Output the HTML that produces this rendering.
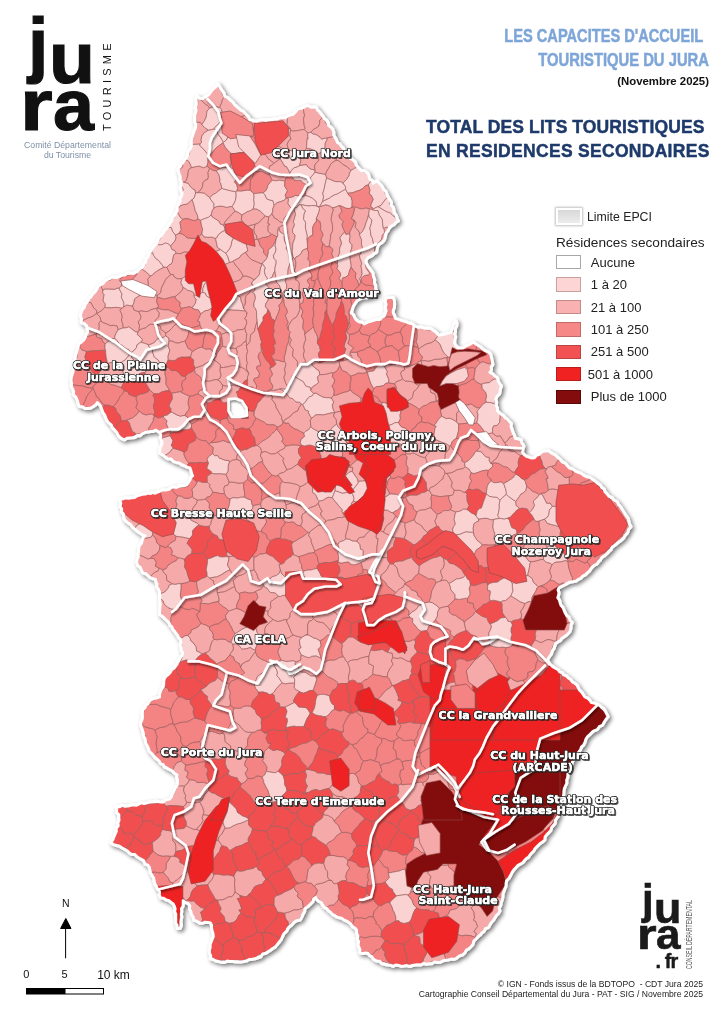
<!DOCTYPE html>
<html><head><meta charset="utf-8"><style>
html,body{margin:0;padding:0;background:#fff}
body{width:724px;height:1024px;position:relative;overflow:hidden;font-family:"Liberation Sans",Arial,sans-serif}
.a{position:absolute;white-space:nowrap}
</style></head><body>
<svg width="724" height="1024" viewBox="0 0 724 1024" style="position:absolute;left:0;top:0">
<defs>
<filter id="sh" x="-10%" y="-10%" width="120%" height="120%"><feGaussianBlur in="SourceAlpha" stdDeviation="2.2"/><feOffset dx="1.8" dy="2.4"/><feComponentTransfer><feFuncA type="linear" slope="0.55"/></feComponentTransfer><feMerge><feMergeNode/><feMergeNode in="SourceGraphic"/></feMerge></filter>
<filter id="sh2" x="-10%" y="-10%" width="120%" height="120%"><feGaussianBlur in="SourceAlpha" stdDeviation="1.2"/><feOffset dx="1" dy="1.5"/><feComponentTransfer><feFuncA type="linear" slope="0.5"/></feComponentTransfer><feMerge><feMergeNode/><feMergeNode in="SourceGraphic"/></feMerge></filter>
<polygon id="ol" points="217.5,84.0 219.6,86.9 221.4,90.0 223.6,93.1 224.8,96.6 227.6,97.8 229.7,100.0 232.5,102.2 234.7,105.0 238.0,108.0 240.2,110.1 243.0,111.5 246.3,115.0 248.3,117.1 249.6,119.8 252.2,120.4 254.6,121.4 257.4,121.2 260.1,120.4 262.9,119.8 266.2,120.6 269.5,119.8 272.8,119.8 275.3,119.2 277.8,119.2 280.2,118.0 282.8,118.1 285.5,118.0 287.7,116.2 290.2,115.4 292.7,114.8 295.1,112.8 297.0,110.4 299.0,108.7 301.6,108.5 304.0,107.7 306.0,106.0 308.5,106.1 310.9,107.6 313.5,107.3 316.0,107.6 317.2,110.1 319.2,112.0 320.9,114.2 322.7,116.2 324.0,118.7 326.4,120.4 327.9,122.8 328.5,125.8 330.8,127.5 332.6,129.7 333.5,132.4 333.5,135.4 335.0,138.0 336.3,140.2 337.3,142.7 339.7,144.1 341.0,146.3 343.2,148.4 343.9,151.6 346.7,153.2 348.0,156.0 350.0,158.4 352.6,160.1 355.0,162.0 355.8,164.7 357.3,166.9 359.3,168.9 361.0,171.0 363.7,170.7 366.0,172.0 368.1,173.9 368.8,176.6 369.7,179.3 372.2,180.9 373.0,183.6 377.0,181.0 378.7,183.1 380.8,185.0 382.2,187.4 383.5,189.8 385.8,191.9 386.9,194.8 388.1,197.6 389.7,200.2 391.1,202.5 390.9,205.3 393.0,207.4 393.6,210.0 393.9,212.6 395.7,215.2 396.8,218.1 398.0,220.9 395.5,222.3 393.7,224.7 391.0,225.9 389.0,228.0 387.5,231.0 385.6,233.5 385.2,236.6 384.1,239.7 381.9,242.2 379.2,243.9 377.5,246.6 376.8,249.3 376.4,252.1 373.9,253.4 372.0,255.4 367.6,257.6 365.4,260.9 366.3,263.8 367.6,266.5 369.4,268.6 370.9,270.9 372.7,273.4 373.1,276.4 374.3,279.6 374.2,283.0 375.3,285.7 375.3,288.6 376.5,291.2 376.5,294.0 373.5,295.8 370.0,296.5 367.4,297.4 364.7,297.2 362.1,297.7 357.7,299.9 355.9,301.8 354.5,304.0 353.0,306.2 352.2,308.7 351.0,313.1 353.2,314.9 354.4,317.6 356.2,320.2 358.8,322.0 361.8,322.6 364.3,324.2 368.7,322.0 373.1,320.9 376.3,319.6 379.8,319.8 381.8,317.8 384.2,316.5 385.4,313.8 386.4,310.9 385.6,307.6 386.4,304.3 385.6,301.6 385.9,298.8 388.6,297.7 393.0,297.7 394.1,301.0 394.3,304.3 394.1,307.6 393.0,310.2 393.0,313.1 394.3,315.8 395.2,318.7 398.6,319.7 401.9,320.9 405.3,321.8 408.5,323.1 412.1,324.1 415.1,326.4 417.8,327.5 420.7,327.3 423.8,328.5 427.1,328.6 430.4,328.7 434.5,331.4 436.7,333.4 438.7,335.6 442.1,334.8 445.6,334.2 448.3,333.2 451.1,332.8 452.4,329.4 453.2,325.9 454.5,323.2 455.2,320.4 456.6,323.1 456.5,325.9 455.0,328.5 455.2,331.4 454.6,334.1 455.3,337.0 454.6,339.7 454.3,342.5 455.2,345.2 458.0,348.0 460.8,348.3 463.5,348.0 466.0,346.2 469.0,345.2 473.2,342.5 477.3,345.2 480.3,347.0 482.9,349.4 485.4,351.2 488.4,352.2 490.5,354.6 491.2,357.7 492.0,361.1 492.5,364.6 491.0,367.1 491.2,370.0 489.6,372.5 492.5,374.1 494.8,376.4 497.4,378.3 498.0,381.2 499.3,383.8 501.2,386.1 500.1,388.5 499.9,391.2 499.3,393.8 496.7,396.3 495.4,399.6 496.3,402.4 495.7,405.4 497.0,408.1 497.3,411.0 499.1,412.9 501.1,414.5 503.4,415.7 504.9,417.9 507.0,419.3 508.9,421.5 511.1,423.5 510.7,426.4 511.7,429.1 512.5,431.8 514.0,435.2 515.2,438.7 518.0,439.1 520.8,440.0 521.5,443.1 523.5,445.6 523.1,449.1 522.2,452.5 524.0,454.8 526.3,456.6 529.0,457.4 531.7,458.4 534.6,458.0 536.6,455.7 539.4,454.6 541.5,452.5 544.8,451.2 548.4,451.1 550.6,452.7 552.9,454.1 555.3,455.2 557.4,457.6 560.0,459.4 561.9,462.1 565.1,463.4 567.1,465.9 569.5,468.3 572.8,469.3 575.4,471.4 578.2,472.6 581.2,473.6 583.6,475.7 586.4,477.0 589.6,477.6 592.1,479.4 594.7,481.1 597.3,483.4 600.2,485.2 601.5,487.7 604.0,489.3 604.8,492.2 606.9,494.0 608.5,496.3 611.6,497.7 613.8,500.3 616.8,501.8 618.3,504.8 620.5,507.3 622.3,510.1 624.1,512.9 625.8,515.8 627.8,518.4 628.5,521.2 629.2,524.1 630.6,526.7 628.4,529.2 627.4,532.5 625.1,535.0 623.6,537.7 621.5,539.7 619.1,541.5 616.8,543.3 614.6,545.2 612.1,546.8 610.7,549.6 608.5,551.5 606.6,553.7 604.3,555.6 601.7,557.2 600.2,559.8 598.3,561.5 596.8,563.8 594.4,565.0 592.2,566.6 590.7,568.7 589.2,570.9 587.1,572.7 585.1,574.7 582.6,575.9 580.7,578.1 578.1,579.2 575.6,580.9 572.6,581.5 569.6,581.9 566.9,583.3 564.3,584.7 561.6,586.2 558.8,587.5 557.7,589.9 558.7,592.7 558.3,595.2 557.5,597.7 559.1,600.0 559.9,602.8 560.7,605.5 562.7,607.6 563.8,610.2 564.9,613.0 566.4,615.6 568.8,617.6 569.8,620.5 572.0,622.6 570.7,625.2 570.7,628.1 570.0,630.9 568.3,633.1 566.4,635.0 564.1,636.6 561.8,638.0 560.2,640.4 557.8,641.8 555.5,643.3 554.5,645.9 553.7,648.6 552.0,650.9 551.3,653.7 549.1,656.7 547.2,659.9 548.4,662.1 549.8,664.2 551.6,666.0 553.6,667.5 555.8,668.8 558.1,670.0 559.6,672.2 562.1,673.0 563.6,675.2 566.3,676.2 568.2,678.3 570.6,679.8 572.2,682.2 574.7,683.5 576.9,685.4 578.1,687.9 579.4,690.4 581.5,692.3 583.0,694.6 584.7,697.1 587.6,698.3 589.6,700.4 591.3,702.9 594.2,703.4 596.9,704.5 599.6,705.6 601.4,707.5 603.7,709.0 605.1,711.2 606.4,714.0 607.8,716.7 605.7,719.3 603.9,722.1 602.3,725.0 599.2,726.4 597.2,729.3 594.0,730.5 591.7,732.3 589.6,734.4 587.4,736.3 585.7,738.8 584.9,741.8 583.6,744.6 581.2,746.8 580.2,749.8 578.1,752.4 577.0,755.7 574.7,758.1 572.7,760.6 571.6,763.5 570.4,766.3 569.2,769.2 568.0,771.8 567.6,774.7 567.4,777.5 566.4,780.2 566.5,783.2 565.3,785.8 564.1,788.5 563.6,791.3 563.5,794.2 562.8,796.9 562.3,799.7 560.9,802.3 560.2,805.1 558.7,807.6 558.4,810.5 558.1,813.4 558.0,816.1 556.4,818.2 555.0,820.4 555.0,823.1 553.4,825.2 551.4,827.3 550.6,830.2 548.7,832.4 546.6,834.4 544.9,836.7 544.5,839.8 542.3,841.8 540.1,843.2 538.2,845.0 536.4,846.9 534.6,848.9 533.3,851.2 531.3,852.9 529.7,855.0 528.2,857.1 525.9,858.5 524.2,860.5 522.5,862.5 520.2,863.9 517.6,865.4 515.6,867.6 513.6,869.7 511.9,872.2 510.4,875.2 508.8,878.1 506.4,880.5 505.8,883.3 505.7,886.2 504.6,888.8 503.6,891.5 502.7,894.2 502.6,897.1 501.9,899.9 500.9,902.6 500.5,905.4 498.9,908.0 499.6,911.1 498.1,913.6 496.0,915.5 494.6,917.9 493.1,920.2 491.2,922.3 489.8,924.7 488.3,927.4 485.2,928.4 483.8,931.2 481.5,933.0 479.8,935.0 477.8,936.7 476.0,938.5 473.6,940.9 472.7,944.3 470.5,946.8 468.6,948.6 466.2,949.8 465.0,952.3 462.5,954.6 459.3,955.7 456.7,957.8 454.1,959.0 451.2,958.8 448.4,959.6 445.6,959.9 442.9,960.6 440.3,962.0 437.5,962.2 434.5,961.6 432.0,963.4 429.1,963.4 426.4,964.0 423.5,963.1 420.8,964.7 418.0,964.4 415.2,964.8 412.5,965.2 409.8,966.2 406.9,965.3 404.2,965.8 401.4,966.1 398.7,965.1 396.0,964.7 393.0,966.1 390.4,964.9 387.6,964.8 384.7,964.0 381.9,963.3 379.6,960.9 376.6,960.6 374.0,959.3 372.3,956.8 369.8,955.3 368.0,953.0 365.3,952.7 362.6,953.3 360.0,952.6 360.3,949.8 359.1,947.1 358.3,944.4 359.0,941.5 357.5,938.9 358.2,936.0 356.9,933.3 357.0,930.5 355.4,928.0 352.7,926.7 351.2,924.1 349.0,922.2 346.8,920.8 344.2,919.8 342.1,918.1 339.5,917.4 336.9,916.8 334.7,915.1 332.3,914.0 330.7,911.9 328.5,910.4 326.8,908.4 324.4,907.1 322.8,905.0 321.6,902.5 319.2,901.2 317.1,899.6 315.7,897.3 313.5,898.8 312.6,901.6 310.8,903.4 308.9,905.3 306.9,906.9 304.7,908.4 304.3,911.6 302.7,914.2 301.6,917.1 300.0,919.8 296.4,920.5 293.4,922.6 291.8,924.7 289.6,926.2 287.8,928.1 286.3,931.1 283.8,933.4 282.3,936.4 281.0,939.6 278.9,942.1 276.8,944.7 275.0,946.9 272.6,948.3 270.4,950.0 268.0,951.4 265.7,953.0 262.6,953.7 260.6,956.5 257.7,957.6 254.7,958.5 251.9,959.0 249.0,959.3 246.4,960.8 243.6,961.3 240.8,961.6 238.1,961.6 235.3,961.5 232.6,961.2 229.8,961.3 227.1,960.8 224.3,962.2 221.6,961.9 218.8,961.3 215.9,960.8 213.3,959.2 210.5,958.5 211.0,955.8 209.7,953.0 209.6,950.2 210.5,947.5 210.4,944.6 211.5,941.9 212.5,939.2 213.6,936.5 213.3,933.6 212.4,930.9 211.8,928.1 211.9,925.2 210.5,922.6 207.7,922.1 204.9,921.9 202.2,923.0 199.4,922.6 196.8,920.9 193.9,919.8 193.5,916.9 191.7,914.4 191.2,911.5 189.8,908.9 190.1,905.8 188.4,903.3 185.4,902.3 182.9,900.5 182.9,903.3 182.9,906.1 181.2,908.7 181.5,911.5 181.0,914.2 181.5,917.1 180.9,919.8 180.7,922.6 181.2,925.4 180.1,928.1 177.3,928.1 177.4,925.3 175.9,922.7 176.1,919.9 176.0,917.1 176.1,914.3 174.9,911.6 175.4,908.7 174.6,906.0 173.3,903.7 171.2,902.1 169.1,900.5 166.3,899.7 163.8,897.9 160.8,897.7 159.6,895.0 159.8,891.9 158.0,889.4 156.8,886.6 155.2,883.9 154.4,881.1 154.0,878.2 152.5,875.6 150.9,873.1 150.3,870.2 149.7,867.3 148.0,864.9 145.0,863.8 144.0,860.6 141.4,859.1 139.1,857.8 136.8,856.3 135.0,854.2 131.8,854.2 129.5,852.9 127.6,850.8 124.9,849.3 122.2,847.8 119.6,846.0 116.6,845.2 113.6,844.3 111.0,842.5 113.0,840.0 114.1,837.1 115.3,834.2 116.6,831.4 116.4,828.4 118.5,826.0 118.1,823.0 119.3,820.4 119.1,817.6 119.1,814.7 116.8,812.3 117.0,809.4 116.6,806.6 119.4,807.1 122.1,805.7 124.9,806.5 127.7,806.2 130.4,805.7 133.1,805.1 136.0,805.5 138.7,804.5 141.3,803.0 144.3,803.8 147.0,803.2 149.7,802.3 152.5,802.1 155.2,801.6 158.0,801.9 160.7,802.3 163.5,802.3 166.0,800.1 169.5,799.4 171.8,796.8 172.6,793.8 174.2,791.1 175.3,788.2 177.3,785.7 177.7,783.0 177.9,780.2 176.9,777.5 177.3,774.7 174.5,773.0 172.2,770.5 169.1,769.2 167.1,767.7 164.7,766.8 163.4,764.3 160.8,763.6 159.6,761.2 157.7,759.3 155.4,757.5 153.5,755.2 151.5,753.1 149.4,751.0 148.8,748.4 147.7,746.1 146.3,743.8 145.8,741.2 145.3,738.6 143.8,736.3 143.7,733.6 143.0,731.1 142.2,728.6 141.2,726.2 140.8,723.3 142.0,720.7 142.7,718.0 142.7,715.1 142.6,712.3 143.2,709.6 145.2,707.8 146.2,705.3 148.3,703.7 149.4,701.3 151.7,699.5 154.3,698.6 157.2,698.2 159.8,697.2 159.8,694.2 160.7,691.5 161.9,688.9 163.5,686.7 164.0,684.1 164.0,681.3 164.5,678.8 166.0,676.5 168.4,674.7 170.4,672.6 171.8,669.9 174.3,668.2 175.8,666.2 177.3,664.2 177.8,661.5 179.3,659.5 180.5,657.3 182.6,655.7 182.9,652.9 181.5,650.2 181.3,647.5 180.4,644.8 181.1,641.9 180.5,639.2 178.7,637.4 177.8,635.0 176.1,633.1 174.7,631.0 172.9,629.2 172.2,626.7 170.2,625.2 169.2,622.6 167.4,620.8 165.6,619.1 163.8,617.4 162.0,615.7 159.8,614.3 160.0,611.7 160.0,609.1 160.2,606.5 160.6,604.0 160.0,601.4 159.9,598.8 160.2,596.2 159.8,593.6 159.7,591.0 158.5,588.8 156.9,586.6 157.3,583.9 156.1,581.6 155.7,579.1 152.9,578.5 150.3,577.4 148.2,575.3 146.1,573.4 143.2,572.9 141.7,570.2 140.6,567.4 138.0,565.4 137.0,562.5 137.1,559.6 138.6,556.8 138.5,553.8 139.0,551.0 139.0,548.0 139.9,545.4 141.8,543.2 142.5,540.4 143.6,537.8 145.3,535.6 142.5,534.5 140.0,532.8 137.5,531.2 135.3,529.1 132.9,527.3 131.3,524.8 128.8,523.1 126.5,521.2 124.6,519.0 124.0,516.4 123.6,513.8 121.7,511.7 122.0,508.8 120.4,506.6 121.1,503.2 120.0,500.0 122.9,499.2 125.7,498.2 128.7,498.5 131.5,498.1 134.4,497.9 136.9,496.2 139.7,495.4 142.4,494.6 145.3,494.4 147.7,493.3 150.3,493.9 152.7,492.8 155.4,493.5 157.7,492.3 160.3,491.3 162.7,490.1 165.6,490.2 168.4,489.9 170.8,488.3 173.4,487.0 176.5,487.8 179.1,486.5 181.9,486.0 184.7,485.7 187.3,484.2 188.8,482.2 190.2,480.1 191.0,477.6 192.9,475.9 191.8,473.2 191.1,470.3 190.1,467.6 187.2,466.9 184.5,465.5 181.7,464.5 179.3,462.6 176.3,462.1 173.4,461.0 171.1,458.7 167.8,458.4 165.2,456.6 162.7,454.6 159.8,453.0 160.2,450.5 160.3,447.9 161.6,445.6 162.3,443.1 161.9,440.5 160.5,437.9 161.0,434.8 159.8,432.2 155.7,429.7 153.3,431.1 150.6,431.2 147.9,431.6 144.9,432.2 142.3,433.5 140.1,435.5 137.3,435.4 135.0,437.1 132.3,437.5 129.6,437.7 126.9,438.0 124.5,439.5 121.1,438.1 118.6,435.5 117.1,432.5 115.0,430.1 112.7,427.7 111.4,424.6 108.8,422.6 106.9,419.9 105.8,417.2 104.7,414.5 103.0,412.1 102.0,409.2 101.0,406.3 99.3,404.0 97.1,402.3 95.5,404.7 93.2,406.3 90.8,407.7 88.1,408.1 85.4,408.2 82.7,406.4 79.5,406.3 78.4,403.4 77.6,400.4 76.2,397.1 73.7,394.5 73.9,391.7 73.1,389.1 71.7,386.7 71.8,383.5 71.3,380.2 71.7,377.0 72.4,374.6 73.2,372.2 73.6,369.7 73.7,367.2 73.5,364.4 74.2,361.8 75.6,359.4 75.3,356.8 76.2,354.4 76.9,352.0 77.6,349.6 78.3,346.6 79.5,343.8 81.8,342.2 83.8,340.2 85.4,337.9 86.3,334.8 88.0,332.0 87.4,329.1 87.3,326.2 84.8,323.7 81.5,322.3 81.8,319.0 80.7,315.8 81.5,312.5 82.5,309.8 84.6,307.6 85.4,304.7 87.4,302.1 88.9,299.2 91.3,296.9 93.1,294.2 95.4,291.9 97.1,289.1 98.6,286.7 100.7,284.9 103.4,283.7 104.9,281.3 107.4,279.8 110.0,278.5 112.7,277.3 115.8,277.7 118.7,277.2 121.5,275.5 124.5,275.4 127.0,273.8 129.8,273.3 132.9,273.9 135.5,272.6 138.1,271.5 139.3,269.2 141.8,268.0 143.3,266.0 144.6,263.9 145.9,261.7 146.3,259.0 148.3,257.0 149.0,254.5 150.2,252.1 151.8,250.0 153.1,247.8 154.5,245.7 156.7,244.1 157.4,241.5 158.5,239.2 159.9,237.1 161.9,235.4 163.5,232.9 164.9,230.2 167.4,228.3 168.7,225.6 170.2,223.0 172.1,220.6 172.8,217.5 175.0,215.3 176.4,212.6 177.6,209.9 177.4,206.8 178.9,204.2 180.3,201.6 180.3,198.6 181.8,196.0 182.4,193.2 180.8,190.5 180.5,187.8 181.3,184.9 181.6,182.1 180.5,179.4 180.5,176.7 179.6,174.2 178.7,171.7 178.5,169.0 179.6,166.7 180.9,164.5 183.0,163.0 184.4,160.2 186.6,157.9 187.9,155.2 188.4,152.2 190.0,149.6 191.7,146.5 191.6,143.0 191.6,140.1 192.3,137.4 193.3,134.7 194.3,131.3 195.7,128.0 196.1,124.6 194.9,121.4 194.9,118.6 194.9,115.9 195.7,113.2 196.4,110.5 195.6,107.6 196.6,104.9 196.5,102.1 196.1,99.4 196.6,96.6 199.5,98.6 203.0,99.0 205.9,96.9 209.0,94.9 211.5,91.6 213.5,89.1 216.1,87.0"/>
<clipPath id="clip"><use href="#ol"/></clipPath>
</defs>
<use href="#ol" fill="#f6a9a9" stroke="#fff" stroke-width="3.6" stroke-linejoin="round" filter="url(#sh)"/>
<g clip-path="url(#clip)">
<polygon points="93.0,388.5 92.6,387.6 90.0,387.9 86.0,387.1 82.9,385.9 81.7,385.6 78.9,385.6 74.1,384.9 71.4,383.9 70.7,387.2 73.7,389.8 73.2,394.8 75.2,398.7 77.4,400.2 79.7,404.8 81.1,408.2 81.4,408.1 83.0,405.4 84.1,402.7 85.3,400.7 86.3,397.7 88.6,393.6 91.6,390.4" fill="#f48383" stroke="#9c6262" stroke-opacity="0.85" stroke-width="0.8"/>
<polygon points="83.4,365.0 86.2,361.2 84.9,356.8 86.0,353.3 86.9,351.5 82.0,349.9 79.9,346.7 81.2,343.1 80.4,343.7 77.7,347.3 76.1,350.4 77.3,352.7 77.5,355.5 76.0,359.7 74.4,362.9 73.3,365.9 73.2,367.0 77.9,365.5 81.2,365.9" fill="#f6a9a9" stroke="#9c6262" stroke-opacity="0.85" stroke-width="0.8"/>
<polygon points="96.2,334.1 99.0,329.8 99.3,326.1 98.9,323.2 101.1,320.5 99.9,316.7 96.7,313.5 96.7,313.5 95.3,314.1 93.0,316.0 90.0,317.3 88.4,317.6 85.3,319.2 81.3,321.2 80.8,322.9 82.2,325.5 88.0,325.8 87.1,332.0 85.4,336.5 88.7,336.3 93.4,334.8" fill="#f6a9a9" stroke="#9c6262" stroke-opacity="0.85" stroke-width="0.8"/>
<polygon points="133.9,837.2 133.8,835.7 131.7,833.1 127.5,833.7 123.9,833.0 123.1,830.3 121.3,828.1 119.1,825.3 115.5,831.8 114.8,834.1 114.5,836.4 111.9,840.1 109.3,844.2 113.2,844.4 117.5,844.2 121.0,846.4 125.2,847.9 126.4,848.1 130.9,844.5 131.1,844.8 131.0,843.0" fill="#f14f4f" stroke="#9c6262" stroke-opacity="0.85" stroke-width="0.8"/>
<polygon points="93.0,388.5 95.3,393.1 96.2,396.4 97.9,397.4 100.9,401.4 102.9,404.2 105.1,405.3 108.1,405.2 110.6,406.1 113.3,406.7 116.1,403.6 118.8,399.3 120.0,396.7 122.3,394.3 124.3,390.6 121.2,387.6 118.8,386.7 115.0,385.2 111.6,384.6 110.2,383.9 107.8,381.9 104.0,380.4 101.4,380.7 99.3,380.3 97.0,382.5 93.9,385.4 92.6,387.6" fill="#f48383" stroke="#9c6262" stroke-opacity="0.85" stroke-width="0.8"/>
<polygon points="83.4,365.0 81.2,365.9 77.9,365.5 73.2,367.0 72.7,372.0 71.8,376.0 71.3,377.5 72.7,379.2 71.4,383.9 74.1,384.9 78.9,385.6 81.7,385.6 82.9,385.9 86.0,387.1 90.0,387.9 92.6,387.6 93.9,385.4 97.0,382.5 99.3,380.3 98.5,377.0 98.1,374.5 95.2,374.3 92.1,371.5 90.1,367.2 86.1,365.8" fill="#f48383" stroke="#9c6262" stroke-opacity="0.85" stroke-width="0.8"/>
<polygon points="98.1,374.5 99.7,371.9 101.8,368.7 103.0,366.9 104.7,365.6 107.6,363.3 106.2,357.3 105.7,352.7 105.6,350.5 102.0,350.2 97.5,350.6 93.5,350.6 89.9,351.0 86.9,351.5 86.0,353.3 84.9,356.8 86.2,361.2 83.4,365.0 86.1,365.8 90.1,367.2 92.1,371.5 95.2,374.3" fill="#f14f4f" stroke="#9c6262" stroke-opacity="0.85" stroke-width="0.8"/>
<polygon points="96.7,313.5 101.2,311.0 104.9,307.3 105.4,303.9 103.1,301.0 103.5,297.8 104.2,294.5 102.6,292.7 102.9,290.2 101.0,286.1 97.2,289.8 95.4,292.5 92.9,295.3 90.1,297.3 89.0,299.0 87.7,301.9 91.3,303.1 92.6,306.1 93.9,308.2 96.6,310.5 96.7,313.5" fill="#f6a9a9" stroke="#9c6262" stroke-opacity="0.85" stroke-width="0.8"/>
<polygon points="96.7,313.5 96.6,310.5 93.9,308.2 92.6,306.1 91.3,303.1 87.7,301.9 85.5,304.5 84.5,307.2 81.8,312.5 80.6,317.8 81.3,321.2 85.3,319.2 88.4,317.6 90.0,317.3 93.0,316.0 95.3,314.1" fill="#f6a9a9" stroke="#9c6262" stroke-opacity="0.85" stroke-width="0.8"/>
<polygon points="96.2,334.1 96.5,336.9 101.7,338.8 103.1,342.0 105.1,343.8 109.7,340.6 112.4,338.7 114.9,338.3 114.7,337.2 115.5,334.3 118.2,329.7 117.1,325.9 113.3,325.2 110.4,325.6 106.9,323.9 102.0,322.2 101.1,320.5 98.9,323.2 99.3,326.1 99.0,329.8" fill="#f6a9a9" stroke="#9c6262" stroke-opacity="0.85" stroke-width="0.8"/>
<polygon points="144.5,515.6 144.9,513.2 144.7,509.3 139.9,507.8 137.1,506.6 135.4,506.1 131.7,506.1 127.3,505.2 125.3,503.2 123.4,502.5 120.1,503.9 121.1,505.8 120.9,511.3 122.2,514.2 124.2,514.6 123.7,517.8 128.8,522.4 130.4,526.2 133.9,528.1 135.2,528.3 136.6,525.7 139.7,523.8 142.2,520.0" fill="#f6a9a9" stroke="#9c6262" stroke-opacity="0.85" stroke-width="0.8"/>
<polygon points="105.1,405.3 102.9,404.2 100.9,401.4 97.9,397.4 96.2,396.4 95.3,393.1 93.0,388.5 91.6,390.4 88.6,393.6 86.3,397.7 85.3,400.7 84.1,402.7 83.0,405.4 81.4,408.1 84.6,406.9 90.0,407.8 93.3,407.8 99.2,402.8 101.9,406.0 102.0,407.3" fill="#f48383" stroke="#9c6262" stroke-opacity="0.85" stroke-width="0.8"/>
<polygon points="99.3,380.3 101.4,380.7 104.0,380.4 107.8,381.9 110.2,383.9 111.6,384.6 115.0,385.2 118.8,386.7 121.2,387.6 122.9,384.4 125.4,381.2 123.5,377.5 122.8,376.0 123.6,372.9 121.3,368.8 120.7,366.4 120.5,363.2 116.1,362.6 112.8,362.3 110.8,362.6 107.6,363.3 104.7,365.6 103.0,366.9 101.8,368.7 99.7,371.9 98.1,374.5 98.5,377.0" fill="#f6a9a9" stroke="#9c6262" stroke-opacity="0.85" stroke-width="0.8"/>
<polygon points="86.9,351.5 89.9,351.0 93.5,350.6 97.5,350.6 102.0,350.2 105.6,350.5 104.9,347.9 105.1,343.8 103.1,342.0 101.7,338.8 96.5,336.9 96.2,334.1 93.4,334.8 88.7,336.3 85.4,336.5 86.3,337.8 84.0,340.1 81.2,343.1 79.9,346.7 82.0,349.9" fill="#f48383" stroke="#9c6262" stroke-opacity="0.85" stroke-width="0.8"/>
<polygon points="105.6,350.5 105.7,352.7 106.2,357.3 107.6,363.3 110.8,362.6 112.8,362.3 116.1,362.6 120.5,363.2 122.6,361.5 125.0,360.1 128.4,356.1 130.8,352.6 128.6,349.2 128.1,349.6 125.0,347.8 121.6,345.1 119.5,344.3 117.6,341.1 114.9,338.3 112.4,338.7 109.7,340.6 105.1,343.8 104.9,347.9" fill="#fad2d2" stroke="#9c6262" stroke-opacity="0.85" stroke-width="0.8"/>
<polygon points="104.9,307.3 106.7,307.7 111.4,307.9 115.7,307.3 118.7,307.8 122.0,308.3 123.9,306.8 123.8,302.4 121.3,297.2 122.0,293.9 120.4,291.1 119.0,288.0 116.7,288.3 114.8,289.3 109.6,289.0 105.0,288.9 102.9,290.2 102.6,292.7 104.2,294.5 103.5,297.8 103.1,301.0 105.4,303.9" fill="#fad2d2" stroke="#9c6262" stroke-opacity="0.85" stroke-width="0.8"/>
<polygon points="201.9,124.5 204.2,121.2 206.3,116.9 206.7,113.1 207.1,110.9 209.7,108.2 207.9,105.7 204.3,103.3 203.0,101.6 198.9,98.5 195.2,97.6 197.8,100.0 197.5,106.0 194.8,109.6 196.8,111.7 195.4,116.9 193.5,121.5 194.0,122.2 200.2,122.4" fill="#f6a9a9" stroke="#9c6262" stroke-opacity="0.85" stroke-width="0.8"/>
<polygon points="96.7,313.5 99.9,316.7 101.1,320.5 102.0,322.2 106.9,323.9 110.4,325.6 113.3,325.2 117.1,325.9 118.2,329.7 123.4,327.8 122.6,323.2 121.4,320.0 122.3,317.2 121.5,313.4 119.9,310.4 122.0,308.3 118.7,307.8 115.7,307.3 111.4,307.9 106.7,307.7 104.9,307.3 101.2,311.0" fill="#f6a9a9" stroke="#9c6262" stroke-opacity="0.85" stroke-width="0.8"/>
<polygon points="127.1,811.0 127.6,806.0 123.1,807.0 120.7,806.6 117.4,806.6 116.5,810.1 116.3,813.1 117.7,816.6 118.8,819.1 121.1,816.7 123.7,814.3 124.9,813.0" fill="#f14f4f" stroke="#9c6262" stroke-opacity="0.85" stroke-width="0.8"/>
<polygon points="102.0,407.3 102.4,411.6 106.7,415.9 105.3,420.6 110.1,422.2 113.0,424.9 113.0,428.8 113.4,429.4 115.7,426.6 118.7,423.0 120.7,421.5 121.4,420.8 121.2,419.4 120.2,415.6 116.5,411.3 115.6,408.1 113.3,406.7 110.6,406.1 108.1,405.2 105.1,405.3" fill="#f14f4f" stroke="#9c6262" stroke-opacity="0.85" stroke-width="0.8"/>
<polygon points="113.4,429.4 115.6,431.8 115.8,433.2 118.2,434.0 121.4,436.7 123.4,440.3 128.6,438.2 131.8,436.8 136.3,434.0 134.4,432.5 132.3,431.4 131.3,428.3 130.2,425.9 129.6,423.1 127.1,420.2 121.4,420.8 120.7,421.5 118.7,423.0 115.7,426.6" fill="#f14f4f" stroke="#9c6262" stroke-opacity="0.85" stroke-width="0.8"/>
<polygon points="150.3,276.0 152.2,275.2 155.0,272.6 158.6,270.1 160.7,269.0 164.5,267.0 163.3,266.9 162.0,264.6 158.6,260.5 155.9,258.5 153.6,255.4 153.0,253.2 152.1,253.1 151.5,253.2 147.9,253.9 144.7,257.7 145.1,262.5 145.5,264.8 143.0,266.3 140.2,268.9 142.2,269.4 145.8,271.8" fill="#fad2d2" stroke="#9c6262" stroke-opacity="0.85" stroke-width="0.8"/>
<polygon points="170.7,245.9 175.0,241.0 176.1,237.6 175.4,234.9 172.7,231.5 171.3,227.4 167.8,227.8 166.2,229.6 163.6,231.3 162.1,234.3 160.3,238.8 158.0,241.5 155.5,243.8 158.7,245.0 162.2,244.6 165.4,243.1 167.7,243.6" fill="#fad2d2" stroke="#9c6262" stroke-opacity="0.85" stroke-width="0.8"/>
<polygon points="102.9,290.2 105.0,288.9 109.6,289.0 114.8,289.3 116.7,288.3 119.0,288.0 121.9,285.7 121.6,282.8 119.6,280.7 120.7,278.0 118.2,278.0 114.2,277.5 110.5,280.1 104.3,280.6 102.3,282.2 101.0,286.1" fill="#f6a9a9" stroke="#9c6262" stroke-opacity="0.85" stroke-width="0.8"/>
<polygon points="183.5,182.3 186.2,180.6 187.7,175.9 188.4,170.7 189.9,168.5 191.6,167.6 190.8,165.5 189.0,161.5 184.8,158.9 182.9,162.5 182.6,167.4 179.6,169.2 177.1,170.7 179.9,174.8 181.2,179.9 179.1,182.4" fill="#f6a9a9" stroke="#9c6262" stroke-opacity="0.85" stroke-width="0.8"/>
<polygon points="118.2,329.7 115.5,334.3 114.7,337.2 114.9,338.3 117.6,341.1 119.5,344.3 121.6,345.1 125.0,347.8 128.1,349.6 128.6,349.2 130.8,352.6 131.0,352.7 134.7,349.9 136.6,347.3 136.9,344.9 140.7,342.3 142.7,339.9 140.5,337.3 137.3,334.5 138.1,331.8 135.7,331.8 131.7,328.8 128.8,326.6 126.5,327.6 123.4,327.8" fill="#fad2d2" stroke="#9c6262" stroke-opacity="0.85" stroke-width="0.8"/>
<polygon points="122.0,308.3 119.9,310.4 121.5,313.4 122.3,317.2 121.4,320.0 122.6,323.2 123.4,327.8 126.5,327.6 128.8,326.6 131.7,328.8 135.7,331.8 138.1,331.8 139.1,330.3 139.5,325.5 138.2,321.6 140.2,319.7 141.1,316.5 138.8,311.6 136.0,310.7 134.3,310.3 132.5,306.1 126.6,304.9 123.9,306.8" fill="#f6a9a9" stroke="#9c6262" stroke-opacity="0.85" stroke-width="0.8"/>
<polygon points="113.3,406.7 115.6,408.1 116.5,411.3 120.2,415.6 121.2,419.4 121.4,420.8 127.1,420.2 130.1,418.9 132.5,418.0 137.0,414.4 139.3,411.0 136.0,407.9 136.3,406.6 137.6,403.2 136.3,399.2 136.3,396.5 132.6,395.7 128.8,394.2 128.6,392.2 124.3,390.6 122.3,394.3 120.0,396.7 118.8,399.3 116.1,403.6" fill="#f48383" stroke="#9c6262" stroke-opacity="0.85" stroke-width="0.8"/>
<polygon points="126.4,848.1 126.5,849.1 129.3,853.2 133.3,854.7 134.7,855.6 138.7,858.7 142.4,860.0 144.0,862.7 147.6,858.3 148.8,857.0 149.6,855.4 153.2,851.4 152.4,843.4 150.1,843.0 146.0,844.5 140.7,842.8 139.9,840.2 138.3,839.5 133.9,837.2 131.0,843.0 131.1,844.8 130.9,844.5" fill="#f14f4f" stroke="#9c6262" stroke-opacity="0.85" stroke-width="0.8"/>
<polygon points="120.5,363.2 120.7,366.4 121.3,368.8 123.6,372.9 122.8,376.0 123.5,377.5 125.4,381.2 129.3,379.6 132.0,377.6 133.6,377.1 136.8,376.0 139.1,373.9 140.9,373.1 144.8,372.6 145.5,371.9 145.7,369.7 142.3,366.8 139.1,364.7 138.4,362.6 133.9,360.1 132.1,357.7 131.0,352.7 130.8,352.6 128.4,356.1 125.0,360.1 122.6,361.5" fill="#fad2d2" stroke="#9c6262" stroke-opacity="0.85" stroke-width="0.8"/>
<polygon points="124.3,390.6 128.6,392.2 128.8,394.2 132.6,395.7 136.3,396.5 139.5,394.4 142.3,394.0 147.1,392.4 149.9,390.0 148.3,387.2 145.6,382.8 146.5,379.4 146.8,376.1 144.8,372.6 140.9,373.1 139.1,373.9 136.8,376.0 133.6,377.1 132.0,377.6 129.3,379.6 125.4,381.2 122.9,384.4 121.2,387.6" fill="#f14f4f" stroke="#9c6262" stroke-opacity="0.85" stroke-width="0.8"/>
<polygon points="119.0,288.0 120.4,291.1 122.0,293.9 121.3,297.2 123.8,302.4 123.9,306.8 126.6,304.9 132.5,306.1 134.0,302.7 134.6,299.0 137.7,296.7 140.5,295.0 141.7,292.3 139.1,289.8 136.1,287.6 134.9,286.6 130.8,283.3 126.2,282.9 123.5,284.3 121.9,285.7" fill="#fad2d2" stroke="#9c6262" stroke-opacity="0.85" stroke-width="0.8"/>
<polygon points="121.9,285.7 123.5,284.3 126.2,282.9 130.8,283.3 131.1,280.8 133.2,278.4 136.3,275.4 137.8,271.9 133.9,272.6 130.6,274.5 128.0,275.5 124.2,275.8 120.7,278.0 119.6,280.7 121.6,282.8" fill="#f48383" stroke="#9c6262" stroke-opacity="0.85" stroke-width="0.8"/>
<polygon points="118.8,819.1 119.4,820.1 119.1,825.3 121.3,828.1 123.1,830.3 123.9,833.0 127.5,833.7 131.7,833.1 133.8,835.7 135.2,832.6 136.6,831.0 140.5,827.6 142.6,823.8 142.6,821.6 142.4,816.4 139.2,815.7 135.8,814.8 133.8,812.5 130.8,811.0 127.1,811.0 124.9,813.0 123.7,814.3 121.1,816.7" fill="#f14f4f" stroke="#9c6262" stroke-opacity="0.85" stroke-width="0.8"/>
<polygon points="138.1,331.8 137.3,334.5 140.5,337.3 142.7,339.9 140.7,342.3 144.7,343.3 148.6,344.9 152.0,343.8 155.0,342.1 157.1,339.2 160.8,337.8 163.8,337.3 165.6,335.8 165.8,332.8 161.1,329.5 160.7,326.5 156.6,324.1 154.2,324.3 150.4,324.1 147.9,325.6 146.0,327.6 142.4,328.6 139.1,330.3" fill="#f6a9a9" stroke="#9c6262" stroke-opacity="0.85" stroke-width="0.8"/>
<polygon points="133.9,837.2 138.3,839.5 139.9,840.2 140.7,842.8 146.0,844.5 150.1,843.0 152.4,843.4 152.5,842.3 154.2,841.3 158.4,838.1 160.8,834.8 160.6,833.4 161.0,832.3 162.6,829.4 162.5,825.4 160.5,825.6 155.8,825.4 152.0,822.7 150.9,820.3 147.9,820.9 142.6,821.6 142.6,823.8 140.5,827.6 136.6,831.0 135.2,832.6 133.8,835.7" fill="#f14f4f" stroke="#9c6262" stroke-opacity="0.85" stroke-width="0.8"/>
<polygon points="138.8,311.6 140.8,310.9 144.7,311.5 147.8,311.6 150.7,309.9 154.9,308.6 157.9,308.1 158.5,306.0 156.8,302.0 157.1,297.3 157.6,295.1 154.4,295.0 152.0,292.0 149.7,290.0 145.8,290.6 141.7,292.3 140.5,295.0 137.7,296.7 134.6,299.0 134.0,302.7 132.5,306.1 134.3,310.3 136.0,310.7" fill="#f6a9a9" stroke="#9c6262" stroke-opacity="0.85" stroke-width="0.8"/>
<polygon points="136.3,434.0 139.9,433.7 143.2,432.3 147.5,430.8 148.9,431.4 148.8,428.1 151.9,423.3 153.7,420.2 153.1,419.3 154.4,416.4 154.1,415.8 151.9,413.8 149.6,414.2 145.9,414.9 142.3,413.5 139.3,411.0 137.0,414.4 132.5,418.0 130.1,418.9 127.1,420.2 129.6,423.1 130.2,425.9 131.3,428.3 132.3,431.4 134.4,432.5" fill="#f6a9a9" stroke="#9c6262" stroke-opacity="0.85" stroke-width="0.8"/>
<polygon points="131.0,352.7 132.1,357.7 133.9,360.1 138.4,362.6 139.1,364.7 142.3,366.8 145.7,369.7 145.5,371.9 148.4,369.7 151.6,368.6 156.1,367.9 158.8,365.7 162.0,364.5 158.8,361.1 158.2,360.0 154.2,356.9 152.7,352.3 152.6,349.0 149.0,347.1 148.6,344.9 144.7,343.3 140.7,342.3 136.9,344.9 136.6,347.3 134.7,349.9" fill="#fad2d2" stroke="#9c6262" stroke-opacity="0.85" stroke-width="0.8"/>
<polygon points="144.7,509.3 145.4,506.3 146.5,502.9 149.5,501.5 152.0,501.4 153.4,498.7 153.7,492.3 149.1,494.0 144.5,494.1 141.1,495.6 139.9,497.1 137.2,497.1 133.6,498.0 130.7,500.1 124.4,500.8 120.9,502.2 120.1,503.9 123.4,502.5 125.3,503.2 127.3,505.2 131.7,506.1 135.4,506.1 137.1,506.6 139.9,507.8" fill="#f6a9a9" stroke="#9c6262" stroke-opacity="0.85" stroke-width="0.8"/>
<polygon points="127.1,811.0 130.8,811.0 133.8,812.5 135.8,814.8 139.2,815.7 142.4,816.4 144.5,813.1 144.9,810.1 144.6,808.8 146.2,807.3 148.6,803.4 145.3,803.6 142.2,803.1 139.4,804.0 135.3,805.9 132.2,806.3 127.6,806.0" fill="#f14f4f" stroke="#9c6262" stroke-opacity="0.85" stroke-width="0.8"/>
<polygon points="139.3,411.0 142.3,413.5 145.9,414.9 149.6,414.2 151.9,413.8 154.1,415.8 155.0,411.0 153.8,408.5 153.4,406.0 154.8,401.3 154.2,397.1 152.7,395.5 154.2,393.8 149.9,390.0 147.1,392.4 142.3,394.0 139.5,394.4 136.3,396.5 136.3,399.2 137.6,403.2 136.3,406.6 136.0,407.9" fill="#f48383" stroke="#9c6262" stroke-opacity="0.85" stroke-width="0.8"/>
<polygon points="173.4,448.2 171.2,445.1 172.3,443.3 173.0,440.4 170.0,435.5 166.2,436.8 163.9,437.2 162.7,437.7 162.1,441.1 161.8,443.7 160.8,447.0 159.5,450.2 159.1,452.3 163.9,456.0 167.4,454.1 170.6,451.4 171.7,449.6" fill="#fad2d2" stroke="#9c6262" stroke-opacity="0.85" stroke-width="0.8"/>
<polygon points="159.2,568.1 155.3,566.1 156.4,562.8 154.2,558.5 150.3,558.3 148.2,559.0 143.3,556.6 139.0,555.0 137.1,555.9 137.1,558.7 137.8,562.4 138.5,566.2 139.0,567.6 142.7,570.1 144.1,573.6 147.1,573.5 150.9,576.1 154.1,572.7 158.2,570.9" fill="#f6a9a9" stroke="#9c6262" stroke-opacity="0.85" stroke-width="0.8"/>
<polygon points="144.5,515.6 148.0,519.4 150.3,524.0 153.4,525.3 156.1,527.8 158.5,527.0 162.2,526.4 165.3,526.5 166.9,525.3 169.5,523.0 173.9,518.4 170.9,513.9 169.1,511.9 166.1,511.9 162.6,508.3 159.4,505.4 156.4,504.3 154.4,502.2 152.0,501.4 149.5,501.5 146.5,502.9 145.4,506.3 144.7,509.3 144.9,513.2" fill="#f6a9a9" stroke="#9c6262" stroke-opacity="0.85" stroke-width="0.8"/>
<polygon points="135.2,528.3 136.3,529.8 137.7,531.0 141.1,532.9 145.2,536.6 144.3,538.6 147.9,538.0 151.0,537.2 152.5,535.1 152.6,532.7 155.0,530.6 156.1,527.8 153.4,525.3 150.3,524.0 148.0,519.4 144.5,515.6 142.2,520.0 139.7,523.8 136.6,525.7" fill="#fad2d2" stroke="#9c6262" stroke-opacity="0.85" stroke-width="0.8"/>
<polygon points="169.0,893.1 169.8,890.4 172.9,886.8 173.0,883.0 169.5,881.3 168.5,878.2 165.4,874.8 163.4,872.3 159.9,872.9 157.2,872.5 154.9,871.9 151.6,872.2 151.2,875.3 153.1,880.0 154.7,884.9 156.6,887.9 157.5,890.0 159.6,893.1 159.9,899.1 161.6,899.2 164.9,896.5 167.5,894.6" fill="#f48383" stroke="#9c6262" stroke-opacity="0.85" stroke-width="0.8"/>
<polygon points="157.6,295.1 160.5,292.9 161.0,291.3 161.4,288.3 163.6,283.7 165.4,280.1 166.3,278.5 168.4,277.0 170.6,274.6 166.9,267.3 164.5,267.0 160.7,269.0 158.6,270.1 155.0,272.6 152.2,275.2 150.3,276.0 148.9,277.9 147.6,279.2 148.3,284.3 148.9,288.7 149.7,290.0 152.0,292.0 154.4,295.0" fill="#f6a9a9" stroke="#9c6262" stroke-opacity="0.85" stroke-width="0.8"/>
<polygon points="141.7,292.3 145.8,290.6 149.7,290.0 148.9,288.7 148.3,284.3 147.6,279.2 148.9,277.9 150.3,276.0 145.8,271.8 142.2,269.4 140.2,268.9 139.3,271.7 137.8,271.9 136.3,275.4 133.2,278.4 131.1,280.8 130.8,283.3 134.9,286.6 136.1,287.6 139.1,289.8" fill="#f6a9a9" stroke="#9c6262" stroke-opacity="0.85" stroke-width="0.8"/>
<polygon points="144.3,538.6 142.6,541.1 140.4,544.2 139.2,547.2 139.0,551.8 137.1,555.9 139.0,555.0 143.3,556.6 148.2,559.0 150.3,558.3 152.0,556.2 157.0,553.9 159.5,549.9 160.0,545.5 156.3,542.2 156.7,541.2 155.5,537.9 152.5,535.1 151.0,537.2 147.9,538.0" fill="#f6a9a9" stroke="#9c6262" stroke-opacity="0.85" stroke-width="0.8"/>
<polygon points="157.1,752.7 157.3,749.5 156.7,747.5 156.2,743.9 156.7,738.9 157.4,736.3 156.3,734.4 155.1,730.4 153.2,728.9 149.2,728.0 144.5,726.6 143.3,725.3 142.6,725.7 142.1,726.0 141.1,729.0 143.6,733.7 145.1,735.1 144.8,737.1 147.1,741.7 147.4,745.7 147.6,748.3 149.3,750.1 150.5,752.3 153.0,756.1" fill="#f48383" stroke="#9c6262" stroke-opacity="0.85" stroke-width="0.8"/>
<polygon points="145.5,371.9 144.8,372.6 146.8,376.1 146.5,379.4 145.6,382.8 148.3,387.2 149.9,390.0 154.2,393.8 158.6,393.8 161.5,392.1 165.1,391.1 169.6,390.3 168.6,388.6 166.0,384.4 166.1,379.4 165.9,376.8 165.0,374.2 165.3,369.8 166.4,366.8 165.5,365.4 162.0,364.5 158.8,365.7 156.1,367.9 151.6,368.6 148.4,369.7" fill="#f6a9a9" stroke="#9c6262" stroke-opacity="0.85" stroke-width="0.8"/>
<polygon points="139.1,330.3 142.4,328.6 146.0,327.6 147.9,325.6 150.4,324.1 154.2,324.3 156.6,324.1 154.9,320.7 158.7,317.0 159.4,312.9 156.8,309.8 157.8,308.1 157.9,308.1 154.9,308.6 150.7,309.9 147.8,311.6 144.7,311.5 140.8,310.9 138.8,311.6 141.1,316.5 140.2,319.7 138.2,321.6 139.5,325.5" fill="#f6a9a9" stroke="#9c6262" stroke-opacity="0.85" stroke-width="0.8"/>
<polygon points="175.2,609.5 171.4,608.9 168.0,607.6 165.8,605.4 163.9,603.5 163.2,600.9 160.6,598.7 160.0,604.2 157.7,608.2 160.5,609.9 160.9,613.7 161.3,616.0 163.3,618.1 166.7,621.6 169.5,623.5 171.1,621.1 171.0,617.3 173.0,612.5" fill="#f6a9a9" stroke="#9c6262" stroke-opacity="0.85" stroke-width="0.8"/>
<polygon points="142.6,821.6 147.9,820.9 150.9,820.3 152.0,822.7 155.8,825.4 160.5,825.6 162.5,825.4 164.1,820.9 163.2,819.3 163.5,817.2 166.1,812.4 167.4,808.0 166.1,806.3 163.0,801.8 160.5,802.6 155.0,803.8 150.9,803.6 149.2,803.3 148.6,803.4 146.2,807.3 144.6,808.8 144.9,810.1 144.5,813.1 142.4,816.4" fill="#f14f4f" stroke="#9c6262" stroke-opacity="0.85" stroke-width="0.8"/>
<polygon points="153.2,851.4 154.5,852.3 157.7,854.8 162.1,856.3 166.7,856.1 170.6,856.4 174.1,856.2 175.9,851.8 176.0,846.5 175.1,842.9 172.8,840.8 173.1,837.5 173.3,833.4 170.4,830.8 166.9,830.4 162.6,829.4 161.0,832.3 160.6,833.4 160.8,834.8 158.4,838.1 154.2,841.3 152.5,842.3 152.4,843.4" fill="#f6a9a9" stroke="#9c6262" stroke-opacity="0.85" stroke-width="0.8"/>
<polygon points="150.9,576.1 153.7,580.4 156.9,582.1 156.7,584.1 157.5,586.5 160.4,589.9 159.7,593.5 158.9,595.3 161.0,593.5 164.9,591.9 167.9,588.6 169.4,585.0 172.5,583.8 170.5,582.6 166.8,580.3 166.4,575.1 163.4,572.0 162.8,569.8 159.2,568.1 158.2,570.9 154.1,572.7" fill="#f6a9a9" stroke="#9c6262" stroke-opacity="0.85" stroke-width="0.8"/>
<polygon points="181.6,761.2 181.5,757.9 176.8,752.5 173.5,752.7 170.5,753.2 167.7,752.8 163.6,751.6 159.5,751.6 157.1,752.7 153.0,756.1 158.8,759.7 161.6,763.2 163.4,764.4 166.3,768.2 167.8,770.7 171.6,770.6 173.4,769.0 174.3,766.3 176.9,762.7" fill="#f48383" stroke="#9c6262" stroke-opacity="0.85" stroke-width="0.8"/>
<polygon points="162.0,364.5 165.5,365.4 166.9,362.8 168.2,359.9 168.1,355.9 169.3,352.3 169.8,349.9 168.1,346.4 169.1,341.0 168.8,338.0 165.6,335.8 163.8,337.3 160.8,337.8 157.1,339.2 155.0,342.1 152.0,343.8 148.6,344.9 149.0,347.1 152.6,349.0 152.7,352.3 154.2,356.9 158.2,360.0 158.8,361.1" fill="#fad2d2" stroke="#9c6262" stroke-opacity="0.85" stroke-width="0.8"/>
<polygon points="154.4,416.4 158.7,418.0 162.3,417.1 163.5,416.0 167.5,415.0 171.1,412.0 170.9,408.4 169.1,406.2 170.0,403.2 172.4,399.1 172.4,395.7 171.7,393.3 170.2,391.6 169.6,390.3 165.1,391.1 161.5,392.1 158.6,393.8 154.2,393.8 152.7,395.5 154.2,397.1 154.8,401.3 153.4,406.0 153.8,408.5 155.0,411.0 154.1,415.8" fill="#f14f4f" stroke="#9c6262" stroke-opacity="0.85" stroke-width="0.8"/>
<polygon points="157.8,308.1 158.8,308.8 163.7,309.8 168.3,309.9 170.7,310.9 175.2,312.9 178.4,314.1 181.3,309.5 181.2,308.3 179.8,305.7 180.3,302.4 176.4,299.7 175.0,296.7 173.6,296.6 171.5,296.9 167.1,298.3 163.3,298.9 160.5,297.8 157.1,297.3 156.8,302.0 158.5,306.0 157.9,308.1" fill="#f48383" stroke="#9c6262" stroke-opacity="0.85" stroke-width="0.8"/>
<polygon points="152.5,535.1 155.5,537.9 156.7,541.2 156.3,542.2 160.0,545.5 164.4,547.2 166.4,547.7 167.5,546.2 170.6,543.3 175.2,540.4 176.2,536.3 171.5,532.0 172.5,529.7 170.7,525.1 169.5,523.0 166.9,525.3 165.3,526.5 162.2,526.4 158.5,527.0 156.1,527.8 155.0,530.6 152.6,532.7" fill="#f48383" stroke="#9c6262" stroke-opacity="0.85" stroke-width="0.8"/>
<polygon points="148.9,431.4 152.2,431.9 156.2,430.6 158.9,430.1 162.7,437.7 163.9,437.2 166.2,436.8 170.0,435.5 170.5,432.9 170.8,430.9 168.0,427.7 166.3,423.6 167.1,420.7 163.7,417.5 163.5,416.0 162.3,417.1 158.7,418.0 154.4,416.4 153.1,419.3 153.7,420.2 151.9,423.3 148.8,428.1" fill="#f48383" stroke="#9c6262" stroke-opacity="0.85" stroke-width="0.8"/>
<polygon points="155.1,730.4 157.0,729.0 160.6,727.5 164.2,727.2 166.4,726.3 169.5,724.4 173.1,723.8 173.0,722.1 172.5,720.1 171.4,716.7 170.6,713.4 170.7,709.6 168.8,708.5 165.3,707.4 159.8,705.9 156.6,704.3 153.8,704.3 149.4,704.6 146.4,702.7 143.2,706.6 143.7,710.3 144.1,712.0 142.2,714.5 141.3,719.5 142.4,724.0 142.6,725.7 143.3,725.3 144.5,726.6 149.2,728.0 153.2,728.9" fill="#f48383" stroke="#9c6262" stroke-opacity="0.85" stroke-width="0.8"/>
<polygon points="165.6,335.8 168.8,338.0 169.1,341.0 172.3,341.2 175.5,342.8 178.2,343.2 181.5,342.0 185.0,341.2 187.0,338.2 188.2,335.6 188.8,332.2 190.6,327.8 188.5,326.4 184.1,325.2 180.5,323.5 177.5,323.2 176.9,323.5 174.3,325.2 171.5,328.5 169.1,331.0 165.8,332.8" fill="#f6a9a9" stroke="#9c6262" stroke-opacity="0.85" stroke-width="0.8"/>
<polygon points="156.6,324.1 160.7,326.5 161.1,329.5 165.8,332.8 169.1,331.0 171.5,328.5 174.3,325.2 176.9,323.5 177.5,323.2 175.1,320.2 178.4,314.1 175.2,312.9 170.7,310.9 168.3,309.9 163.7,309.8 158.8,308.8 157.8,308.1 156.8,309.8 159.4,312.9 158.7,317.0 154.9,320.7" fill="#f6a9a9" stroke="#9c6262" stroke-opacity="0.85" stroke-width="0.8"/>
<polygon points="184.7,900.4 183.7,898.1 180.0,898.1 176.5,896.2 174.0,893.5 169.0,893.1 167.5,894.6 164.9,896.5 161.6,899.2 166.6,898.3 168.8,899.8 171.0,902.6 175.4,905.2 175.9,911.8 176.5,912.9 175.7,914.6 176.3,921.9 175.8,924.8 175.8,926.8 178.9,927.2 179.0,923.3 182.2,921.6 181.3,918.2 179.2,913.9 182.1,911.9 184.0,909.7 181.4,903.9 182.7,899.1 183.5,902.5" fill="#f6a9a9" stroke="#9c6262" stroke-opacity="0.85" stroke-width="0.8"/>
<polygon points="144.0,862.7 147.7,866.1 150.2,866.8 151.6,872.2 154.9,871.9 157.2,872.5 159.9,872.9 163.4,872.3 166.2,868.7 166.3,866.5 166.4,863.5 169.2,859.4 170.6,856.4 166.7,856.1 162.1,856.3 157.7,854.8 154.5,852.3 153.2,851.4 149.6,855.4 148.8,857.0 147.6,858.3" fill="#f48383" stroke="#9c6262" stroke-opacity="0.85" stroke-width="0.8"/>
<polygon points="170.6,856.4 169.2,859.4 166.4,863.5 166.3,866.5 166.2,868.7 163.4,872.3 165.4,874.8 168.5,878.2 169.5,881.3 173.0,883.0 174.6,881.6 177.6,879.6 180.7,876.7 182.2,875.3 185.2,873.9 188.3,871.0 188.2,870.5 185.4,869.4 185.6,866.6 182.4,863.5 179.9,862.3 180.0,859.7 177.4,857.1 174.1,856.2" fill="#f6a9a9" stroke="#9c6262" stroke-opacity="0.85" stroke-width="0.8"/>
<polygon points="170.7,709.6 172.9,705.3 173.6,702.6 175.3,700.6 178.6,696.9 176.3,693.2 175.9,690.5 171.4,691.5 168.6,691.0 168.4,688.2 164.4,687.2 163.5,689.1 160.0,693.1 159.9,698.1 156.1,698.9 152.2,701.0 149.6,701.4 146.4,702.7 149.4,704.6 153.8,704.3 156.6,704.3 159.8,705.9 165.3,707.4 168.8,708.5" fill="#f48383" stroke="#9c6262" stroke-opacity="0.85" stroke-width="0.8"/>
<polygon points="166.1,806.3 170.3,805.6 173.8,805.7 175.6,805.7 178.6,806.0 183.4,806.5 185.5,805.1 186.7,802.4 185.2,798.6 185.8,795.2 184.7,793.6 183.5,790.2 184.6,785.9 180.0,785.7 176.0,787.0 175.6,790.3 174.7,792.3 171.6,796.1 169.3,798.9 165.5,800.4 163.1,801.8 163.0,801.8" fill="#f6a9a9" stroke="#9c6262" stroke-opacity="0.85" stroke-width="0.8"/>
<polygon points="159.2,568.1 162.8,569.8 166.1,568.8 168.0,565.4 172.3,562.5 176.2,560.7 178.2,557.9 174.9,555.8 171.2,554.6 172.6,551.8 170.9,547.8 167.5,546.2 166.4,547.7 164.4,547.2 160.0,545.5 159.5,549.9 157.0,553.9 152.0,556.2 150.3,558.3 154.2,558.5 156.4,562.8 155.3,566.1" fill="#f48383" stroke="#9c6262" stroke-opacity="0.85" stroke-width="0.8"/>
<polygon points="157.1,297.3 160.5,297.8 163.3,298.9 167.1,298.3 171.5,296.9 173.6,296.6 175.0,296.7 179.9,292.9 182.7,289.5 183.0,287.3 180.9,282.5 182.1,278.6 177.4,278.7 174.2,276.8 173.5,274.6 170.6,274.6 168.4,277.0 166.3,278.5 165.4,280.1 163.6,283.7 161.4,288.3 161.0,291.3 160.5,292.9 157.6,295.1" fill="#f6a9a9" stroke="#9c6262" stroke-opacity="0.85" stroke-width="0.8"/>
<polygon points="152.0,501.4 154.4,502.2 156.4,504.3 159.4,505.4 162.6,508.3 166.1,511.9 169.1,511.9 170.9,513.9 173.9,518.4 174.3,518.2 174.0,514.3 174.3,510.3 176.4,506.8 177.1,504.0 176.0,502.0 176.2,499.6 178.2,495.8 175.6,494.2 172.8,490.8 171.8,487.9 171.1,488.0 168.2,488.3 164.2,489.5 160.4,491.6 158.4,492.0 153.7,492.3 153.4,498.7" fill="#f48383" stroke="#9c6262" stroke-opacity="0.85" stroke-width="0.8"/>
<polygon points="162.6,829.4 166.9,830.4 170.4,830.8 174.1,830.5 176.4,829.2 179.6,829.0 184.0,828.4 186.5,826.0 186.2,821.5 184.4,818.0 183.9,816.3 184.1,813.0 184.2,808.6 183.4,806.5 178.6,806.0 175.6,805.7 173.8,805.7 170.3,805.6 166.1,806.3 167.4,808.0 166.1,812.4 163.5,817.2 163.2,819.3 164.1,820.9 162.5,825.4" fill="#f14f4f" stroke="#9c6262" stroke-opacity="0.85" stroke-width="0.8"/>
<polygon points="189.1,463.0 188.2,462.1 185.6,458.6 184.0,454.4 184.3,452.4 181.0,450.6 176.9,449.2 173.4,448.2 171.7,449.6 170.6,451.4 167.4,454.1 163.9,456.0 164.0,456.8 166.1,458.3 171.4,459.6 175.2,460.6 177.3,461.6 180.9,464.6 184.2,465.9 187.2,465.3" fill="#f6a9a9" stroke="#9c6262" stroke-opacity="0.85" stroke-width="0.8"/>
<polygon points="170.0,435.5 173.0,440.4 172.3,443.3 171.2,445.1 173.4,448.2 176.9,449.2 181.0,450.6 184.3,452.4 186.6,450.8 187.9,447.6 188.5,444.1 191.5,442.5 195.1,440.6 196.4,437.0 195.0,433.5 192.7,430.2 191.4,427.0 189.7,429.0 186.3,429.7 182.7,429.6 180.3,430.7 176.5,431.9 172.6,431.9 170.5,432.9" fill="#f14f4f" stroke="#9c6262" stroke-opacity="0.85" stroke-width="0.8"/>
<polygon points="169.6,390.3 170.2,391.6 171.7,393.3 176.6,392.4 181.2,391.6 183.2,389.7 181.6,385.5 182.5,381.3 185.9,378.9 185.4,376.4 181.4,375.8 178.9,372.5 175.9,370.4 172.4,370.6 170.5,369.9 168.8,367.8 166.4,366.8 165.3,369.8 165.0,374.2 165.9,376.8 166.1,379.4 166.0,384.4 168.6,388.6" fill="#f48383" stroke="#9c6262" stroke-opacity="0.85" stroke-width="0.8"/>
<polygon points="155.1,730.4 156.3,734.4 157.4,736.3 156.7,738.9 156.2,743.9 156.7,747.5 157.3,749.5 157.1,752.7 159.5,751.6 163.6,751.6 167.7,752.8 170.5,753.2 173.5,752.7 176.8,752.5 178.8,750.1 181.2,748.2 182.7,745.3 180.4,740.2 181.2,737.6 179.5,734.7 177.3,731.5 176.1,728.4 173.8,724.4 173.1,723.8 169.5,724.4 166.4,726.3 164.2,727.2 160.6,727.5 157.0,729.0" fill="#f48383" stroke="#9c6262" stroke-opacity="0.85" stroke-width="0.8"/>
<polygon points="158.9,595.3 160.6,598.7 163.2,600.9 163.9,603.5 165.8,605.4 168.0,607.6 171.4,608.9 175.2,609.5 178.3,608.2 179.9,606.5 180.6,604.6 182.0,602.4 181.2,598.4 180.3,594.9 180.8,592.4 181.2,588.4 181.2,583.7 178.1,583.6 175.4,584.2 172.5,583.8 169.4,585.0 167.9,588.6 164.9,591.9 161.0,593.5" fill="#fad2d2" stroke="#9c6262" stroke-opacity="0.85" stroke-width="0.8"/>
<polygon points="175.9,690.5 178.3,689.0 178.8,686.9 179.1,682.6 181.1,678.2 180.7,675.9 177.6,674.2 176.9,669.1 174.5,665.7 174.2,666.0 170.9,669.7 170.1,672.6 167.0,676.1 163.4,680.0 162.9,683.8 164.4,687.2 168.4,688.2 168.6,691.0 171.4,691.5" fill="#f14f4f" stroke="#9c6262" stroke-opacity="0.85" stroke-width="0.8"/>
<polygon points="166.9,267.3 169.3,264.7 171.1,264.2 172.4,262.2 173.0,258.1 173.8,254.8 176.3,253.2 175.0,250.6 171.9,249.4 170.7,245.9 167.7,243.6 165.4,243.1 162.2,244.6 158.7,245.0 155.5,243.8 152.8,248.5 151.8,252.6 152.1,253.1 153.0,253.2 153.6,255.4 155.9,258.5 158.6,260.5 162.0,264.6 163.3,266.9 164.5,267.0" fill="#fad2d2" stroke="#9c6262" stroke-opacity="0.85" stroke-width="0.8"/>
<polygon points="175.2,609.5 173.0,612.5 171.0,617.3 171.1,621.1 169.5,623.5 171.2,627.4 174.1,631.4 176.9,632.9 180.8,638.3 183.3,637.3 184.5,635.9 187.7,635.4 190.7,632.9 191.5,629.8 194.6,628.7 198.2,626.9 201.1,623.4 197.9,617.7 196.7,614.2 199.9,611.7 194.5,608.9 191.6,608.2 189.9,609.7 184.9,608.9 179.9,606.5 178.3,608.2" fill="#f48383" stroke="#9c6262" stroke-opacity="0.85" stroke-width="0.8"/>
<polygon points="182.1,278.6 185.2,276.5 186.9,275.6 189.9,274.7 192.9,272.0 190.6,268.1 190.3,264.8 192.7,262.2 190.5,258.8 190.3,254.0 187.4,252.0 184.4,251.8 180.2,253.7 176.3,253.2 173.8,254.8 173.0,258.1 172.4,262.2 171.1,264.2 169.3,264.7 166.9,267.3 170.6,274.6 173.5,274.6 174.2,276.8 177.4,278.7" fill="#f6a9a9" stroke="#9c6262" stroke-opacity="0.85" stroke-width="0.8"/>
<polygon points="173.1,723.8 173.8,724.4 176.0,724.2 179.8,722.7 183.8,722.1 186.3,722.2 190.1,720.5 193.2,718.7 194.8,717.9 194.3,715.9 193.0,712.0 193.9,709.1 193.1,707.0 190.3,703.2 190.2,699.4 186.7,699.5 184.1,698.4 182.3,697.0 178.6,696.9 175.3,700.6 173.6,702.6 172.9,705.3 170.7,709.6 170.6,713.4 171.4,716.7 172.5,720.1 173.0,722.1" fill="#f48383" stroke="#9c6262" stroke-opacity="0.85" stroke-width="0.8"/>
<polygon points="169.5,523.0 170.7,525.1 172.5,529.7 171.5,532.0 176.2,536.3 180.3,537.0 182.7,537.2 185.5,537.9 189.7,538.7 192.7,535.0 192.7,532.9 192.7,530.7 195.8,527.3 198.9,524.9 197.2,523.1 191.2,520.2 190.7,518.4 186.6,518.6 182.7,516.7 179.6,515.7 176.8,517.3 174.3,518.2 173.9,518.4" fill="#fad2d2" stroke="#9c6262" stroke-opacity="0.85" stroke-width="0.8"/>
<polygon points="166.4,366.8 168.8,367.8 170.5,369.9 172.4,370.6 175.9,370.4 178.9,372.5 181.4,375.8 185.4,376.4 188.5,373.3 191.9,372.1 194.6,369.4 195.5,368.0 193.6,364.8 193.7,359.8 192.0,358.8 190.6,356.6 187.3,356.9 185.1,357.1 181.8,356.9 177.6,358.2 175.2,360.3 172.5,360.6 168.2,359.9 166.9,362.8 165.5,365.4" fill="#f14f4f" stroke="#9c6262" stroke-opacity="0.85" stroke-width="0.8"/>
<polygon points="178.2,557.9 180.6,558.3 184.3,559.3 185.9,558.0 187.6,555.8 190.1,554.5 191.8,553.5 192.2,549.6 189.8,546.3 187.1,543.2 189.7,538.7 185.5,537.9 182.7,537.2 180.3,537.0 176.2,536.3 175.2,540.4 170.6,543.3 167.5,546.2 170.9,547.8 172.6,551.8 171.2,554.6 174.9,555.8" fill="#f6a9a9" stroke="#9c6262" stroke-opacity="0.85" stroke-width="0.8"/>
<polygon points="170.5,432.9 172.6,431.9 176.5,431.9 180.3,430.7 182.7,429.6 186.3,429.7 189.7,429.0 191.4,427.0 191.6,424.1 188.2,419.6 187.4,416.9 184.9,415.5 181.9,415.6 181.0,416.3 177.3,415.1 172.7,412.6 171.1,412.0 167.5,415.0 163.5,416.0 163.7,417.5 167.1,420.7 166.3,423.6 168.0,427.7 170.8,430.9" fill="#fad2d2" stroke="#9c6262" stroke-opacity="0.85" stroke-width="0.8"/>
<polygon points="172.5,583.8 175.4,584.2 178.1,583.6 181.2,583.7 184.9,583.2 187.0,582.6 189.8,581.0 188.8,577.6 187.5,574.2 187.0,571.4 185.8,569.2 184.5,566.8 185.1,563.0 184.3,559.3 180.6,558.3 178.2,557.9 176.2,560.7 172.3,562.5 168.0,565.4 166.1,568.8 162.8,569.8 163.4,572.0 166.4,575.1 166.8,580.3 170.5,582.6" fill="#f6a9a9" stroke="#9c6262" stroke-opacity="0.85" stroke-width="0.8"/>
<polygon points="176.3,253.2 180.2,253.7 184.4,251.8 187.4,252.0 190.3,254.0 194.0,251.5 196.1,250.0 196.3,247.4 195.5,244.3 196.6,241.8 198.2,239.2 195.9,238.4 190.9,238.2 186.9,237.7 184.8,235.7 182.1,233.8 178.7,233.5 175.4,234.9 176.1,237.6 175.0,241.0 170.7,245.9 171.9,249.4 175.0,250.6" fill="#f6a9a9" stroke="#9c6262" stroke-opacity="0.85" stroke-width="0.8"/>
<polygon points="175.4,234.9 178.7,233.5 181.3,229.8 180.6,226.1 180.0,222.2 182.9,219.3 181.0,218.3 178.8,214.6 177.2,211.9 176.9,212.4 175.8,214.3 174.4,217.6 170.9,221.1 167.8,223.9 167.8,227.8 171.3,227.4 172.7,231.5" fill="#fad2d2" stroke="#9c6262" stroke-opacity="0.85" stroke-width="0.8"/>
<polygon points="175.9,851.8 178.0,850.9 181.3,850.5 184.8,848.7 187.2,846.6 191.0,846.0 195.7,845.8 195.4,841.4 196.1,839.7 201.2,837.0 201.3,831.7 196.6,829.3 193.9,829.4 189.3,827.4 186.5,826.0 184.0,828.4 179.6,829.0 176.4,829.2 174.1,830.5 170.4,830.8 173.3,833.4 173.1,837.5 172.8,840.8 175.1,842.9 176.0,846.5" fill="#f6a9a9" stroke="#9c6262" stroke-opacity="0.85" stroke-width="0.8"/>
<polygon points="168.2,359.9 172.5,360.6 175.2,360.3 177.6,358.2 181.8,356.9 185.1,357.1 187.3,356.9 190.6,356.6 192.2,351.5 190.0,349.1 188.2,348.4 186.6,344.8 185.0,341.2 181.5,342.0 178.2,343.2 175.5,342.8 172.3,341.2 169.1,341.0 168.1,346.4 169.8,349.9 169.3,352.3 168.1,355.9" fill="#f6a9a9" stroke="#9c6262" stroke-opacity="0.85" stroke-width="0.8"/>
<polygon points="177.5,323.2 180.5,323.5 184.1,325.2 188.5,326.4 190.6,327.8 194.4,327.2 200.2,325.5 199.4,321.4 197.3,321.0 198.5,319.3 200.9,313.8 198.3,309.8 194.9,309.3 192.2,307.8 189.8,306.5 186.2,307.2 181.2,308.3 181.3,309.5 178.4,314.1 175.1,320.2" fill="#f48383" stroke="#9c6262" stroke-opacity="0.85" stroke-width="0.8"/>
<polygon points="179.9,606.5 184.9,608.9 189.9,609.7 191.6,608.2 194.5,608.9 199.9,611.7 200.3,608.0 200.4,603.3 202.3,600.8 200.6,597.9 197.3,593.4 198.6,591.9 197.5,588.2 196.5,582.3 195.9,581.8 189.8,581.0 187.0,582.6 184.9,583.2 181.2,583.7 181.2,588.4 180.8,592.4 180.3,594.9 181.2,598.4 182.0,602.4 180.6,604.6" fill="#f48383" stroke="#9c6262" stroke-opacity="0.85" stroke-width="0.8"/>
<polygon points="171.6,770.6 175.7,773.1 176.1,775.6 176.8,776.7 178.5,781.0 176.4,786.1 176.0,787.0 180.0,785.7 184.6,785.9 187.8,783.2 189.6,779.7 186.5,777.2 188.1,773.0 187.7,771.4 185.0,770.4 185.6,764.9 181.6,761.2 176.9,762.7 174.3,766.3 173.4,769.0" fill="#f6a9a9" stroke="#9c6262" stroke-opacity="0.85" stroke-width="0.8"/>
<polygon points="169.0,893.1 174.0,893.5 176.5,896.2 180.0,898.1 183.7,898.1 184.7,900.4 187.3,900.3 190.4,896.5 191.3,892.8 192.8,889.8 195.7,887.5 197.0,885.9 195.2,883.5 194.7,879.2 190.9,878.1 189.9,875.3 188.3,871.0 185.2,873.9 182.2,875.3 180.7,876.7 177.6,879.6 174.6,881.6 173.0,883.0 172.9,886.8 169.8,890.4" fill="#f6a9a9" stroke="#9c6262" stroke-opacity="0.85" stroke-width="0.8"/>
<polygon points="183.5,902.5 187.6,904.0 190.6,908.3 190.7,913.2 191.3,913.8 194.2,920.2 196.2,922.5 198.8,923.5 201.4,923.1 202.6,919.2 201.5,914.8 200.6,912.2 202.7,911.0 204.8,908.5 200.6,907.1 196.2,903.6 194.1,900.7 191.1,901.1 187.3,900.3 184.7,900.4" fill="#f6a9a9" stroke="#9c6262" stroke-opacity="0.85" stroke-width="0.8"/>
<polygon points="186.5,826.0 189.3,827.4 193.9,829.4 196.6,829.3 198.1,827.4 201.3,823.9 203.1,820.6 202.2,817.9 203.1,814.8 204.1,811.5 202.5,807.0 200.6,803.5 199.7,801.9 196.4,802.5 194.2,802.8 190.9,802.4 186.7,802.4 185.5,805.1 183.4,806.5 184.2,808.6 184.1,813.0 183.9,816.3 184.4,818.0 186.2,821.5" fill="#f6a9a9" stroke="#9c6262" stroke-opacity="0.85" stroke-width="0.8"/>
<polygon points="174.1,856.2 177.4,857.1 180.0,859.7 179.9,862.3 182.4,863.5 185.6,866.6 185.4,869.4 188.2,870.5 190.5,868.5 194.7,866.9 197.1,863.9 199.4,862.2 197.4,860.9 199.8,857.9 198.8,854.4 195.0,853.6 195.6,851.2 195.7,845.8 191.0,846.0 187.2,846.6 184.8,848.7 181.3,850.5 178.0,850.9 175.9,851.8" fill="#f14f4f" stroke="#9c6262" stroke-opacity="0.85" stroke-width="0.8"/>
<polygon points="176.8,752.5 181.5,757.9 181.6,761.2 185.6,764.9 187.2,765.3 190.5,764.3 194.4,763.9 198.0,763.0 202.7,761.8 205.6,762.5 209.8,759.6 207.0,757.5 204.7,754.1 205.4,748.3 202.8,746.6 201.3,746.3 200.0,741.4 195.5,742.1 192.7,742.5 189.8,743.8 187.0,745.9 185.4,746.3 182.7,745.3 181.2,748.2 178.8,750.1" fill="#f48383" stroke="#9c6262" stroke-opacity="0.85" stroke-width="0.8"/>
<polygon points="184.9,415.5 186.2,413.0 188.9,409.7 189.3,407.0 188.2,404.5 188.4,400.5 189.6,396.1 185.8,394.5 181.0,392.2 181.2,391.6 176.6,392.4 171.7,393.3 172.4,395.7 172.4,399.1 170.0,403.2 169.1,406.2 170.9,408.4 171.1,412.0 172.7,412.6 177.3,415.1 181.0,416.3 181.9,415.6" fill="#f6a9a9" stroke="#9c6262" stroke-opacity="0.85" stroke-width="0.8"/>
<polygon points="175.0,296.7 176.4,299.7 180.3,302.4 179.8,305.7 181.2,308.3 186.2,307.2 189.8,306.5 192.2,307.8 195.2,303.7 196.3,299.5 194.3,297.2 194.2,295.4 194.1,292.9 191.9,291.3 187.6,290.2 185.8,288.7 183.0,287.3 182.7,289.5 179.9,292.9" fill="#f6a9a9" stroke="#9c6262" stroke-opacity="0.85" stroke-width="0.8"/>
<polygon points="183.5,182.3 188.2,183.4 190.4,186.8 192.7,188.9 194.8,189.9 195.6,193.0 197.7,192.6 201.0,189.7 202.7,186.2 203.0,182.7 204.8,180.5 207.6,179.4 208.4,177.0 208.0,172.5 209.7,168.2 207.0,166.2 203.7,167.7 202.2,167.2 199.4,166.1 195.1,166.7 191.6,167.6 189.9,168.5 188.4,170.7 187.7,175.9 186.2,180.6" fill="#f6a9a9" stroke="#9c6262" stroke-opacity="0.85" stroke-width="0.8"/>
<polygon points="192.1,199.7 194.1,198.0 194.8,196.3 195.6,193.0 194.8,189.9 192.7,188.9 190.4,186.8 188.2,183.4 183.5,182.3 179.1,182.4 180.8,184.9 183.5,189.5 180.9,194.2 181.5,195.6 180.8,197.6 178.9,202.5 178.4,207.9 180.5,205.9 183.5,204.7 187.4,204.0 189.6,202.0" fill="#fad2d2" stroke="#9c6262" stroke-opacity="0.85" stroke-width="0.8"/>
<polygon points="189.6,396.1 192.4,396.1 194.3,395.2 198.2,393.9 198.9,391.1 202.7,389.5 203.6,386.0 202.5,381.6 201.3,378.7 200.8,377.2 195.2,373.0 194.6,369.4 191.9,372.1 188.5,373.3 185.4,376.4 185.9,378.9 182.5,381.3 181.6,385.5 183.2,389.7 181.2,391.6 181.0,392.2 185.8,394.5" fill="#f48383" stroke="#9c6262" stroke-opacity="0.85" stroke-width="0.8"/>
<polygon points="195.6,660.3 198.2,656.9 202.0,654.2 199.7,652.2 196.6,651.0 196.2,646.7 192.7,642.1 190.9,641.0 190.3,638.3 187.7,635.4 184.5,635.9 183.3,637.3 180.8,638.3 179.7,639.3 180.8,640.9 181.9,646.4 179.6,650.2 181.6,651.3 183.6,655.0 180.1,662.4 182.9,661.0 186.0,660.1 190.4,660.6 194.0,660.9" fill="#fad2d2" stroke="#9c6262" stroke-opacity="0.85" stroke-width="0.8"/>
<polygon points="191.6,424.1 195.0,422.5 197.5,420.4 199.0,417.6 202.0,416.5 204.6,416.2 206.3,414.7 206.9,412.3 207.1,407.0 207.4,404.0 207.4,403.3 205.1,400.6 203.3,397.0 198.2,393.9 194.3,395.2 192.4,396.1 189.6,396.1 188.4,400.5 188.2,404.5 189.3,407.0 188.9,409.7 186.2,413.0 184.9,415.5 187.4,416.9 188.2,419.6" fill="#f48383" stroke="#9c6262" stroke-opacity="0.85" stroke-width="0.8"/>
<polygon points="190.6,356.6 192.0,358.8 193.7,359.8 193.6,364.8 195.5,368.0 200.3,366.4 202.8,365.4 206.2,363.1 209.2,361.7 210.5,361.4 213.8,359.6 216.4,356.1 216.7,353.9 212.5,351.5 210.8,348.8 205.4,349.0 202.4,347.2 200.6,347.3 197.4,348.3 194.1,350.5 192.2,351.5" fill="#f6a9a9" stroke="#9c6262" stroke-opacity="0.85" stroke-width="0.8"/>
<polygon points="178.4,207.9 177.2,211.9 178.8,214.6 181.0,218.3 182.9,219.3 186.1,218.7 188.5,218.9 192.1,220.3 195.5,220.6 198.0,218.8 198.0,217.0 196.7,213.2 195.1,210.4 194.8,208.4 193.4,203.3 192.1,199.7 189.6,202.0 187.4,204.0 183.5,204.7 180.5,205.9" fill="#f6a9a9" stroke="#9c6262" stroke-opacity="0.85" stroke-width="0.8"/>
<polygon points="174.3,518.2 176.8,517.3 179.6,515.7 182.7,516.7 186.6,518.6 190.7,518.4 193.2,514.0 192.0,511.3 192.8,508.2 196.5,503.5 197.5,500.1 193.1,497.6 192.6,496.3 188.8,498.3 184.1,498.1 181.2,496.0 178.2,495.8 176.2,499.6 176.0,502.0 177.1,504.0 176.4,506.8 174.3,510.3 174.0,514.3" fill="#f6a9a9" stroke="#9c6262" stroke-opacity="0.85" stroke-width="0.8"/>
<polygon points="183.0,287.3 185.8,288.7 187.6,290.2 191.9,291.3 194.1,292.9 194.2,295.4 198.4,294.8 202.9,292.2 202.9,288.6 204.1,285.1 206.4,281.9 207.2,278.8 206.7,275.9 205.0,275.6 201.7,274.9 196.4,273.9 193.9,272.6 192.9,272.0 189.9,274.7 186.9,275.6 185.2,276.5 182.1,278.6 180.9,282.5" fill="#fad2d2" stroke="#9c6262" stroke-opacity="0.85" stroke-width="0.8"/>
<polygon points="178.6,696.9 182.3,697.0 184.1,698.4 186.7,699.5 190.2,699.4 193.5,696.8 195.3,695.4 197.9,693.8 199.9,691.1 200.8,689.4 203.6,688.4 206.4,686.4 201.9,682.5 197.6,679.4 195.1,677.1 192.2,677.4 187.3,678.7 183.2,678.4 181.1,678.2 179.1,682.6 178.8,686.9 178.3,689.0 175.9,690.5 176.3,693.2" fill="#f14f4f" stroke="#9c6262" stroke-opacity="0.85" stroke-width="0.8"/>
<polygon points="182.7,745.3 185.4,746.3 187.0,745.9 189.8,743.8 192.7,742.5 195.5,742.1 200.0,741.4 202.9,736.6 203.9,734.9 205.8,734.2 208.9,731.7 209.0,726.5 204.7,721.1 204.8,720.9 198.9,719.0 194.8,717.9 193.2,718.7 190.1,720.5 186.3,722.2 183.8,722.1 179.8,722.7 176.0,724.2 173.8,724.4 176.1,728.4 177.3,731.5 179.5,734.7 181.2,737.6 180.4,740.2" fill="#f48383" stroke="#9c6262" stroke-opacity="0.85" stroke-width="0.8"/>
<polygon points="189.8,581.0 195.9,581.8 198.3,580.8 201.9,578.5 205.3,577.4 207.1,575.9 207.0,572.4 206.2,569.9 206.9,566.1 207.6,561.9 207.5,559.0 205.6,555.5 202.6,553.4 199.6,553.3 195.4,553.6 191.8,553.5 190.1,554.5 187.6,555.8 185.9,558.0 184.3,559.3 185.1,563.0 184.5,566.8 185.8,569.2 187.0,571.4 187.5,574.2 188.8,577.6" fill="#f14f4f" stroke="#9c6262" stroke-opacity="0.85" stroke-width="0.8"/>
<polygon points="178.2,495.8 181.2,496.0 184.1,498.1 188.8,498.3 192.6,496.3 192.6,493.0 192.0,489.2 195.1,486.1 197.2,482.1 191.1,476.7 188.2,482.2 188.7,485.9 185.4,487.1 181.3,487.5 179.1,486.4 176.1,486.5 171.8,487.9 172.8,490.8 175.6,494.2" fill="#f48383" stroke="#9c6262" stroke-opacity="0.85" stroke-width="0.8"/>
<polygon points="192.9,272.0 193.9,272.6 196.4,273.9 201.7,274.9 205.0,275.6 206.7,275.9 208.6,274.9 209.2,272.2 209.0,268.3 207.7,265.9 209.5,263.8 209.1,259.4 206.3,254.2 205.4,253.0 204.0,252.3 199.1,251.7 196.1,250.0 194.0,251.5 190.3,254.0 190.5,258.8 192.7,262.2 190.3,264.8 190.6,268.1" fill="#fad2d2" stroke="#9c6262" stroke-opacity="0.85" stroke-width="0.8"/>
<polygon points="178.7,233.5 182.1,233.8 184.8,235.7 186.9,237.7 190.9,238.2 195.9,238.4 198.2,239.2 199.1,236.4 201.9,233.8 202.7,228.8 201.6,226.2 200.6,220.3 198.0,218.8 195.5,220.6 192.1,220.3 188.5,218.9 186.1,218.7 182.9,219.3 180.0,222.2 180.6,226.1 181.3,229.8" fill="#f48383" stroke="#9c6262" stroke-opacity="0.85" stroke-width="0.8"/>
<polygon points="181.1,678.2 183.2,678.4 187.3,678.7 192.2,677.4 195.1,677.1 195.5,674.6 194.6,669.8 195.6,665.4 196.1,663.6 195.6,660.3 194.0,660.9 190.4,660.6 186.0,660.1 182.9,661.0 180.1,662.4 177.3,664.9 175.9,664.8 174.5,665.7 176.9,669.1 177.6,674.2 180.7,675.9" fill="#f14f4f" stroke="#9c6262" stroke-opacity="0.85" stroke-width="0.8"/>
<polygon points="186.7,802.4 190.9,802.4 194.2,802.8 196.4,802.5 199.7,801.9 202.3,800.0 203.3,797.8 204.6,794.6 207.2,791.9 208.7,790.4 208.7,784.7 206.5,783.3 203.4,782.2 199.1,782.6 196.5,782.0 194.5,780.1 189.6,779.7 187.8,783.2 184.6,785.9 183.5,790.2 184.7,793.6 185.8,795.2 185.2,798.6" fill="#f6a9a9" stroke="#9c6262" stroke-opacity="0.85" stroke-width="0.8"/>
<polygon points="187.7,635.4 190.3,638.3 190.9,641.0 192.7,642.1 196.2,646.7 196.6,651.0 199.7,652.2 202.0,654.2 205.2,652.9 207.9,651.9 209.8,650.3 210.5,645.9 212.2,641.4 214.1,639.3 212.9,637.6 213.5,635.1 212.0,631.6 209.7,629.4 209.5,627.3 206.2,625.1 202.6,623.9 201.1,623.4 198.2,626.9 194.6,628.7 191.5,629.8 190.7,632.9" fill="#f6a9a9" stroke="#9c6262" stroke-opacity="0.85" stroke-width="0.8"/>
<polygon points="189.1,463.0 192.0,462.8 195.9,463.1 198.4,462.5 200.3,462.6 204.2,463.0 208.0,461.8 207.1,459.3 208.7,456.6 212.7,453.6 213.4,447.5 209.2,444.3 207.8,442.8 206.1,440.6 202.5,440.5 199.3,439.4 196.4,437.0 195.1,440.6 191.5,442.5 188.5,444.1 187.9,447.6 186.6,450.8 184.3,452.4 184.0,454.4 185.6,458.6 188.2,462.1" fill="#f48383" stroke="#9c6262" stroke-opacity="0.85" stroke-width="0.8"/>
<polygon points="185.0,341.2 186.6,344.8 188.2,348.4 190.0,349.1 192.2,351.5 194.1,350.5 197.4,348.3 200.6,347.3 202.4,347.2 203.4,343.2 203.7,339.1 204.7,335.9 205.5,333.4 205.0,330.6 201.7,328.8 200.2,325.5 194.4,327.2 190.6,327.8 188.8,332.2 188.2,335.6 187.0,338.2" fill="#f48383" stroke="#9c6262" stroke-opacity="0.85" stroke-width="0.8"/>
<polygon points="197.0,885.9 201.2,885.2 205.5,885.0 207.9,884.8 209.6,882.2 212.0,879.5 213.5,876.5 213.7,874.2 211.6,871.6 210.9,867.2 208.0,865.4 205.5,865.8 203.9,864.1 199.4,862.2 197.1,863.9 194.7,866.9 190.5,868.5 188.2,870.5 188.3,871.0 189.9,875.3 190.9,878.1 194.7,879.2 195.2,883.5" fill="#f6a9a9" stroke="#9c6262" stroke-opacity="0.85" stroke-width="0.8"/>
<polygon points="195.1,677.1 197.6,679.4 201.9,682.5 206.4,686.4 209.1,683.6 211.8,682.0 215.5,680.4 217.6,677.6 217.7,676.2 217.6,671.0 217.1,666.0 216.9,664.3 215.6,662.4 213.2,660.4 210.1,658.1 207.6,655.0 205.2,652.9 202.0,654.2 198.2,656.9 195.6,660.3 196.1,663.6 195.6,665.4 194.6,669.8 195.5,674.6" fill="#f14f4f" stroke="#9c6262" stroke-opacity="0.85" stroke-width="0.8"/>
<polygon points="189.7,538.7 187.1,543.2 189.8,546.3 192.2,549.6 191.8,553.5 195.4,553.6 199.6,553.3 202.6,553.4 204.2,551.2 207.1,547.4 207.5,544.2 207.5,541.9 211.1,538.5 214.2,534.4 211.7,532.4 209.5,528.9 209.5,525.9 205.9,526.5 201.6,525.8 198.9,524.9 195.8,527.3 192.7,530.7 192.7,532.9 192.7,535.0" fill="#f14f4f" stroke="#9c6262" stroke-opacity="0.85" stroke-width="0.8"/>
<polygon points="191.6,167.6 195.1,166.7 199.4,166.1 202.2,167.2 203.7,167.7 207.0,166.2 208.0,162.4 208.0,157.7 208.2,155.8 208.6,155.6 207.1,153.4 203.3,148.7 199.8,145.7 200.2,143.8 194.7,144.2 189.7,144.7 190.4,148.8 189.2,155.1 185.7,158.4 184.8,158.9 189.0,161.5 190.8,165.5" fill="#fad2d2" stroke="#9c6262" stroke-opacity="0.85" stroke-width="0.8"/>
<polygon points="195.7,845.8 195.6,851.2 195.0,853.6 198.8,854.4 199.8,857.9 197.4,860.9 199.4,862.2 203.9,864.1 205.5,865.8 208.0,865.4 209.7,863.3 212.8,860.8 215.6,856.5 218.2,852.9 219.8,851.2 220.2,849.0 221.9,845.5 220.8,843.7 218.2,840.0 213.6,840.3 211.2,841.2 209.6,839.8 205.7,837.1 202.1,836.4 201.2,837.0 196.1,839.7 195.4,841.4" fill="#f6a9a9" stroke="#9c6262" stroke-opacity="0.85" stroke-width="0.8"/>
<polygon points="204.8,720.9 205.7,718.4 206.5,715.1 208.5,710.6 210.5,707.5 213.1,706.3 211.3,704.6 207.2,699.1 207.8,696.6 204.0,693.7 200.8,689.4 199.9,691.1 197.9,693.8 195.3,695.4 193.5,696.8 190.2,699.4 190.3,703.2 193.1,707.0 193.9,709.1 193.0,712.0 194.3,715.9 194.8,717.9 198.9,719.0" fill="#f14f4f" stroke="#9c6262" stroke-opacity="0.85" stroke-width="0.8"/>
<polygon points="187.2,465.3 188.4,467.4 192.0,471.6 193.3,473.8 191.1,476.7 197.2,482.1 198.8,481.1 202.3,482.5 207.3,482.4 207.2,476.3 211.6,473.3 211.5,471.7 206.8,468.3 208.7,462.8 208.0,461.8 204.2,463.0 200.3,462.6 198.4,462.5 195.9,463.1 192.0,462.8 189.1,463.0" fill="#f14f4f" stroke="#9c6262" stroke-opacity="0.85" stroke-width="0.8"/>
<polygon points="191.4,427.0 192.7,430.2 195.0,433.5 196.4,437.0 199.3,439.4 202.5,440.5 206.1,440.6 207.8,442.8 209.2,444.3 210.8,442.7 214.0,440.1 216.1,436.7 215.8,432.8 216.2,430.3 218.3,429.0 220.1,426.1 220.3,420.7 216.7,418.6 213.4,417.5 209.3,415.0 206.3,414.7 204.6,416.2 202.0,416.5 199.0,417.6 197.5,420.4 195.0,422.5 191.6,424.1" fill="#f48383" stroke="#9c6262" stroke-opacity="0.85" stroke-width="0.8"/>
<polygon points="192.2,307.8 194.9,309.3 198.3,309.8 200.9,313.8 204.1,311.4 205.6,310.7 208.2,310.3 211.1,308.6 212.9,307.5 216.6,307.0 218.7,303.3 214.5,298.6 210.1,298.0 206.5,295.9 205.3,293.0 202.9,292.2 198.4,294.8 194.2,295.4 194.3,297.2 196.3,299.5 195.2,303.7" fill="#fad2d2" stroke="#9c6262" stroke-opacity="0.85" stroke-width="0.8"/>
<polygon points="223.5,944.5 221.0,944.2 218.1,941.1 214.0,939.1 211.8,939.5 210.0,943.1 210.9,947.4 210.7,952.3 210.4,954.7 212.7,957.4 214.3,960.6 217.9,961.1 219.1,960.9 220.5,958.4 221.7,955.5 223.2,951.0 223.3,947.1" fill="#f14f4f" stroke="#9c6262" stroke-opacity="0.85" stroke-width="0.8"/>
<polygon points="201.4,923.1 204.4,922.7 206.1,923.2 209.3,923.6 211.0,926.0 215.3,924.8 217.8,923.6 221.4,923.6 225.2,921.8 224.3,916.8 219.8,911.4 220.8,910.1 221.0,907.9 218.6,903.4 217.8,900.1 215.8,899.6 213.0,901.8 209.2,903.4 207.5,905.2 204.8,908.5 202.7,911.0 200.6,912.2 201.5,914.8 202.6,919.2" fill="#f14f4f" stroke="#9c6262" stroke-opacity="0.85" stroke-width="0.8"/>
<polygon points="208.7,784.7 208.9,784.4 208.9,780.9 207.6,777.4 206.8,773.9 208.1,770.8 207.7,768.8 205.0,766.4 205.6,762.5 202.7,761.8 198.0,763.0 194.4,763.9 190.5,764.3 187.2,765.3 185.6,764.9 185.0,770.4 187.7,771.4 188.1,773.0 186.5,777.2 189.6,779.7 194.5,780.1 196.5,782.0 199.1,782.6 203.4,782.2 206.5,783.3" fill="#f48383" stroke="#9c6262" stroke-opacity="0.85" stroke-width="0.8"/>
<polygon points="203.1,814.8 208.1,815.4 212.3,816.8 214.6,815.9 217.5,814.1 221.6,812.2 223.4,808.1 225.4,803.7 226.8,801.0 224.5,798.3 222.3,797.6 216.8,794.8 214.6,793.2 211.9,792.8 208.7,790.4 207.2,791.9 204.6,794.6 203.3,797.8 202.3,800.0 199.7,801.9 200.6,803.5 202.5,807.0 204.1,811.5" fill="#f6a9a9" stroke="#9c6262" stroke-opacity="0.85" stroke-width="0.8"/>
<polygon points="200.6,220.3 204.9,218.5 208.6,217.3 211.2,214.8 212.0,211.9 212.3,210.7 214.0,208.0 214.0,203.6 210.7,199.6 209.8,197.5 207.2,195.5 204.2,193.0 201.3,192.7 197.7,192.6 195.6,193.0 194.8,196.3 194.1,198.0 192.1,199.7 193.4,203.3 194.8,208.4 195.1,210.4 196.7,213.2 198.0,217.0 198.0,218.8" fill="#fad2d2" stroke="#9c6262" stroke-opacity="0.85" stroke-width="0.8"/>
<polygon points="200.0,741.4 201.3,746.3 202.8,746.6 205.4,748.3 204.7,754.1 207.0,757.5 209.8,759.6 213.4,759.0 216.0,759.0 218.5,759.4 222.4,758.7 225.4,757.7 225.6,756.0 227.5,753.3 231.0,749.1 230.7,745.9 228.1,744.0 225.1,741.5 224.9,737.2 224.1,733.8 221.8,733.3 219.6,733.9 215.5,732.5 211.2,731.1 208.9,731.7 205.8,734.2 203.9,734.9 202.9,736.6" fill="#f6a9a9" stroke="#9c6262" stroke-opacity="0.85" stroke-width="0.8"/>
<polygon points="197.5,500.1 199.7,500.1 202.2,499.8 205.7,499.1 206.8,497.3 209.9,496.5 212.9,492.6 211.7,489.4 209.2,486.3 210.4,485.2 207.3,482.4 202.3,482.5 198.8,481.1 197.2,482.1 195.1,486.1 192.0,489.2 192.6,493.0 192.6,496.3 193.1,497.6" fill="#f6a9a9" stroke="#9c6262" stroke-opacity="0.85" stroke-width="0.8"/>
<polygon points="208.6,155.6 212.0,153.0 214.4,150.0 215.9,148.1 219.9,145.0 223.1,142.9 223.5,142.3 220.4,137.1 217.3,133.4 217.7,131.4 214.1,128.8 211.0,129.7 208.3,130.0 206.7,131.2 204.4,132.4 201.8,135.8 200.9,140.0 201.5,142.5 200.2,143.8 199.8,145.7 203.3,148.7 207.1,153.4" fill="#fad2d2" stroke="#9c6262" stroke-opacity="0.85" stroke-width="0.8"/>
<polygon points="200.2,143.8 201.5,142.5 200.9,140.0 201.8,135.8 204.4,132.4 206.7,131.2 208.3,130.0 204.3,127.4 201.9,124.5 200.2,122.4 194.0,122.2 195.4,129.6 194.2,132.1 194.0,133.6 193.1,138.5 190.5,143.5 189.7,144.7 194.7,144.2" fill="#f6a9a9" stroke="#9c6262" stroke-opacity="0.85" stroke-width="0.8"/>
<polygon points="196.1,250.0 199.1,251.7 204.0,252.3 205.4,253.0 206.3,254.2 209.7,252.7 214.3,252.3 217.3,250.9 220.7,249.6 217.5,247.5 216.6,243.5 215.8,239.6 215.3,238.4 212.4,237.2 207.1,237.2 203.9,236.8 201.9,233.8 199.1,236.4 198.2,239.2 196.6,241.8 195.5,244.3 196.3,247.4" fill="#f6a9a9" stroke="#9c6262" stroke-opacity="0.85" stroke-width="0.8"/>
<polygon points="200.2,325.5 201.7,328.8 205.0,330.6 208.1,331.7 211.1,331.6 213.1,331.2 216.3,331.0 218.2,327.8 221.3,322.8 220.9,319.7 219.9,318.3 222.0,315.6 224.0,311.4 220.1,307.4 216.6,307.0 212.9,307.5 211.1,308.6 208.2,310.3 205.6,310.7 204.1,311.4 200.9,313.8 198.5,319.3 197.3,321.0 199.4,321.4" fill="#f6a9a9" stroke="#9c6262" stroke-opacity="0.85" stroke-width="0.8"/>
<polygon points="194.6,369.4 195.2,373.0 200.8,377.2 201.3,378.7 202.5,381.6 207.1,381.1 209.6,381.3 211.7,380.6 215.0,379.6 217.7,379.8 220.1,378.1 221.2,375.0 220.1,370.8 220.4,367.4 220.5,364.8 217.6,362.3 213.8,359.6 210.5,361.4 209.2,361.7 206.2,363.1 202.8,365.4 200.3,366.4 195.5,368.0" fill="#f6a9a9" stroke="#9c6262" stroke-opacity="0.85" stroke-width="0.8"/>
<polygon points="199.9,611.7 196.7,614.2 197.9,617.7 201.1,623.4 202.6,623.9 206.2,625.1 209.5,627.3 211.8,625.7 215.6,624.3 218.7,623.9 220.5,622.3 223.7,620.0 226.2,619.1 225.5,615.6 228.8,611.1 226.2,608.5 223.7,606.9 221.1,605.0 218.4,602.4 219.2,601.1 216.7,601.6 212.1,602.7 208.4,603.9 204.9,603.5 200.4,603.3 200.3,608.0" fill="#f48383" stroke="#9c6262" stroke-opacity="0.85" stroke-width="0.8"/>
<polygon points="198.9,524.9 201.6,525.8 205.9,526.5 209.5,525.9 211.2,523.5 211.0,522.3 211.9,520.0 213.9,516.0 213.8,512.8 211.5,510.9 209.2,507.9 209.5,503.6 205.7,499.1 202.2,499.8 199.7,500.1 197.5,500.1 196.5,503.5 192.8,508.2 192.0,511.3 193.2,514.0 190.7,518.4 191.2,520.2 197.2,523.1" fill="#f6a9a9" stroke="#9c6262" stroke-opacity="0.85" stroke-width="0.8"/>
<polygon points="195.9,581.8 196.5,582.3 197.5,588.2 198.6,591.9 197.3,593.4 200.6,597.9 202.3,600.8 200.4,603.3 204.9,603.5 208.4,603.9 212.1,602.7 216.7,601.6 219.2,601.1 218.9,597.4 217.3,592.9 217.1,590.8 217.4,588.6 213.9,583.5 213.3,580.3 212.8,580.8 209.9,578.2 207.1,575.9 205.3,577.4 201.9,578.5 198.3,580.8" fill="#f6a9a9" stroke="#9c6262" stroke-opacity="0.85" stroke-width="0.8"/>
<polygon points="205.6,762.5 205.0,766.4 207.7,768.8 208.1,770.8 206.8,773.9 207.6,777.4 208.9,780.9 208.9,784.4 212.6,782.2 216.3,780.5 218.2,779.8 220.9,778.0 223.9,775.7 225.4,774.8 228.0,773.7 229.4,770.9 226.9,768.1 225.3,763.6 225.6,760.2 225.4,757.7 222.4,758.7 218.5,759.4 216.0,759.0 213.4,759.0 209.8,759.6" fill="#f14f4f" stroke="#9c6262" stroke-opacity="0.85" stroke-width="0.8"/>
<polygon points="201.9,124.5 204.3,127.4 208.3,130.0 211.0,129.7 214.1,128.8 214.7,127.4 216.7,125.7 219.8,122.9 221.5,120.1 222.8,118.6 225.3,116.8 222.2,112.4 221.6,109.7 219.8,107.2 214.8,106.6 212.1,106.9 209.7,108.2 207.1,110.9 206.7,113.1 206.3,116.9 204.2,121.2" fill="#fad2d2" stroke="#9c6262" stroke-opacity="0.85" stroke-width="0.8"/>
<polygon points="202.9,292.2 205.3,293.0 206.5,295.9 210.1,298.0 214.5,298.6 218.7,303.3 219.7,298.1 218.3,294.6 219.5,293.6 222.9,292.6 224.2,289.5 224.5,286.0 222.2,281.7 221.3,280.1 219.6,278.4 217.6,274.6 213.8,275.0 208.6,274.9 206.7,275.9 207.2,278.8 206.4,281.9 204.1,285.1 202.9,288.6" fill="#fad2d2" stroke="#9c6262" stroke-opacity="0.85" stroke-width="0.8"/>
<polygon points="208.7,784.7 208.7,790.4 211.9,792.8 214.6,793.2 216.8,794.8 222.3,797.6 224.5,798.3 226.8,801.0 229.6,802.0 232.3,798.1 234.0,793.8 234.8,791.5 237.9,789.2 240.3,786.8 241.8,783.8 238.1,780.3 237.2,777.7 235.6,777.6 230.8,776.2 228.0,773.7 225.4,774.8 223.9,775.7 220.9,778.0 218.2,779.8 216.3,780.5 212.6,782.2 208.9,784.4" fill="#f14f4f" stroke="#9c6262" stroke-opacity="0.85" stroke-width="0.8"/>
<polygon points="187.3,900.3 191.1,901.1 194.1,900.7 196.2,903.6 200.6,907.1 204.8,908.5 207.5,905.2 209.2,903.4 213.0,901.8 215.8,899.6 214.8,898.0 213.1,895.0 209.9,889.7 208.7,887.1 207.9,884.8 205.5,885.0 201.2,885.2 197.0,885.9 195.7,887.5 192.8,889.8 191.3,892.8 190.4,896.5" fill="#f14f4f" stroke="#9c6262" stroke-opacity="0.85" stroke-width="0.8"/>
<polygon points="201.2,837.0 202.1,836.4 205.7,837.1 209.6,839.8 211.2,841.2 213.6,840.3 218.2,840.0 219.0,836.9 221.9,834.1 223.6,830.9 225.2,828.0 223.6,824.4 222.9,821.7 223.0,819.3 219.0,815.6 217.5,814.1 214.6,815.9 212.3,816.8 208.1,815.4 203.1,814.8 202.2,817.9 203.1,820.6 201.3,823.9 198.1,827.4 196.6,829.3 201.3,831.7" fill="#f6a9a9" stroke="#9c6262" stroke-opacity="0.85" stroke-width="0.8"/>
<polygon points="200.8,689.4 204.0,693.7 207.8,696.6 207.2,699.1 211.3,704.6 213.1,706.3 216.8,705.7 220.4,705.4 224.6,706.6 228.7,707.1 230.3,705.1 230.5,701.9 229.7,696.8 230.3,693.5 230.1,691.7 228.4,687.7 229.6,683.6 228.7,683.9 223.5,682.2 219.2,678.5 217.6,677.6 215.5,680.4 211.8,682.0 209.1,683.6 206.4,686.4 203.6,688.4" fill="#f6a9a9" stroke="#9c6262" stroke-opacity="0.85" stroke-width="0.8"/>
<polygon points="211.6,473.3 215.1,474.0 219.6,473.8 223.8,474.2 226.0,474.4 228.0,471.6 228.3,468.9 228.3,465.4 229.5,462.0 228.9,460.5 224.9,460.1 219.2,457.9 217.7,455.5 214.9,455.7 212.7,453.6 208.7,456.6 207.1,459.3 208.0,461.8 208.7,462.8 206.8,468.3 211.5,471.7" fill="#fad2d2" stroke="#9c6262" stroke-opacity="0.85" stroke-width="0.8"/>
<polygon points="197.7,192.6 201.3,192.7 204.2,193.0 207.2,195.5 209.8,197.5 213.1,194.5 215.7,193.3 217.8,191.5 221.9,188.4 220.8,183.3 219.3,181.2 220.2,180.4 219.0,174.9 216.3,170.8 213.2,170.4 209.7,168.2 208.0,172.5 208.4,177.0 207.6,179.4 204.8,180.5 203.0,182.7 202.7,186.2 201.0,189.7" fill="#f6a9a9" stroke="#9c6262" stroke-opacity="0.85" stroke-width="0.8"/>
<polygon points="209.7,168.2 213.2,170.4 216.3,170.8 219.3,168.9 222.9,167.1 225.4,167.5 230.2,167.0 231.4,162.7 230.8,159.1 230.1,156.2 231.9,153.7 229.6,152.2 225.3,147.3 223.1,142.9 219.9,145.0 215.9,148.1 214.4,150.0 212.0,153.0 208.6,155.6 208.2,155.8 208.0,157.7 208.0,162.4 207.0,166.2" fill="#f48383" stroke="#9c6262" stroke-opacity="0.85" stroke-width="0.8"/>
<polygon points="212.9,492.6 214.9,492.3 219.9,493.5 224.5,493.5 223.9,488.5 224.7,486.0 227.7,485.3 229.3,482.1 226.0,474.4 223.8,474.2 219.6,473.8 215.1,474.0 211.6,473.3 207.2,476.3 207.3,482.4 210.4,485.2 209.2,486.3 211.7,489.4" fill="#f6a9a9" stroke="#9c6262" stroke-opacity="0.85" stroke-width="0.8"/>
<polygon points="207.5,559.0 210.8,558.2 215.2,556.2 217.7,555.6 219.2,556.6 222.0,557.0 225.3,556.8 228.3,556.8 226.3,554.2 228.6,549.3 228.7,546.5 226.3,544.0 226.7,539.4 222.7,539.8 219.0,539.3 217.2,535.7 214.2,534.4 211.1,538.5 207.5,541.9 207.5,544.2 207.1,547.4 204.2,551.2 202.6,553.4 205.6,555.5" fill="#f14f4f" stroke="#9c6262" stroke-opacity="0.85" stroke-width="0.8"/>
<polygon points="202.4,347.2 205.4,349.0 210.8,348.8 212.5,351.5 216.7,353.9 217.6,352.5 219.7,350.0 221.6,347.3 222.5,346.2 222.6,342.9 222.0,338.3 221.3,334.5 220.4,332.1 216.3,331.0 213.1,331.2 211.1,331.6 208.1,331.7 205.0,330.6 205.5,333.4 204.7,335.9 203.7,339.1 203.4,343.2" fill="#f48383" stroke="#9c6262" stroke-opacity="0.85" stroke-width="0.8"/>
<polygon points="214.2,534.4 217.2,535.7 219.0,539.3 222.7,539.8 226.7,539.4 229.7,537.4 234.3,536.0 233.4,532.7 231.3,530.3 233.8,525.1 233.9,520.7 231.1,519.5 232.0,516.9 229.9,512.8 226.9,511.6 224.7,512.9 221.3,514.8 216.8,515.0 213.9,516.0 211.9,520.0 211.0,522.3 211.2,523.5 209.5,525.9 209.5,528.9 211.7,532.4" fill="#f6a9a9" stroke="#9c6262" stroke-opacity="0.85" stroke-width="0.8"/>
<polygon points="207.9,884.8 208.7,887.1 209.9,889.7 213.1,895.0 214.8,898.0 215.8,899.6 217.8,900.1 221.9,900.0 225.4,898.7 228.0,897.1 231.7,896.7 233.7,894.9 235.0,891.9 235.0,887.9 234.6,885.3 234.6,882.7 235.0,879.6 233.9,876.3 230.4,875.2 227.1,874.7 224.4,875.1 221.7,874.8 217.9,873.9 213.7,874.2 213.5,876.5 212.0,879.5 209.6,882.2" fill="#f6a9a9" stroke="#9c6262" stroke-opacity="0.85" stroke-width="0.8"/>
<polygon points="207.4,403.3 210.5,402.5 214.4,400.2 218.1,399.1 220.1,398.5 219.4,393.3 220.1,390.7 222.3,388.9 222.6,385.1 220.1,381.5 217.7,379.8 215.0,379.6 211.7,380.6 209.6,381.3 207.1,381.1 202.5,381.6 203.6,386.0 202.7,389.5 198.9,391.1 198.2,393.9 203.3,397.0 205.1,400.6" fill="#f6a9a9" stroke="#9c6262" stroke-opacity="0.85" stroke-width="0.8"/>
<polygon points="213.8,359.6 217.6,362.3 220.5,364.8 220.4,367.4 223.5,367.5 228.2,366.8 232.4,365.5 234.7,366.1 238.8,366.8 238.4,362.3 236.7,358.4 236.4,355.9 237.5,352.2 236.1,348.3 232.8,348.1 230.6,347.9 227.1,347.2 222.5,346.2 221.6,347.3 219.7,350.0 217.6,352.5 216.7,353.9 216.4,356.1" fill="#f6a9a9" stroke="#9c6262" stroke-opacity="0.85" stroke-width="0.8"/>
<polygon points="208.9,731.7 211.2,731.1 215.5,732.5 219.6,733.9 221.8,733.3 223.2,731.9 226.5,729.9 229.8,726.1 231.3,722.5 233.2,720.9 233.6,718.6 233.2,715.2 233.2,711.4 234.1,708.1 230.3,705.1 228.7,707.1 224.6,706.6 220.4,705.4 216.8,705.7 213.1,706.3 210.5,707.5 208.5,710.6 206.5,715.1 205.7,718.4 204.8,720.9 204.7,721.1 209.0,726.5" fill="#f48383" stroke="#9c6262" stroke-opacity="0.85" stroke-width="0.8"/>
<polygon points="207.1,575.9 209.9,578.2 214.0,577.2 216.8,577.0 220.9,575.0 224.9,572.4 226.9,571.3 229.9,569.8 229.8,568.9 227.5,565.1 229.0,558.9 228.6,556.8 228.3,556.8 225.3,556.8 222.0,557.0 219.2,556.6 217.7,555.6 215.2,556.2 210.8,558.2 207.5,559.0 207.6,561.9 206.9,566.1 206.2,569.9 207.0,572.4" fill="#fad2d2" stroke="#9c6262" stroke-opacity="0.85" stroke-width="0.8"/>
<polygon points="201.9,233.8 203.9,236.8 207.1,237.2 212.4,237.2 215.3,238.4 216.9,237.8 218.1,235.0 221.6,232.2 225.2,230.2 223.9,225.2 220.4,224.0 219.3,221.3 215.2,218.7 212.3,217.0 211.2,214.8 208.6,217.3 204.9,218.5 200.6,220.3 201.6,226.2 202.7,228.8" fill="#fad2d2" stroke="#9c6262" stroke-opacity="0.85" stroke-width="0.8"/>
<polygon points="206.3,414.7 209.3,415.0 213.4,417.5 216.7,418.6 220.3,420.7 223.5,418.9 227.4,418.4 228.2,415.7 228.6,413.3 230.3,410.2 231.9,407.2 230.3,405.4 227.1,402.3 224.2,402.8 222.7,402.6 220.1,398.5 218.1,399.1 214.4,400.2 210.5,402.5 207.4,403.3 207.4,404.0 207.1,407.0 206.9,412.3" fill="#f14f4f" stroke="#9c6262" stroke-opacity="0.85" stroke-width="0.8"/>
<polygon points="216.6,307.0 220.1,307.4 224.0,311.4 225.6,310.2 229.5,309.9 234.6,310.3 237.3,310.3 238.5,310.3 241.7,310.8 246.1,311.0 243.5,308.6 243.3,306.8 242.6,304.0 241.2,301.2 240.8,297.4 236.7,294.6 234.7,294.5 235.4,292.4 232.2,287.9 229.4,286.4 224.5,286.0 224.2,289.5 222.9,292.6 219.5,293.6 218.3,294.6 219.7,298.1 218.7,303.3" fill="#fad2d2" stroke="#9c6262" stroke-opacity="0.85" stroke-width="0.8"/>
<polygon points="209.7,108.2 212.1,106.9 214.8,106.6 219.8,107.2 221.7,102.6 222.8,98.7 224.5,97.2 222.3,94.2 221.3,90.0 219.9,86.6 215.3,84.2 213.8,85.0 214.4,87.8 212.3,91.8 208.2,95.9 206.2,98.3 203.1,100.3 198.1,97.9 195.2,97.5 195.2,97.6 198.9,98.5 203.0,101.6 204.3,103.3 207.9,105.7" fill="#f6a9a9" stroke="#9c6262" stroke-opacity="0.85" stroke-width="0.8"/>
<polygon points="213.9,516.0 216.8,515.0 221.3,514.8 224.7,512.9 226.9,511.6 227.5,510.2 229.4,504.7 230.2,499.0 228.0,498.1 225.9,496.2 224.5,493.5 219.9,493.5 214.9,492.3 212.9,492.6 209.9,496.5 206.8,497.3 205.7,499.1 209.5,503.6 209.2,507.9 211.5,510.9 213.8,512.8" fill="#f48383" stroke="#9c6262" stroke-opacity="0.85" stroke-width="0.8"/>
<polygon points="213.7,874.2 217.9,873.9 221.7,874.8 224.4,875.1 227.1,874.7 230.4,875.2 233.9,876.3 235.1,873.4 237.3,870.6 236.9,867.6 235.0,864.2 233.6,861.1 233.1,858.2 233.0,854.5 231.9,852.1 229.8,850.7 226.9,847.0 221.9,845.5 220.2,849.0 219.8,851.2 218.2,852.9 215.6,856.5 212.8,860.8 209.7,863.3 208.0,865.4 210.9,867.2 211.6,871.6" fill="#f14f4f" stroke="#9c6262" stroke-opacity="0.85" stroke-width="0.8"/>
<polygon points="208.6,274.9 213.8,275.0 217.6,274.6 218.6,271.4 221.1,269.6 222.8,267.5 223.8,264.8 227.0,263.7 229.6,262.4 227.8,256.6 225.8,253.2 223.9,251.9 220.7,249.6 217.3,250.9 214.3,252.3 209.7,252.7 206.3,254.2 209.1,259.4 209.5,263.8 207.7,265.9 209.0,268.3 209.2,272.2" fill="#fad2d2" stroke="#9c6262" stroke-opacity="0.85" stroke-width="0.8"/>
<polygon points="224.5,286.0 229.4,286.4 231.3,284.4 234.0,282.0 238.2,280.8 240.9,279.2 243.0,276.2 242.2,273.7 239.2,269.5 238.0,267.7 236.4,266.3 233.9,262.6 232.8,261.3 229.6,262.4 227.0,263.7 223.8,264.8 222.8,267.5 221.1,269.6 218.6,271.4 217.6,274.6 219.6,278.4 221.3,280.1 222.2,281.7" fill="#f6a9a9" stroke="#9c6262" stroke-opacity="0.85" stroke-width="0.8"/>
<polygon points="205.2,652.9 207.6,655.0 210.1,658.1 213.2,660.4 215.6,662.4 216.9,664.3 219.1,662.7 222.2,661.4 225.3,660.6 226.8,658.2 229.8,655.2 231.0,652.5 233.0,650.6 233.5,648.0 232.8,644.2 231.0,642.1 228.4,641.6 225.6,639.5 220.6,639.0 217.2,639.8 214.1,639.3 212.2,641.4 210.5,645.9 209.8,650.3 207.9,651.9" fill="#f6a9a9" stroke="#9c6262" stroke-opacity="0.85" stroke-width="0.8"/>
<polygon points="223.5,944.5 226.2,941.5 229.7,940.1 233.8,937.5 232.6,936.1 233.0,932.0 231.1,928.3 230.7,926.6 229.6,923.3 225.8,921.5 225.2,921.8 221.4,923.6 217.8,923.6 215.3,924.8 211.0,926.0 212.5,930.0 212.9,934.0 213.1,936.7 211.8,939.5 214.0,939.1 218.1,941.1 221.0,944.2" fill="#f14f4f" stroke="#9c6262" stroke-opacity="0.85" stroke-width="0.8"/>
<polygon points="239.0,940.2 233.8,937.5 229.7,940.1 226.2,941.5 223.5,944.5 223.3,947.1 223.2,951.0 221.7,955.5 220.5,958.4 219.1,960.9 223.8,959.9 225.7,960.8 228.1,962.4 232.8,961.6 236.1,959.8 238.7,960.3 243.2,961.6 244.9,961.1 244.6,956.3 243.0,954.9 242.0,951.8 242.0,946.5 239.8,944.2" fill="#f14f4f" stroke="#9c6262" stroke-opacity="0.85" stroke-width="0.8"/>
<polygon points="222.6,385.1 225.8,386.3 230.3,385.6 233.0,385.0 235.9,385.6 241.0,386.5 242.9,383.4 244.1,381.6 247.5,379.3 248.4,374.6 248.4,372.6 244.2,368.7 241.5,367.3 238.8,366.8 234.7,366.1 232.4,365.5 228.2,366.8 223.5,367.5 220.4,367.4 220.1,370.8 221.2,375.0 220.1,378.1 217.7,379.8 220.1,381.5" fill="#f6a9a9" stroke="#9c6262" stroke-opacity="0.85" stroke-width="0.8"/>
<polygon points="221.3,334.5 224.4,333.3 226.7,332.5 230.6,332.5 234.7,331.5 237.0,330.0 239.9,329.9 243.3,329.4 245.2,327.4 247.1,322.4 245.7,319.4 244.6,318.5 246.9,315.5 246.1,311.0 241.7,310.8 238.5,310.3 237.3,310.3 234.6,310.3 229.5,309.9 225.6,310.2 224.0,311.4 222.0,315.6 219.9,318.3 220.9,319.7 221.3,322.8 218.2,327.8 216.3,331.0 220.4,332.1" fill="#f6a9a9" stroke="#9c6262" stroke-opacity="0.85" stroke-width="0.8"/>
<polygon points="214.1,128.8 217.7,131.4 217.3,133.4 220.4,137.1 223.5,142.3 226.5,139.9 228.5,135.9 231.2,133.7 235.9,131.6 236.6,127.9 235.7,124.2 235.9,122.2 237.0,120.5 233.2,117.9 229.7,116.3 227.9,117.0 225.3,116.8 222.8,118.6 221.5,120.1 219.8,122.9 216.7,125.7 214.7,127.4" fill="#fad2d2" stroke="#9c6262" stroke-opacity="0.85" stroke-width="0.8"/>
<polygon points="211.2,214.8 212.3,217.0 215.2,218.7 219.3,221.3 220.4,224.0 223.9,225.2 224.7,222.2 227.4,219.2 229.8,216.6 232.7,213.3 235.3,211.3 234.3,209.7 232.1,206.5 229.2,206.7 226.9,207.4 225.0,206.9 221.3,206.0 216.6,206.6 214.0,208.0 212.3,210.7 212.0,211.9" fill="#f6a9a9" stroke="#9c6262" stroke-opacity="0.85" stroke-width="0.8"/>
<polygon points="214.0,208.0 216.6,206.6 221.3,206.0 225.0,206.9 226.9,207.4 229.2,206.7 232.1,206.5 234.0,203.4 235.5,200.3 236.2,195.8 235.9,191.7 233.8,191.3 230.4,190.7 225.8,189.5 223.5,188.9 221.9,188.4 217.8,191.5 215.7,193.3 213.1,194.5 209.8,197.5 210.7,199.6 214.0,203.6" fill="#fad2d2" stroke="#9c6262" stroke-opacity="0.85" stroke-width="0.8"/>
<polygon points="215.3,238.4 215.8,239.6 216.6,243.5 217.5,247.5 220.7,249.6 223.9,251.9 225.8,253.2 227.8,251.2 229.8,248.6 231.2,245.4 231.9,241.4 233.8,237.6 236.2,235.9 232.2,236.6 229.2,235.2 225.5,232.5 225.2,230.2 221.6,232.2 218.1,235.0 216.9,237.8" fill="#fad2d2" stroke="#9c6262" stroke-opacity="0.85" stroke-width="0.8"/>
<polygon points="228.3,556.8 228.6,556.8 232.9,556.3 236.1,554.9 237.3,554.9 240.5,556.5 245.7,556.7 248.9,555.3 251.2,555.0 250.0,554.0 247.7,550.9 248.9,546.1 248.1,544.0 243.9,542.4 243.6,539.2 243.3,537.5 238.2,537.5 236.4,537.0 234.3,536.0 229.7,537.4 226.7,539.4 226.3,544.0 228.7,546.5 228.6,549.3 226.3,554.2" fill="#f6a9a9" stroke="#9c6262" stroke-opacity="0.85" stroke-width="0.8"/>
<polygon points="217.3,592.9 221.1,592.2 223.9,592.0 228.6,589.8 232.3,587.7 234.7,586.6 233.2,580.5 236.8,577.2 232.7,573.8 229.9,569.8 226.9,571.3 224.9,572.4 220.9,575.0 216.8,577.0 214.0,577.2 209.9,578.2 212.8,580.8 213.3,580.3 213.9,583.5 217.4,588.6 217.1,590.8" fill="#f6a9a9" stroke="#9c6262" stroke-opacity="0.85" stroke-width="0.8"/>
<polygon points="214.1,639.3 217.2,639.8 220.6,639.0 225.6,639.5 228.4,641.6 231.0,642.1 233.1,637.1 235.2,633.6 233.0,630.7 231.5,627.1 230.0,624.8 229.3,622.8 226.2,619.1 223.7,620.0 220.5,622.3 218.7,623.9 215.6,624.3 211.8,625.7 209.5,627.3 209.7,629.4 212.0,631.6 213.5,635.1 212.9,637.6" fill="#f48383" stroke="#9c6262" stroke-opacity="0.85" stroke-width="0.8"/>
<polygon points="221.9,845.5 226.9,847.0 229.8,850.7 232.0,849.4 235.8,847.0 239.7,845.9 242.0,845.2 245.3,843.2 248.7,842.0 248.2,840.5 248.3,838.3 251.2,833.5 252.6,828.8 249.9,826.3 248.6,824.6 248.7,819.7 244.4,821.7 240.4,823.3 237.4,823.9 233.1,825.8 229.9,827.8 228.2,827.9 225.2,828.0 223.6,830.9 221.9,834.1 219.0,836.9 218.2,840.0 220.8,843.7" fill="#f6a9a9" stroke="#9c6262" stroke-opacity="0.85" stroke-width="0.8"/>
<polygon points="209.2,444.3 213.4,447.5 212.7,453.6 214.9,455.7 217.7,455.5 219.2,457.9 224.9,460.1 228.9,460.5 229.5,462.0 232.8,460.1 237.4,459.5 236.4,457.9 237.5,454.5 241.4,450.6 237.5,448.1 234.7,444.1 231.5,441.9 228.1,442.5 225.4,441.1 222.3,440.5 219.8,441.5 215.8,442.3 210.8,442.7" fill="#f6a9a9" stroke="#9c6262" stroke-opacity="0.85" stroke-width="0.8"/>
<polygon points="229.6,683.6 231.7,680.9 235.1,679.9 236.8,678.5 239.6,676.3 243.2,674.1 244.8,672.9 240.7,667.5 239.6,663.4 238.5,663.2 234.8,660.8 233.5,656.8 229.8,655.2 226.8,658.2 225.3,660.6 222.2,661.4 219.1,662.7 216.9,664.3 217.1,666.0 217.6,671.0 217.7,676.2 217.6,677.6 219.2,678.5 223.5,682.2 228.7,683.9" fill="#f48383" stroke="#9c6262" stroke-opacity="0.85" stroke-width="0.8"/>
<polygon points="228.0,773.7 230.8,776.2 235.6,777.6 237.2,777.7 238.1,780.3 241.8,783.8 245.6,781.5 247.7,778.4 245.2,773.4 247.4,770.0 247.9,768.9 244.6,765.3 245.6,760.6 247.3,759.0 244.7,756.9 244.0,751.4 244.2,749.6 241.1,750.8 236.0,750.9 233.0,749.3 231.0,749.1 227.5,753.3 225.6,756.0 225.4,757.7 225.6,760.2 225.3,763.6 226.9,768.1 229.4,770.9" fill="#f6a9a9" stroke="#9c6262" stroke-opacity="0.85" stroke-width="0.8"/>
<polygon points="210.8,442.7 215.8,442.3 219.8,441.5 222.3,440.5 225.4,441.1 228.1,442.5 231.5,441.9 232.9,438.4 234.7,434.8 235.9,431.6 236.4,429.7 233.7,429.2 233.3,425.1 228.9,422.5 227.4,418.4 223.5,418.9 220.3,420.7 220.1,426.1 218.3,429.0 216.2,430.3 215.8,432.8 216.1,436.7 214.0,440.1" fill="#f48383" stroke="#9c6262" stroke-opacity="0.85" stroke-width="0.8"/>
<polygon points="233.9,876.3 235.0,879.6 234.6,882.7 234.6,885.3 235.0,887.9 235.0,891.9 239.9,895.5 244.8,896.9 247.1,896.5 248.6,894.6 251.4,892.3 252.5,890.0 254.6,886.7 259.1,884.9 261.7,884.6 263.4,882.5 265.9,879.1 262.5,874.5 261.9,871.1 262.2,871.4 258.2,869.7 256.5,866.1 253.9,867.9 252.0,868.6 247.7,869.3 243.3,870.8 240.7,871.1 237.3,870.6 235.1,873.4" fill="#f6a9a9" stroke="#9c6262" stroke-opacity="0.85" stroke-width="0.8"/>
<polygon points="216.3,170.8 219.0,174.9 220.2,180.4 219.3,181.2 220.8,183.3 221.9,188.4 223.5,188.9 225.8,189.5 230.4,190.7 233.8,191.3 235.9,191.7 237.0,190.8 237.7,187.9 236.5,184.2 234.4,181.7 236.4,180.2 236.5,176.1 234.3,171.6 234.0,169.2 230.2,167.0 225.4,167.5 222.9,167.1 219.3,168.9" fill="#fad2d2" stroke="#9c6262" stroke-opacity="0.85" stroke-width="0.8"/>
<polygon points="229.6,923.3 233.6,922.4 237.0,919.4 238.7,915.5 241.2,913.0 238.9,910.1 241.8,909.3 240.0,903.7 237.4,898.6 240.5,898.1 239.9,895.5 235.0,891.9 233.7,894.9 231.7,896.7 228.0,897.1 225.4,898.7 221.9,900.0 217.8,900.1 218.6,903.4 221.0,907.9 220.8,910.1 219.8,911.4 224.3,916.8 225.2,921.8 225.8,921.5" fill="#f6a9a9" stroke="#9c6262" stroke-opacity="0.85" stroke-width="0.8"/>
<polygon points="217.5,814.1 219.0,815.6 223.0,819.3 222.9,821.7 223.6,824.4 225.2,828.0 228.2,827.9 229.9,827.8 233.1,825.8 237.4,823.9 240.4,823.3 244.4,821.7 248.7,819.7 248.8,818.7 245.3,816.7 242.4,815.7 239.1,813.4 237.6,812.5 236.5,809.0 231.8,804.1 231.1,803.7 229.6,802.0 226.8,801.0 225.4,803.7 223.4,808.1 221.6,812.2" fill="#fad2d2" stroke="#9c6262" stroke-opacity="0.85" stroke-width="0.8"/>
<polygon points="219.2,601.1 218.4,602.4 221.1,605.0 223.7,606.9 226.2,608.5 228.8,611.1 233.6,609.5 236.7,608.4 236.9,604.7 237.9,601.5 239.8,598.4 239.8,595.7 239.2,593.5 236.0,590.8 234.7,586.6 232.3,587.7 228.6,589.8 223.9,592.0 221.1,592.2 217.3,592.9 218.9,597.4" fill="#f6a9a9" stroke="#9c6262" stroke-opacity="0.85" stroke-width="0.8"/>
<polygon points="234.1,708.1 237.9,708.4 241.1,708.2 243.4,706.5 247.5,706.1 251.1,706.5 251.8,703.8 253.4,700.0 256.4,697.4 258.2,695.3 258.6,692.0 255.8,688.6 254.7,685.7 254.3,683.0 250.6,681.4 248.4,680.4 245.0,679.1 239.6,676.3 236.8,678.5 235.1,679.9 231.7,680.9 229.6,683.6 228.4,687.7 230.1,691.7 230.3,693.5 229.7,696.8 230.5,701.9 230.3,705.1" fill="#f48383" stroke="#9c6262" stroke-opacity="0.85" stroke-width="0.8"/>
<polygon points="235.3,211.3 238.1,212.4 241.9,215.0 245.3,213.0 247.8,211.4 249.2,211.3 253.2,209.0 254.3,204.4 253.9,200.4 253.6,199.2 254.1,197.6 253.9,193.6 250.0,190.1 247.5,190.0 241.8,190.9 237.0,190.8 235.9,191.7 236.2,195.8 235.5,200.3 234.0,203.4 232.1,206.5 234.3,209.7" fill="#fad2d2" stroke="#9c6262" stroke-opacity="0.85" stroke-width="0.8"/>
<polygon points="230.2,499.0 233.2,497.7 237.8,498.1 240.6,497.3 244.6,497.2 244.7,492.7 243.8,488.2 243.7,486.0 243.8,482.8 241.0,482.9 238.6,483.2 234.4,482.4 230.9,481.9 229.3,482.1 227.7,485.3 224.7,486.0 223.9,488.5 224.5,493.5 225.9,496.2 228.0,498.1" fill="#f6a9a9" stroke="#9c6262" stroke-opacity="0.85" stroke-width="0.8"/>
<polygon points="232.8,644.2 237.4,644.1 239.8,646.7 242.2,649.3 246.8,648.7 250.3,647.5 252.3,648.9 255.6,650.6 255.6,648.5 257.9,642.7 260.7,637.9 260.8,637.2 260.6,636.0 257.3,632.7 256.2,628.6 251.7,627.6 249.3,625.5 246.0,627.3 244.2,628.1 241.6,629.3 237.7,632.0 235.2,633.6 233.1,637.1 231.0,642.1" fill="#fad2d2" stroke="#9c6262" stroke-opacity="0.85" stroke-width="0.8"/>
<polygon points="220.1,398.5 222.7,402.6 224.2,402.8 227.1,402.3 230.3,405.4 231.9,407.2 233.0,406.5 233.3,405.1 236.1,403.0 238.6,398.5 237.4,393.8 236.1,392.0 238.7,391.0 241.0,386.5 235.9,385.6 233.0,385.0 230.3,385.6 225.8,386.3 222.6,385.1 222.3,388.9 220.1,390.7 219.4,393.3" fill="#f6a9a9" stroke="#9c6262" stroke-opacity="0.85" stroke-width="0.8"/>
<polygon points="229.3,482.1 230.9,481.9 234.4,482.4 238.6,483.2 241.0,482.9 243.8,482.8 247.8,479.2 247.9,475.2 249.0,473.5 248.4,470.7 244.5,467.1 241.4,464.3 240.8,461.3 237.4,459.5 232.8,460.1 229.5,462.0 228.3,465.4 228.3,468.9 228.0,471.6 226.0,474.4" fill="#f6a9a9" stroke="#9c6262" stroke-opacity="0.85" stroke-width="0.8"/>
<polygon points="225.2,230.2 225.5,232.5 229.2,235.2 232.2,236.6 236.2,235.9 236.9,235.8 236.8,235.4 237.4,233.0 241.4,228.8 245.0,225.9 244.8,224.3 241.4,219.6 241.9,215.0 238.1,212.4 235.3,211.3 232.7,213.3 229.8,216.6 227.4,219.2 224.7,222.2 223.9,225.2" fill="#f6a9a9" stroke="#9c6262" stroke-opacity="0.85" stroke-width="0.8"/>
<polygon points="226.2,619.1 229.3,622.8 230.0,624.8 231.5,627.1 233.0,630.7 235.2,633.6 237.7,632.0 241.6,629.3 244.2,628.1 246.0,627.3 249.3,625.5 250.1,622.1 248.9,620.7 247.7,616.1 245.6,612.3 243.4,611.4 240.9,609.8 236.7,608.4 233.6,609.5 228.8,611.1 225.5,615.6" fill="#f6a9a9" stroke="#9c6262" stroke-opacity="0.85" stroke-width="0.8"/>
<polygon points="223.5,142.3 223.1,142.9 225.3,147.3 229.6,152.2 231.9,153.7 236.6,153.4 239.7,152.5 243.5,152.7 247.7,151.1 245.6,145.4 246.4,141.6 249.0,140.3 244.0,138.7 239.5,133.6 237.9,131.4 235.9,131.6 231.2,133.7 228.5,135.9 226.5,139.9" fill="#fad2d2" stroke="#9c6262" stroke-opacity="0.85" stroke-width="0.8"/>
<polygon points="225.3,116.8 227.9,117.0 229.7,116.3 233.2,117.9 237.0,120.5 240.2,119.2 241.7,116.7 244.9,115.5 242.5,111.3 239.2,108.2 237.3,107.9 233.9,104.0 233.5,101.8 231.9,100.5 224.7,97.6 224.5,97.2 222.8,98.7 221.7,102.6 219.8,107.2 221.6,109.7 222.2,112.4" fill="#f6a9a9" stroke="#9c6262" stroke-opacity="0.85" stroke-width="0.8"/>
<polygon points="227.4,418.4 228.9,422.5 233.3,425.1 233.7,429.2 236.4,429.7 240.7,428.2 243.8,428.1 245.3,429.2 249.3,428.6 252.4,425.4 253.8,422.3 256.2,418.2 254.1,415.4 254.3,411.6 250.7,410.8 245.8,410.2 243.2,409.6 241.2,408.2 237.0,406.9 233.0,406.5 231.9,407.2 230.3,410.2 228.6,413.3 228.2,415.7" fill="#f48383" stroke="#9c6262" stroke-opacity="0.85" stroke-width="0.8"/>
<polygon points="231.5,441.9 234.7,444.1 237.5,448.1 241.4,450.6 245.2,449.5 247.1,449.4 249.2,448.1 252.3,446.6 254.1,446.3 256.1,445.5 255.1,441.9 254.7,437.9 251.9,434.7 250.9,431.1 249.3,428.6 245.3,429.2 243.8,428.1 240.7,428.2 236.4,429.7 235.9,431.6 234.7,434.8 232.9,438.4" fill="#f14f4f" stroke="#9c6262" stroke-opacity="0.85" stroke-width="0.8"/>
<polygon points="229.9,569.8 232.7,573.8 236.8,577.2 238.7,575.9 241.4,575.2 245.1,573.3 247.2,571.5 250.3,571.0 254.2,569.8 253.9,566.8 254.0,565.0 253.9,561.6 254.1,557.4 251.2,555.0 248.9,555.3 245.7,556.7 240.5,556.5 237.3,554.9 236.1,554.9 232.9,556.3 228.6,556.8 229.0,558.9 227.5,565.1 229.8,568.9" fill="#f6a9a9" stroke="#9c6262" stroke-opacity="0.85" stroke-width="0.8"/>
<polygon points="221.3,334.5 222.0,338.3 222.6,342.9 222.5,346.2 227.1,347.2 230.6,347.9 232.8,348.1 236.1,348.3 237.9,346.8 241.5,345.2 243.3,342.7 246.1,341.2 246.4,338.0 246.9,334.0 245.3,330.9 245.2,327.4 243.3,329.4 239.9,329.9 237.0,330.0 234.7,331.5 230.6,332.5 226.7,332.5 224.4,333.3" fill="#f6a9a9" stroke="#9c6262" stroke-opacity="0.85" stroke-width="0.8"/>
<polygon points="229.6,262.4 232.8,261.3 236.6,259.2 239.3,258.0 241.4,254.9 245.5,252.3 247.8,251.0 247.6,249.4 246.0,243.1 243.7,240.6 241.8,240.1 240.2,237.6 236.9,235.8 236.2,235.9 233.8,237.6 231.9,241.4 231.2,245.4 229.8,248.6 227.8,251.2 225.8,253.2 227.8,256.6" fill="#fad2d2" stroke="#9c6262" stroke-opacity="0.85" stroke-width="0.8"/>
<polygon points="243.0,276.2 240.9,279.2 238.2,280.8 234.0,282.0 231.3,284.4 229.4,286.4 232.2,287.9 235.4,292.4 234.7,294.5 236.7,294.6 240.8,297.4 241.2,301.2 242.6,304.0 243.3,306.8 243.5,308.6 245.0,304.7 245.4,298.6 246.0,296.0 247.1,294.9 249.4,292.8 252.0,289.0 252.7,285.7 251.7,283.8 252.0,282.1 255.0,279.2 253.6,279.4 250.9,277.7 246.3,275.9" fill="#f6a9a9" stroke="#9c6262" stroke-opacity="0.85" stroke-width="0.8"/>
<polygon points="238.8,366.8 241.5,367.3 244.2,368.7 248.4,372.6 246.4,368.2 246.8,364.7 247.7,363.4 246.5,360.4 246.5,355.3 247.7,351.4 247.1,349.0 246.4,345.9 246.6,343.1 246.1,341.2 243.3,342.7 241.5,345.2 237.9,346.8 236.1,348.3 237.5,352.2 236.4,355.9 236.7,358.4 238.4,362.3" fill="#f6a9a9" stroke="#9c6262" stroke-opacity="0.85" stroke-width="0.8"/>
<polygon points="231.0,749.1 233.0,749.3 236.0,750.9 241.1,750.8 244.2,749.6 246.6,746.4 248.0,745.6 247.5,743.8 247.8,739.0 250.7,734.1 253.1,732.2 247.8,732.2 244.8,731.2 243.0,729.3 241.1,727.6 239.4,725.1 236.4,723.0 233.2,720.9 231.3,722.5 229.8,726.1 226.5,729.9 223.2,731.9 221.8,733.3 224.1,733.8 224.9,737.2 225.1,741.5 228.1,744.0 230.7,745.9" fill="#f6a9a9" stroke="#9c6262" stroke-opacity="0.85" stroke-width="0.8"/>
<polygon points="226.9,511.6 229.9,512.8 232.0,516.9 235.2,516.8 238.0,514.7 243.2,514.3 247.4,515.4 249.8,511.3 252.1,508.9 252.9,508.2 253.1,505.7 252.1,504.8 251.3,500.1 247.1,498.5 244.6,497.2 240.6,497.3 237.8,498.1 233.2,497.7 230.2,499.0 229.4,504.7 227.5,510.2" fill="#fad2d2" stroke="#9c6262" stroke-opacity="0.85" stroke-width="0.8"/>
<polygon points="229.6,802.0 231.1,803.7 231.8,804.1 236.5,809.0 237.6,812.5 239.1,813.4 242.4,815.7 245.3,816.7 248.8,818.7 248.8,816.3 249.4,815.3 252.2,813.7 254.4,811.5 256.2,808.5 258.1,804.6 255.5,802.2 253.6,801.4 252.9,800.1 249.9,795.6 246.9,792.5 246.1,791.8 242.7,789.1 240.3,786.8 237.9,789.2 234.8,791.5 234.0,793.8 232.3,798.1" fill="#f14f4f" stroke="#9c6262" stroke-opacity="0.85" stroke-width="0.8"/>
<polygon points="244.9,961.1 247.8,959.3 251.2,958.7 255.1,957.9 257.5,955.1 261.2,954.6 263.6,953.5 264.0,950.4 264.8,946.6 263.4,943.1 263.6,940.3 263.3,937.0 261.9,933.2 257.4,931.8 254.6,934.1 251.8,935.9 247.7,936.5 245.5,938.5 242.6,940.1 239.0,940.2 239.8,944.2 242.0,946.5 242.0,951.8 243.0,954.9 244.6,956.3" fill="#f14f4f" stroke="#9c6262" stroke-opacity="0.85" stroke-width="0.8"/>
<polygon points="229.6,923.3 230.7,926.6 231.1,928.3 233.0,932.0 232.6,936.1 233.8,937.5 239.0,940.2 242.6,940.1 245.5,938.5 247.7,936.5 251.8,935.9 254.6,934.1 257.4,931.8 256.6,929.6 256.1,925.4 254.5,923.3 254.2,922.7 254.7,918.7 250.2,916.5 247.0,916.8 245.5,916.1 241.2,913.0 238.7,915.5 237.0,919.4 233.6,922.4" fill="#f14f4f" stroke="#9c6262" stroke-opacity="0.85" stroke-width="0.8"/>
<polygon points="290.3,128.4 290.6,130.0 292.9,131.2 297.6,130.6 301.6,129.8 304.3,129.4 305.3,128.2 304.2,125.4 303.5,118.9 304.7,115.2 304.3,114.1 303.7,111.1 303.2,107.5 300.8,108.7 296.8,111.2 294.9,113.4 294.4,113.9 290.8,114.6 286.6,116.3 287.5,119.3 286.8,124.4 289.1,127.3" fill="#f6a9a9" stroke="#9c6262" stroke-opacity="0.85" stroke-width="0.8"/>
<polygon points="233.0,406.5 237.0,406.9 241.2,408.2 243.2,409.6 245.8,410.2 250.7,410.8 254.3,411.6 256.4,406.9 257.4,403.6 259.2,401.7 260.8,399.9 262.5,398.0 265.3,394.9 267.5,390.9 262.4,391.1 257.5,389.7 255.9,389.9 255.5,388.6 251.3,386.8 247.5,386.5 247.5,379.3 244.1,381.6 242.9,383.4 241.0,386.5 238.7,391.0 236.1,392.0 237.4,393.8 238.6,398.5 236.1,403.0 233.3,405.1" fill="#f14f4f" stroke="#9c6262" stroke-opacity="0.85" stroke-width="0.8"/>
<polygon points="230.2,167.0 234.0,169.2 235.9,168.3 238.8,168.4 244.0,167.7 248.0,167.5 251.8,168.3 254.0,165.6 252.3,160.3 251.2,155.5 251.0,153.9 248.7,152.1 247.7,151.1 243.5,152.7 239.7,152.5 236.6,153.4 231.9,153.7 230.1,156.2 230.8,159.1 231.4,162.7" fill="#fad2d2" stroke="#9c6262" stroke-opacity="0.85" stroke-width="0.8"/>
<polygon points="229.8,655.2 233.5,656.8 234.8,660.8 238.5,663.2 239.6,663.4 240.7,667.5 242.1,664.2 246.1,661.6 249.0,660.8 250.5,658.6 253.2,654.7 255.4,652.0 255.6,650.6 252.3,648.9 250.3,647.5 246.8,648.7 242.2,649.3 239.8,646.7 237.4,644.1 232.8,644.2 233.5,648.0 233.0,650.6 231.0,652.5" fill="#f6a9a9" stroke="#9c6262" stroke-opacity="0.85" stroke-width="0.8"/>
<polygon points="237.3,870.6 240.7,871.1 243.3,870.8 247.7,869.3 252.0,868.6 253.9,867.9 256.5,866.1 259.3,862.2 257.5,859.9 256.1,855.5 255.9,852.7 252.3,850.5 251.6,847.3 250.7,844.6 248.7,842.0 245.3,843.2 242.0,845.2 239.7,845.9 235.8,847.0 232.0,849.4 229.8,850.7 231.9,852.1 233.0,854.5 233.1,858.2 233.6,861.1 235.0,864.2 236.9,867.6" fill="#f14f4f" stroke="#9c6262" stroke-opacity="0.85" stroke-width="0.8"/>
<polygon points="244.0,751.4 246.1,754.2 252.2,755.6 256.1,754.4 257.5,754.9 262.7,757.2 263.9,755.5 264.6,751.3 268.6,747.7 271.1,743.7 268.2,743.3 266.0,738.3 268.0,733.1 264.2,732.9 260.9,730.1 257.5,730.1 255.8,731.6 253.1,732.2 250.7,734.1 247.8,739.0 247.5,743.8 248.0,745.6 246.6,746.4 244.2,749.6" fill="#f48383" stroke="#9c6262" stroke-opacity="0.85" stroke-width="0.8"/>
<polygon points="249.0,140.3 251.7,135.7 252.5,132.2 253.7,130.0 254.1,127.5 254.8,124.2 255.5,121.3 255.4,121.4 250.2,120.3 246.5,116.2 244.9,115.5 241.7,116.7 240.2,119.2 237.0,120.5 235.9,122.2 235.7,124.2 236.6,127.9 235.9,131.6 237.9,131.4 239.5,133.6 244.0,138.7" fill="#f6a9a9" stroke="#9c6262" stroke-opacity="0.85" stroke-width="0.8"/>
<polygon points="237.4,459.5 240.8,461.3 241.4,464.3 244.5,467.1 248.4,470.7 251.3,468.6 253.5,467.4 255.3,465.6 259.0,462.7 262.6,461.1 262.1,458.6 260.3,456.0 261.3,452.9 261.5,451.0 260.5,447.7 257.6,445.5 256.1,445.5 254.1,446.3 252.3,446.6 249.2,448.1 247.1,449.4 245.2,449.5 241.4,450.6 237.5,454.5 236.4,457.9" fill="#f6a9a9" stroke="#9c6262" stroke-opacity="0.85" stroke-width="0.8"/>
<polygon points="237.0,190.8 241.8,190.9 247.5,190.0 250.0,190.1 250.4,187.5 250.2,183.5 250.8,179.6 252.9,177.1 253.5,174.5 252.5,171.0 251.8,168.3 248.0,167.5 244.0,167.7 238.8,168.4 235.9,168.3 234.0,169.2 234.3,171.6 236.5,176.1 236.4,180.2 234.4,181.7 236.5,184.2 237.7,187.9" fill="#f48383" stroke="#9c6262" stroke-opacity="0.85" stroke-width="0.8"/>
<polygon points="233.2,720.9 236.4,723.0 239.4,725.1 241.1,727.6 243.0,729.3 244.8,731.2 247.8,732.2 253.1,732.2 255.8,731.6 257.5,730.1 260.9,730.1 261.8,726.5 261.1,722.9 261.7,719.0 259.5,716.4 256.6,714.1 255.3,710.1 252.5,707.8 251.1,706.5 247.5,706.1 243.4,706.5 241.1,708.2 237.9,708.4 234.1,708.1 233.2,711.4 233.2,715.2 233.6,718.6" fill="#f6a9a9" stroke="#9c6262" stroke-opacity="0.85" stroke-width="0.8"/>
<polygon points="243.8,482.8 243.7,486.0 243.8,488.2 244.7,492.7 244.6,497.2 247.1,498.5 251.3,500.1 252.1,504.8 253.1,505.7 260.5,504.1 262.1,500.3 261.3,498.6 262.3,494.1 260.9,488.6 260.7,485.9 261.5,483.4 256.3,481.7 252.9,482.9 251.0,482.6 247.8,479.2" fill="#f48383" stroke="#9c6262" stroke-opacity="0.85" stroke-width="0.8"/>
<polygon points="234.7,586.6 236.0,590.8 239.2,593.5 243.0,592.3 245.4,592.1 248.5,593.0 252.6,593.0 255.1,591.8 257.1,590.7 261.2,589.1 263.7,585.5 262.6,582.6 258.5,579.2 258.1,578.0 256.8,573.8 254.2,569.8 250.3,571.0 247.2,571.5 245.1,573.3 241.4,575.2 238.7,575.9 236.8,577.2 233.2,580.5" fill="#f6a9a9" stroke="#9c6262" stroke-opacity="0.85" stroke-width="0.8"/>
<polygon points="234.3,536.0 236.4,537.0 238.2,537.5 243.3,537.5 246.8,535.3 247.7,532.3 249.7,531.0 248.5,528.7 251.7,523.9 250.1,521.4 246.7,519.9 247.4,515.4 243.2,514.3 238.0,514.7 235.2,516.8 232.0,516.9 231.1,519.5 233.9,520.7 233.8,525.1 231.3,530.3 233.4,532.7" fill="#f48383" stroke="#9c6262" stroke-opacity="0.85" stroke-width="0.8"/>
<polygon points="236.7,608.4 240.9,609.8 243.4,611.4 245.6,612.3 249.6,610.9 254.0,608.1 256.1,606.7 253.4,604.4 255.1,602.1 258.1,597.4 256.8,593.3 255.1,591.8 252.6,593.0 248.5,593.0 245.4,592.1 243.0,592.3 239.2,593.5 239.8,595.7 239.8,598.4 237.9,601.5 236.9,604.7" fill="#f48383" stroke="#9c6262" stroke-opacity="0.85" stroke-width="0.8"/>
<polygon points="254.1,557.4 257.5,556.0 259.5,554.2 263.1,554.0 266.1,553.1 267.0,548.0 269.6,542.8 270.7,540.7 267.3,538.4 266.4,534.5 261.6,531.7 257.1,530.7 255.2,530.7 249.7,531.0 247.7,532.3 246.8,535.3 243.3,537.5 243.6,539.2 243.9,542.4 248.1,544.0 248.9,546.1 247.7,550.9 250.0,554.0 251.2,555.0" fill="#f48383" stroke="#9c6262" stroke-opacity="0.85" stroke-width="0.8"/>
<polygon points="243.0,276.2 246.3,275.9 250.9,277.7 253.6,279.4 255.0,279.2 259.0,275.4 260.0,272.2 260.5,268.1 262.2,263.8 260.1,263.3 256.6,261.7 252.4,260.0 251.6,259.8 248.4,256.5 245.5,252.3 241.4,254.9 239.3,258.0 236.6,259.2 232.8,261.3 233.9,262.6 236.4,266.3 238.0,267.7 239.2,269.5 242.2,273.7" fill="#f6a9a9" stroke="#9c6262" stroke-opacity="0.85" stroke-width="0.8"/>
<polygon points="236.9,235.8 240.2,237.6 241.8,240.1 243.7,240.6 246.0,243.1 250.2,240.8 253.2,240.3 257.2,239.2 256.4,235.1 254.9,233.8 253.8,229.8 255.3,224.2 251.9,224.9 247.9,226.1 244.8,224.3 245.0,225.9 241.4,228.8 237.4,233.0 236.8,235.4" fill="#f6a9a9" stroke="#9c6262" stroke-opacity="0.85" stroke-width="0.8"/>
<polygon points="251.2,155.5 254.5,155.1 258.4,154.2 261.5,152.8 264.4,151.3 266.4,148.2 266.7,144.1 267.2,141.4 264.9,141.4 264.2,141.5 260.2,140.4 254.5,137.7 251.7,135.7 249.0,140.3 246.4,141.6 245.6,145.4 247.7,151.1 248.7,152.1 251.0,153.9" fill="#f48383" stroke="#9c6262" stroke-opacity="0.85" stroke-width="0.8"/>
<polygon points="248.7,819.7 248.6,824.6 249.9,826.3 252.6,828.8 255.3,829.9 258.7,830.6 262.0,830.7 264.1,831.0 266.6,831.8 268.8,830.0 270.4,827.5 271.1,825.8 273.8,822.1 276.0,817.3 273.7,814.9 273.8,813.6 275.8,810.0 273.8,805.2 271.5,802.2 270.3,801.6 267.8,802.9 263.4,803.2 260.5,803.3 258.1,804.6 256.2,808.5 254.4,811.5 252.2,813.7 249.4,815.3 248.8,816.3 248.8,818.7" fill="#f14f4f" stroke="#9c6262" stroke-opacity="0.85" stroke-width="0.8"/>
<polygon points="239.6,676.3 245.0,679.1 248.4,680.4 250.6,681.4 254.3,683.0 256.3,679.6 257.0,677.5 258.1,675.7 262.0,673.3 265.7,671.3 266.3,669.5 267.0,666.5 270.0,663.1 267.5,661.9 264.6,660.4 262.0,659.5 257.4,656.5 255.4,652.0 253.2,654.7 250.5,658.6 249.0,660.8 246.1,661.6 242.1,664.2 240.7,667.5 244.8,672.9 243.2,674.1" fill="#f6a9a9" stroke="#9c6262" stroke-opacity="0.85" stroke-width="0.8"/>
<polygon points="240.3,786.8 242.7,789.1 246.1,791.8 246.9,792.5 249.9,795.6 252.9,800.1 253.6,801.4 255.5,802.2 258.1,804.6 260.5,803.3 263.4,803.2 267.8,802.9 270.3,801.6 270.2,799.4 269.4,795.1 268.0,790.3 266.9,788.6 265.7,786.3 263.8,782.6 263.7,780.6 262.1,777.1 258.1,775.8 256.2,776.3 254.0,778.0 250.7,778.6 247.7,778.4 245.6,781.5 241.8,783.8" fill="#f48383" stroke="#9c6262" stroke-opacity="0.85" stroke-width="0.8"/>
<polygon points="253.9,193.6 259.8,193.1 263.1,192.7 265.7,190.9 267.3,188.0 268.0,185.0 270.0,182.8 272.3,180.3 270.5,176.7 269.4,174.8 265.2,173.1 262.4,171.5 260.9,171.3 257.5,171.6 252.5,171.0 253.5,174.5 252.9,177.1 250.8,179.6 250.2,183.5 250.4,187.5 250.0,190.1" fill="#f48383" stroke="#9c6262" stroke-opacity="0.85" stroke-width="0.8"/>
<polygon points="248.7,842.0 250.7,844.6 251.6,847.3 252.3,850.5 255.9,852.7 256.1,855.5 257.5,859.9 261.0,858.0 265.1,855.4 267.5,854.3 271.6,852.1 274.6,849.4 271.8,845.9 273.5,841.5 271.6,840.4 268.0,838.3 268.4,834.7 266.6,831.8 264.1,831.0 262.0,830.7 258.7,830.6 255.3,829.9 252.6,828.8 251.2,833.5 248.3,838.3 248.2,840.5" fill="#f14f4f" stroke="#9c6262" stroke-opacity="0.85" stroke-width="0.8"/>
<polygon points="256.1,445.5 257.6,445.5 260.4,442.8 262.6,441.1 265.5,439.6 269.5,436.8 271.3,434.5 272.2,433.5 274.7,431.5 276.9,428.8 277.4,427.0 275.4,425.4 273.2,424.5 269.6,424.8 266.5,424.0 263.9,421.9 260.8,420.4 258.7,419.3 256.2,418.2 253.8,422.3 252.4,425.4 249.3,428.6 250.9,431.1 251.9,434.7 254.7,437.9 255.1,441.9" fill="#f48383" stroke="#9c6262" stroke-opacity="0.85" stroke-width="0.8"/>
<polygon points="251.7,135.7 254.5,137.7 260.2,140.4 264.2,141.5 264.9,141.4 267.2,141.4 269.6,140.8 270.5,139.3 270.5,135.7 272.1,130.9 271.3,128.1 268.7,125.6 268.9,122.6 267.0,119.1 263.2,119.1 259.4,118.9 255.5,121.3 254.8,124.2 254.1,127.5 253.7,130.0 252.5,132.2" fill="#f6a9a9" stroke="#9c6262" stroke-opacity="0.85" stroke-width="0.8"/>
<polygon points="246.0,243.1 247.6,249.4 247.8,251.0 245.5,252.3 248.4,256.5 251.6,259.8 252.4,260.0 256.6,261.7 260.1,263.3 262.2,263.8 263.6,261.8 265.2,260.5 267.5,256.9 263.7,252.8 263.7,250.9 263.7,249.6 260.1,245.4 259.1,242.1 257.9,239.4 257.2,239.2 253.2,240.3 250.2,240.8" fill="#f6a9a9" stroke="#9c6262" stroke-opacity="0.85" stroke-width="0.8"/>
<polygon points="271.4,234.3 268.6,236.3 265.1,237.3 262.5,237.5 257.9,239.4 259.1,242.1 260.1,245.4 263.7,249.6 263.7,250.9 263.7,252.8 267.5,256.9 268.4,252.3 268.6,249.7 270.9,248.1 274.0,244.6 275.8,240.0 277.1,237.1 272.8,234.4" fill="#f48383" stroke="#9c6262" stroke-opacity="0.85" stroke-width="0.8"/>
<polygon points="244.8,224.3 247.9,226.1 251.9,224.9 255.3,224.2 257.0,223.6 259.6,222.1 262.4,218.7 265.6,216.2 263.5,214.3 260.2,210.9 256.2,208.8 253.2,209.0 249.2,211.3 247.8,211.4 245.3,213.0 241.9,215.0 241.4,219.6" fill="#f6a9a9" stroke="#9c6262" stroke-opacity="0.85" stroke-width="0.8"/>
<polygon points="247.4,515.4 246.7,519.9 250.1,521.4 251.7,523.9 248.5,528.7 249.7,531.0 255.2,530.7 257.1,530.7 261.6,531.7 261.7,529.4 264.4,526.0 266.6,522.0 265.9,518.9 266.1,516.2 268.9,512.8 266.9,509.8 261.8,508.8 260.5,504.1 253.1,505.7 252.9,508.2 252.1,508.9 249.8,511.3" fill="#f6a9a9" stroke="#9c6262" stroke-opacity="0.85" stroke-width="0.8"/>
<polygon points="247.7,778.4 250.7,778.6 254.0,778.0 256.2,776.3 258.1,775.8 262.1,777.1 264.7,774.9 266.4,771.3 267.2,767.6 266.0,765.4 262.6,760.4 264.2,757.8 262.7,757.2 257.5,754.9 256.1,754.4 252.2,755.6 246.1,754.2 244.0,751.4 244.7,756.9 247.3,759.0 245.6,760.6 244.6,765.3 247.9,768.9 247.4,770.0 245.2,773.4" fill="#f48383" stroke="#9c6262" stroke-opacity="0.85" stroke-width="0.8"/>
<polygon points="254.2,569.8 256.8,573.8 258.1,578.0 258.5,579.2 262.6,582.6 263.8,580.9 266.9,580.5 269.7,578.9 272.3,576.8 276.2,575.6 279.1,573.5 280.5,570.1 279.1,564.6 281.2,564.2 279.4,562.7 275.0,558.6 272.6,556.3 270.6,555.5 268.1,554.2 266.1,553.1 263.1,554.0 259.5,554.2 257.5,556.0 254.1,557.4 253.9,561.6 254.0,565.0 253.9,566.8" fill="#f6a9a9" stroke="#9c6262" stroke-opacity="0.85" stroke-width="0.8"/>
<polygon points="249.3,625.5 251.7,627.6 256.2,628.6 257.3,632.7 260.6,636.0 264.9,633.5 264.8,629.4 266.0,625.9 269.7,622.7 273.0,619.4 270.8,617.6 267.9,615.1 268.2,610.9 265.0,610.8 261.5,611.8 259.6,609.8 256.1,606.7 254.0,608.1 249.6,610.9 245.6,612.3 247.7,616.1 248.9,620.7 250.1,622.1" fill="#f6a9a9" stroke="#9c6262" stroke-opacity="0.85" stroke-width="0.8"/>
<polygon points="256.2,418.2 258.7,419.3 260.8,420.4 263.9,421.9 266.5,424.0 269.6,424.8 273.2,424.5 275.4,425.4 277.4,427.0 280.7,425.8 283.1,422.9 281.7,418.5 281.5,416.2 280.3,414.5 278.4,411.3 276.4,407.7 275.3,403.8 273.0,400.8 272.0,399.4 272.6,396.8 269.7,393.1 268.2,390.3 267.5,390.9 265.3,394.9 262.5,398.0 260.8,399.9 259.2,401.7 257.4,403.6 256.4,406.9 254.3,411.6 254.1,415.4" fill="#f6a9a9" stroke="#9c6262" stroke-opacity="0.85" stroke-width="0.8"/>
<polygon points="256.1,606.7 259.6,609.8 261.5,611.8 265.0,610.8 268.2,610.9 269.9,609.1 271.0,607.5 270.5,604.8 270.7,601.8 274.2,599.3 278.7,596.3 275.1,592.8 270.2,592.4 269.0,590.9 266.8,587.9 264.7,586.9 263.7,585.5 261.2,589.1 257.1,590.7 255.1,591.8 256.8,593.3 258.1,597.4 255.1,602.1 253.4,604.4" fill="#f6a9a9" stroke="#9c6262" stroke-opacity="0.85" stroke-width="0.8"/>
<polygon points="248.6,894.6 251.3,896.3 253.6,898.6 254.6,898.8 259.4,903.4 261.6,907.6 264.0,905.8 268.4,904.2 271.8,904.7 274.1,905.0 274.2,898.0 276.5,895.8 278.4,895.1 275.5,890.3 272.6,886.9 272.4,885.5 270.0,881.9 267.7,879.5 265.9,879.1 263.4,882.5 261.7,884.6 259.1,884.9 254.6,886.7 252.5,890.0 251.4,892.3" fill="#f14f4f" stroke="#9c6262" stroke-opacity="0.85" stroke-width="0.8"/>
<polygon points="241.2,913.0 245.5,916.1 247.0,916.8 250.2,916.5 254.7,918.7 255.9,914.6 255.1,910.2 258.2,908.5 261.6,907.6 259.4,903.4 254.6,898.8 253.6,898.6 251.3,896.3 248.6,894.6 247.1,896.5 244.8,896.9 239.9,895.5 240.5,898.1 237.4,898.6 240.0,903.7 241.8,909.3 238.9,910.1" fill="#f14f4f" stroke="#9c6262" stroke-opacity="0.85" stroke-width="0.8"/>
<polygon points="255.4,652.0 257.4,656.5 262.0,659.5 264.6,660.4 267.5,661.9 270.0,663.1 273.4,663.5 277.1,662.5 281.4,660.2 279.4,656.2 277.9,651.5 278.9,648.7 279.9,647.4 279.8,643.8 276.9,641.0 275.1,638.9 272.1,638.1 269.0,635.9 268.1,633.8 264.9,633.5 260.6,636.0 260.8,637.2 260.7,637.9 257.9,642.7 255.6,648.5 255.6,650.6" fill="#f48383" stroke="#9c6262" stroke-opacity="0.85" stroke-width="0.8"/>
<polygon points="261.5,483.4 263.7,483.1 266.7,480.2 270.1,477.1 272.3,475.0 269.1,471.9 269.2,472.3 266.0,468.0 263.0,463.4 262.6,461.1 259.0,462.7 255.3,465.6 253.5,467.4 251.3,468.6 248.4,470.7 249.0,473.5 247.9,475.2 247.8,479.2 251.0,482.6 252.9,482.9 256.3,481.7" fill="#f48383" stroke="#9c6262" stroke-opacity="0.85" stroke-width="0.8"/>
<polygon points="253.2,209.0 256.2,208.8 260.2,210.9 263.5,214.3 265.6,216.2 268.7,216.9 272.0,213.8 273.1,209.7 272.6,209.3 274.2,205.4 273.0,200.8 269.9,200.0 266.9,199.0 264.9,194.7 263.1,192.7 259.8,193.1 253.9,193.6 254.1,197.6 253.6,199.2 253.9,200.4 254.3,204.4" fill="#fad2d2" stroke="#9c6262" stroke-opacity="0.85" stroke-width="0.8"/>
<polygon points="252.5,171.0 257.5,171.6 260.9,171.3 262.4,171.5 265.2,173.1 269.4,174.8 269.1,170.2 269.4,166.4 272.2,164.9 274.2,163.2 268.1,158.5 265.3,154.4 261.5,152.8 258.4,154.2 254.5,155.1 251.2,155.5 252.3,160.3 254.0,165.6 251.8,168.3" fill="#f6a9a9" stroke="#9c6262" stroke-opacity="0.85" stroke-width="0.8"/>
<polygon points="381.5,946.5 380.0,948.9 378.3,949.4 375.8,950.2 373.9,953.0 370.7,955.5 372.8,960.0 376.4,960.3 380.7,961.7 385.0,962.0 388.3,963.4 390.3,964.1 388.9,961.5 387.1,960.2 384.7,955.0 385.3,951.2 383.4,950.5" fill="#f48383" stroke="#9c6262" stroke-opacity="0.85" stroke-width="0.8"/>
<polygon points="257.4,931.8 261.9,933.2 264.6,932.4 265.8,928.9 268.7,926.3 270.7,924.6 271.8,922.7 274.3,920.2 277.2,917.9 277.8,915.3 277.7,911.9 276.2,908.9 274.1,905.0 271.8,904.7 268.4,904.2 264.0,905.8 261.6,907.6 258.2,908.5 255.1,910.2 255.9,914.6 254.7,918.7 254.2,922.7 254.5,923.3 256.1,925.4 256.6,929.6" fill="#f14f4f" stroke="#9c6262" stroke-opacity="0.85" stroke-width="0.8"/>
<polygon points="263.6,953.5 263.7,953.3 266.0,951.3 270.1,950.1 272.9,947.5 276.4,944.4 279.6,941.6 282.2,937.5 279.0,937.4 275.2,935.9 272.6,933.8 268.7,932.9 264.6,932.4 261.9,933.2 263.3,937.0 263.6,940.3 263.4,943.1 264.8,946.6 264.0,950.4" fill="#f14f4f" stroke="#9c6262" stroke-opacity="0.85" stroke-width="0.8"/>
<polygon points="251.1,706.5 252.5,707.8 255.3,710.1 256.6,714.1 259.5,716.4 261.7,719.0 264.9,717.7 267.8,717.2 269.6,715.1 272.8,712.0 275.6,710.4 277.0,709.0 279.9,706.8 279.6,703.3 275.7,701.9 274.8,699.4 274.2,695.2 272.1,693.8 269.5,694.5 267.3,693.1 263.0,691.8 258.6,692.0 258.2,695.3 256.4,697.4 253.4,700.0 251.8,703.8" fill="#f14f4f" stroke="#9c6262" stroke-opacity="0.85" stroke-width="0.8"/>
<polygon points="257.2,239.2 257.9,239.4 262.5,237.5 265.1,237.3 268.6,236.3 271.4,234.3 268.2,231.4 268.0,225.7 270.1,224.4 268.0,223.6 268.7,216.9 265.6,216.2 262.4,218.7 259.6,222.1 257.0,223.6 255.3,224.2 253.8,229.8 254.9,233.8 256.4,235.1" fill="#f6a9a9" stroke="#9c6262" stroke-opacity="0.85" stroke-width="0.8"/>
<polygon points="256.5,866.1 258.2,869.7 262.2,871.4 261.9,871.1 262.5,874.5 265.9,879.1 267.7,879.5 268.7,877.5 272.1,874.2 275.9,871.8 278.2,871.4 281.5,870.2 284.0,867.8 285.3,866.2 283.2,861.7 281.8,858.6 279.5,857.7 276.4,852.3 276.2,849.4 274.6,849.4 271.6,852.1 267.5,854.3 265.1,855.4 261.0,858.0 257.5,859.9 259.3,862.2" fill="#f14f4f" stroke="#9c6262" stroke-opacity="0.85" stroke-width="0.8"/>
<polygon points="261.3,452.9 264.7,451.5 267.2,452.3 270.8,454.1 275.3,453.8 277.5,452.3 280.4,450.4 284.2,448.6 285.6,445.9 281.8,441.4 283.2,439.0 282.0,436.0 278.4,431.0 276.9,428.8 274.7,431.5 272.2,433.5 271.3,434.5 269.5,436.8 265.5,439.6 262.6,441.1 260.4,442.8 257.6,445.5 260.5,447.7 261.5,451.0" fill="#f6a9a9" stroke="#9c6262" stroke-opacity="0.85" stroke-width="0.8"/>
<polygon points="262.1,500.3 265.2,497.9 269.1,496.5 271.4,496.4 273.8,495.2 277.6,493.5 280.0,493.0 280.0,488.0 280.3,484.3 282.7,481.3 278.1,475.1 275.6,476.0 272.3,475.0 270.1,477.1 266.7,480.2 263.7,483.1 261.5,483.4 260.7,485.9 260.9,488.6 262.3,494.1 261.3,498.6" fill="#f48383" stroke="#9c6262" stroke-opacity="0.85" stroke-width="0.8"/>
<polygon points="258.6,692.0 263.0,691.8 267.3,693.1 269.5,694.5 272.1,693.8 274.6,691.4 275.6,689.5 278.1,686.6 282.1,682.7 279.1,678.1 276.8,675.6 277.5,673.0 276.9,670.2 275.0,667.0 273.4,663.5 270.0,663.1 267.0,666.5 266.3,669.5 265.7,671.3 262.0,673.3 258.1,675.7 257.0,677.5 256.3,679.6 254.3,683.0 254.7,685.7 255.8,688.6" fill="#fad2d2" stroke="#9c6262" stroke-opacity="0.85" stroke-width="0.8"/>
<polygon points="266.4,771.3 271.2,772.3 275.4,772.8 278.2,771.1 280.9,767.6 282.1,764.5 281.7,760.5 283.3,756.6 285.1,754.5 284.6,752.6 280.5,750.5 277.0,749.4 275.3,750.2 272.6,750.3 268.6,747.7 264.6,751.3 263.9,755.5 262.7,757.2 264.2,757.8 262.6,760.4 266.0,765.4 267.2,767.6" fill="#f6a9a9" stroke="#9c6262" stroke-opacity="0.85" stroke-width="0.8"/>
<polygon points="270.7,540.7 272.7,539.8 276.1,538.4 280.2,538.3 281.2,534.3 281.2,529.8 281.7,527.4 283.9,525.5 285.3,522.1 282.3,518.1 280.7,514.8 278.9,513.5 274.8,513.0 270.3,513.6 268.9,512.8 266.1,516.2 265.9,518.9 266.6,522.0 264.4,526.0 261.7,529.4 261.6,531.7 266.4,534.5 267.3,538.4" fill="#f48383" stroke="#9c6262" stroke-opacity="0.85" stroke-width="0.8"/>
<polygon points="262.1,777.1 263.7,780.6 263.8,782.6 265.7,786.3 266.9,788.6 268.0,790.3 269.4,795.1 270.2,799.4 270.3,801.6 271.5,802.2 272.2,802.2 275.8,801.8 279.2,799.7 281.5,796.3 284.7,793.5 287.0,790.6 286.2,787.2 284.8,784.9 284.7,781.0 283.8,777.4 283.0,775.3 280.5,773.0 278.2,771.1 275.4,772.8 271.2,772.3 266.4,771.3 264.7,774.9" fill="#fad2d2" stroke="#9c6262" stroke-opacity="0.85" stroke-width="0.8"/>
<polygon points="272.1,130.9 275.0,130.1 278.3,130.7 281.4,130.4 286.1,128.8 290.3,128.4 289.1,127.3 286.8,124.4 287.5,119.3 286.6,116.3 282.8,116.9 279.2,117.2 276.6,118.7 274.6,119.3 267.0,119.1 268.9,122.6 268.7,125.6 271.3,128.1" fill="#f6a9a9" stroke="#9c6262" stroke-opacity="0.85" stroke-width="0.8"/>
<polygon points="268.7,216.9 268.0,223.6 270.1,224.4 268.0,225.7 268.2,231.4 271.4,234.3 272.8,234.4 277.1,237.1 277.9,235.2 277.6,232.1 278.3,228.3 281.5,225.8 284.9,224.8 284.9,223.2 279.4,221.5 277.5,219.6 274.3,217.8 272.0,213.8" fill="#f6a9a9" stroke="#9c6262" stroke-opacity="0.85" stroke-width="0.8"/>
<polygon points="283.1,422.9 283.5,422.7 284.3,420.1 287.2,418.4 290.6,416.3 292.5,413.6 295.0,412.1 297.7,410.9 299.1,407.7 301.3,404.1 299.6,402.2 295.9,401.9 293.8,399.7 292.3,398.5 289.8,397.9 287.4,394.8 284.1,391.4 281.6,389.7 279.4,388.7 275.8,390.1 270.8,390.1 268.2,390.3 269.7,393.1 272.6,396.8 272.0,399.4 273.0,400.8 275.3,403.8 276.4,407.7 278.4,411.3 280.3,414.5 281.5,416.2 281.7,418.5" fill="#f6a9a9" stroke="#9c6262" stroke-opacity="0.85" stroke-width="0.8"/>
<polygon points="262.6,461.1 263.0,463.4 266.0,468.0 269.2,472.3 269.1,471.9 272.3,475.0 275.6,476.0 278.1,475.1 279.8,473.5 283.5,472.5 287.0,469.9 284.3,464.3 282.9,460.4 283.9,458.3 279.3,454.4 277.5,452.3 275.3,453.8 270.8,454.1 267.2,452.3 264.7,451.5 261.3,452.9 260.3,456.0 262.1,458.6" fill="#f6a9a9" stroke="#9c6262" stroke-opacity="0.85" stroke-width="0.8"/>
<polygon points="310.8,390.4 312.4,387.0 316.3,384.5 318.7,382.4 317.9,379.7 317.6,376.9 319.7,374.7 319.2,370.9 315.1,368.0 312.0,365.2 312.1,361.4 308.1,362.4 304.7,362.5 299.7,363.6 297.7,366.6 297.2,369.5 295.5,372.1 292.9,374.8 294.9,376.8 298.3,378.9 303.1,381.6 305.8,386.1 308.6,387.1 310.0,387.1" fill="#fad2d2" stroke="#9c6262" stroke-opacity="0.85" stroke-width="0.8"/>
<polygon points="274.2,163.2 277.1,161.0 280.3,158.7 281.2,155.7 282.5,153.7 284.7,150.5 281.5,147.8 279.3,146.4 275.8,145.3 273.8,143.1 273.3,141.5 269.6,140.8 267.2,141.4 266.7,144.1 266.4,148.2 264.4,151.3 261.5,152.8 265.3,154.4 268.1,158.5" fill="#f6a9a9" stroke="#9c6262" stroke-opacity="0.85" stroke-width="0.8"/>
<polygon points="272.3,180.3 275.4,180.8 279.6,180.2 284.9,181.0 286.4,177.4 289.2,174.7 289.9,173.2 288.5,169.8 286.3,166.3 284.7,166.2 283.1,163.3 280.3,158.7 277.1,161.0 274.2,163.2 272.2,164.9 269.4,166.4 269.1,170.2 269.4,174.8 270.5,176.7" fill="#f6a9a9" stroke="#9c6262" stroke-opacity="0.85" stroke-width="0.8"/>
<polygon points="264.6,932.4 268.7,932.9 272.6,933.8 275.2,935.9 279.0,937.4 282.2,937.5 283.4,936.0 286.0,932.9 286.0,931.2 286.2,928.4 288.6,925.8 288.2,921.6 286.3,919.5 285.3,917.2 284.8,913.2 277.7,911.9 277.8,915.3 277.2,917.9 274.3,920.2 271.8,922.7 270.7,924.6 268.7,926.3 265.8,928.9" fill="#f14f4f" stroke="#9c6262" stroke-opacity="0.85" stroke-width="0.8"/>
<polygon points="260.9,730.1 264.2,732.9 267.3,731.5 271.3,729.7 274.7,729.6 276.0,730.5 278.0,730.6 282.1,730.5 285.8,730.6 285.9,727.6 287.5,721.1 287.3,718.5 285.2,717.6 287.1,711.2 285.2,707.0 279.9,706.8 277.0,709.0 275.6,710.4 272.8,712.0 269.6,715.1 267.8,717.2 264.9,717.7 261.7,719.0 261.1,722.9 261.8,726.5" fill="#f14f4f" stroke="#9c6262" stroke-opacity="0.85" stroke-width="0.8"/>
<polygon points="260.5,504.1 261.8,508.8 266.9,509.8 268.9,512.8 270.3,513.6 274.8,513.0 278.9,513.5 280.7,514.8 283.9,511.4 286.6,508.2 286.3,506.5 286.0,504.8 284.9,501.7 283.8,498.3 280.1,496.8 280.0,493.0 277.6,493.5 273.8,495.2 271.4,496.4 269.1,496.5 265.2,497.9 262.1,500.3" fill="#f6a9a9" stroke="#9c6262" stroke-opacity="0.85" stroke-width="0.8"/>
<polygon points="263.7,585.5 264.7,586.9 266.8,587.9 269.0,590.9 270.2,592.4 275.1,592.8 278.7,596.3 280.5,596.6 282.4,595.5 287.4,595.1 291.7,594.9 290.7,591.1 291.6,589.1 295.9,587.4 295.6,583.6 290.7,581.0 287.0,580.5 286.1,577.7 282.9,574.7 281.5,573.6 280.5,570.1 279.1,573.5 276.2,575.6 272.3,576.8 269.7,578.9 266.9,580.5 263.8,580.9 262.6,582.6" fill="#fad2d2" stroke="#9c6262" stroke-opacity="0.85" stroke-width="0.8"/>
<polygon points="263.1,192.7 264.9,194.7 266.9,199.0 269.9,200.0 273.0,200.8 274.2,205.4 277.0,202.7 280.7,201.7 284.3,200.2 286.2,198.0 286.1,197.7 285.2,195.2 287.5,190.6 286.3,188.8 284.7,186.1 284.9,181.0 279.6,180.2 275.4,180.8 272.3,180.3 270.0,182.8 268.0,185.0 267.3,188.0 265.7,190.9" fill="#fad2d2" stroke="#9c6262" stroke-opacity="0.85" stroke-width="0.8"/>
<polygon points="274.6,849.4 276.2,849.4 279.2,848.1 283.0,845.2 285.4,843.1 289.6,841.8 292.8,839.0 290.6,838.1 288.2,834.4 289.6,830.2 286.7,828.7 283.0,827.7 281.1,826.4 276.0,826.3 271.1,825.8 270.4,827.5 268.8,830.0 266.6,831.8 268.4,834.7 268.0,838.3 271.6,840.4 273.5,841.5 271.8,845.9" fill="#f14f4f" stroke="#9c6262" stroke-opacity="0.85" stroke-width="0.8"/>
<polygon points="273.0,619.4 274.4,620.2 277.3,621.5 280.8,621.1 283.7,619.9 287.1,619.7 289.9,617.2 290.3,613.2 292.1,611.0 296.0,609.7 294.9,605.8 291.2,602.9 290.5,599.6 291.7,594.9 287.4,595.1 282.4,595.5 280.5,596.6 278.7,596.3 274.2,599.3 270.7,601.8 270.5,604.8 271.0,607.5 269.9,609.1 268.2,610.9 267.9,615.1 270.8,617.6" fill="#f6a9a9" stroke="#9c6262" stroke-opacity="0.85" stroke-width="0.8"/>
<polygon points="301.3,404.1 302.7,404.7 305.7,401.8 307.1,399.2 309.4,397.0 312.4,395.7 313.7,393.5 310.8,390.4 310.0,387.1 308.6,387.1 305.8,386.1 303.1,381.6 298.3,378.9 294.9,376.8 292.9,374.8 291.3,378.1 290.8,382.2 289.7,386.5 287.8,388.9 283.8,388.9 279.4,388.7 281.6,389.7 284.1,391.4 287.4,394.8 289.8,397.9 292.3,398.5 293.8,399.7 295.9,401.9 299.6,402.2" fill="#fad2d2" stroke="#9c6262" stroke-opacity="0.85" stroke-width="0.8"/>
<polygon points="279.9,706.8 285.2,707.0 287.5,706.0 291.5,703.9 294.7,702.5 293.4,700.9 295.6,696.4 299.4,691.5 296.2,689.6 294.3,688.0 294.6,682.9 289.7,683.0 285.4,683.8 284.0,683.5 282.1,682.7 278.1,686.6 275.6,689.5 274.6,691.4 272.1,693.8 274.2,695.2 274.8,699.4 275.7,701.9 279.6,703.3" fill="#f6a9a9" stroke="#9c6262" stroke-opacity="0.85" stroke-width="0.8"/>
<polygon points="277.7,911.9 284.8,913.2 287.5,912.4 289.0,912.2 291.8,910.9 294.3,909.8 296.0,910.1 299.4,909.5 303.7,907.7 303.1,905.6 302.4,900.7 297.7,897.0 297.3,895.0 298.6,893.3 295.7,890.8 293.9,887.0 290.9,889.1 287.6,890.5 285.4,891.4 281.6,893.7 278.4,895.1 276.5,895.8 274.2,898.0 274.1,905.0 276.2,908.9" fill="#f6a9a9" stroke="#9c6262" stroke-opacity="0.85" stroke-width="0.8"/>
<polygon points="266.1,553.1 268.1,554.2 270.6,555.5 272.6,556.3 275.0,558.6 279.4,562.7 281.2,564.2 283.7,563.3 285.4,560.5 288.6,558.1 291.0,556.7 292.9,554.4 293.6,553.8 292.7,550.9 291.6,544.7 293.4,541.8 289.0,540.4 284.7,539.0 282.8,539.3 280.2,538.3 276.1,538.4 272.7,539.8 270.7,540.7 269.6,542.8 267.0,548.0" fill="#f14f4f" stroke="#9c6262" stroke-opacity="0.85" stroke-width="0.8"/>
<polygon points="276.9,428.8 278.4,431.0 282.0,436.0 283.2,439.0 281.8,441.4 285.6,445.9 288.2,445.8 289.8,445.3 293.3,445.1 297.7,445.3 300.7,445.9 301.8,445.3 300.2,442.8 301.1,439.4 304.6,436.5 303.8,433.1 298.8,430.5 296.7,429.2 295.0,429.0 290.7,426.1 288.5,423.0 287.0,423.1 283.5,422.7 283.1,422.9 280.7,425.8 277.4,427.0" fill="#f48383" stroke="#9c6262" stroke-opacity="0.85" stroke-width="0.8"/>
<polygon points="277.5,452.3 279.3,454.4 283.9,458.3 282.9,460.4 284.3,464.3 287.0,469.9 288.5,469.3 291.4,468.5 295.0,465.9 297.8,464.4 299.2,460.6 301.5,457.7 298.7,453.4 298.4,449.0 300.7,445.9 297.7,445.3 293.3,445.1 289.8,445.3 288.2,445.8 285.6,445.9 284.2,448.6 280.4,450.4" fill="#f6a9a9" stroke="#9c6262" stroke-opacity="0.85" stroke-width="0.8"/>
<polygon points="279.8,643.8 282.4,640.6 284.8,638.9 288.8,637.8 291.5,635.9 293.3,635.0 291.6,632.9 289.8,628.4 288.2,624.5 286.7,622.0 287.1,619.7 283.7,619.9 280.8,621.1 277.3,621.5 274.4,620.2 273.0,619.4 269.7,622.7 266.0,625.9 264.8,629.4 264.9,633.5 268.1,633.8 269.0,635.9 272.1,638.1 275.1,638.9 276.9,641.0" fill="#f6a9a9" stroke="#9c6262" stroke-opacity="0.85" stroke-width="0.8"/>
<polygon points="284.7,150.5 288.6,149.9 287.1,144.4 289.0,140.4 291.0,139.3 289.8,135.6 290.6,130.0 290.3,128.4 286.1,128.8 281.4,130.4 278.3,130.7 275.0,130.1 272.1,130.9 270.5,135.7 270.5,139.3 269.6,140.8 273.3,141.5 273.8,143.1 275.8,145.3 279.3,146.4 281.5,147.8" fill="#f6a9a9" stroke="#9c6262" stroke-opacity="0.85" stroke-width="0.8"/>
<polygon points="264.2,732.9 268.0,733.1 266.0,738.3 268.2,743.3 271.1,743.7 268.6,747.7 272.6,750.3 275.3,750.2 277.0,749.4 280.5,750.5 284.6,752.6 287.5,749.6 288.7,745.1 289.0,742.3 287.5,740.3 287.3,734.9 288.6,730.5 285.8,730.6 282.1,730.5 278.0,730.6 276.0,730.5 274.7,729.6 271.3,729.7 267.3,731.5" fill="#f14f4f" stroke="#9c6262" stroke-opacity="0.85" stroke-width="0.8"/>
<polygon points="303.7,907.7 299.4,909.5 296.0,910.1 294.3,909.8 291.8,910.9 289.0,912.2 287.5,912.4 284.8,913.2 285.3,917.2 286.3,919.5 288.2,921.6 288.6,925.8 291.3,923.0 294.8,921.6 299.1,919.8 299.9,918.0 302.4,914.8 305.0,910.5 305.8,907.6 306.2,907.3" fill="#f6a9a9" stroke="#9c6262" stroke-opacity="0.85" stroke-width="0.8"/>
<polygon points="282.7,481.3 283.7,482.5 286.8,482.7 291.4,483.3 294.6,484.1 297.4,484.8 300.1,486.7 302.9,485.7 306.0,483.8 307.5,482.3 309.8,482.2 309.5,479.4 308.7,475.3 308.0,472.0 307.3,470.2 304.2,469.9 301.8,467.8 297.8,464.4 295.0,465.9 291.4,468.5 288.5,469.3 287.0,469.9 283.5,472.5 279.8,473.5 278.1,475.1" fill="#f6a9a9" stroke="#9c6262" stroke-opacity="0.85" stroke-width="0.8"/>
<polygon points="271.1,825.8 276.0,826.3 281.1,826.4 283.0,827.7 286.7,828.7 288.1,827.7 290.3,825.4 293.3,821.3 297.9,817.9 297.5,812.5 292.7,813.1 290.2,811.8 289.6,809.2 286.3,808.7 283.6,808.1 281.6,805.6 276.6,803.4 272.2,802.2 271.5,802.2 273.8,805.2 275.8,810.0 273.8,813.6 273.7,814.9 276.0,817.3 273.8,822.1" fill="#f14f4f" stroke="#9c6262" stroke-opacity="0.85" stroke-width="0.8"/>
<polygon points="295.9,587.4 298.6,584.8 300.4,580.8 301.5,578.1 302.5,575.5 303.4,571.2 301.9,568.3 301.6,564.3 299.8,562.3 300.1,561.4 298.9,556.6 292.9,554.4 291.0,556.7 288.6,558.1 285.4,560.5 283.7,563.3 281.2,564.2 279.1,564.6 280.5,570.1 281.5,573.6 282.9,574.7 286.1,577.7 287.0,580.5 290.7,581.0 295.6,583.6" fill="#f6a9a9" stroke="#9c6262" stroke-opacity="0.85" stroke-width="0.8"/>
<polygon points="319.7,374.7 323.6,374.6 327.1,374.1 330.7,373.0 333.2,373.0 335.5,372.0 337.7,369.8 339.9,365.5 339.0,360.8 336.7,360.6 334.0,360.7 331.3,360.0 328.7,359.6 324.5,361.1 320.2,362.8 318.2,362.5 316.1,361.2 312.1,361.4 312.0,365.2 315.1,368.0 319.2,370.9" fill="#f6a9a9" stroke="#9c6262" stroke-opacity="0.85" stroke-width="0.8"/>
<polygon points="278.2,771.1 280.5,773.0 283.0,775.3 286.4,775.5 289.0,774.4 293.1,773.3 297.2,773.8 299.1,773.7 301.7,772.1 304.9,771.0 306.4,769.8 306.7,766.7 303.0,762.9 301.3,760.8 300.1,757.9 297.5,755.2 295.4,753.4 291.4,751.4 288.5,749.6 287.5,749.6 284.6,752.6 285.1,754.5 283.3,756.6 281.7,760.5 282.1,764.5 280.9,767.6" fill="#f14f4f" stroke="#9c6262" stroke-opacity="0.85" stroke-width="0.8"/>
<polygon points="272.0,213.8 274.3,217.8 277.5,219.6 279.4,221.5 284.9,223.2 283.8,219.2 287.1,214.5 291.1,211.2 292.3,208.8 290.6,207.5 288.0,203.4 288.6,198.7 286.2,198.0 284.3,200.2 280.7,201.7 277.0,202.7 274.2,205.4 272.6,209.3 273.1,209.7" fill="#f6a9a9" stroke="#9c6262" stroke-opacity="0.85" stroke-width="0.8"/>
<polygon points="282.1,682.7 284.0,683.5 285.4,683.8 289.7,683.0 294.6,682.9 294.7,679.2 293.7,677.3 296.1,674.5 299.9,671.2 298.0,666.5 294.8,664.1 296.3,662.0 293.3,660.7 289.6,661.0 286.4,661.4 284.2,660.8 281.4,660.2 277.1,662.5 273.4,663.5 275.0,667.0 276.9,670.2 277.5,673.0 276.8,675.6 279.1,678.1" fill="#fad2d2" stroke="#9c6262" stroke-opacity="0.85" stroke-width="0.8"/>
<polygon points="284.9,181.0 284.7,186.1 286.3,188.8 287.5,190.6 285.2,195.2 286.1,197.7 291.1,197.4 293.9,196.5 295.2,195.4 298.5,195.9 302.2,196.6 305.7,195.5 305.6,191.4 308.3,186.9 306.7,184.7 302.8,182.7 301.2,180.5 298.0,180.4 294.3,180.1 292.4,177.2 289.2,174.7 286.4,177.4" fill="#f48383" stroke="#9c6262" stroke-opacity="0.85" stroke-width="0.8"/>
<polygon points="280.3,158.7 283.1,163.3 284.7,166.2 286.3,166.3 288.5,169.8 289.9,173.2 291.3,170.7 293.7,168.0 297.1,167.0 299.5,165.7 300.9,160.3 298.6,155.3 298.5,153.3 296.1,151.9 293.4,150.5 291.4,150.7 288.6,149.9 284.7,150.5 282.5,153.7 281.2,155.7" fill="#fad2d2" stroke="#9c6262" stroke-opacity="0.85" stroke-width="0.8"/>
<polygon points="304.3,129.4 307.7,133.1 310.9,132.3 313.5,129.4 316.1,128.1 318.9,126.0 319.7,123.0 319.8,120.4 322.7,117.1 321.8,115.3 320.5,113.9 317.3,110.3 315.8,108.8 312.7,107.8 310.5,105.8 306.9,105.7 303.2,107.5 303.7,111.1 304.3,114.1 304.7,115.2 303.5,118.9 304.2,125.4 305.3,128.2" fill="#f6a9a9" stroke="#9c6262" stroke-opacity="0.85" stroke-width="0.8"/>
<polygon points="285.3,866.2 286.8,866.4 290.2,864.1 292.7,861.3 294.8,860.1 298.3,859.3 300.6,857.4 301.9,855.9 301.6,853.1 302.0,848.1 302.3,844.3 298.6,843.9 294.3,840.4 292.8,839.0 289.6,841.8 285.4,843.1 283.0,845.2 279.2,848.1 276.2,849.4 276.4,852.3 279.5,857.7 281.8,858.6 283.2,861.7" fill="#f14f4f" stroke="#9c6262" stroke-opacity="0.85" stroke-width="0.8"/>
<polygon points="278.4,895.1 281.6,893.7 285.4,891.4 287.6,890.5 290.9,889.1 293.9,887.0 296.0,884.4 299.9,883.4 296.0,881.5 293.1,876.8 291.3,873.1 290.5,871.2 288.8,868.3 286.8,866.4 285.3,866.2 284.0,867.8 281.5,870.2 278.2,871.4 275.9,871.8 272.1,874.2 268.7,877.5 267.7,879.5 270.0,881.9 272.4,885.5 272.6,886.9 275.5,890.3" fill="#f14f4f" stroke="#9c6262" stroke-opacity="0.85" stroke-width="0.8"/>
<polygon points="285.3,522.1 288.5,522.5 292.5,522.0 294.6,522.8 296.6,525.1 300.9,525.8 302.4,521.4 301.8,517.0 302.4,514.3 305.7,512.2 307.6,509.1 302.1,506.4 297.8,504.6 294.6,502.5 291.2,503.0 286.0,504.8 286.3,506.5 286.6,508.2 283.9,511.4 280.7,514.8 282.3,518.1" fill="#f6a9a9" stroke="#9c6262" stroke-opacity="0.85" stroke-width="0.8"/>
<polygon points="281.4,660.2 284.2,660.8 286.4,661.4 289.6,661.0 293.3,660.7 296.3,662.0 300.8,660.1 301.2,654.7 298.6,649.2 301.2,647.7 300.0,645.1 299.5,640.3 301.9,637.3 297.4,636.4 293.3,635.0 291.5,635.9 288.8,637.8 284.8,638.9 282.4,640.6 279.8,643.8 279.9,647.4 278.9,648.7 277.9,651.5 279.4,656.2" fill="#f6a9a9" stroke="#9c6262" stroke-opacity="0.85" stroke-width="0.8"/>
<polygon points="285.8,730.6 288.6,730.5 287.3,734.9 287.5,740.3 289.0,742.3 288.7,745.1 287.5,749.6 288.5,749.6 292.6,747.7 295.5,747.0 298.6,745.3 302.8,743.5 305.0,743.3 307.2,742.7 310.7,740.8 312.8,739.8 310.7,735.8 311.4,732.2 310.1,729.6 306.3,728.2 304.0,726.4 300.1,726.5 296.3,726.5 294.2,726.0 290.9,726.5 285.9,727.6" fill="#f14f4f" stroke="#9c6262" stroke-opacity="0.85" stroke-width="0.8"/>
<polygon points="292.8,839.0 294.3,840.4 298.6,843.9 302.3,844.3 304.3,841.5 307.2,839.7 310.6,838.7 312.0,836.4 311.7,834.0 312.9,830.2 313.1,826.5 308.6,826.1 304.0,824.9 302.7,822.3 300.9,821.7 297.9,817.9 293.3,821.3 290.3,825.4 288.1,827.7 286.7,828.7 289.6,830.2 288.2,834.4 290.6,838.1" fill="#f14f4f" stroke="#9c6262" stroke-opacity="0.85" stroke-width="0.8"/>
<polygon points="285.9,727.6 290.9,726.5 294.2,726.0 296.3,726.5 300.1,726.5 304.0,726.4 305.3,722.9 306.6,719.7 307.6,717.7 308.8,716.0 310.3,713.2 308.6,710.6 306.6,707.8 303.0,707.2 298.6,706.9 296.6,704.3 294.7,702.5 291.5,703.9 287.5,706.0 285.2,707.0 287.1,711.2 285.2,717.6 287.3,718.5 287.5,721.1" fill="#fad2d2" stroke="#9c6262" stroke-opacity="0.85" stroke-width="0.8"/>
<polygon points="280.0,493.0 280.1,496.8 283.8,498.3 284.9,501.7 286.0,504.8 291.2,503.0 294.6,502.5 296.1,499.6 296.9,496.8 297.5,494.3 299.0,490.8 300.1,486.7 297.4,484.8 294.6,484.1 291.4,483.3 286.8,482.7 283.7,482.5 282.7,481.3 280.3,484.3 280.0,488.0" fill="#f6a9a9" stroke="#9c6262" stroke-opacity="0.85" stroke-width="0.8"/>
<polygon points="305.7,195.5 302.2,196.6 298.5,195.9 295.2,195.4 293.9,196.5 291.1,197.4 286.1,197.7 286.2,198.0 288.6,198.7 288.0,203.4 290.6,207.5 292.3,208.8 294.2,208.1 297.0,207.4 299.0,204.9 301.8,204.8 307.0,205.8 310.6,205.9 313.2,205.4 316.9,206.2 316.2,201.4 312.2,198.0 308.7,196.2" fill="#fad2d2" stroke="#9c6262" stroke-opacity="0.85" stroke-width="0.8"/>
<polygon points="293.3,635.0 297.4,636.4 301.9,637.3 306.1,634.9 307.7,634.4 307.8,630.8 307.6,625.0 308.9,621.4 311.7,620.4 313.5,618.5 310.6,612.1 308.8,611.1 305.1,610.1 301.3,609.5 298.9,610.0 296.0,609.7 292.1,611.0 290.3,613.2 289.9,617.2 287.1,619.7 286.7,622.0 288.2,624.5 289.8,628.4 291.6,632.9" fill="#f6a9a9" stroke="#9c6262" stroke-opacity="0.85" stroke-width="0.8"/>
<polygon points="359.2,330.5 361.4,326.4 361.7,324.1 360.6,323.1 357.5,319.0 353.5,318.0 350.6,313.3 351.7,308.6 353.2,305.5 351.9,305.1 350.5,308.4 348.5,311.0 349.1,314.1 349.5,318.1 348.7,321.5 349.6,323.6 350.0,326.3 347.4,330.1 346.5,332.8 349.5,334.5 353.7,333.9 356.9,332.3" fill="#f48383" stroke="#9c6262" stroke-opacity="0.85" stroke-width="0.8"/>
<polygon points="272.2,802.2 276.6,803.4 281.6,805.6 283.6,808.1 286.3,808.7 289.6,809.2 290.2,811.8 292.7,813.1 297.5,812.5 298.4,811.2 301.0,808.9 303.4,806.4 303.2,803.1 305.0,800.1 307.4,796.4 305.5,793.2 305.5,793.1 301.6,792.8 299.9,792.0 297.0,790.8 291.7,790.1 288.1,790.4 287.0,790.6 284.7,793.5 281.5,796.3 279.2,799.7 275.8,801.8" fill="#f14f4f" stroke="#9c6262" stroke-opacity="0.85" stroke-width="0.8"/>
<polygon points="280.2,538.3 282.8,539.3 284.7,539.0 289.0,540.4 293.4,541.8 295.4,541.2 297.8,539.5 301.9,537.2 304.5,535.6 308.0,532.5 303.5,528.4 301.2,526.2 300.9,525.8 296.6,525.1 294.6,522.8 292.5,522.0 288.5,522.5 285.3,522.1 283.9,525.5 281.7,527.4 281.2,529.8 281.2,534.3" fill="#f48383" stroke="#9c6262" stroke-opacity="0.85" stroke-width="0.8"/>
<polygon points="291.7,594.9 290.5,599.6 291.2,602.9 294.9,605.8 296.0,609.7 298.9,610.0 301.3,609.5 305.1,610.1 308.8,611.1 310.6,612.1 314.5,608.3 316.9,606.6 315.4,604.2 313.5,600.6 314.5,597.0 314.4,593.3 313.2,589.2 309.7,588.7 307.5,588.2 306.2,585.9 302.6,584.5 298.6,584.8 295.9,587.4 291.6,589.1 290.7,591.1" fill="#f6a9a9" stroke="#9c6262" stroke-opacity="0.85" stroke-width="0.8"/>
<polygon points="297.9,817.9 300.9,821.7 302.7,822.3 304.0,824.9 308.6,826.1 313.1,826.5 314.6,825.5 315.3,823.3 319.1,820.5 322.4,818.1 323.3,814.6 323.3,814.5 320.2,812.5 318.6,810.4 317.8,809.9 316.0,806.2 313.5,801.8 307.9,801.4 305.0,800.1 303.2,803.1 303.4,806.4 301.0,808.9 298.4,811.2 297.5,812.5" fill="#f14f4f" stroke="#9c6262" stroke-opacity="0.85" stroke-width="0.8"/>
<polygon points="299.9,883.4 303.9,882.0 305.8,881.8 306.9,878.9 307.5,873.5 308.3,869.4 309.6,868.1 311.9,865.9 310.0,862.5 307.0,859.8 305.4,857.4 301.9,855.9 300.6,857.4 298.3,859.3 294.8,860.1 292.7,861.3 290.2,864.1 286.8,866.4 288.8,868.3 290.5,871.2 291.3,873.1 293.1,876.8 296.0,881.5" fill="#f48383" stroke="#9c6262" stroke-opacity="0.85" stroke-width="0.8"/>
<polygon points="300.7,445.9 298.4,449.0 298.7,453.4 301.5,457.7 299.2,460.6 297.8,464.4 301.8,467.8 304.2,469.9 307.3,470.2 309.3,468.4 311.7,467.1 315.2,464.9 317.4,461.0 320.8,458.5 321.3,456.2 320.0,453.6 319.5,448.3 316.7,447.3 313.6,446.0 310.4,445.0 307.2,445.3 304.8,446.0 301.8,445.3" fill="#f14f4f" stroke="#9c6262" stroke-opacity="0.85" stroke-width="0.8"/>
<polygon points="289.2,174.7 292.4,177.2 294.3,180.1 298.0,180.4 301.2,180.5 302.8,182.7 306.7,184.7 307.8,183.1 309.1,179.8 311.6,176.3 313.6,174.2 315.0,172.1 315.1,170.0 311.1,169.2 308.2,167.2 306.5,164.6 302.0,165.0 299.5,165.7 297.1,167.0 293.7,168.0 291.3,170.7 289.9,173.2" fill="#fad2d2" stroke="#9c6262" stroke-opacity="0.85" stroke-width="0.8"/>
<polygon points="299.4,691.5 300.9,692.5 303.6,693.2 307.1,691.9 309.7,690.6 313.5,690.3 313.9,688.3 315.5,684.0 316.9,679.1 315.5,675.8 310.8,675.8 309.2,674.7 305.2,672.2 300.4,671.8 299.9,671.2 296.1,674.5 293.7,677.3 294.7,679.2 294.6,682.9 294.3,688.0 296.2,689.6" fill="#fad2d2" stroke="#9c6262" stroke-opacity="0.85" stroke-width="0.8"/>
<polygon points="283.0,775.3 283.8,777.4 284.7,781.0 284.8,784.9 286.2,787.2 287.0,790.6 288.1,790.4 291.7,790.1 297.0,790.8 299.9,792.0 301.6,792.8 305.5,793.1 305.8,789.7 307.6,786.1 306.0,783.3 305.1,780.1 306.8,776.0 305.9,772.8 304.9,771.0 301.7,772.1 299.1,773.7 297.2,773.8 293.1,773.3 289.0,774.4 286.4,775.5" fill="#f14f4f" stroke="#9c6262" stroke-opacity="0.85" stroke-width="0.8"/>
<polygon points="292.9,554.4 298.9,556.6 302.6,555.7 304.7,555.0 308.6,553.3 311.3,553.1 313.5,552.7 314.9,551.1 312.5,545.2 311.1,541.4 311.5,539.9 308.6,535.4 309.8,532.0 308.0,532.5 304.5,535.6 301.9,537.2 297.8,539.5 295.4,541.2 293.4,541.8 291.6,544.7 292.7,550.9 293.6,553.8" fill="#f6a9a9" stroke="#9c6262" stroke-opacity="0.85" stroke-width="0.8"/>
<polygon points="305.5,793.2 308.9,792.3 312.0,790.5 315.9,789.5 318.3,790.4 319.8,790.9 323.4,789.7 327.0,788.8 329.3,788.4 330.7,787.2 333.1,783.7 334.0,777.9 333.6,774.2 330.2,774.6 327.3,774.5 323.9,773.0 319.5,772.9 317.3,772.8 314.7,770.9 309.3,769.6 306.6,769.6 306.4,769.8 304.9,771.0 305.9,772.8 306.8,776.0 305.1,780.1 306.0,783.3 307.6,786.1 305.8,789.7 305.5,793.1" fill="#f6a9a9" stroke="#9c6262" stroke-opacity="0.85" stroke-width="0.8"/>
<polygon points="306.4,769.8 306.6,769.6 309.5,766.4 312.6,762.7 314.0,759.7 315.1,756.4 317.0,752.6 317.8,749.8 318.4,748.4 319.2,746.1 316.7,742.7 315.3,741.2 312.8,739.8 310.7,740.8 307.2,742.7 305.0,743.3 302.8,743.5 298.6,745.3 295.5,747.0 292.6,747.7 288.5,749.6 291.4,751.4 295.4,753.4 297.5,755.2 300.1,757.9 301.3,760.8 303.0,762.9 306.7,766.7" fill="#f48383" stroke="#9c6262" stroke-opacity="0.85" stroke-width="0.8"/>
<polygon points="303.8,433.1 305.6,431.3 308.6,429.8 310.9,426.6 310.3,420.6 311.6,418.0 310.4,416.3 308.4,412.5 308.6,411.0 305.5,410.0 302.7,404.7 301.3,404.1 299.1,407.7 297.7,410.9 295.0,412.1 292.5,413.6 290.6,416.3 287.2,418.4 284.3,420.1 283.5,422.7 287.0,423.1 288.5,423.0 290.7,426.1 295.0,429.0 296.7,429.2 298.8,430.5" fill="#f6a9a9" stroke="#9c6262" stroke-opacity="0.85" stroke-width="0.8"/>
<polygon points="294.6,502.5 297.8,504.6 302.1,506.4 307.6,509.1 310.8,507.4 313.1,506.7 316.4,505.3 318.2,503.2 319.3,501.2 317.9,499.7 316.2,495.6 314.7,493.7 312.4,492.4 313.0,487.5 312.2,483.7 309.9,482.3 309.8,482.2 307.5,482.3 306.0,483.8 302.9,485.7 300.1,486.7 299.0,490.8 297.5,494.3 296.9,496.8 296.1,499.6" fill="#f6a9a9" stroke="#9c6262" stroke-opacity="0.85" stroke-width="0.8"/>
<polygon points="354.1,918.6 353.6,915.1 352.7,911.8 350.2,908.7 349.0,907.8 347.2,905.9 344.6,904.9 342.4,903.6 338.5,899.1 336.5,902.0 333.7,904.8 329.1,905.4 326.6,907.3 329.1,911.2 331.6,912.2 334.3,914.7 337.3,917.1 340.6,918.0 344.8,919.2 346.6,920.9 348.0,922.3 351.8,924.8 353.6,922.4" fill="#f48383" stroke="#9c6262" stroke-opacity="0.85" stroke-width="0.8"/>
<polygon points="314.4,886.1 313.0,885.3 311.9,883.4 307.7,882.8 305.8,881.8 303.9,882.0 299.9,883.4 296.0,884.4 293.9,887.0 295.7,890.8 298.6,893.3 297.3,895.0 297.7,897.0 302.4,900.7 303.1,905.6 303.7,907.7 306.2,907.3 308.3,906.4 311.5,903.7 311.9,899.4 313.1,897.3 313.2,897.3 316.1,894.6 317.7,890.4" fill="#f48383" stroke="#9c6262" stroke-opacity="0.85" stroke-width="0.8"/>
<polygon points="313.2,897.3 319.3,899.3 322.0,904.9 325.1,906.7 326.6,907.3 329.1,905.4 333.7,904.8 336.5,902.0 338.5,899.1 338.2,895.3 339.3,894.4 339.1,889.9 337.7,883.1 334.9,883.7 333.4,883.2 332.0,880.5 327.9,880.5 325.0,882.1 321.0,883.4 316.7,884.1 314.4,886.1 317.7,890.4 316.1,894.6" fill="#f6a9a9" stroke="#9c6262" stroke-opacity="0.85" stroke-width="0.8"/>
<polygon points="288.6,149.9 291.4,150.7 293.4,150.5 296.1,151.9 298.5,153.3 302.0,152.7 303.9,151.5 306.6,148.3 306.8,142.8 307.2,138.9 308.1,139.0 308.0,138.3 307.7,133.1 304.3,129.4 301.6,129.8 297.6,130.6 292.9,131.2 290.6,130.0 289.8,135.6 291.0,139.3 289.0,140.4 287.1,144.4" fill="#f6a9a9" stroke="#9c6262" stroke-opacity="0.85" stroke-width="0.8"/>
<polygon points="298.5,153.3 298.6,155.3 300.9,160.3 299.5,165.7 302.0,165.0 306.5,164.6 308.2,167.2 311.1,169.2 315.1,170.0 314.6,166.7 315.4,163.9 318.6,160.7 318.9,157.0 317.2,154.2 314.7,153.4 314.3,150.2 310.4,148.8 306.6,148.3 303.9,151.5 302.0,152.7" fill="#f6a9a9" stroke="#9c6262" stroke-opacity="0.85" stroke-width="0.8"/>
<polygon points="296.3,662.0 294.8,664.1 298.0,666.5 299.9,671.2 300.4,671.8 305.2,672.2 309.2,674.7 310.8,675.8 315.5,675.8 318.9,674.1 321.5,670.5 322.3,668.5 323.1,666.2 323.9,662.4 321.6,660.1 321.3,658.2 316.1,655.8 311.8,656.2 309.2,657.7 305.6,656.7 301.2,654.7 300.8,660.1" fill="#f6a9a9" stroke="#9c6262" stroke-opacity="0.85" stroke-width="0.8"/>
<polygon points="312.8,739.8 315.3,741.2 318.0,738.9 321.5,735.5 324.3,733.3 327.4,731.8 329.5,729.6 325.8,726.1 325.9,721.6 327.1,718.4 324.1,716.8 320.8,715.7 318.9,715.7 315.0,714.6 312.2,712.6 310.3,713.2 308.8,716.0 307.6,717.7 306.6,719.7 305.3,722.9 304.0,726.4 306.3,728.2 310.1,729.6 311.4,732.2 310.7,735.8" fill="#f14f4f" stroke="#9c6262" stroke-opacity="0.85" stroke-width="0.8"/>
<polygon points="353.2,305.5 355.6,302.8 359.2,301.5 363.2,298.9 367.2,297.5 369.8,296.3 373.0,293.4 377.5,291.6 376.0,290.3 375.5,288.5 371.3,285.5 368.6,285.4 365.0,284.9 360.9,281.6 359.4,284.9 355.7,288.5 353.5,291.2 351.9,292.1 352.6,294.6 351.0,297.8 350.8,301.4 351.9,305.1" fill="#f48383" stroke="#9c6262" stroke-opacity="0.85" stroke-width="0.8"/>
<polygon points="294.7,702.5 296.6,704.3 298.6,706.9 303.0,707.2 306.6,707.8 308.6,710.6 310.3,713.2 312.2,712.6 314.4,708.2 315.3,704.3 315.6,701.3 316.2,698.3 317.5,695.2 315.4,692.5 313.5,690.3 309.7,690.6 307.1,691.9 303.6,693.2 300.9,692.5 299.4,691.5 295.6,696.4 293.4,700.9" fill="#f14f4f" stroke="#9c6262" stroke-opacity="0.85" stroke-width="0.8"/>
<polygon points="308.0,532.5 309.8,532.0 312.1,529.9 314.1,528.6 317.3,526.1 319.0,525.2 322.1,525.2 325.6,522.2 325.7,520.3 321.2,515.9 320.6,512.8 322.3,511.6 320.0,507.6 318.2,503.2 316.4,505.3 313.1,506.7 310.8,507.4 307.6,509.1 305.7,512.2 302.4,514.3 301.8,517.0 302.4,521.4 300.9,525.8 301.2,526.2 303.5,528.4" fill="#f6a9a9" stroke="#9c6262" stroke-opacity="0.85" stroke-width="0.8"/>
<polygon points="306.7,184.7 308.3,186.9 305.6,191.4 305.7,195.5 308.7,196.2 312.2,198.0 316.2,201.4 316.9,206.2 319.5,206.9 322.7,201.4 323.6,196.7 323.0,194.3 322.8,193.0 323.7,190.6 324.6,187.0 325.2,183.7 326.0,180.8 326.6,177.7 325.6,174.3 319.1,173.2 315.0,172.1 313.6,174.2 311.6,176.3 309.1,179.8 307.8,183.1" fill="#fad2d2" stroke="#9c6262" stroke-opacity="0.85" stroke-width="0.8"/>
<polygon points="301.9,855.9 305.4,857.4 307.0,859.8 310.0,862.5 311.9,865.9 314.0,864.1 318.0,863.1 323.8,863.5 324.9,858.7 327.5,855.9 329.9,855.5 330.3,853.8 328.5,849.1 326.2,845.5 325.2,844.4 321.1,842.1 317.8,839.7 315.4,837.3 312.0,836.4 310.6,838.7 307.2,839.7 304.3,841.5 302.3,844.3 302.0,848.1 301.6,853.1" fill="#f14f4f" stroke="#9c6262" stroke-opacity="0.85" stroke-width="0.8"/>
<polygon points="302.7,404.7 305.5,410.0 308.6,411.0 308.4,412.5 310.4,416.3 311.6,418.0 313.4,416.9 315.6,415.0 320.1,414.7 323.6,415.0 327.3,413.9 332.0,412.8 334.7,412.8 335.0,412.6 333.4,409.8 332.3,405.7 333.7,401.9 331.4,398.0 328.1,397.5 326.5,397.7 322.7,396.9 318.1,394.4 315.9,393.0 313.7,393.5 312.4,395.7 309.4,397.0 307.1,399.2 305.7,401.8" fill="#fad2d2" stroke="#9c6262" stroke-opacity="0.85" stroke-width="0.8"/>
<polygon points="301.2,654.7 305.6,656.7 309.2,657.7 311.8,656.2 316.1,655.8 321.3,658.2 319.7,653.5 318.2,649.3 320.0,647.4 321.2,645.3 320.1,640.7 315.1,637.9 314.7,638.4 312.3,637.1 308.4,634.9 306.1,634.9 301.9,637.3 299.5,640.3 300.0,645.1 301.2,647.7 298.6,649.2" fill="#fad2d2" stroke="#9c6262" stroke-opacity="0.85" stroke-width="0.8"/>
<polygon points="303.4,571.2 307.9,570.0 310.7,570.1 313.5,569.3 317.0,568.3 317.5,565.5 319.1,563.8 318.1,561.3 317.3,556.6 314.4,552.4 313.5,552.7 311.3,553.1 308.6,553.3 304.7,555.0 302.6,555.7 298.9,556.6 300.1,561.4 299.8,562.3 301.6,564.3 301.9,568.3" fill="#f48383" stroke="#9c6262" stroke-opacity="0.85" stroke-width="0.8"/>
<polygon points="301.8,445.3 304.8,446.0 307.2,445.3 310.4,445.0 313.6,446.0 316.7,447.3 319.5,448.3 321.7,444.2 324.1,442.7 323.5,440.3 324.6,435.9 323.1,434.3 319.9,432.2 314.5,429.5 312.5,428.2 310.9,426.6 308.6,429.8 305.6,431.3 303.8,433.1 304.6,436.5 301.1,439.4 300.2,442.8" fill="#fad2d2" stroke="#9c6262" stroke-opacity="0.85" stroke-width="0.8"/>
<polygon points="317.5,695.2 321.5,694.3 324.5,694.4 329.6,695.9 331.6,692.8 332.4,690.3 334.6,689.4 336.8,687.8 338.1,684.1 337.5,682.2 335.4,680.6 332.2,678.5 327.9,676.7 324.3,673.3 321.5,670.5 318.9,674.1 315.5,675.8 316.9,679.1 315.5,684.0 313.9,688.3 313.5,690.3 315.4,692.5" fill="#f48383" stroke="#9c6262" stroke-opacity="0.85" stroke-width="0.8"/>
<polygon points="323.9,662.4 326.2,661.4 329.3,660.2 333.6,660.3 336.3,659.5 339.4,657.6 343.5,656.8 342.2,654.1 341.7,649.3 342.5,646.1 341.9,643.6 338.0,641.0 334.1,637.8 333.6,636.9 331.7,634.1 326.7,635.5 323.6,638.8 320.1,640.7 321.2,645.3 320.0,647.4 318.2,649.3 319.7,653.5 321.3,658.2 321.6,660.1" fill="#f48383" stroke="#9c6262" stroke-opacity="0.85" stroke-width="0.8"/>
<polygon points="315.0,172.1 319.1,173.2 325.6,174.3 326.3,172.4 327.7,169.7 329.8,166.2 330.7,164.1 332.4,162.7 336.1,160.2 336.8,157.6 331.8,155.6 328.1,153.6 326.4,151.1 322.7,151.7 317.2,154.2 318.9,157.0 318.6,160.7 315.4,163.9 314.6,166.7 315.1,170.0" fill="#f6a9a9" stroke="#9c6262" stroke-opacity="0.85" stroke-width="0.8"/>
<polygon points="309.8,482.2 309.9,482.3 313.8,481.9 316.7,480.1 319.7,479.4 323.6,479.6 325.9,479.1 327.6,478.8 331.3,479.5 332.6,473.5 331.9,469.6 329.4,469.2 329.5,465.4 326.9,463.2 323.5,461.7 320.8,458.5 317.4,461.0 315.2,464.9 311.7,467.1 309.3,468.4 307.3,470.2 308.0,472.0 308.7,475.3 309.5,479.4" fill="#f48383" stroke="#9c6262" stroke-opacity="0.85" stroke-width="0.8"/>
<polygon points="298.6,584.8 302.6,584.5 306.2,585.9 307.5,588.2 309.7,588.7 313.2,589.2 316.6,588.1 319.0,587.5 322.9,585.4 327.5,583.6 325.8,580.3 322.7,577.5 320.9,575.4 319.8,572.5 317.0,568.3 313.5,569.3 310.7,570.1 307.9,570.0 303.4,571.2 302.5,575.5 301.5,578.1 300.4,580.8" fill="#fad2d2" stroke="#9c6262" stroke-opacity="0.85" stroke-width="0.8"/>
<polygon points="314.9,551.1 317.9,549.5 319.5,548.9 322.7,547.7 326.8,545.6 329.4,544.7 332.6,544.7 336.4,543.4 334.3,540.2 332.2,539.3 331.3,537.6 329.2,533.3 328.4,530.4 326.7,528.2 322.1,525.2 319.0,525.2 317.3,526.1 314.1,528.6 312.1,529.9 309.8,532.0 308.6,535.4 311.5,539.9 311.1,541.4 312.5,545.2" fill="#f6a9a9" stroke="#9c6262" stroke-opacity="0.85" stroke-width="0.8"/>
<polygon points="306.1,634.9 308.4,634.9 312.3,637.1 314.7,638.4 315.1,637.9 320.1,640.7 323.6,638.8 326.7,635.5 331.7,634.1 330.0,632.1 330.6,630.9 327.6,627.2 323.6,622.8 321.9,622.5 317.0,621.5 314.3,619.4 313.5,618.5 311.7,620.4 308.9,621.4 307.6,625.0 307.8,630.8 307.7,634.4" fill="#f6a9a9" stroke="#9c6262" stroke-opacity="0.85" stroke-width="0.8"/>
<polygon points="312.2,712.6 315.0,714.6 318.9,715.7 320.8,715.7 324.1,716.8 326.1,716.7 329.0,714.7 331.2,711.5 334.5,709.2 334.4,705.1 332.1,703.8 330.4,700.5 329.6,695.9 324.5,694.4 321.5,694.3 317.5,695.2 316.2,698.3 315.6,701.3 315.3,704.3 314.4,708.2" fill="#fad2d2" stroke="#9c6262" stroke-opacity="0.85" stroke-width="0.8"/>
<polygon points="313.5,552.7 314.4,552.4 317.3,556.6 318.1,561.3 319.1,563.8 323.1,563.0 326.4,562.4 328.8,562.8 332.8,562.2 336.6,560.9 338.5,561.0 338.6,556.5 337.8,552.8 338.8,551.0 339.2,548.6 338.0,544.2 336.4,543.4 332.6,544.7 329.4,544.7 326.8,545.6 322.7,547.7 319.5,548.9 317.9,549.5 314.9,551.1" fill="#f48383" stroke="#9c6262" stroke-opacity="0.85" stroke-width="0.8"/>
<polygon points="306.6,148.3 310.4,148.8 314.3,150.2 314.7,153.4 317.2,154.2 322.7,151.7 326.4,151.1 325.0,148.8 325.3,143.0 328.0,137.8 324.3,138.2 321.8,139.2 320.1,137.2 316.1,134.5 312.9,133.8 310.9,132.3 307.7,133.1 308.0,138.3 308.1,139.0 307.2,138.9 306.8,142.8" fill="#fad2d2" stroke="#9c6262" stroke-opacity="0.85" stroke-width="0.8"/>
<polygon points="319.3,501.2 323.1,500.3 326.0,498.4 328.2,497.3 332.3,497.7 334.1,493.3 335.2,490.6 335.3,488.9 335.1,483.0 335.7,480.6 331.3,479.5 327.6,478.8 325.9,479.1 323.6,479.6 319.7,479.4 316.7,480.1 313.8,481.9 309.9,482.3 312.2,483.7 313.0,487.5 312.4,492.4 314.7,493.7 316.2,495.6 317.9,499.7" fill="#fad2d2" stroke="#9c6262" stroke-opacity="0.85" stroke-width="0.8"/>
<polygon points="347.8,193.3 345.6,189.2 343.1,190.4 339.0,192.9 336.1,194.4 334.4,194.8 331.2,196.6 329.2,198.3 327.0,199.1 322.7,201.4 319.5,206.9 322.4,205.9 326.3,204.9 329.9,206.3 332.6,207.9 336.1,207.0 339.3,205.6 341.8,206.3 345.7,208.2 349.3,208.6 351.6,207.3 352.0,206.5 352.2,200.9 350.9,196.5 349.6,196.0" fill="#fad2d2" stroke="#9c6262" stroke-opacity="0.85" stroke-width="0.8"/>
<polygon points="314.5,608.3 318.2,609.0 321.1,609.0 326.2,607.8 330.5,607.6 329.5,604.8 329.6,599.1 333.3,595.1 334.6,593.1 329.3,589.5 330.8,584.4 327.5,583.6 322.9,585.4 319.0,587.5 316.6,588.1 313.2,589.2 314.4,593.3 314.5,597.0 313.5,600.6 315.4,604.2 316.9,606.6" fill="#f6a9a9" stroke="#9c6262" stroke-opacity="0.85" stroke-width="0.8"/>
<polygon points="313.5,618.5 314.3,619.4 317.0,621.5 321.9,622.5 323.6,622.8 327.6,627.2 330.6,630.9 332.4,627.2 334.9,623.4 336.2,621.8 336.2,620.0 337.7,615.7 336.0,612.9 332.8,611.1 330.2,607.7 330.5,607.6 326.2,607.8 321.1,609.0 318.2,609.0 314.5,608.3 310.6,612.1" fill="#f6a9a9" stroke="#9c6262" stroke-opacity="0.85" stroke-width="0.8"/>
<polygon points="313.1,826.5 312.9,830.2 311.7,834.0 312.0,836.4 315.4,837.3 317.8,839.7 321.1,842.1 325.2,844.4 326.2,845.5 328.2,842.7 331.7,840.9 334.0,839.3 336.0,836.4 339.3,833.8 341.8,832.5 339.7,828.6 338.8,825.7 336.7,824.0 334.1,821.1 332.9,818.4 328.1,815.4 323.3,814.6 322.4,818.1 319.1,820.5 315.3,823.3 314.6,825.5" fill="#f6a9a9" stroke="#9c6262" stroke-opacity="0.85" stroke-width="0.8"/>
<polygon points="305.8,881.8 307.7,882.8 311.9,883.4 313.0,885.3 314.4,886.1 316.7,884.1 321.0,883.4 325.0,882.1 327.9,880.5 332.0,880.5 329.7,880.0 327.7,877.2 327.6,871.4 325.7,869.3 325.3,868.2 323.8,863.5 318.0,863.1 314.0,864.1 311.9,865.9 309.6,868.1 308.3,869.4 307.5,873.5 306.9,878.9" fill="#f6a9a9" stroke="#9c6262" stroke-opacity="0.85" stroke-width="0.8"/>
<polygon points="305.0,800.1 307.9,801.4 313.5,801.8 316.0,806.2 317.8,809.9 318.6,810.4 320.2,812.5 323.3,814.5 324.4,811.2 327.6,808.5 329.2,804.6 328.7,800.6 330.2,798.9 332.6,797.5 332.7,793.5 329.3,788.4 327.0,788.8 323.4,789.7 319.8,790.9 318.3,790.4 315.9,789.5 312.0,790.5 308.9,792.3 305.5,793.2 307.4,796.4" fill="#f14f4f" stroke="#9c6262" stroke-opacity="0.85" stroke-width="0.8"/>
<polygon points="310.9,426.6 312.5,428.2 314.5,429.5 319.9,432.2 323.1,434.3 324.6,435.9 326.4,433.1 328.7,431.1 330.5,430.1 332.4,427.5 336.6,424.1 336.3,419.7 333.4,416.0 334.7,412.8 332.0,412.8 327.3,413.9 323.6,415.0 320.1,414.7 315.6,415.0 313.4,416.9 311.6,418.0 310.3,420.6" fill="#f6a9a9" stroke="#9c6262" stroke-opacity="0.85" stroke-width="0.8"/>
<polygon points="313.7,393.5 315.9,393.0 318.1,394.4 322.7,396.9 326.5,397.7 328.1,397.5 331.4,398.0 333.8,395.1 334.3,391.1 333.4,388.5 332.0,386.2 334.0,383.2 334.8,380.0 332.4,376.6 333.2,373.0 330.7,373.0 327.1,374.1 323.6,374.6 319.7,374.7 317.6,376.9 317.9,379.7 318.7,382.4 316.3,384.5 312.4,387.0 310.8,390.4" fill="#f6a9a9" stroke="#9c6262" stroke-opacity="0.85" stroke-width="0.8"/>
<polygon points="306.6,769.6 309.3,769.6 314.7,770.9 317.3,772.8 319.5,772.9 323.9,773.0 327.3,774.5 330.2,774.6 333.6,774.2 335.6,773.5 339.1,771.7 338.2,769.6 338.1,764.6 336.9,761.1 336.2,760.3 338.4,756.8 335.4,753.2 331.9,751.8 330.5,752.0 327.1,750.6 321.1,748.8 318.4,748.4 317.8,749.8 317.0,752.6 315.1,756.4 314.0,759.7 312.6,762.7 309.5,766.4" fill="#f14f4f" stroke="#9c6262" stroke-opacity="0.85" stroke-width="0.8"/>
<polygon points="323.3,814.6 328.1,815.4 332.9,818.4 334.1,821.1 336.8,818.1 340.1,814.7 341.2,813.1 342.5,811.5 346.3,809.1 349.6,807.3 352.9,805.4 353.3,800.8 347.8,799.6 345.6,798.3 344.7,797.5 341.9,796.6 339.0,796.4 336.2,796.0 332.7,793.5 332.6,797.5 330.2,798.9 328.7,800.6 329.2,804.6 327.6,808.5 324.4,811.2 323.3,814.5" fill="#f6a9a9" stroke="#9c6262" stroke-opacity="0.85" stroke-width="0.8"/>
<polygon points="323.8,863.5 325.3,868.2 325.7,869.3 327.6,871.4 327.7,877.2 329.7,880.0 332.0,880.5 333.4,883.2 334.9,883.7 337.7,883.1 341.4,881.0 345.7,880.6 346.9,879.8 345.8,877.5 346.6,872.6 349.4,868.6 349.3,867.1 347.0,865.1 348.0,860.4 346.1,858.3 343.1,856.6 339.7,856.7 337.6,856.4 334.0,855.5 329.9,855.5 327.5,855.9 324.9,858.7" fill="#f6a9a9" stroke="#9c6262" stroke-opacity="0.85" stroke-width="0.8"/>
<polygon points="317.0,568.3 319.8,572.5 320.9,575.4 322.7,577.5 325.8,580.3 327.5,583.6 330.8,584.4 335.2,581.3 337.2,578.3 337.6,577.2 337.8,575.7 340.0,571.5 339.5,566.5 337.6,564.0 338.4,562.3 338.5,561.0 336.6,560.9 332.8,562.2 328.8,562.8 326.4,562.4 323.1,563.0 319.1,563.8 317.5,565.5" fill="#f14f4f" stroke="#9c6262" stroke-opacity="0.85" stroke-width="0.8"/>
<polygon points="320.8,458.5 323.5,461.7 326.9,463.2 329.5,465.4 332.4,462.4 336.3,460.6 338.7,458.1 342.6,456.2 342.7,452.9 341.6,448.5 340.0,445.3 335.3,443.4 331.2,444.2 328.4,444.0 324.1,442.7 321.7,444.2 319.5,448.3 320.0,453.6 321.3,456.2" fill="#f6a9a9" stroke="#9c6262" stroke-opacity="0.85" stroke-width="0.8"/>
<polygon points="318.2,503.2 320.0,507.6 322.3,511.6 320.6,512.8 321.2,515.9 325.7,520.3 325.6,522.2 327.6,520.3 331.1,520.0 335.4,518.9 338.0,517.5 341.6,517.6 344.9,516.7 343.0,513.4 341.9,511.2 342.6,509.8 338.7,505.8 336.3,502.5 335.3,501.6 332.3,497.7 328.2,497.3 326.0,498.4 323.1,500.3 319.3,501.2" fill="#f6a9a9" stroke="#9c6262" stroke-opacity="0.85" stroke-width="0.8"/>
<polygon points="318.4,748.4 321.1,748.8 327.1,750.6 330.5,752.0 331.9,751.8 335.4,753.2 338.4,756.8 342.1,753.6 343.4,750.5 344.8,748.9 347.7,746.7 349.8,743.5 347.8,741.0 346.3,740.7 343.3,736.9 341.5,733.6 343.4,732.0 339.7,731.2 334.0,729.1 331.9,728.8 329.5,729.6 327.4,731.8 324.3,733.3 321.5,735.5 318.0,738.9 315.3,741.2 316.7,742.7 319.2,746.1" fill="#f14f4f" stroke="#9c6262" stroke-opacity="0.85" stroke-width="0.8"/>
<polygon points="329.5,729.6 331.9,728.8 334.0,729.1 339.7,731.2 343.4,732.0 343.6,728.9 343.1,726.3 344.8,722.3 347.2,717.8 348.3,715.7 349.2,715.7 350.6,713.7 346.0,711.3 343.2,709.8 342.3,710.6 339.3,711.0 334.5,709.2 331.2,711.5 329.0,714.7 326.1,716.7 324.1,716.8 327.1,718.4 325.9,721.6 325.8,726.1" fill="#f48383" stroke="#9c6262" stroke-opacity="0.85" stroke-width="0.8"/>
<polygon points="332.7,793.5 336.2,796.0 339.0,796.4 341.9,796.6 344.7,797.5 345.6,798.3 347.8,799.6 353.3,800.8 354.4,798.1 355.4,797.1 357.7,796.1 360.2,792.8 360.7,788.4 361.4,786.0 361.2,785.0 358.6,782.7 357.9,778.1 355.0,773.9 352.4,773.2 349.4,773.9 345.3,773.1 342.6,771.1 339.1,771.7 335.6,773.5 333.6,774.2 334.0,777.9 333.1,783.7 330.7,787.2 329.3,788.4" fill="#f6a9a9" stroke="#9c6262" stroke-opacity="0.85" stroke-width="0.8"/>
<polygon points="310.9,132.3 312.9,133.8 316.1,134.5 320.1,137.2 321.8,139.2 324.3,138.2 328.0,137.8 331.7,137.1 336.0,135.4 332.4,129.5 333.2,126.4 328.7,125.4 326.2,123.7 322.9,117.5 322.7,117.1 319.8,120.4 319.7,123.0 318.9,126.0 316.1,128.1 313.5,129.4" fill="#f6a9a9" stroke="#9c6262" stroke-opacity="0.85" stroke-width="0.8"/>
<polygon points="324.1,442.7 328.4,444.0 331.2,444.2 335.3,443.4 340.0,445.3 341.6,448.5 343.8,445.2 346.4,442.6 345.2,438.9 344.7,436.1 346.1,433.3 343.3,430.6 340.0,429.1 338.4,427.1 336.6,424.1 332.4,427.5 330.5,430.1 328.7,431.1 326.4,433.1 324.6,435.9 323.5,440.3" fill="#fad2d2" stroke="#9c6262" stroke-opacity="0.85" stroke-width="0.8"/>
<polygon points="322.1,525.2 326.7,528.2 328.4,530.4 329.2,533.3 331.3,537.6 332.2,539.3 334.3,540.2 336.4,543.4 338.0,544.2 339.8,541.8 343.2,540.8 346.3,538.8 345.5,536.9 346.1,533.6 347.5,529.1 348.0,526.2 348.3,524.4 348.9,521.0 344.9,516.7 341.6,517.6 338.0,517.5 335.4,518.9 331.1,520.0 327.6,520.3 325.6,522.2" fill="#f6a9a9" stroke="#9c6262" stroke-opacity="0.85" stroke-width="0.8"/>
<polygon points="336.8,157.6 338.4,154.3 341.0,152.6 344.5,149.5 341.4,146.9 339.4,142.9 335.8,139.7 335.6,138.2 336.0,135.4 331.7,137.1 328.0,137.8 325.3,143.0 325.0,148.8 326.4,151.1 328.1,153.6 331.8,155.6" fill="#f6a9a9" stroke="#9c6262" stroke-opacity="0.85" stroke-width="0.8"/>
<polygon points="381.5,946.5 385.2,940.7 381.6,936.9 377.9,936.2 374.8,936.2 370.6,936.4 367.0,937.2 365.1,937.9 361.2,936.9 355.6,935.8 359.5,938.7 359.6,943.7 357.9,947.3 360.5,949.8 362.2,953.3 364.1,952.5 368.6,951.5 370.7,955.5 373.9,953.0 375.8,950.2 378.3,949.4 380.0,948.9" fill="#f48383" stroke="#9c6262" stroke-opacity="0.85" stroke-width="0.8"/>
<polygon points="331.4,398.0 333.7,401.9 332.3,405.7 333.4,409.8 335.0,412.6 337.6,411.9 341.7,411.3 344.8,411.9 347.4,411.8 351.6,410.6 355.4,411.0 358.3,412.6 358.8,408.0 358.4,403.9 360.9,400.9 361.2,398.3 358.0,395.8 355.7,394.4 352.9,392.5 350.2,390.2 346.5,391.7 344.1,392.1 340.5,393.5 336.2,395.1 333.8,395.1" fill="#f6a9a9" stroke="#9c6262" stroke-opacity="0.85" stroke-width="0.8"/>
<polygon points="322.7,201.4 327.0,199.1 329.2,198.3 331.2,196.6 334.4,194.8 336.1,194.4 339.0,192.9 343.1,190.4 345.6,189.2 345.6,186.8 343.0,183.0 340.7,181.6 338.7,181.6 335.8,181.6 332.8,180.5 329.5,179.1 326.6,177.7 326.0,180.8 325.2,183.7 324.6,187.0 323.7,190.6 322.8,193.0 323.0,194.3 323.6,196.7" fill="#fad2d2" stroke="#9c6262" stroke-opacity="0.85" stroke-width="0.8"/>
<polygon points="330.6,630.9 330.0,632.1 331.7,634.1 333.6,636.9 334.1,637.8 338.0,641.0 341.9,643.6 344.5,641.5 346.0,639.9 348.8,637.0 351.3,632.8 351.1,630.1 350.6,627.3 351.9,623.7 348.8,620.9 346.1,619.8 344.5,619.3 340.2,615.4 337.7,615.7 336.2,620.0 336.2,621.8 334.9,623.4 332.4,627.2" fill="#f14f4f" stroke="#9c6262" stroke-opacity="0.85" stroke-width="0.8"/>
<polygon points="321.5,670.5 324.3,673.3 327.9,676.7 332.2,678.5 335.4,680.6 337.5,682.2 338.1,684.1 342.1,683.5 347.2,683.6 349.2,681.0 348.3,678.5 348.9,675.0 349.9,671.3 349.8,668.5 348.8,665.6 347.7,662.4 345.5,660.4 344.8,658.2 343.5,656.8 339.4,657.6 336.3,659.5 333.6,660.3 329.3,660.2 326.2,661.4 323.9,662.4 323.1,666.2 322.3,668.5" fill="#f6a9a9" stroke="#9c6262" stroke-opacity="0.85" stroke-width="0.8"/>
<polygon points="330.5,607.6 330.2,607.7 332.8,611.1 336.0,612.9 337.7,615.7 340.2,615.4 341.3,611.0 342.4,608.5 345.5,607.0 349.3,605.5 350.4,603.6 350.3,601.0 346.4,597.7 345.8,596.0 343.9,596.8 339.1,596.2 336.3,594.1 334.6,593.1 333.3,595.1 329.6,599.1 329.5,604.8" fill="#f6a9a9" stroke="#9c6262" stroke-opacity="0.85" stroke-width="0.8"/>
<polygon points="331.3,479.5 335.7,480.6 338.2,478.9 340.9,476.7 344.7,475.8 346.9,474.6 348.9,472.4 352.3,471.3 352.9,467.4 349.8,467.1 348.5,463.2 347.2,459.7 343.4,458.7 342.6,456.2 338.7,458.1 336.3,460.6 332.4,462.4 329.5,465.4 329.4,469.2 331.9,469.6 332.6,473.5" fill="#f6a9a9" stroke="#9c6262" stroke-opacity="0.85" stroke-width="0.8"/>
<polygon points="334.5,709.2 339.3,711.0 342.3,710.6 343.2,709.8 346.0,711.3 350.6,713.7 351.3,713.4 350.3,707.3 350.7,704.1 349.6,703.4 348.2,699.0 349.4,693.6 348.5,691.2 346.4,689.5 347.2,686.4 347.2,683.6 342.1,683.5 338.1,684.1 336.8,687.8 334.6,689.4 332.4,690.3 331.6,692.8 329.6,695.9 330.4,700.5 332.1,703.8 334.4,705.1" fill="#f14f4f" stroke="#9c6262" stroke-opacity="0.85" stroke-width="0.8"/>
<polygon points="333.8,395.1 336.2,395.1 340.5,393.5 344.1,392.1 346.5,391.7 350.2,390.2 350.2,385.5 350.2,383.1 351.2,379.9 350.9,376.1 347.8,373.5 347.1,372.3 342.3,370.5 339.9,365.5 337.7,369.8 335.5,372.0 333.2,373.0 332.4,376.6 334.8,380.0 334.0,383.2 332.0,386.2 333.4,388.5 334.3,391.1" fill="#f48383" stroke="#9c6262" stroke-opacity="0.85" stroke-width="0.8"/>
<polygon points="334.6,593.1 336.3,594.1 339.1,596.2 343.9,596.8 345.8,596.0 346.4,597.7 350.3,601.0 351.6,600.7 353.6,596.0 355.0,592.3 356.1,589.5 354.7,587.1 354.5,581.7 352.6,580.2 348.8,580.0 344.5,578.5 341.9,577.1 337.6,577.2 337.2,578.3 335.2,581.3 330.8,584.4 329.3,589.5" fill="#f6a9a9" stroke="#9c6262" stroke-opacity="0.85" stroke-width="0.8"/>
<polygon points="343.0,183.0 346.6,179.4 349.2,175.5 349.4,173.4 351.0,170.5 347.3,166.8 343.9,164.9 341.6,163.2 339.3,160.9 336.1,160.2 332.4,162.7 330.7,164.1 329.8,166.2 327.7,169.7 326.3,172.4 325.6,174.3 326.6,177.7 329.5,179.1 332.8,180.5 335.8,181.6 338.7,181.6 340.7,181.6" fill="#f6a9a9" stroke="#9c6262" stroke-opacity="0.85" stroke-width="0.8"/>
<polygon points="329.9,855.5 334.0,855.5 337.6,856.4 339.7,856.7 343.1,856.6 346.1,858.3 348.0,860.4 348.3,860.2 352.1,856.0 353.7,853.8 353.0,852.1 353.7,849.3 356.5,846.5 356.3,843.6 353.0,839.7 352.0,837.8 351.5,833.8 345.9,832.1 342.7,832.6 341.8,832.5 339.3,833.8 336.0,836.4 334.0,839.3 331.7,840.9 328.2,842.7 326.2,845.5 328.5,849.1 330.3,853.8" fill="#f48383" stroke="#9c6262" stroke-opacity="0.85" stroke-width="0.8"/>
<polygon points="336.8,157.6 336.1,160.2 339.3,160.9 341.6,163.2 343.9,164.9 347.3,166.8 351.0,170.5 354.8,168.1 357.8,167.1 353.8,160.5 351.9,159.4 350.2,158.2 348.3,155.1 345.7,152.3 344.5,149.5 341.0,152.6 338.4,154.3" fill="#f6a9a9" stroke="#9c6262" stroke-opacity="0.85" stroke-width="0.8"/>
<polygon points="339.1,771.7 342.6,771.1 345.3,773.1 349.4,773.9 352.4,773.2 355.0,773.9 357.0,772.2 360.0,770.5 361.2,766.4 362.3,762.9 364.2,761.1 361.2,759.0 360.4,756.7 358.6,753.4 356.6,749.2 353.9,747.4 352.5,744.8 349.8,743.5 347.7,746.7 344.8,748.9 343.4,750.5 342.1,753.6 338.4,756.8 336.2,760.3 336.9,761.1 338.1,764.6 338.2,769.6" fill="#f48383" stroke="#9c6262" stroke-opacity="0.85" stroke-width="0.8"/>
<polygon points="337.6,577.2 341.9,577.1 344.5,578.5 348.8,580.0 352.6,580.2 354.5,581.7 357.1,577.6 357.7,574.8 359.9,574.1 363.0,572.7 363.0,569.3 361.1,562.4 358.8,563.5 353.8,564.9 349.9,563.8 348.9,561.9 346.5,562.1 341.7,563.1 338.4,562.3 337.6,564.0 339.5,566.5 340.0,571.5 337.8,575.7" fill="#f48383" stroke="#9c6262" stroke-opacity="0.85" stroke-width="0.8"/>
<polygon points="343.0,183.0 345.6,186.8 345.6,189.2 347.8,193.3 352.8,192.7 356.5,191.2 359.1,190.5 363.0,188.4 365.4,185.7 368.3,184.9 370.6,181.4 370.8,180.1 368.5,175.0 367.8,173.2 360.1,170.8 357.8,167.1 354.8,168.1 351.0,170.5 349.4,173.4 349.2,175.5 346.6,179.4" fill="#fad2d2" stroke="#9c6262" stroke-opacity="0.85" stroke-width="0.8"/>
<polygon points="332.3,497.7 335.3,501.6 336.3,502.5 338.7,505.8 342.6,509.8 341.9,511.2 343.0,513.4 345.0,511.1 348.9,509.4 351.2,506.9 351.5,503.4 353.4,501.0 354.1,498.6 352.9,494.7 350.7,491.9 346.6,492.5 342.2,493.1 338.2,491.6 335.2,490.6 334.1,493.3" fill="#fad2d2" stroke="#9c6262" stroke-opacity="0.85" stroke-width="0.8"/>
<polygon points="342.6,456.2 343.4,458.7 347.2,459.7 348.5,463.2 349.8,467.1 351.9,464.3 355.5,461.3 357.8,459.7 360.4,457.4 364.3,455.7 364.0,452.2 361.8,448.7 360.7,444.3 358.0,442.7 353.4,443.1 349.4,443.6 346.4,442.6 343.8,445.2 341.6,448.5 342.7,452.9" fill="#f48383" stroke="#9c6262" stroke-opacity="0.85" stroke-width="0.8"/>
<polygon points="338.4,562.3 341.7,563.1 346.5,562.1 348.9,561.9 349.9,563.8 353.8,564.9 358.8,563.5 361.1,562.4 364.4,561.0 366.9,559.1 363.1,556.0 363.4,550.8 362.3,549.6 360.5,549.1 360.0,544.7 356.9,541.1 352.2,540.8 349.3,539.2 346.3,538.8 343.2,540.8 339.8,541.8 338.0,544.2 339.2,548.6 338.8,551.0 337.8,552.8 338.6,556.5 338.5,561.0" fill="#fad2d2" stroke="#9c6262" stroke-opacity="0.85" stroke-width="0.8"/>
<polygon points="338.5,899.1 342.4,903.6 344.6,904.9 347.2,905.9 349.0,907.8 350.2,908.7 352.6,906.4 356.0,905.5 358.3,903.4 361.1,900.1 364.1,897.8 365.6,895.8 367.8,893.1 366.2,887.7 363.0,887.1 359.8,886.1 356.1,883.9 353.0,882.6 349.7,882.5 347.1,881.7 345.7,880.6 341.4,881.0 337.7,883.1 339.1,889.9 339.3,894.4 338.2,895.3" fill="#f14f4f" stroke="#9c6262" stroke-opacity="0.85" stroke-width="0.8"/>
<polygon points="354.1,918.6 357.2,917.9 362.0,918.1 365.6,918.8 366.9,918.1 369.0,916.7 373.3,917.1 373.4,914.0 374.4,911.3 377.0,908.3 378.7,905.6 374.8,902.0 374.9,900.3 371.4,898.0 368.3,894.9 367.8,893.1 365.6,895.8 364.1,897.8 361.1,900.1 358.3,903.4 356.0,905.5 352.6,906.4 350.2,908.7 352.7,911.8 353.6,915.1" fill="#f48383" stroke="#9c6262" stroke-opacity="0.85" stroke-width="0.8"/>
<polygon points="341.8,832.5 342.7,832.6 345.9,832.1 351.5,833.8 352.9,831.9 355.4,829.0 358.7,825.4 359.9,823.4 361.7,821.7 364.9,819.0 364.9,818.7 362.0,815.6 357.7,812.1 356.2,811.6 353.0,809.1 352.9,805.4 349.6,807.3 346.3,809.1 342.5,811.5 341.2,813.1 340.1,814.7 336.8,818.1 334.1,821.1 336.7,824.0 338.8,825.7 339.7,828.6" fill="#f48383" stroke="#9c6262" stroke-opacity="0.85" stroke-width="0.8"/>
<polygon points="343.5,656.8 344.8,658.2 345.5,660.4 347.7,662.4 350.4,660.6 354.3,659.8 356.7,659.9 360.5,658.3 365.4,656.9 368.9,656.4 369.5,654.0 370.7,650.1 372.7,645.0 369.0,642.9 366.5,641.9 362.2,641.4 357.8,640.6 355.3,638.6 352.6,637.0 348.8,637.0 346.0,639.9 344.5,641.5 341.9,643.6 342.5,646.1 341.7,649.3 342.2,654.1" fill="#f6a9a9" stroke="#9c6262" stroke-opacity="0.85" stroke-width="0.8"/>
<polygon points="344.9,516.7 348.9,521.0 351.7,520.4 355.9,520.9 359.7,520.9 362.7,520.3 366.4,520.8 369.1,521.1 370.2,517.3 369.8,513.1 369.8,510.5 371.4,508.9 372.4,506.6 369.4,504.9 364.1,503.4 360.6,503.5 357.6,502.6 353.4,501.0 351.5,503.4 351.2,506.9 348.9,509.4 345.0,511.1 343.0,513.4" fill="#f6a9a9" stroke="#9c6262" stroke-opacity="0.85" stroke-width="0.8"/>
<polygon points="334.7,412.8 333.4,416.0 336.3,419.7 336.6,424.1 338.4,427.1 340.0,429.1 343.3,430.6 346.1,433.3 347.8,431.9 350.7,430.3 352.3,429.9 354.6,428.9 358.9,426.3 362.0,421.2 359.1,416.9 357.6,414.7 358.3,412.6 355.4,411.0 351.6,410.6 347.4,411.8 344.8,411.9 341.7,411.3 337.6,411.9 335.0,412.6" fill="#f6a9a9" stroke="#9c6262" stroke-opacity="0.85" stroke-width="0.8"/>
<polygon points="340.2,615.4 344.5,619.3 346.1,619.8 348.8,620.9 351.9,623.7 355.5,622.1 358.5,620.8 360.2,620.8 363.8,619.5 366.7,617.4 365.8,611.7 363.4,607.8 361.3,606.5 359.9,606.1 356.7,603.3 354.8,601.8 351.6,600.7 350.3,601.0 350.4,603.6 349.3,605.5 345.5,607.0 342.4,608.5 341.3,611.0" fill="#f14f4f" stroke="#9c6262" stroke-opacity="0.85" stroke-width="0.8"/>
<polygon points="335.2,490.6 338.2,491.6 342.2,493.1 346.6,492.5 350.7,491.9 352.1,491.0 353.8,488.6 356.4,485.4 358.2,483.2 358.2,481.4 357.2,478.4 355.8,476.5 352.3,471.3 348.9,472.4 346.9,474.6 344.7,475.8 340.9,476.7 338.2,478.9 335.7,480.6 335.1,483.0 335.3,488.9" fill="#fad2d2" stroke="#9c6262" stroke-opacity="0.85" stroke-width="0.8"/>
<polygon points="347.2,683.6 347.2,686.4 346.4,689.5 348.5,691.2 349.4,693.6 348.2,699.0 349.6,703.4 350.7,704.1 350.3,707.3 351.3,713.4 353.8,713.1 355.7,711.7 359.8,710.6 362.4,708.2 364.9,704.9 367.9,703.5 369.3,703.1 371.3,701.7 371.4,700.8 369.4,695.3 368.3,691.3 366.4,690.6 363.1,687.8 362.9,684.7 361.2,683.1 357.3,682.9 355.2,680.8 352.7,679.9 349.2,681.0" fill="#f14f4f" stroke="#9c6262" stroke-opacity="0.85" stroke-width="0.8"/>
<polygon points="343.4,732.0 341.5,733.6 343.3,736.9 346.3,740.7 347.8,741.0 349.8,743.5 352.5,744.8 356.8,743.5 358.9,740.8 360.4,738.8 363.0,737.8 364.6,735.2 368.0,732.4 367.9,728.8 365.5,727.8 363.4,724.2 362.7,719.3 362.5,717.0 358.3,713.7 355.7,711.7 353.8,713.1 351.3,713.4 350.6,713.7 349.2,715.7 348.3,715.7 347.2,717.8 344.8,722.3 343.1,726.3 343.6,728.9" fill="#f48383" stroke="#9c6262" stroke-opacity="0.85" stroke-width="0.8"/>
<polygon points="339.9,365.5 342.3,370.5 347.1,372.3 347.8,373.5 350.9,376.1 355.2,374.7 357.8,373.2 360.5,373.3 364.5,373.2 367.2,372.1 365.9,369.6 362.5,365.3 361.2,360.8 360.9,358.9 358.2,356.4 357.3,352.0 353.9,352.3 350.0,352.0 351.4,356.2 351.6,359.0 350.2,358.4 347.7,359.5 342.9,360.8 339.0,360.8" fill="#f6a9a9" stroke="#9c6262" stroke-opacity="0.85" stroke-width="0.8"/>
<polygon points="358.9,426.3 354.6,428.9 352.3,429.9 350.7,430.3 347.8,431.9 346.1,433.3 344.7,436.1 345.2,438.9 346.4,442.6 349.4,443.6 353.4,443.1 358.0,442.7 360.7,444.3 362.4,442.0 362.9,439.7 365.0,435.9 366.8,432.6 364.6,431.7 363.7,428.8 359.8,427.0" fill="#f48383" stroke="#9c6262" stroke-opacity="0.85" stroke-width="0.8"/>
<polygon points="366.8,432.6 370.4,432.9 373.7,433.8 376.2,434.1 378.8,434.3 380.4,431.6 382.0,428.7 383.4,425.3 381.9,422.8 381.8,419.0 377.3,414.8 372.4,416.7 369.4,416.5 367.3,414.3 362.4,413.8 357.6,414.7 359.1,416.9 362.0,421.2 358.9,426.3 359.8,427.0 363.7,428.8 364.6,431.7" fill="#f48383" stroke="#9c6262" stroke-opacity="0.85" stroke-width="0.8"/>
<polygon points="375.5,288.5 373.2,283.1 372.6,280.2 372.1,277.2 372.2,270.9 365.8,265.3 366.4,263.6 365.1,264.6 366.4,268.7 369.6,273.2 368.6,274.8 364.6,275.5 361.3,278.0 360.9,281.6 365.0,284.9 368.6,285.4 371.3,285.5" fill="#f48383" stroke="#9c6262" stroke-opacity="0.85" stroke-width="0.8"/>
<polygon points="372.1,254.1 370.5,256.5 370.1,256.9 373.5,254.5" fill="#f6a9a9" stroke="#9c6262" stroke-opacity="0.85" stroke-width="0.8"/>
<polygon points="352.3,471.3 355.8,476.5 357.2,478.4 358.2,481.4 362.5,481.1 367.2,480.5 368.2,480.2 369.1,478.4 371.0,474.1 372.4,469.0 373.1,466.2 373.7,465.1 374.1,462.5 374.7,457.9 370.7,456.5 368.6,455.6 364.3,455.7 360.4,457.4 357.8,459.7 355.5,461.3 351.9,464.3 349.8,467.1 352.9,467.4" fill="#f6a9a9" stroke="#9c6262" stroke-opacity="0.85" stroke-width="0.8"/>
<polygon points="356.5,846.5 359.6,845.6 362.2,845.6 365.6,845.6 369.2,845.8 371.6,846.4 374.3,846.5 377.9,845.2 378.1,843.4 376.1,840.4 375.2,836.2 374.0,833.7 373.0,829.9 372.2,825.5 371.7,824.0 371.4,821.7 368.0,819.5 364.9,819.0 361.7,821.7 359.9,823.4 358.7,825.4 355.4,829.0 352.9,831.9 351.5,833.8 352.0,837.8 353.0,839.7 356.3,843.6" fill="#f14f4f" stroke="#9c6262" stroke-opacity="0.85" stroke-width="0.8"/>
<polygon points="345.7,880.6 347.1,881.7 349.7,882.5 353.0,882.6 356.1,883.9 359.8,886.1 363.0,887.1 366.2,887.7 367.2,885.6 367.8,882.0 368.6,879.9 367.9,877.7 367.8,874.1 369.7,870.0 370.7,867.3 366.8,866.5 362.8,867.5 358.7,866.3 355.6,862.5 351.6,860.8 348.3,860.2 348.0,860.4 347.0,865.1 349.3,867.1 349.4,868.6 346.6,872.6 345.8,877.5 346.9,879.8" fill="#f48383" stroke="#9c6262" stroke-opacity="0.85" stroke-width="0.8"/>
<polygon points="352.9,805.4 353.0,809.1 356.2,811.6 357.7,812.1 362.0,815.6 364.9,818.7 364.9,819.0 368.0,819.5 371.4,821.7 375.5,820.3 378.3,818.0 379.0,814.3 378.8,810.9 379.7,808.8 381.9,806.3 382.9,802.4 378.4,797.4 376.9,796.3 375.8,796.7 373.2,793.9 372.1,792.1 366.3,789.9 361.9,786.3 361.4,786.0 360.7,788.4 360.2,792.8 357.7,796.1 355.4,797.1 354.4,798.1 353.3,800.8" fill="#f14f4f" stroke="#9c6262" stroke-opacity="0.85" stroke-width="0.8"/>
<polygon points="353.4,501.0 357.6,502.6 360.6,503.5 364.1,503.4 369.4,504.9 372.4,506.6 372.7,505.0 371.6,501.4 371.4,497.8 372.3,494.7 370.6,491.5 368.5,488.6 368.9,485.9 368.6,482.8 367.2,480.5 362.5,481.1 358.2,481.4 358.2,483.2 356.4,485.4 353.8,488.6 352.1,491.0 350.7,491.9 352.9,494.7 354.1,498.6" fill="#fad2d2" stroke="#9c6262" stroke-opacity="0.85" stroke-width="0.8"/>
<polygon points="364.2,761.1 368.3,760.4 370.4,759.7 374.0,760.7 375.7,758.7 376.9,754.8 377.1,750.7 377.4,748.0 379.2,745.7 381.7,742.3 381.9,738.5 376.3,736.6 374.6,734.4 368.0,732.4 364.6,735.2 363.0,737.8 360.4,738.8 358.9,740.8 356.8,743.5 352.5,744.8 353.9,747.4 356.6,749.2 358.6,753.4 360.4,756.7 361.2,759.0" fill="#f48383" stroke="#9c6262" stroke-opacity="0.85" stroke-width="0.8"/>
<polygon points="351.6,600.7 354.8,601.8 356.7,603.3 359.9,606.1 361.3,606.5 363.4,607.8 365.8,611.7 368.8,609.0 371.5,606.2 373.4,604.8 377.2,602.9 375.7,598.7 374.7,596.3 373.9,593.8 371.9,591.4 367.5,591.7 363.4,590.4 359.7,589.4 356.1,589.5 355.0,592.3 353.6,596.0" fill="#f6a9a9" stroke="#9c6262" stroke-opacity="0.85" stroke-width="0.8"/>
<polygon points="367.2,885.6 369.1,885.8 372.7,884.9 377.6,883.9 380.4,883.8 382.2,883.4 385.1,882.1 388.6,878.4 389.4,877.6 388.4,873.2 388.3,869.0 388.0,867.8 384.3,866.7 382.3,863.7 378.7,859.2 376.6,861.5 374.5,864.8 372.4,867.2 370.7,867.3 369.7,870.0 367.8,874.1 367.9,877.7 368.6,879.9 367.8,882.0" fill="#f48383" stroke="#9c6262" stroke-opacity="0.85" stroke-width="0.8"/>
<polygon points="348.8,637.0 352.6,637.0 355.3,638.6 357.8,640.6 362.2,641.4 366.5,641.9 369.0,642.9 368.6,639.7 370.5,635.4 372.9,631.9 372.6,629.8 372.0,627.7 372.5,623.7 370.9,620.7 369.1,619.3 366.7,617.4 363.8,619.5 360.2,620.8 358.5,620.8 355.5,622.1 351.9,623.7 350.6,627.3 351.1,630.1 351.3,632.8" fill="#f14f4f" stroke="#9c6262" stroke-opacity="0.85" stroke-width="0.8"/>
<polygon points="357.3,352.0 360.1,350.9 364.2,349.8 366.8,347.8 370.2,347.0 370.5,345.2 368.0,341.8 369.9,336.3 366.8,334.9 361.5,334.0 359.2,330.5 356.9,332.3 353.7,333.9 349.5,334.5 349.2,339.1 347.8,344.1 351.6,346.2 353.3,348.1 350.0,352.0 353.9,352.3" fill="#f48383" stroke="#9c6262" stroke-opacity="0.85" stroke-width="0.8"/>
<polygon points="356.9,541.1 358.6,538.3 361.1,537.3 364.3,537.1 365.8,534.6 368.8,531.5 372.1,529.3 372.1,526.3 370.9,522.9 369.1,521.1 366.4,520.8 362.7,520.3 359.7,520.9 355.9,520.9 351.7,520.4 348.9,521.0 348.3,524.4 348.0,526.2 347.5,529.1 346.1,533.6 345.5,536.9 346.3,538.8 349.3,539.2 352.2,540.8" fill="#f6a9a9" stroke="#9c6262" stroke-opacity="0.85" stroke-width="0.8"/>
<polygon points="350.2,390.2 352.9,392.5 355.7,394.4 358.0,395.8 361.2,398.3 364.3,397.9 367.4,396.2 369.1,394.8 372.0,394.1 373.8,388.5 371.3,384.3 370.9,383.3 369.9,380.7 368.3,375.8 367.7,373.0 367.3,372.1 367.2,372.1 364.5,373.2 360.5,373.3 357.8,373.2 355.2,374.7 350.9,376.1 351.2,379.9 350.2,383.1 350.2,385.5" fill="#f48383" stroke="#9c6262" stroke-opacity="0.85" stroke-width="0.8"/>
<polygon points="349.2,681.0 352.7,679.9 355.2,680.8 357.3,682.9 361.2,683.1 365.0,679.9 367.4,679.2 369.6,677.2 372.9,674.4 373.2,668.7 373.6,665.9 368.9,663.7 368.8,658.8 368.9,656.4 365.4,656.9 360.5,658.3 356.7,659.9 354.3,659.8 350.4,660.6 347.7,662.4 348.8,665.6 349.8,668.5 349.9,671.3 348.9,675.0 348.3,678.5" fill="#f6a9a9" stroke="#9c6262" stroke-opacity="0.85" stroke-width="0.8"/>
<polygon points="356.1,589.5 359.7,589.4 363.4,590.4 367.5,591.7 371.9,591.4 372.2,588.0 373.0,584.8 375.6,582.7 377.5,579.9 374.3,577.0 371.6,576.0 368.2,573.8 367.6,570.5 367.3,569.8 363.0,569.3 363.0,572.7 359.9,574.1 357.7,574.8 357.1,577.6 354.5,581.7 354.7,587.1" fill="#f48383" stroke="#9c6262" stroke-opacity="0.85" stroke-width="0.8"/>
<polygon points="368.3,184.9 369.9,190.2 369.1,193.7 370.7,194.7 373.2,199.3 370.7,204.9 370.8,206.9 373.7,208.7 377.8,206.7 378.7,206.4 381.0,205.4 383.3,202.2 385.9,198.8 388.8,196.7 385.4,194.1 384.0,190.8 381.6,186.5 379.7,182.8 374.1,180.0 371.7,181.6 370.6,181.4" fill="#fad2d2" stroke="#9c6262" stroke-opacity="0.85" stroke-width="0.8"/>
<polygon points="351.6,207.3 354.8,207.1 359.4,208.4 362.7,209.0 364.8,208.2 368.0,208.4 372.0,209.8 373.7,208.7 370.8,206.9 370.7,204.9 373.2,199.3 370.7,194.7 369.1,193.7 369.9,190.2 368.3,184.9 365.4,185.7 363.0,188.4 359.1,190.5 356.5,191.2 352.8,192.7 347.8,193.3 349.6,196.0 350.9,196.5 352.2,200.9 352.0,206.5" fill="#f48383" stroke="#9c6262" stroke-opacity="0.85" stroke-width="0.8"/>
<polygon points="366.2,887.7 367.8,893.1 368.3,894.9 371.4,898.0 374.9,900.3 374.8,902.0 378.7,905.6 381.4,905.9 383.6,904.3 387.1,902.5 389.9,902.7 391.2,900.7 394.3,898.0 396.7,895.9 395.4,894.7 392.8,890.9 392.8,889.5 389.1,887.2 385.1,882.1 382.2,883.4 380.4,883.8 377.6,883.9 372.7,884.9 369.1,885.8 367.2,885.6" fill="#f14f4f" stroke="#9c6262" stroke-opacity="0.85" stroke-width="0.8"/>
<polygon points="366.9,559.1 369.5,556.6 372.1,555.0 375.2,554.7 376.6,553.7 377.0,549.2 376.8,548.3 377.4,544.1 378.2,538.7 376.5,538.3 376.2,537.0 376.6,530.9 372.1,529.3 368.8,531.5 365.8,534.6 364.3,537.1 361.1,537.3 358.6,538.3 356.9,541.1 360.0,544.7 360.5,549.1 362.3,549.6 363.4,550.8 363.1,556.0" fill="#f6a9a9" stroke="#9c6262" stroke-opacity="0.85" stroke-width="0.8"/>
<polygon points="357.6,414.7 362.4,413.8 367.3,414.3 369.4,416.5 372.4,416.7 377.3,414.8 377.1,412.6 379.9,410.6 382.0,407.2 381.9,402.5 378.9,400.8 379.7,400.4 377.2,397.2 373.2,395.4 372.0,394.1 369.1,394.8 367.4,396.2 364.3,397.9 361.2,398.3 360.9,400.9 358.4,403.9 358.8,408.0 358.3,412.6" fill="#f48383" stroke="#9c6262" stroke-opacity="0.85" stroke-width="0.8"/>
<polygon points="372.1,529.3 376.6,530.9 380.0,530.7 383.4,532.1 385.1,528.1 388.1,524.3 391.5,522.2 393.4,520.1 395.7,515.8 392.9,512.8 390.6,512.1 387.3,510.0 384.1,510.1 383.9,508.5 379.7,504.7 374.8,503.4 372.7,505.0 372.4,506.6 371.4,508.9 369.8,510.5 369.8,513.1 370.2,517.3 369.1,521.1 370.9,522.9 372.1,526.3" fill="#f6a9a9" stroke="#9c6262" stroke-opacity="0.85" stroke-width="0.8"/>
<polygon points="363.0,569.3 367.3,569.8 367.6,570.5 368.2,573.8 371.6,576.0 374.3,577.0 377.5,579.9 380.5,578.3 381.4,574.8 385.0,572.0 387.7,568.4 388.9,565.4 390.3,563.9 388.4,561.4 387.3,557.9 380.9,556.9 376.6,553.7 375.2,554.7 372.1,555.0 369.5,556.6 366.9,559.1 364.4,561.0 361.1,562.4" fill="#f6a9a9" stroke="#9c6262" stroke-opacity="0.85" stroke-width="0.8"/>
<polygon points="364.3,455.7 368.6,455.6 370.7,456.5 374.7,457.9 377.0,456.6 377.5,454.3 378.7,453.0 381.0,449.1 383.1,444.3 383.2,441.7 381.3,437.9 378.8,434.3 376.2,434.1 373.7,433.8 370.4,432.9 366.8,432.6 365.0,435.9 362.9,439.7 362.4,442.0 360.7,444.3 361.8,448.7 364.0,452.2" fill="#f48383" stroke="#9c6262" stroke-opacity="0.85" stroke-width="0.8"/>
<polygon points="361.4,786.0 361.9,786.3 366.0,785.5 369.1,783.5 372.0,782.1 375.5,780.2 376.8,776.2 379.1,773.3 382.1,771.5 381.9,770.7 380.6,766.3 379.2,762.3 374.0,760.7 370.4,759.7 368.3,760.4 364.2,761.1 362.3,762.9 361.2,766.4 360.0,770.5 357.0,772.2 355.0,773.9 357.9,778.1 358.6,782.7 361.2,785.0" fill="#f48383" stroke="#9c6262" stroke-opacity="0.85" stroke-width="0.8"/>
<polygon points="370.7,650.1 373.6,650.8 378.5,650.2 382.5,649.5 384.1,650.8 387.6,652.4 389.3,648.9 393.5,644.2 395.7,641.4 396.2,639.2 393.8,636.3 395.7,631.1 391.8,628.8 390.3,625.4 390.3,625.2 387.1,625.3 383.6,624.5 380.2,625.7 375.3,627.5 372.0,627.7 372.6,629.8 372.9,631.9 370.5,635.4 368.6,639.7 369.0,642.9 372.7,645.0" fill="#f14f4f" stroke="#9c6262" stroke-opacity="0.85" stroke-width="0.8"/>
<polygon points="357.3,352.0 358.2,356.4 360.9,358.9 361.2,360.8 362.5,365.3 365.9,369.6 367.2,372.1 367.3,372.1 370.0,371.5 373.8,370.9 375.6,368.2 377.7,365.6 381.2,364.1 380.5,360.1 379.7,356.5 377.4,351.7 375.4,350.2 373.1,348.7 370.2,347.0 366.8,347.8 364.2,349.8 360.1,350.9" fill="#f48383" stroke="#9c6262" stroke-opacity="0.85" stroke-width="0.8"/>
<polygon points="366.7,617.4 369.1,619.3 370.9,620.7 372.5,623.7 372.0,627.7 375.3,627.5 380.2,625.7 383.6,624.5 387.1,625.3 390.3,625.2 392.2,619.6 389.5,618.3 388.9,617.0 388.7,611.5 386.1,607.4 386.0,606.0 385.7,603.0 380.6,602.2 377.2,602.9 373.4,604.8 371.5,606.2 368.8,609.0 365.8,611.7" fill="#f48383" stroke="#9c6262" stroke-opacity="0.85" stroke-width="0.8"/>
<polygon points="369.9,336.3 371.8,334.0 374.9,333.1 376.5,332.0 378.4,329.3 380.4,325.1 380.7,322.4 380.2,319.8 377.0,319.4 374.1,320.2 370.2,321.1 364.7,323.2 361.7,324.1 361.4,326.4 359.2,330.5 361.5,334.0 366.8,334.9" fill="#f48383" stroke="#9c6262" stroke-opacity="0.85" stroke-width="0.8"/>
<polygon points="377.9,845.2 374.3,846.5 371.6,846.4 369.2,845.8 365.6,845.6 362.2,845.6 359.6,845.6 356.5,846.5 353.7,849.3 353.0,852.1 353.7,853.8 352.1,856.0 348.3,860.2 351.6,860.8 355.6,862.5 358.7,866.3 362.8,867.5 366.8,866.5 370.7,867.3 372.4,867.2 374.5,864.8 376.6,861.5 378.7,859.2 381.7,854.1 382.7,850.8 379.1,847.9" fill="#f14f4f" stroke="#9c6262" stroke-opacity="0.85" stroke-width="0.8"/>
<polygon points="382.7,850.8 386.3,849.4 390.1,845.5 391.8,842.0 391.4,840.6 392.6,839.3 395.3,835.8 397.0,831.8 398.6,829.5 397.0,827.3 393.2,824.7 392.0,823.0 389.4,822.9 386.1,821.6 382.9,819.2 379.8,818.7 378.3,818.0 375.5,820.3 371.4,821.7 371.7,824.0 372.2,825.5 373.0,829.9 374.0,833.7 375.2,836.2 376.1,840.4 378.1,843.4 377.9,845.2 379.1,847.9" fill="#f14f4f" stroke="#9c6262" stroke-opacity="0.85" stroke-width="0.8"/>
<polygon points="368.9,656.4 368.8,658.8 368.9,663.7 373.6,665.9 373.2,668.7 372.9,674.4 377.3,675.4 379.1,675.3 383.0,676.7 387.5,676.8 387.5,676.0 387.6,673.2 390.1,668.4 392.8,664.8 392.7,663.1 391.4,661.1 392.8,657.4 392.2,653.1 387.6,652.4 384.1,650.8 382.5,649.5 378.5,650.2 373.6,650.8 370.7,650.1 369.5,654.0" fill="#f6a9a9" stroke="#9c6262" stroke-opacity="0.85" stroke-width="0.8"/>
<polygon points="355.7,711.7 358.3,713.7 362.5,717.0 362.7,719.3 363.4,724.2 365.5,727.8 367.9,728.8 368.0,732.4 374.6,734.4 376.4,731.0 378.3,728.1 379.1,726.5 380.2,723.8 384.0,719.0 387.6,715.4 387.3,714.1 383.4,712.3 382.6,708.2 380.6,705.4 377.2,702.7 373.8,700.6 371.3,701.7 369.3,703.1 367.9,703.5 364.9,704.9 362.4,708.2 359.8,710.6" fill="#f48383" stroke="#9c6262" stroke-opacity="0.85" stroke-width="0.8"/>
<polygon points="354.1,918.6 353.6,922.4 351.8,924.8 353.4,927.1 358.4,930.9 356.5,934.8 355.6,935.8 361.2,936.9 365.1,937.9 367.0,937.2 370.6,936.4 374.8,936.2 377.9,936.2 381.6,936.9 381.1,933.7 382.1,930.9 381.1,929.1 378.3,925.0 375.8,923.3 376.5,922.1 373.3,917.1 369.0,916.7 366.9,918.1 365.6,918.8 362.0,918.1 357.2,917.9" fill="#f48383" stroke="#9c6262" stroke-opacity="0.85" stroke-width="0.8"/>
<polygon points="367.2,480.5 368.6,482.8 368.9,485.9 368.5,488.6 370.6,491.5 372.3,494.7 371.4,497.8 371.6,501.4 372.7,505.0 374.8,503.4 377.5,501.2 379.7,500.3 383.4,498.0 388.0,495.5 389.9,494.0 388.2,490.5 386.2,486.5 387.6,484.1 387.5,481.7 383.0,481.5 380.0,480.4 377.5,479.9 373.8,480.3 370.3,480.7 368.2,480.2" fill="#f6a9a9" stroke="#9c6262" stroke-opacity="0.85" stroke-width="0.8"/>
<polygon points="382.9,802.4 386.0,801.5 388.0,799.5 389.5,797.5 393.1,797.0 396.5,796.0 398.8,792.1 398.4,785.3 394.8,783.6 393.0,784.8 390.7,783.7 389.2,781.7 387.2,781.1 381.9,777.9 379.1,773.3 376.8,776.2 375.5,780.2 372.0,782.1 369.1,783.5 366.0,785.5 361.9,786.3 366.3,789.9 372.1,792.1 373.2,793.9 375.8,796.7 376.9,796.3 378.4,797.4" fill="#f14f4f" stroke="#9c6262" stroke-opacity="0.85" stroke-width="0.8"/>
<polygon points="371.3,701.7 373.8,700.6 377.3,699.8 379.9,697.6 383.3,693.4 385.5,690.9 386.5,690.0 389.7,688.0 392.4,685.6 389.3,678.9 387.5,676.8 383.0,676.7 379.1,675.3 377.3,675.4 372.9,674.4 369.6,677.2 367.4,679.2 365.0,679.9 361.2,683.1 362.9,684.7 363.1,687.8 366.4,690.6 368.3,691.3 369.4,695.3 371.4,700.8" fill="#f48383" stroke="#9c6262" stroke-opacity="0.85" stroke-width="0.8"/>
<polygon points="377.3,414.8 381.8,419.0 381.9,422.8 383.4,425.3 385.4,425.2 388.9,425.5 392.2,424.3 394.7,422.8 398.6,422.4 400.4,418.9 400.0,415.0 401.1,411.0 402.5,407.9 402.3,405.0 396.9,400.2 392.5,400.9 390.3,403.1 387.5,403.6 384.5,402.6 381.9,402.5 382.0,407.2 379.9,410.6 377.1,412.6" fill="#fad2d2" stroke="#9c6262" stroke-opacity="0.85" stroke-width="0.8"/>
<polygon points="377.4,351.7 382.5,348.0 386.7,346.6 385.1,343.0 385.4,338.3 387.3,335.1 382.8,332.2 378.4,329.3 376.5,332.0 374.9,333.1 371.8,334.0 369.9,336.3 368.0,341.8 370.5,345.2 370.2,347.0 373.1,348.7 375.4,350.2" fill="#f48383" stroke="#9c6262" stroke-opacity="0.85" stroke-width="0.8"/>
<polygon points="385.2,940.7 388.4,941.6 390.5,943.4 393.5,943.9 397.5,943.3 399.7,943.5 400.8,944.2 404.1,944.4 409.3,940.1 411.2,938.0 413.7,935.4 413.2,933.0 413.3,929.2 410.2,924.1 408.9,922.2 404.0,923.4 400.2,922.3 398.8,920.5 395.9,920.8 391.2,923.5 389.0,924.5 387.0,925.0 384.2,928.1 382.1,930.9 381.1,933.7 381.6,936.9" fill="#f14f4f" stroke="#9c6262" stroke-opacity="0.85" stroke-width="0.8"/>
<polygon points="377.2,602.9 380.6,602.2 385.7,603.0 389.2,600.9 391.0,597.3 393.8,595.0 395.9,592.7 394.9,591.8 391.0,588.8 387.2,585.6 385.5,582.5 383.3,580.4 380.5,578.3 377.5,579.9 375.6,582.7 373.0,584.8 372.2,588.0 371.9,591.4 373.9,593.8 374.7,596.3 375.7,598.7" fill="#f48383" stroke="#9c6262" stroke-opacity="0.85" stroke-width="0.8"/>
<polygon points="373.8,388.5 376.5,386.6 380.1,386.4 383.7,385.5 385.4,383.5 388.7,382.8 388.9,379.7 386.4,373.6 387.4,372.3 387.3,371.5 384.5,366.3 381.2,364.1 377.7,365.6 375.6,368.2 373.8,370.9 370.0,371.5 367.3,372.1 367.7,373.0 368.3,375.8 369.9,380.7 370.9,383.3 371.3,384.3" fill="#fad2d2" stroke="#9c6262" stroke-opacity="0.85" stroke-width="0.8"/>
<polygon points="373.5,254.5 376.6,252.6 377.4,246.1 379.8,243.5 382.9,240.3 384.4,238.4 385.4,237.1 386.1,234.6 386.9,231.2 387.9,227.9 388.6,227.6 386.4,227.0 383.4,228.5 384.5,232.4 382.3,235.2 381.8,237.2 381.4,239.5 379.1,242.2 376.9,244.5 376.6,246.8 375.3,250.1 372.1,254.1" fill="#f6a9a9" stroke="#9c6262" stroke-opacity="0.85" stroke-width="0.8"/>
<polygon points="393.9,316.8 393.0,313.5 394.7,307.6 394.1,303.7 392.9,301.5 393.1,298.7 389.3,297.1 385.1,298.7 385.3,305.0 385.4,308.5 387.7,311.4 386.7,313.4 383.8,316.2 381.2,319.1 383.5,317.9 388.0,316.8 391.3,317.1" fill="#f48383" stroke="#9c6262" stroke-opacity="0.85" stroke-width="0.8"/>
<polygon points="380.6,766.3 382.2,764.4 385.6,763.3 389.3,763.0 391.8,761.4 395.6,759.5 399.6,758.9 396.8,758.4 396.2,754.1 396.0,750.7 393.2,748.8 393.7,744.8 394.6,740.6 390.7,741.2 388.0,740.3 385.5,738.7 381.9,738.5 381.7,742.3 379.2,745.7 377.4,748.0 377.1,750.7 376.9,754.8 375.7,758.7 374.0,760.7 379.2,762.3" fill="#f48383" stroke="#9c6262" stroke-opacity="0.85" stroke-width="0.8"/>
<polygon points="387.3,714.1 392.7,713.5 394.8,711.6 397.2,709.6 400.8,705.3 402.3,701.6 397.9,700.2 398.8,698.2 397.6,694.2 395.7,689.9 394.1,687.2 392.5,685.6 392.4,685.6 389.7,688.0 386.5,690.0 385.5,690.9 383.3,693.4 379.9,697.6 377.3,699.8 373.8,700.6 377.2,702.7 380.6,705.4 382.6,708.2 383.4,712.3" fill="#f6a9a9" stroke="#9c6262" stroke-opacity="0.85" stroke-width="0.8"/>
<polygon points="374.7,457.9 374.1,462.5 373.7,465.1 373.1,466.2 372.4,469.0 371.0,474.1 369.1,478.4 368.2,480.2 370.3,480.7 373.8,480.3 377.5,479.9 380.0,480.4 383.0,481.5 387.5,481.7 389.1,479.1 390.5,477.8 390.1,473.5 390.6,470.1 388.8,467.2 388.2,464.1 385.5,462.8 382.5,460.4 380.2,458.0 377.0,456.6" fill="#f6a9a9" stroke="#9c6262" stroke-opacity="0.85" stroke-width="0.8"/>
<polygon points="381.2,364.1 384.5,366.3 387.3,364.6 392.3,364.8 395.7,364.0 399.6,361.9 399.7,358.4 398.7,354.7 398.6,350.7 395.1,348.7 392.3,345.6 389.8,345.8 386.7,346.6 382.5,348.0 377.4,351.7 379.7,356.5 380.5,360.1" fill="#f48383" stroke="#9c6262" stroke-opacity="0.85" stroke-width="0.8"/>
<polygon points="372.0,394.1 373.2,395.4 377.2,397.2 379.7,400.4 378.9,400.8 381.9,402.5 384.5,402.6 387.5,403.6 390.3,403.1 392.5,400.9 396.9,400.2 397.3,398.9 398.7,396.7 396.7,393.2 395.3,390.9 396.8,388.2 394.8,383.8 388.7,382.8 385.4,383.5 383.7,385.5 380.1,386.4 376.5,386.6 373.8,388.5" fill="#f48383" stroke="#9c6262" stroke-opacity="0.85" stroke-width="0.8"/>
<polygon points="395.9,920.8 395.8,916.7 394.0,911.7 393.0,910.3 392.3,907.6 389.9,902.7 387.1,902.5 383.6,904.3 381.4,905.9 378.7,905.6 377.0,908.3 374.4,911.3 373.4,914.0 373.3,917.1 376.5,922.1 375.8,923.3 378.3,925.0 381.1,929.1 382.1,930.9 384.2,928.1 387.0,925.0 389.0,924.5 391.2,923.5" fill="#f48383" stroke="#9c6262" stroke-opacity="0.85" stroke-width="0.8"/>
<polygon points="377.8,206.7 380.0,207.9 383.9,210.3 387.2,212.1 389.8,212.6 392.1,214.7 394.9,217.5 393.8,211.7 393.4,207.9 391.5,206.7 389.2,204.5 389.8,201.2 388.8,196.7 385.9,198.8 383.3,202.2 381.0,205.4 378.7,206.4" fill="#fad2d2" stroke="#9c6262" stroke-opacity="0.85" stroke-width="0.8"/>
<polygon points="388.6,227.6 392.4,225.7 395.2,222.0 398.0,219.7 394.9,217.5 392.1,214.7 389.8,212.6 387.2,212.1 383.9,210.3 380.0,207.9 377.8,206.7 373.7,208.7 372.0,209.8 375.2,210.5 377.8,210.5 379.4,215.3 381.3,218.0 382.5,220.3 382.6,225.1 383.4,228.5 386.4,227.0" fill="#fad2d2" stroke="#9c6262" stroke-opacity="0.85" stroke-width="0.8"/>
<polygon points="383.2,441.7 386.7,442.6 390.7,442.5 393.7,442.2 395.9,442.6 398.7,443.7 401.8,444.7 405.0,445.2 405.8,441.7 407.5,440.3 409.8,438.1 410.4,433.2 407.8,430.2 405.2,428.1 401.7,427.0 399.8,424.9 398.6,422.4 394.7,422.8 392.2,424.3 388.9,425.5 385.4,425.2 383.4,425.3 382.0,428.7 380.4,431.6 378.8,434.3 381.3,437.9" fill="#fad2d2" stroke="#9c6262" stroke-opacity="0.85" stroke-width="0.8"/>
<polygon points="374.6,734.4 376.3,736.6 381.9,738.5 385.5,738.7 388.0,740.3 390.7,741.2 394.6,740.6 399.0,737.4 397.1,735.8 396.4,733.7 399.4,729.6 400.9,725.7 399.3,723.7 397.7,722.0 398.9,718.2 395.7,715.2 392.7,713.5 387.3,714.1 387.6,715.4 384.0,719.0 380.2,723.8 379.1,726.5 378.3,728.1 376.4,731.0" fill="#f48383" stroke="#9c6262" stroke-opacity="0.85" stroke-width="0.8"/>
<polygon points="387.3,557.9 387.6,555.2 387.3,551.5 390.4,548.8 393.5,546.7 394.2,542.5 396.1,537.4 393.5,537.1 390.6,537.2 389.6,535.0 386.5,533.8 383.4,532.1 380.0,530.7 376.6,530.9 376.2,537.0 376.5,538.3 378.2,538.7 377.4,544.1 376.8,548.3 377.0,549.2 376.6,553.7 380.9,556.9" fill="#f6a9a9" stroke="#9c6262" stroke-opacity="0.85" stroke-width="0.8"/>
<polygon points="388.4,873.2 393.3,872.1 396.5,871.5 399.9,870.8 402.8,869.4 405.1,869.8 407.0,865.8 408.6,866.2 405.7,864.2 405.9,858.2 407.8,854.6 402.6,855.0 398.7,853.1 396.9,851.5 392.6,851.2 388.4,850.6 386.3,849.4 382.7,850.8 381.7,854.1 378.7,859.2 382.3,863.7 384.3,866.7 388.0,867.8 388.3,869.0" fill="#f48383" stroke="#9c6262" stroke-opacity="0.85" stroke-width="0.8"/>
<polygon points="378.3,818.0 379.8,818.7 382.9,819.2 386.1,821.6 389.4,822.9 392.0,823.0 393.2,824.7 397.0,827.3 399.2,824.7 400.1,820.7 402.3,817.8 406.4,816.2 409.1,813.4 410.5,810.2 406.0,808.5 404.6,806.2 403.6,803.9 400.3,801.0 397.9,796.8 396.5,796.0 393.1,797.0 389.5,797.5 388.0,799.5 386.0,801.5 382.9,802.4 381.9,806.3 379.7,808.8 378.8,810.9 379.0,814.3" fill="#f14f4f" stroke="#9c6262" stroke-opacity="0.85" stroke-width="0.8"/>
<polygon points="385.7,603.0 386.0,606.0 386.1,607.4 388.7,611.5 388.9,617.0 389.5,618.3 392.2,619.6 390.3,625.2 390.3,625.4 392.5,623.0 396.3,622.2 400.3,620.8 402.8,618.5 406.6,617.9 410.1,617.3 408.8,615.5 409.2,611.2 406.1,607.7 403.3,607.7 401.9,605.0 397.4,601.9 396.1,599.2 393.8,595.0 391.0,597.3 389.2,600.9" fill="#f48383" stroke="#9c6262" stroke-opacity="0.85" stroke-width="0.8"/>
<polygon points="389.9,494.0 391.8,494.0 397.2,494.5 400.5,496.9 400.6,497.9 404.0,497.6 405.8,497.1 406.2,496.8 406.7,494.8 407.2,490.9 405.2,485.4 404.9,482.9 405.5,481.5 402.2,477.9 398.5,476.4 396.5,477.3 394.0,478.6 390.5,477.8 389.1,479.1 387.5,481.7 387.6,484.1 386.2,486.5 388.2,490.5" fill="#f48383" stroke="#9c6262" stroke-opacity="0.85" stroke-width="0.8"/>
<polygon points="380.5,578.3 383.3,580.4 385.5,582.5 387.2,585.6 391.0,588.8 394.9,591.8 395.9,592.7 397.8,590.6 400.5,588.5 403.2,586.9 404.8,583.9 404.9,583.5 405.6,582.3 403.4,579.8 399.8,576.9 398.7,574.2 397.7,571.3 397.4,569.0 396.1,566.5 392.9,563.9 390.3,563.9 388.9,565.4 387.7,568.4 385.0,572.0 381.4,574.8" fill="#f6a9a9" stroke="#9c6262" stroke-opacity="0.85" stroke-width="0.8"/>
<polygon points="398.4,785.3 400.5,784.2 401.4,783.1 401.7,781.7 399.8,775.9 400.6,770.4 403.7,769.3 403.5,767.6 402.0,761.9 399.6,758.9 395.6,759.5 391.8,761.4 389.3,763.0 385.6,763.3 382.2,764.4 380.6,766.3 381.9,770.7 382.1,771.5 379.1,773.3 381.9,777.9 387.2,781.1 389.2,781.7 390.7,783.7 393.0,784.8 394.8,783.6" fill="#f48383" stroke="#9c6262" stroke-opacity="0.85" stroke-width="0.8"/>
<polygon points="381.5,946.5 383.4,950.5 385.3,951.2 384.7,955.0 387.1,960.2 388.9,961.5 390.3,964.1 393.6,964.7 396.2,964.5 398.5,965.1 401.0,966.4 408.1,964.9 407.3,961.4 407.1,958.9 407.1,956.0 405.5,952.0 404.9,949.5 404.7,948.2 404.1,944.4 400.8,944.2 399.7,943.5 397.5,943.3 393.5,943.9 390.5,943.4 388.4,941.6 385.2,940.7" fill="#f14f4f" stroke="#9c6262" stroke-opacity="0.85" stroke-width="0.8"/>
<polygon points="388.2,464.1 391.8,461.6 393.7,460.1 396.9,458.7 400.0,456.0 401.8,454.7 405.4,454.5 405.8,453.7 405.8,450.2 405.0,445.2 401.8,444.7 398.7,443.7 395.9,442.6 393.7,442.2 390.7,442.5 386.7,442.6 383.2,441.7 383.1,444.3 381.0,449.1 378.7,453.0 377.5,454.3 377.0,456.6 380.2,458.0 382.5,460.4 385.5,462.8" fill="#f48383" stroke="#9c6262" stroke-opacity="0.85" stroke-width="0.8"/>
<polygon points="400.2,332.5 401.9,335.9 402.8,338.2 402.2,340.4 403.3,343.9 405.0,346.1 407.8,345.7 408.8,345.6 413.5,346.4 418.4,347.8 417.5,344.6 416.1,341.9 416.8,339.9 417.3,336.6 417.2,332.2 417.1,329.6 415.9,327.5 414.5,327.5 410.9,324.4 409.0,322.7 407.6,322.7 405.5,324.7 401.7,328.5" fill="#f48383" stroke="#9c6262" stroke-opacity="0.85" stroke-width="0.8"/>
<polygon points="374.8,503.4 379.7,504.7 383.9,508.5 384.1,510.1 387.3,510.0 390.6,512.1 392.9,512.8 395.1,511.2 397.4,510.4 400.7,507.0 402.7,502.1 402.3,499.2 404.0,497.6 400.6,497.9 400.5,496.9 397.2,494.5 391.8,494.0 389.9,494.0 388.0,495.5 383.4,498.0 379.7,500.3 377.5,501.2" fill="#fad2d2" stroke="#9c6262" stroke-opacity="0.85" stroke-width="0.8"/>
<polygon points="392.4,685.6 392.5,685.6 394.9,685.1 399.2,683.0 402.5,680.9 405.3,680.4 409.4,679.1 410.6,674.8 412.1,673.9 411.2,671.2 412.4,666.9 411.6,663.9 410.2,661.6 406.5,660.7 402.5,658.3 400.2,657.7 397.2,658.5 392.8,657.4 391.4,661.1 392.7,663.1 392.8,664.8 390.1,668.4 387.6,673.2 387.5,676.0 387.5,676.8 389.3,678.9" fill="#f6a9a9" stroke="#9c6262" stroke-opacity="0.85" stroke-width="0.8"/>
<polygon points="378.4,329.3 382.8,332.2 387.3,335.1 390.7,335.2 394.0,333.3 398.3,332.2 400.2,332.5 401.7,328.5 405.5,324.7 407.6,322.7 402.5,320.0 398.8,318.5 394.5,318.6 393.9,316.8 391.3,317.1 388.0,316.8 383.5,317.9 381.2,319.1 380.3,319.9 380.2,319.8 380.7,322.4 380.4,325.1" fill="#f48383" stroke="#9c6262" stroke-opacity="0.85" stroke-width="0.8"/>
<polygon points="394.8,383.8 396.5,381.6 400.1,380.6 402.6,379.0 400.7,373.3 402.0,370.9 404.7,370.0 404.2,366.3 400.8,362.9 399.6,361.9 395.7,364.0 392.3,364.8 387.3,364.6 384.5,366.3 387.3,371.5 387.4,372.3 386.4,373.6 388.9,379.7 388.7,382.8" fill="#f6a9a9" stroke="#9c6262" stroke-opacity="0.85" stroke-width="0.8"/>
<polygon points="392.8,657.4 397.2,658.5 400.2,657.7 402.5,658.3 406.5,660.7 410.2,661.6 411.7,657.7 414.8,654.8 417.5,652.0 415.0,648.4 414.4,645.9 415.6,643.1 415.0,639.6 412.7,639.9 409.6,641.4 404.8,641.2 401.5,639.5 400.0,638.7 396.2,639.2 395.7,641.4 393.5,644.2 389.3,648.9 387.6,652.4 392.2,653.1" fill="#f6a9a9" stroke="#9c6262" stroke-opacity="0.85" stroke-width="0.8"/>
<polygon points="392.7,713.5 395.7,715.2 398.9,718.2 397.7,722.0 399.3,723.7 402.4,723.6 406.1,722.9 409.7,722.0 411.3,722.6 413.6,723.0 416.8,717.4 415.1,713.6 413.0,712.1 415.4,706.9 413.1,701.8 408.5,703.2 405.5,703.0 402.3,701.6 400.8,705.3 397.2,709.6 394.8,711.6" fill="#f14f4f" stroke="#9c6262" stroke-opacity="0.85" stroke-width="0.8"/>
<polygon points="390.3,563.9 392.9,563.9 395.3,562.0 399.6,561.2 402.8,561.1 406.0,559.5 410.4,558.0 412.8,557.6 410.4,553.4 410.6,548.5 414.0,544.9 410.5,542.4 406.7,540.0 404.1,538.4 400.6,537.9 396.1,537.4 394.2,542.5 393.5,546.7 390.4,548.8 387.3,551.5 387.6,555.2 387.3,557.9 388.4,561.4" fill="#f14f4f" stroke="#9c6262" stroke-opacity="0.85" stroke-width="0.8"/>
<polygon points="398.6,350.7 405.0,346.1 403.3,343.9 402.2,340.4 402.8,338.2 401.9,335.9 400.2,332.5 398.3,332.2 394.0,333.3 390.7,335.2 387.3,335.1 385.4,338.3 385.1,343.0 386.7,346.6 389.8,345.8 392.3,345.6 395.1,348.7" fill="#f48383" stroke="#9c6262" stroke-opacity="0.85" stroke-width="0.8"/>
<polygon points="390.5,477.8 394.0,478.6 396.5,477.3 398.5,476.4 402.2,477.9 404.5,476.4 407.9,473.3 408.0,469.8 408.2,467.8 406.2,464.4 406.4,460.6 407.4,457.6 405.4,454.5 401.8,454.7 400.0,456.0 396.9,458.7 393.7,460.1 391.8,461.6 388.2,464.1 388.8,467.2 390.6,470.1 390.1,473.5" fill="#f48383" stroke="#9c6262" stroke-opacity="0.85" stroke-width="0.8"/>
<polygon points="383.4,532.1 386.5,533.8 389.6,535.0 390.6,537.2 393.5,537.1 396.1,537.4 400.6,537.9 404.1,538.4 405.6,535.1 406.3,532.7 405.6,529.8 404.9,526.3 405.2,523.3 403.0,521.9 399.9,521.5 398.5,518.8 395.7,515.8 393.4,520.1 391.5,522.2 388.1,524.3 385.1,528.1" fill="#f6a9a9" stroke="#9c6262" stroke-opacity="0.85" stroke-width="0.8"/>
<polygon points="396.9,400.2 402.3,405.0 406.3,402.7 408.5,400.4 411.9,398.3 413.0,395.4 413.5,392.2 415.7,389.8 417.9,387.8 419.0,385.2 416.8,384.5 413.2,382.0 407.9,381.0 405.4,381.2 402.6,379.0 400.1,380.6 396.5,381.6 394.8,383.8 396.8,388.2 395.3,390.9 396.7,393.2 398.7,396.7 397.3,398.9" fill="#f6a9a9" stroke="#9c6262" stroke-opacity="0.85" stroke-width="0.8"/>
<polygon points="407.8,854.6 409.1,852.6 410.2,852.0 412.2,850.6 413.7,846.9 414.0,841.6 415.5,838.3 411.2,838.3 408.3,837.5 408.3,835.3 404.5,833.7 400.6,831.7 398.6,829.5 397.0,831.8 395.3,835.8 392.6,839.3 391.4,840.6 391.8,842.0 390.1,845.5 386.3,849.4 388.4,850.6 392.6,851.2 396.9,851.5 398.7,853.1 402.6,855.0" fill="#f14f4f" stroke="#9c6262" stroke-opacity="0.85" stroke-width="0.8"/>
<polygon points="394.6,740.6 393.7,744.8 393.2,748.8 396.0,750.7 396.2,754.1 396.8,758.4 399.6,758.9 402.0,761.9 405.3,761.0 409.6,760.4 412.3,760.1 415.0,758.5 419.1,756.6 420.2,756.4 419.8,753.4 418.0,748.5 416.8,746.8 414.8,745.8 414.4,741.1 412.9,739.9 410.1,740.0 405.5,740.7 402.5,740.3 401.7,738.6 399.0,737.4" fill="#f48383" stroke="#9c6262" stroke-opacity="0.85" stroke-width="0.8"/>
<polygon points="395.7,515.8 398.5,518.8 399.9,521.5 403.0,521.9 405.2,523.3 408.7,522.0 412.0,520.5 414.3,519.9 417.2,511.9 414.8,510.4 413.7,508.9 412.8,505.3 408.9,503.5 407.3,500.6 405.8,497.1 404.0,497.6 402.3,499.2 402.7,502.1 400.7,507.0 397.4,510.4 395.1,511.2 392.9,512.8" fill="#f48383" stroke="#9c6262" stroke-opacity="0.85" stroke-width="0.8"/>
<polygon points="393.8,595.0 396.1,599.2 397.4,601.9 401.9,605.0 403.3,607.7 406.1,607.7 409.2,611.2 408.8,615.5 411.7,612.2 415.5,610.1 417.3,608.0 418.8,605.7 421.6,604.2 423.6,602.6 420.8,597.7 417.8,595.7 417.1,592.3 413.2,590.1 411.7,590.2 409.3,586.9 404.8,583.9 403.2,586.9 400.5,588.5 397.8,590.6 395.9,592.7" fill="#f6a9a9" stroke="#9c6262" stroke-opacity="0.85" stroke-width="0.8"/>
<polygon points="385.1,882.1 389.1,887.2 392.8,889.5 392.8,890.9 395.4,894.7 396.7,895.9 398.6,895.5 402.3,895.1 406.1,894.5 408.2,895.2 410.7,892.1 411.6,888.9 411.0,886.7 409.3,880.7 409.3,876.5 408.4,875.3 405.3,870.1 405.1,869.8 402.8,869.4 399.9,870.8 396.5,871.5 393.3,872.1 388.4,873.2 389.4,877.6 388.6,878.4" fill="#fad2d2" stroke="#9c6262" stroke-opacity="0.85" stroke-width="0.8"/>
<polygon points="398.4,785.3 398.8,792.1 396.5,796.0 397.9,796.8 400.3,801.0 403.6,803.9 404.6,806.2 406.0,808.5 410.5,810.2 410.9,810.2 413.9,809.3 415.8,808.4 417.8,806.1 421.7,804.4 424.3,803.3 425.6,800.9 428.0,798.1 424.6,794.9 425.6,792.8 427.0,789.0 423.2,784.9 422.9,782.6 420.5,781.9 416.3,782.7 413.0,783.9 409.8,784.0 405.8,784.2 403.1,784.8 400.5,784.2" fill="#f6a9a9" stroke="#9c6262" stroke-opacity="0.85" stroke-width="0.8"/>
<polygon points="405.4,454.5 407.4,457.6 406.4,460.6 406.2,464.4 408.2,467.8 408.0,469.8 407.9,473.3 411.5,474.8 414.0,476.3 416.6,475.5 419.8,474.0 421.6,471.7 424.8,470.3 426.6,468.0 427.9,465.0 426.5,460.4 425.5,457.0 424.3,457.7 419.9,456.2 414.5,453.4 412.4,452.9 410.4,453.9 405.8,453.7" fill="#f6a9a9" stroke="#9c6262" stroke-opacity="0.85" stroke-width="0.8"/>
<polygon points="404.2,366.3 407.4,367.0 410.3,366.1 413.8,364.7 415.8,364.1 417.3,362.8 420.8,360.7 422.2,358.7 422.6,357.1 419.1,352.8 418.6,349.1 418.4,347.8 413.5,346.4 408.8,345.6 407.8,345.7 405.0,346.1 398.6,350.7 398.7,354.7 399.7,358.4 399.6,361.9 400.8,362.9" fill="#f48383" stroke="#9c6262" stroke-opacity="0.85" stroke-width="0.8"/>
<polygon points="398.6,422.4 399.8,424.9 401.7,427.0 405.2,428.1 407.8,430.2 410.4,433.2 412.3,429.2 414.7,428.0 415.6,426.8 417.2,424.0 421.6,421.7 421.9,417.1 419.8,415.5 418.5,413.5 419.6,409.3 416.1,406.9 411.3,404.1 406.3,402.7 402.3,405.0 402.5,407.9 401.1,411.0 400.0,415.0 400.4,418.9" fill="#f48383" stroke="#9c6262" stroke-opacity="0.85" stroke-width="0.8"/>
<polygon points="389.9,902.7 392.3,907.6 393.0,910.3 394.0,911.7 395.8,916.7 395.9,920.8 398.8,920.5 400.2,922.3 404.0,923.4 408.9,922.2 410.2,921.3 411.6,918.7 413.1,913.9 415.0,909.8 416.8,907.7 413.8,905.0 411.8,899.8 410.0,897.6 408.2,895.2 406.1,894.5 402.3,895.1 398.6,895.5 396.7,895.9 394.3,898.0 391.2,900.7" fill="#fad2d2" stroke="#9c6262" stroke-opacity="0.85" stroke-width="0.8"/>
<polygon points="442.2,947.8 438.1,946.4 435.9,946.0 432.2,948.0 427.3,949.0 427.9,950.4 426.3,953.9 423.9,958.1 422.7,961.7 422.4,964.7 425.5,964.7 429.7,962.5 432.8,961.2 435.7,961.8 440.2,961.4 442.9,961.3 445.9,961.7 445.6,958.3 444.2,953.7 443.7,951.2" fill="#f6a9a9" stroke="#9c6262" stroke-opacity="0.85" stroke-width="0.8"/>
<polygon points="413.7,935.4 414.0,935.3 416.1,934.4 418.3,934.2 422.6,932.2 426.3,929.5 428.9,927.8 432.5,925.7 434.8,922.8 435.8,921.5 438.6,921.2 441.5,919.6 441.2,918.9 439.3,917.3 438.5,913.2 433.2,911.4 430.3,911.0 428.6,909.8 425.7,909.6 421.8,909.7 418.9,908.8 416.8,907.7 415.0,909.8 413.1,913.9 411.6,918.7 410.2,921.3 408.9,922.2 410.2,924.1 413.3,929.2 413.2,933.0" fill="#f14f4f" stroke="#9c6262" stroke-opacity="0.85" stroke-width="0.8"/>
<polygon points="400.5,784.2 403.1,784.8 405.8,784.2 409.8,784.0 413.0,783.9 416.3,782.7 420.5,781.9 422.9,782.6 426.1,781.4 428.6,777.9 428.5,774.1 425.1,771.5 426.0,769.4 424.4,767.3 421.6,764.7 420.4,759.7 419.1,756.6 415.0,758.5 412.3,760.1 409.6,760.4 405.3,761.0 402.0,761.9 403.5,767.6 403.7,769.3 400.6,770.4 399.8,775.9 401.7,781.7 401.4,783.1" fill="#f48383" stroke="#9c6262" stroke-opacity="0.85" stroke-width="0.8"/>
<polygon points="406.2,496.8 410.6,495.2 413.4,495.2 417.1,495.2 420.2,493.8 421.7,492.8 424.5,492.4 427.5,490.5 426.5,486.6 426.4,482.6 425.2,481.0 423.2,477.9 419.8,474.0 416.6,475.5 414.0,476.3 411.5,474.8 407.9,473.3 404.5,476.4 402.2,477.9 405.5,481.5 404.9,482.9 405.2,485.4 407.2,490.9 406.7,494.8" fill="#f14f4f" stroke="#9c6262" stroke-opacity="0.85" stroke-width="0.8"/>
<polygon points="390.3,625.4 391.8,628.8 395.7,631.1 393.8,636.3 396.2,639.2 400.0,638.7 401.5,639.5 404.8,641.2 409.6,641.4 412.7,639.9 415.0,639.6 416.5,637.2 419.2,634.5 421.4,631.4 418.2,629.3 414.9,625.0 412.6,622.8 412.8,618.7 410.1,617.3 406.6,617.9 402.8,618.5 400.3,620.8 396.3,622.2 392.5,623.0" fill="#f48383" stroke="#9c6262" stroke-opacity="0.85" stroke-width="0.8"/>
<polygon points="398.6,829.5 400.6,831.7 404.5,833.7 408.3,835.3 408.3,837.5 411.2,838.3 415.5,838.3 418.3,837.7 420.1,835.2 422.4,831.9 425.5,830.3 426.4,829.0 424.5,827.2 424.0,824.0 421.4,821.5 418.2,819.8 418.1,816.7 415.1,814.2 412.1,812.3 410.9,810.2 410.5,810.2 409.1,813.4 406.4,816.2 402.3,817.8 400.1,820.7 399.2,824.7 397.0,827.3" fill="#f14f4f" stroke="#9c6262" stroke-opacity="0.85" stroke-width="0.8"/>
<polygon points="392.5,685.6 394.1,687.2 395.7,689.9 397.6,694.2 398.8,698.2 397.9,700.2 402.3,701.6 405.5,703.0 408.5,703.2 413.1,701.8 412.7,700.4 414.1,700.2 417.6,698.4 419.2,695.2 415.6,690.5 413.9,688.8 413.4,687.0 410.5,683.5 409.4,679.1 405.3,680.4 402.5,680.9 399.2,683.0 394.9,685.1" fill="#f14f4f" stroke="#9c6262" stroke-opacity="0.85" stroke-width="0.8"/>
<polygon points="405.1,869.8 405.3,870.1 409.2,870.9 413.2,869.9 415.6,868.1 418.7,867.2 422.7,866.3 425.5,864.9 426.1,863.9 424.8,861.4 425.9,854.9 427.2,853.5 421.3,852.3 417.0,848.1 413.7,846.9 412.2,850.6 410.2,852.0 409.1,852.6 407.8,854.6 405.9,858.2 405.7,864.2 408.6,866.2 407.0,865.8" fill="#f48383" stroke="#9c6262" stroke-opacity="0.85" stroke-width="0.8"/>
<polygon points="410.7,892.1 414.5,891.3 416.6,890.7 420.0,890.8 424.1,889.5 426.9,887.4 430.6,886.8 429.4,884.6 429.9,880.3 430.9,876.3 428.3,873.5 426.8,868.9 425.5,864.9 422.7,866.3 418.7,867.2 415.6,868.1 413.2,869.9 409.2,870.9 405.3,870.1 408.4,875.3 409.3,876.5 409.3,880.7 411.0,886.7 411.6,888.9" fill="#f6a9a9" stroke="#9c6262" stroke-opacity="0.85" stroke-width="0.8"/>
<polygon points="404.1,944.4 404.7,948.2 404.9,949.5 405.5,952.0 407.1,956.0 407.1,958.9 407.3,961.4 408.1,964.9 412.4,964.5 414.3,964.6 418.3,964.2 422.4,964.7 422.7,961.7 423.9,958.1 426.3,953.9 427.9,950.4 427.3,949.0 423.9,946.9 422.8,945.1 420.2,943.2 420.1,939.6 419.4,936.7 414.0,935.3 413.7,935.4 411.2,938.0 409.3,940.1" fill="#f14f4f" stroke="#9c6262" stroke-opacity="0.85" stroke-width="0.8"/>
<polygon points="404.9,583.5 409.1,581.1 412.2,580.4 413.7,577.9 416.5,575.0 418.9,573.2 419.3,565.9 416.6,563.7 415.3,562.3 412.9,559.5 412.8,557.6 410.4,558.0 406.0,559.5 402.8,561.1 399.6,561.2 395.3,562.0 392.9,563.9 396.1,566.5 397.4,569.0 397.7,571.3 398.7,574.2 399.8,576.9 403.4,579.8 405.6,582.3" fill="#f6a9a9" stroke="#9c6262" stroke-opacity="0.85" stroke-width="0.8"/>
<polygon points="404.1,538.4 406.7,540.0 410.5,542.4 414.0,544.9 416.1,544.0 419.0,541.5 422.0,538.9 423.8,535.8 426.7,534.6 427.5,532.3 423.7,529.0 421.8,525.9 418.5,523.8 416.2,522.8 414.3,519.9 412.0,520.5 408.7,522.0 405.2,523.3 404.9,526.3 405.6,529.8 406.3,532.7 405.6,535.1" fill="#f6a9a9" stroke="#9c6262" stroke-opacity="0.85" stroke-width="0.8"/>
<polygon points="399.0,737.4 401.7,738.6 402.5,740.3 405.5,740.7 410.1,740.0 412.9,739.9 414.4,741.1 417.3,736.2 418.0,733.3 418.0,731.5 420.0,728.1 421.6,723.4 417.3,723.0 413.6,723.0 411.3,722.6 409.7,722.0 406.1,722.9 402.4,723.6 399.3,723.7 400.9,725.7 399.4,729.6 396.4,733.7 397.1,735.8" fill="#f48383" stroke="#9c6262" stroke-opacity="0.85" stroke-width="0.8"/>
<polygon points="409.4,679.1 410.5,683.5 413.4,687.0 413.9,688.8 415.6,690.5 419.2,695.2 417.6,698.4 420.1,696.9 424.6,697.1 429.4,697.6 431.4,697.6 433.5,697.8 437.4,694.6 438.4,689.3 437.3,685.9 436.0,686.3 437.1,683.6 433.8,678.1 431.1,675.9 430.9,674.7 426.5,674.1 421.1,673.1 419.2,673.3 417.2,674.1 412.1,673.9 410.6,674.8" fill="#f14f4f" stroke="#9c6262" stroke-opacity="0.85" stroke-width="0.8"/>
<polygon points="419.0,385.2 422.4,383.1 425.4,382.5 424.1,380.0 423.4,375.2 421.7,371.0 421.8,369.6 422.4,366.2 421.1,360.9 420.8,360.7 417.3,362.8 415.8,364.1 413.8,364.7 410.3,366.1 407.4,367.0 404.2,366.3 404.7,370.0 402.0,370.9 400.7,373.3 402.6,379.0 405.4,381.2 407.9,381.0 413.2,382.0 416.8,384.5" fill="#f6a9a9" stroke="#9c6262" stroke-opacity="0.85" stroke-width="0.8"/>
<polygon points="408.8,615.5 410.1,617.3 412.8,618.7 412.6,622.8 414.9,625.0 418.2,629.3 421.4,631.4 426.5,630.5 428.1,629.6 428.3,627.1 430.5,624.4 433.3,622.4 435.7,619.7 437.5,616.1 437.4,612.8 439.3,608.4 438.2,606.8 435.4,604.6 432.4,602.7 429.0,601.8 425.4,602.8 423.6,602.6 421.6,604.2 418.8,605.7 417.3,608.0 415.5,610.1 411.7,612.2" fill="#fad2d2" stroke="#9c6262" stroke-opacity="0.85" stroke-width="0.8"/>
<polygon points="410.2,661.6 411.6,663.9 412.4,666.9 411.2,671.2 412.1,673.9 417.2,674.1 419.2,673.3 421.1,673.1 426.5,674.1 430.9,674.7 430.5,671.5 430.3,667.8 432.5,665.1 435.2,663.5 436.0,661.2 436.4,657.4 432.2,656.1 431.4,656.1 428.0,654.7 422.7,652.9 420.1,652.5 417.5,652.0 414.8,654.8 411.7,657.7" fill="#f14f4f" stroke="#9c6262" stroke-opacity="0.85" stroke-width="0.8"/>
<polygon points="405.8,453.7 410.4,453.9 412.4,452.9 414.5,453.4 419.9,456.2 424.3,457.7 425.5,457.0 427.4,454.3 429.0,452.7 428.5,448.8 428.7,443.2 432.1,440.7 429.1,441.3 424.8,440.9 422.2,439.9 420.1,439.7 415.8,439.8 411.8,439.0 409.8,438.1 407.5,440.3 405.8,441.7 405.0,445.2 405.8,450.2" fill="#f6a9a9" stroke="#9c6262" stroke-opacity="0.85" stroke-width="0.8"/>
<polygon points="418.4,347.8 418.6,349.1 421.0,347.3 425.3,344.6 428.1,343.5 430.3,343.2 433.6,341.4 435.2,339.7 438.9,334.6 434.4,331.0 430.9,330.2 426.5,329.8 421.8,328.7 419.5,327.6 415.9,327.5 417.1,329.6 417.2,332.2 417.3,336.6 416.8,339.9 416.1,341.9 417.5,344.6" fill="#f6a9a9" stroke="#9c6262" stroke-opacity="0.85" stroke-width="0.8"/>
<polygon points="413.1,701.8 415.4,706.9 413.0,712.1 415.1,713.6 416.8,717.4 413.6,723.0 417.3,723.0 421.6,723.4 424.3,724.1 426.0,721.7 430.2,717.6 432.3,713.9 432.7,712.7 434.6,711.5 437.3,708.0 439.8,704.0 436.6,698.0 433.5,697.8 431.4,697.6 429.4,697.6 424.6,697.1 420.1,696.9 417.6,698.4 414.1,700.2 412.7,700.4" fill="#f14f4f" stroke="#9c6262" stroke-opacity="0.85" stroke-width="0.8"/>
<polygon points="404.8,583.9 409.3,586.9 411.7,590.2 413.2,590.1 417.1,592.3 417.8,595.7 420.8,597.7 423.6,602.6 425.4,602.8 429.0,601.8 430.8,597.5 431.4,593.2 432.0,590.4 433.3,588.1 434.7,585.5 436.2,582.7 434.8,579.4 431.1,578.4 428.8,579.1 425.1,576.7 419.7,574.0 418.9,573.2 416.5,575.0 413.7,577.9 412.2,580.4 409.1,581.1 404.9,583.5" fill="#f48383" stroke="#9c6262" stroke-opacity="0.85" stroke-width="0.8"/>
<polygon points="412.8,557.6 412.9,559.5 415.3,562.3 416.6,563.7 419.3,565.9 422.4,563.5 424.3,562.4 426.1,561.5 430.2,559.2 433.9,557.7 436.6,557.3 440.4,555.7 436.4,550.4 434.4,550.5 429.9,547.6 429.0,545.7 425.9,543.5 422.0,538.9 419.0,541.5 416.1,544.0 414.0,544.9 410.6,548.5 410.4,553.4" fill="#f14f4f" stroke="#9c6262" stroke-opacity="0.85" stroke-width="0.8"/>
<polygon points="455.4,331.6 455.9,330.1 455.3,328.2 457.7,323.9 456.8,321.1 452.2,326.5 452.5,329.1 453.0,331.5" fill="#f6a9a9" stroke="#9c6262" stroke-opacity="0.85" stroke-width="0.8"/>
<polygon points="419.0,385.2 417.9,387.8 415.7,389.8 413.5,392.2 413.0,395.4 411.9,398.3 408.5,400.4 406.3,402.7 411.3,404.1 416.1,406.9 419.6,409.3 421.5,407.2 424.6,405.5 426.8,405.2 427.9,404.1 430.8,402.3 433.8,401.9 436.3,401.1 436.1,397.4 434.9,393.8 430.8,392.3 430.4,389.4 430.0,386.4 428.3,384.0 425.4,382.5 422.4,383.1" fill="#f6a9a9" stroke="#9c6262" stroke-opacity="0.85" stroke-width="0.8"/>
<polygon points="405.8,497.1 407.3,500.6 408.9,503.5 412.8,505.3 413.7,508.9 414.8,510.4 417.2,511.9 419.8,510.2 421.6,510.1 425.3,509.8 428.5,508.3 431.0,507.8 431.5,505.1 431.4,500.9 431.0,498.0 431.9,494.7 429.3,490.6 427.5,490.5 424.5,492.4 421.7,492.8 420.2,493.8 417.1,495.2 413.4,495.2 410.6,495.2 406.2,496.8" fill="#f6a9a9" stroke="#9c6262" stroke-opacity="0.85" stroke-width="0.8"/>
<polygon points="414.4,741.1 414.8,745.8 416.8,746.8 418.0,748.5 419.8,753.4 423.5,751.3 426.3,749.6 428.3,748.9 431.9,747.1 435.1,745.2 437.5,744.9 441.6,744.5 445.1,743.0 442.7,738.9 442.2,736.1 439.1,733.0 436.5,732.4 434.1,730.5 431.5,726.9 428.2,726.2 424.3,724.1 421.6,723.4 420.0,728.1 418.0,731.5 418.0,733.3 417.3,736.2" fill="#f48383" stroke="#9c6262" stroke-opacity="0.85" stroke-width="0.8"/>
<polygon points="413.7,846.9 417.0,848.1 421.3,852.3 427.2,853.5 428.9,851.9 430.8,850.1 434.0,849.6 435.8,848.4 438.5,846.1 442.8,845.0 445.8,844.2 443.9,840.5 441.8,840.0 438.6,837.9 435.6,835.1 433.3,834.6 431.0,832.3 429.9,828.9 426.4,829.0 425.5,830.3 422.4,831.9 420.1,835.2 418.3,837.7 415.5,838.3 414.0,841.6" fill="#f6a9a9" stroke="#9c6262" stroke-opacity="0.85" stroke-width="0.8"/>
<polygon points="427.5,490.5 429.3,490.6 430.2,487.8 434.1,486.2 437.7,483.5 440.3,480.7 442.8,479.0 443.5,476.3 445.2,473.1 444.3,470.4 442.3,468.4 439.4,466.2 436.7,465.6 433.2,465.1 429.9,465.2 427.9,465.0 426.6,468.0 424.8,470.3 421.6,471.7 419.8,474.0 423.2,477.9 425.2,481.0 426.4,482.6 426.5,486.6" fill="#f6a9a9" stroke="#9c6262" stroke-opacity="0.85" stroke-width="0.8"/>
<polygon points="414.3,519.9 416.2,522.8 418.5,523.8 421.8,525.9 423.7,529.0 427.5,532.3 430.0,530.1 432.7,528.8 436.9,525.9 435.6,523.0 434.9,520.9 436.2,518.3 437.2,514.5 433.0,510.2 431.0,507.8 428.5,508.3 425.3,509.8 421.6,510.1 419.8,510.2 417.2,511.9" fill="#f6a9a9" stroke="#9c6262" stroke-opacity="0.85" stroke-width="0.8"/>
<polygon points="424.5,827.2 427.2,824.3 430.5,822.2 432.1,819.6 434.8,816.0 438.3,813.7 440.3,812.1 439.0,808.7 436.9,807.5 438.0,803.8 434.3,801.9 430.8,800.7 428.0,798.1 425.6,800.9 424.3,803.3 421.7,804.4 417.8,806.1 415.8,808.4 413.9,809.3 410.9,810.2 412.1,812.3 415.1,814.2 418.1,816.7 418.2,819.8 421.4,821.5 424.0,824.0" fill="#f14f4f" stroke="#9c6262" stroke-opacity="0.85" stroke-width="0.8"/>
<polygon points="409.8,438.1 411.8,439.0 415.8,439.8 420.1,439.7 422.2,439.9 424.8,440.9 429.1,441.3 432.1,440.7 435.1,440.0 435.6,439.7 434.0,434.8 435.0,428.2 436.3,426.3 434.0,425.5 429.1,423.1 427.4,422.2 425.4,422.8 421.6,421.7 417.2,424.0 415.6,426.8 414.7,428.0 412.3,429.2 410.4,433.2" fill="#f48383" stroke="#9c6262" stroke-opacity="0.85" stroke-width="0.8"/>
<polygon points="414.0,935.3 419.4,936.7 420.1,939.6 420.2,943.2 422.8,945.1 423.9,946.9 427.3,949.0 432.2,948.0 435.9,946.0 438.1,946.4 442.2,947.8 442.9,944.6 443.5,941.6 446.3,939.1 449.0,937.0 449.1,935.1 447.6,932.3 448.2,928.2 446.2,925.5 443.1,921.8 441.5,919.6 438.6,921.2 435.8,921.5 434.8,922.8 432.5,925.7 428.9,927.8 426.3,929.5 422.6,932.2 418.3,934.2 416.1,934.4" fill="#f6a9a9" stroke="#9c6262" stroke-opacity="0.85" stroke-width="0.8"/>
<polygon points="408.2,895.2 410.0,897.6 411.8,899.8 413.8,905.0 416.8,907.7 418.9,908.8 421.8,909.7 425.7,909.6 428.6,909.8 430.3,911.0 433.2,911.4 435.5,908.5 436.8,904.0 434.1,899.8 434.6,896.8 437.1,893.7 436.2,890.4 433.0,889.0 430.6,886.8 426.9,887.4 424.1,889.5 420.0,890.8 416.6,890.7 414.5,891.3 410.7,892.1" fill="#f48383" stroke="#9c6262" stroke-opacity="0.85" stroke-width="0.8"/>
<polygon points="422.9,782.6 423.2,784.9 427.0,789.0 425.6,792.8 424.6,794.9 428.0,798.1 430.8,800.7 434.3,801.9 438.0,803.8 441.3,800.1 442.7,797.4 442.9,795.7 445.8,793.0 448.8,790.8 450.4,789.0 448.5,785.9 447.8,781.4 446.9,780.0 447.0,777.6 442.4,772.4 438.7,772.4 436.8,772.6 434.1,773.9 431.3,774.5 428.5,774.1 428.6,777.9 426.1,781.4" fill="#f6a9a9" stroke="#9c6262" stroke-opacity="0.85" stroke-width="0.8"/>
<polygon points="419.1,756.6 420.4,759.7 421.6,764.7 424.4,767.3 426.0,769.4 425.1,771.5 428.5,774.1 431.3,774.5 434.1,773.9 436.8,772.6 438.7,772.4 442.4,772.4 445.0,769.2 447.5,767.9 449.3,766.6 452.0,762.4 454.6,757.9 457.1,756.0 453.1,753.2 452.1,750.7 448.4,746.9 446.6,744.5 445.1,743.0 441.6,744.5 437.5,744.9 435.1,745.2 431.9,747.1 428.3,748.9 426.3,749.6 423.5,751.3 419.8,753.4 420.2,756.4" fill="#f48383" stroke="#9c6262" stroke-opacity="0.85" stroke-width="0.8"/>
<polygon points="417.5,652.0 420.1,652.5 422.7,652.9 428.0,654.7 431.4,656.1 432.2,656.1 436.4,657.4 441.1,656.3 443.8,654.0 447.5,651.5 442.1,647.8 440.4,646.4 437.6,644.4 435.7,641.8 435.3,640.4 431.1,638.5 429.3,636.3 428.6,633.3 426.5,630.5 421.4,631.4 419.2,634.5 416.5,637.2 415.0,639.6 415.6,643.1 414.4,645.9 415.0,648.4" fill="#f14f4f" stroke="#9c6262" stroke-opacity="0.85" stroke-width="0.8"/>
<polygon points="441.2,918.9 443.8,916.9 447.5,915.3 449.2,912.4 450.1,910.0 453.2,909.6 456.4,908.6 459.1,906.2 462.8,904.4 464.9,902.6 463.2,898.7 461.9,894.9 459.5,893.6 458.8,890.5 457.0,886.8 454.7,885.3 451.9,885.8 448.6,886.3 446.9,888.0 443.7,888.4 439.3,888.6 436.2,890.4 437.1,893.7 434.6,896.8 434.1,899.8 436.8,904.0 435.5,908.5 433.2,911.4 438.5,913.2 439.3,917.3" fill="#f48383" stroke="#9c6262" stroke-opacity="0.85" stroke-width="0.8"/>
<polygon points="419.6,409.3 418.5,413.5 419.8,415.5 421.9,417.1 421.6,421.7 425.4,422.8 427.4,422.2 429.1,423.1 434.0,425.5 435.7,423.7 438.3,419.6 441.6,416.2 441.1,412.7 440.8,412.5 440.3,408.1 439.7,403.0 436.5,401.1 436.3,401.1 433.8,401.9 430.8,402.3 427.9,404.1 426.8,405.2 424.6,405.5 421.5,407.2" fill="#f48383" stroke="#9c6262" stroke-opacity="0.85" stroke-width="0.8"/>
<polygon points="420.8,360.7 421.1,360.9 425.2,360.6 427.9,361.4 431.6,360.6 435.1,359.3 437.4,359.4 441.1,359.1 444.9,357.9 446.9,357.7 448.1,357.4 447.2,355.9 444.2,353.2 441.6,348.4 440.4,345.0 439.0,343.0 435.2,339.7 433.6,341.4 430.3,343.2 428.1,343.5 425.3,344.6 421.0,347.3 418.6,349.1 419.1,352.8 422.6,357.1 422.2,358.7" fill="#f6a9a9" stroke="#9c6262" stroke-opacity="0.85" stroke-width="0.8"/>
<polygon points="436.4,657.4 436.0,661.2 435.2,663.5 432.5,665.1 430.3,667.8 430.5,671.5 430.9,674.7 431.1,675.9 433.8,678.1 437.1,683.6 436.0,686.3 437.3,685.9 440.7,685.4 445.1,685.6 447.8,684.2 451.0,682.6 454.8,682.0 454.1,675.8 453.3,673.2 455.0,671.5 456.2,666.4 455.7,661.8 455.7,660.8 455.2,660.7 452.6,656.6 451.0,653.8 450.5,652.1 447.5,651.5 443.8,654.0 441.1,656.3" fill="#f14f4f" stroke="#9c6262" stroke-opacity="0.85" stroke-width="0.8"/>
<polygon points="418.9,573.2 419.7,574.0 425.1,576.7 428.8,579.1 431.1,578.4 434.8,579.4 436.2,582.7 440.5,581.0 442.6,577.7 441.1,573.4 440.5,570.5 443.2,568.3 444.4,563.9 443.7,558.4 442.6,557.6 440.4,555.7 436.6,557.3 433.9,557.7 430.2,559.2 426.1,561.5 424.3,562.4 422.4,563.5 419.3,565.9" fill="#f6a9a9" stroke="#9c6262" stroke-opacity="0.85" stroke-width="0.8"/>
<polygon points="427.9,465.0 429.9,465.2 433.2,465.1 436.7,465.6 439.4,466.2 440.7,463.2 443.8,460.8 445.2,457.6 445.2,453.9 447.0,451.3 449.3,449.4 449.5,446.0 446.3,443.7 443.9,442.9 440.3,441.6 436.2,439.8 435.1,440.0 432.1,440.7 428.7,443.2 428.5,448.8 429.0,452.7 427.4,454.3 425.5,457.0 426.5,460.4" fill="#f6a9a9" stroke="#9c6262" stroke-opacity="0.85" stroke-width="0.8"/>
<polygon points="429.0,601.8 432.4,602.7 435.4,604.6 438.2,606.8 439.3,608.4 442.4,607.4 447.7,606.2 449.1,605.0 450.3,603.9 453.1,601.3 455.1,598.7 455.0,594.5 452.5,591.7 450.8,589.6 450.5,587.3 449.2,583.6 446.7,580.6 444.0,579.8 440.5,581.0 436.2,582.7 434.7,585.5 433.3,588.1 432.0,590.4 431.4,593.2 430.8,597.5" fill="#f6a9a9" stroke="#9c6262" stroke-opacity="0.85" stroke-width="0.8"/>
<polygon points="422.0,538.9 425.9,543.5 429.0,545.7 429.9,547.6 434.4,550.5 436.4,550.4 438.3,548.3 441.0,547.7 444.0,546.4 445.0,542.8 444.4,538.6 445.7,535.6 449.2,533.3 447.8,532.4 445.0,532.3 440.2,529.3 438.8,526.5 436.9,525.9 432.7,528.8 430.0,530.1 427.5,532.3 426.7,534.6 423.8,535.8" fill="#f14f4f" stroke="#9c6262" stroke-opacity="0.85" stroke-width="0.8"/>
<polygon points="435.2,339.7 439.0,343.0 440.4,345.0 441.6,348.4 444.2,353.2 447.2,355.9 448.1,357.4 452.8,356.4 454.9,354.6 456.7,352.6 460.0,348.8 458.8,348.7 455.2,344.7 454.4,341.0 454.1,335.9 455.4,331.6 453.0,331.5 452.8,331.9 445.6,332.1 443.0,333.3 439.0,335.3 438.9,334.6" fill="#fad2d2" stroke="#9c6262" stroke-opacity="0.85" stroke-width="0.8"/>
<polygon points="442.7,738.9 444.8,736.2 448.0,733.5 450.1,730.1 451.2,726.8 452.4,724.5 453.2,722.3 453.7,719.5 456.0,716.8 459.5,714.9 455.3,712.7 451.0,711.1 449.1,711.4 447.0,710.3 445.1,707.4 442.7,706.0 439.8,704.0 437.3,708.0 434.6,711.5 432.7,712.7 432.3,713.9 430.2,717.6 426.0,721.7 424.3,724.1 428.2,726.2 431.5,726.9 434.1,730.5 436.5,732.4 439.1,733.0 442.2,736.1" fill="#f14f4f" stroke="#9c6262" stroke-opacity="0.85" stroke-width="0.8"/>
<polygon points="430.6,886.8 433.0,889.0 436.2,890.4 439.3,888.6 443.7,888.4 446.9,888.0 448.6,886.3 451.9,885.8 454.7,885.3 455.9,882.4 457.4,878.5 457.9,875.5 455.1,873.6 453.3,870.5 448.6,867.0 448.3,864.4 446.3,865.4 442.7,865.1 437.7,865.7 434.4,867.9 430.6,868.8 426.8,868.9 428.3,873.5 430.9,876.3 429.9,880.3 429.4,884.6" fill="#f6a9a9" stroke="#9c6262" stroke-opacity="0.85" stroke-width="0.8"/>
<polygon points="425.5,864.9 426.8,868.9 430.6,868.8 434.4,867.9 437.7,865.7 442.7,865.1 446.3,865.4 448.3,864.4 449.7,862.0 447.2,859.9 447.7,856.4 450.8,852.9 449.4,851.5 446.1,850.2 446.7,845.3 446.6,845.0 445.8,844.2 442.8,845.0 438.5,846.1 435.8,848.4 434.0,849.6 430.8,850.1 428.9,851.9 427.2,853.5 425.9,854.9 424.8,861.4 426.1,863.9" fill="#f6a9a9" stroke="#9c6262" stroke-opacity="0.85" stroke-width="0.8"/>
<polygon points="433.5,697.8 436.6,698.0 439.8,704.0 442.7,706.0 445.1,707.4 447.0,710.3 449.1,711.4 451.0,711.1 455.3,712.7 459.5,714.9 462.3,714.3 462.8,711.1 465.0,708.9 468.1,706.4 469.0,702.3 469.3,698.5 471.5,696.8 473.4,693.2 469.3,689.8 466.0,687.5 462.1,687.0 458.6,685.6 457.4,685.2 456.3,685.5 454.8,682.0 451.0,682.6 447.8,684.2 445.1,685.6 440.7,685.4 437.3,685.9 438.4,689.3 437.4,694.6" fill="#f6a9a9" stroke="#9c6262" stroke-opacity="0.85" stroke-width="0.8"/>
<polygon points="426.4,829.0 429.9,828.9 431.0,832.3 433.3,834.6 435.6,835.1 438.6,837.9 441.8,840.0 443.9,840.5 445.8,844.2 446.6,845.0 448.2,839.4 447.8,836.9 447.9,836.1 449.9,833.4 450.8,829.1 450.0,826.0 450.2,824.5 451.7,822.0 451.9,817.8 448.8,814.5 445.2,814.5 441.7,814.8 440.3,812.1 438.3,813.7 434.8,816.0 432.1,819.6 430.5,822.2 427.2,824.3 424.5,827.2" fill="#f6a9a9" stroke="#9c6262" stroke-opacity="0.85" stroke-width="0.8"/>
<polygon points="431.0,507.8 433.0,510.2 437.2,514.5 441.2,512.8 443.2,510.8 445.6,510.5 448.6,510.6 450.5,509.7 451.8,506.2 450.9,503.9 448.8,498.9 449.0,495.6 444.3,495.9 441.4,496.6 438.7,496.3 434.7,495.4 431.9,494.7 431.0,498.0 431.4,500.9 431.5,505.1" fill="#f48383" stroke="#9c6262" stroke-opacity="0.85" stroke-width="0.8"/>
<polygon points="425.4,382.5 428.3,384.0 430.5,382.4 433.7,380.8 435.4,380.3 438.1,378.7 442.0,375.9 444.4,374.2 447.1,372.8 446.6,369.7 447.9,366.0 447.3,360.9 446.9,357.7 444.9,357.9 441.1,359.1 437.4,359.4 435.1,359.3 431.6,360.6 427.9,361.4 425.2,360.6 421.1,360.9 422.4,366.2 421.8,369.6 421.7,371.0 423.4,375.2 424.1,380.0" fill="#f6a9a9" stroke="#9c6262" stroke-opacity="0.85" stroke-width="0.8"/>
<polygon points="426.5,630.5 428.6,633.3 429.3,636.3 431.1,638.5 435.3,640.4 435.7,641.8 437.6,644.4 440.4,646.4 442.1,647.8 447.5,651.5 450.5,652.1 449.3,649.1 448.2,644.6 451.4,640.3 454.2,638.4 453.9,637.0 450.2,633.8 450.9,631.1 449.3,629.8 444.1,627.5 441.3,625.3 437.4,622.3 435.7,619.7 433.3,622.4 430.5,624.4 428.3,627.1 428.1,629.6" fill="#f48383" stroke="#9c6262" stroke-opacity="0.85" stroke-width="0.8"/>
<polygon points="436.3,401.1 436.5,401.1 441.2,398.7 445.5,397.3 448.5,396.3 452.5,393.8 455.2,392.1 456.5,391.8 457.3,388.5 458.9,385.9 457.5,383.4 456.1,380.4 451.0,380.3 450.4,376.6 447.1,372.8 444.4,374.2 442.0,375.9 438.1,378.7 435.4,380.3 433.7,380.8 430.5,382.4 428.3,384.0 430.0,386.4 430.4,389.4 430.8,392.3 434.9,393.8 436.1,397.4" fill="#f6a9a9" stroke="#9c6262" stroke-opacity="0.85" stroke-width="0.8"/>
<polygon points="449.1,935.1 451.8,933.8 456.0,934.0 460.6,935.5 462.8,935.9 465.4,935.2 470.7,935.7 474.4,937.1 475.4,937.6 475.5,937.5 476.4,933.3 473.9,931.7 474.4,930.8 477.6,926.5 475.8,921.5 473.2,920.0 474.6,918.2 474.0,912.3 471.2,907.7 471.8,907.4 473.7,905.3 470.3,902.7 467.7,902.1 464.9,902.6 462.8,904.4 459.1,906.2 456.4,908.6 453.2,909.6 450.1,910.0 449.2,912.4 447.5,915.3 443.8,916.9 441.2,918.9 441.5,919.6 443.1,921.8 446.2,925.5 448.2,928.2 447.6,932.3" fill="#f6a9a9" stroke="#9c6262" stroke-opacity="0.85" stroke-width="0.8"/>
<polygon points="440.4,555.7 442.6,557.6 443.7,558.4 447.3,560.1 451.5,557.7 454.9,554.5 456.2,552.6 458.1,551.0 459.8,548.2 459.7,546.1 459.9,544.1 456.2,538.5 455.9,534.9 453.1,533.1 449.2,533.3 445.7,535.6 444.4,538.6 445.0,542.8 444.0,546.4 441.0,547.7 438.3,548.3 436.4,550.4" fill="#f14f4f" stroke="#9c6262" stroke-opacity="0.85" stroke-width="0.8"/>
<polygon points="446.9,357.7 447.3,360.9 447.9,366.0 446.6,369.7 447.1,372.8 450.4,376.6 451.0,380.3 456.1,380.4 457.5,383.4 458.9,385.9 461.9,384.6 465.9,383.6 469.7,381.2 471.4,379.6 474.2,379.2 474.0,377.8 474.5,374.2 475.4,368.6 472.5,367.4 467.7,368.2 466.2,365.5 462.7,362.1 458.6,360.6 458.0,358.0 455.7,355.9 452.8,356.4 448.1,357.4" fill="#f48383" stroke="#9c6262" stroke-opacity="0.85" stroke-width="0.8"/>
<polygon points="435.1,440.0 436.2,439.8 440.3,441.6 443.9,442.9 446.3,443.7 449.5,446.0 450.6,445.8 452.4,441.3 455.1,439.0 456.6,438.4 457.0,436.6 458.4,431.4 458.8,425.6 458.4,424.0 456.5,421.7 451.7,418.9 449.1,418.2 446.5,418.6 441.6,416.2 438.3,419.6 435.7,423.7 434.0,425.5 436.3,426.3 435.0,428.2 434.0,434.8 435.6,439.7" fill="#fad2d2" stroke="#9c6262" stroke-opacity="0.85" stroke-width="0.8"/>
<polygon points="436.9,525.9 438.8,526.5 440.2,529.3 445.0,532.3 447.8,532.4 449.2,533.3 453.1,533.1 452.6,529.4 453.5,526.6 455.2,524.7 455.1,522.7 454.1,519.6 454.8,515.5 455.7,512.0 450.5,509.7 448.6,510.6 445.6,510.5 443.2,510.8 441.2,512.8 437.2,514.5 436.2,518.3 434.9,520.9 435.6,523.0" fill="#f6a9a9" stroke="#9c6262" stroke-opacity="0.85" stroke-width="0.8"/>
<polygon points="431.9,494.7 434.7,495.4 438.7,496.3 441.4,496.6 444.3,495.9 449.0,495.6 452.3,495.3 453.7,493.3 454.3,490.2 451.3,486.5 452.4,482.8 451.1,480.2 449.2,476.5 446.7,473.4 445.2,473.1 443.5,476.3 442.8,479.0 440.3,480.7 437.7,483.5 434.1,486.2 430.2,487.8 429.3,490.6" fill="#f6a9a9" stroke="#9c6262" stroke-opacity="0.85" stroke-width="0.8"/>
<polygon points="445.1,743.0 446.6,744.5 448.4,746.9 452.1,750.7 453.1,753.2 457.1,756.0 461.1,756.9 463.1,755.8 464.4,754.4 468.0,754.8 469.5,753.7 470.3,751.2 471.1,746.6 471.2,742.7 471.1,740.9 472.2,739.7 473.8,737.1 473.6,733.2 473.1,729.3 475.1,726.2 474.7,724.4 470.4,721.7 467.3,719.0 466.8,717.6 463.6,716.0 462.3,714.3 459.5,714.9 456.0,716.8 453.7,719.5 453.2,722.3 452.4,724.5 451.2,726.8 450.1,730.1 448.0,733.5 444.8,736.2 442.7,738.9" fill="#f6a9a9" stroke="#9c6262" stroke-opacity="0.85" stroke-width="0.8"/>
<polygon points="446.6,845.0 446.7,845.3 449.7,844.3 453.4,843.9 456.8,843.8 461.5,842.9 465.6,842.4 467.1,843.0 469.9,842.4 475.0,841.5 474.6,837.7 474.1,836.4 473.6,832.6 474.8,827.6 476.7,824.8 476.3,822.2 475.1,818.5 474.1,816.1 470.2,813.5 466.2,812.5 462.8,814.1 461.0,814.6 457.9,816.2 454.1,817.8 451.9,817.8 451.7,822.0 450.2,824.5 450.0,826.0 450.8,829.1 449.9,833.4 447.9,836.1 447.8,836.9 448.2,839.4" fill="#f48383" stroke="#9c6262" stroke-opacity="0.85" stroke-width="0.8"/>
<polygon points="440.3,812.1 441.7,814.8 445.2,814.5 448.8,814.5 451.9,817.8 454.1,817.8 457.9,816.2 461.0,814.6 462.8,814.1 466.2,812.5 467.6,809.1 466.6,803.5 466.7,800.5 466.6,799.0 464.6,794.9 461.9,792.8 459.7,793.3 457.5,792.6 454.7,790.2 450.4,789.0 448.8,790.8 445.8,793.0 442.9,795.7 442.7,797.4 441.3,800.1 438.0,803.8 436.9,807.5 439.0,808.7" fill="#f48383" stroke="#9c6262" stroke-opacity="0.85" stroke-width="0.8"/>
<polygon points="450.4,789.0 454.7,790.2 457.5,792.6 459.7,793.3 461.9,792.8 464.6,794.9 468.1,792.8 470.8,789.7 472.7,787.7 475.3,785.0 476.5,781.4 479.2,779.8 481.6,779.0 480.6,774.9 479.2,769.5 479.8,768.5 479.5,767.3 476.8,761.5 473.2,760.0 471.5,758.6 468.0,754.8 464.4,754.4 463.1,755.8 461.1,756.9 457.1,756.0 454.6,757.9 452.0,762.4 449.3,766.6 447.5,767.9 445.0,769.2 442.4,772.4 447.0,777.6 446.9,780.0 447.8,781.4 448.5,785.9" fill="#f48383" stroke="#9c6262" stroke-opacity="0.85" stroke-width="0.8"/>
<polygon points="453.9,637.0 456.3,634.9 460.5,632.6 463.4,631.7 466.0,630.6 464.3,622.7 463.8,620.7 461.3,619.5 457.4,616.9 455.8,615.4 452.0,614.5 449.1,611.9 449.6,608.9 447.7,606.2 442.4,607.4 439.3,608.4 437.4,612.8 437.5,616.1 435.7,619.7 437.4,622.3 441.3,625.3 444.1,627.5 449.3,629.8 450.9,631.1 450.2,633.8" fill="#f6a9a9" stroke="#9c6262" stroke-opacity="0.85" stroke-width="0.8"/>
<polygon points="436.5,401.1 439.7,403.0 440.3,408.1 440.8,412.5 441.1,412.7 441.6,416.2 446.5,418.6 449.1,418.2 451.7,418.9 456.5,421.7 456.7,417.3 456.7,413.5 458.2,411.5 461.2,410.1 462.8,407.9 462.2,404.7 460.1,400.7 459.9,399.5 457.5,396.9 456.5,391.8 455.2,392.1 452.5,393.8 448.5,396.3 445.5,397.3 441.2,398.7" fill="#f6a9a9" stroke="#9c6262" stroke-opacity="0.85" stroke-width="0.8"/>
<polygon points="445.2,473.1 446.7,473.4 451.0,473.0 453.9,471.7 457.4,469.7 461.4,469.0 463.3,468.5 465.1,466.7 464.7,462.5 461.9,461.0 462.0,458.5 459.3,455.3 456.2,452.4 454.5,450.3 452.9,449.3 450.6,445.8 449.5,446.0 449.3,449.4 447.0,451.3 445.2,453.9 445.2,457.6 443.8,460.8 440.7,463.2 439.4,466.2 442.3,468.4 444.3,470.4" fill="#f6a9a9" stroke="#9c6262" stroke-opacity="0.85" stroke-width="0.8"/>
<polygon points="450.5,509.7 455.7,512.0 459.6,511.3 461.9,510.3 463.4,509.1 467.1,509.5 468.4,506.7 469.3,505.8 467.2,500.9 466.9,495.3 467.3,494.2 465.3,492.3 462.6,491.7 460.4,490.4 454.3,490.2 453.7,493.3 452.3,495.3 449.0,495.6 448.8,498.9 450.9,503.9 451.8,506.2" fill="#f6a9a9" stroke="#9c6262" stroke-opacity="0.85" stroke-width="0.8"/>
<polygon points="457.9,875.5 461.9,875.2 464.2,873.9 467.8,871.9 470.5,871.3 472.3,870.0 475.9,867.6 476.7,863.0 475.2,860.7 473.9,859.2 474.8,855.3 475.4,851.3 475.3,849.8 475.8,847.6 476.0,842.7 475.0,841.5 469.9,842.4 467.1,843.0 465.6,842.4 461.5,842.9 456.8,843.8 453.4,843.9 449.7,844.3 446.7,845.3 446.1,850.2 449.4,851.5 450.8,852.9 447.7,856.4 447.2,859.9 449.7,862.0 448.3,864.4 448.6,867.0 453.3,870.5 455.1,873.6" fill="#f48383" stroke="#9c6262" stroke-opacity="0.85" stroke-width="0.8"/>
<polygon points="449.1,935.1 449.0,937.0 446.3,939.1 443.5,941.6 442.9,944.6 442.2,947.8 443.7,951.2 444.2,953.7 445.6,958.3 445.9,961.7 450.1,959.9 453.1,958.1 457.1,958.1 460.7,956.4 462.7,953.7 466.1,952.0 469.8,948.5 471.0,945.1 471.7,944.3 473.1,942.4 475.1,938.0 475.4,937.6 474.4,937.1 470.7,935.7 465.4,935.2 462.8,935.9 460.6,935.5 456.0,934.0 451.8,933.8" fill="#f48383" stroke="#9c6262" stroke-opacity="0.85" stroke-width="0.8"/>
<polygon points="450.5,652.1 451.0,653.8 452.6,656.6 455.2,660.7 455.7,660.8 459.4,658.8 464.2,659.4 466.8,661.3 470.2,660.5 474.8,658.9 476.1,658.8 477.6,657.2 480.6,653.5 482.6,650.5 483.5,648.9 485.7,646.6 483.4,644.3 481.0,643.2 479.1,640.2 476.2,636.2 473.4,635.3 471.1,634.5 467.8,631.3 466.9,630.2 466.0,630.6 463.4,631.7 460.5,632.6 456.3,634.9 453.9,637.0 454.2,638.4 451.4,640.3 448.2,644.6 449.3,649.1" fill="#f14f4f" stroke="#9c6262" stroke-opacity="0.85" stroke-width="0.8"/>
<polygon points="440.5,581.0 444.0,579.8 446.7,580.6 449.2,583.6 453.1,581.2 456.3,579.0 458.9,578.8 462.9,577.7 465.3,575.6 463.4,572.5 461.6,569.4 459.9,568.2 457.4,566.3 453.6,563.9 449.6,563.2 447.3,560.1 443.7,558.4 444.4,563.9 443.2,568.3 440.5,570.5 441.1,573.4 442.6,577.7" fill="#f6a9a9" stroke="#9c6262" stroke-opacity="0.85" stroke-width="0.8"/>
<polygon points="447.7,606.2 449.6,608.9 449.1,611.9 452.0,614.5 455.8,615.4 457.4,616.9 461.3,619.5 463.8,620.7 464.3,622.7 466.8,619.7 470.3,617.4 473.6,614.6 474.2,612.9 475.6,611.7 476.2,610.8 473.8,607.4 473.2,603.4 471.8,603.1 467.7,602.3 467.6,598.5 465.5,598.2 459.5,599.4 455.1,598.7 453.1,601.3 450.3,603.9 449.1,605.0" fill="#f48383" stroke="#9c6262" stroke-opacity="0.85" stroke-width="0.8"/>
<polygon points="463.4,572.5 466.0,570.3 469.4,567.3 470.9,564.7 472.9,563.4 473.1,559.6 473.8,555.5 471.2,553.4 467.1,551.9 463.2,550.6 459.8,548.2 458.1,551.0 456.2,552.6 454.9,554.5 451.5,557.7 447.3,560.1 449.6,563.2 453.6,563.9 457.4,566.3 459.9,568.2 461.6,569.4" fill="#f14f4f" stroke="#9c6262" stroke-opacity="0.85" stroke-width="0.8"/>
<polygon points="464.7,462.5 467.2,461.5 469.3,459.8 472.2,456.7 474.2,454.1 474.6,452.8 476.7,451.0 480.0,447.3 478.7,440.5 473.6,440.5 470.4,440.4 467.7,439.1 464.1,438.4 460.1,438.5 456.6,438.4 455.1,439.0 452.4,441.3 450.6,445.8 452.9,449.3 454.5,450.3 456.2,452.4 459.3,455.3 462.0,458.5 461.9,461.0" fill="#f48383" stroke="#9c6262" stroke-opacity="0.85" stroke-width="0.8"/>
<polygon points="454.3,490.2 460.4,490.4 462.6,491.7 465.3,492.3 468.5,488.8 469.7,483.9 471.7,480.9 469.8,477.6 471.1,472.5 468.9,468.9 465.1,466.7 463.3,468.5 461.4,469.0 457.4,469.7 453.9,471.7 451.0,473.0 446.7,473.4 449.2,476.5 451.1,480.2 452.4,482.8 451.3,486.5" fill="#f6a9a9" stroke="#9c6262" stroke-opacity="0.85" stroke-width="0.8"/>
<polygon points="455.9,534.9 459.8,534.4 463.0,533.0 465.8,531.9 470.1,532.3 473.5,532.4 473.2,528.1 474.0,523.7 477.0,521.6 478.8,521.1 478.4,519.1 476.0,515.8 473.9,513.9 471.7,513.0 467.1,509.5 463.4,509.1 461.9,510.3 459.6,511.3 455.7,512.0 454.8,515.5 454.1,519.6 455.1,522.7 455.2,524.7 453.5,526.6 452.6,529.4 453.1,533.1" fill="#fad2d2" stroke="#9c6262" stroke-opacity="0.85" stroke-width="0.8"/>
<polygon points="455.1,598.7 459.5,599.4 465.5,598.2 467.6,598.5 470.1,594.4 470.0,591.4 469.2,589.0 470.5,585.0 469.9,580.7 466.9,578.3 466.9,576.8 465.3,575.6 462.9,577.7 458.9,578.8 456.3,579.0 453.1,581.2 449.2,583.6 450.5,587.3 450.8,589.6 452.5,591.7 455.0,594.5" fill="#fad2d2" stroke="#9c6262" stroke-opacity="0.85" stroke-width="0.8"/>
<polygon points="480.2,363.0 482.6,361.8 485.3,362.6 488.6,364.0 491.3,363.3 490.7,355.4 489.0,353.4 487.0,353.4 486.4,351.6 483.9,349.5 479.8,348.4 479.0,344.7 476.4,342.4 476.3,347.0 475.4,351.3 477.8,352.4 478.0,355.5 477.6,359.9" fill="#f48383" stroke="#9c6262" stroke-opacity="0.85" stroke-width="0.8"/>
<polygon points="494.4,894.9 492.3,895.1 489.1,896.5 486.4,898.8 485.1,900.1 482.5,901.3 479.3,903.8 477.2,905.2 473.7,905.3 471.8,907.4 471.2,907.7 474.0,912.3 474.6,918.2 473.2,920.0 475.8,921.5 477.6,926.5 474.4,930.8 473.9,931.7 476.4,933.3 475.5,937.5 479.1,934.6 481.1,933.6 483.2,931.1 488.7,928.5 491.6,925.0 492.5,920.8 493.6,919.1 495.2,917.9 498.2,913.7 499.7,908.0 499.6,905.7 499.8,903.7 501.8,898.0 498.8,896.8" fill="#f6a9a9" stroke="#9c6262" stroke-opacity="0.85" stroke-width="0.8"/>
<polygon points="456.5,391.8 457.5,396.9 459.9,399.5 460.1,400.7 462.2,404.7 467.7,405.1 471.0,404.0 472.9,405.3 476.3,407.7 479.9,408.1 483.1,404.1 486.4,402.2 485.7,400.0 486.7,396.4 485.8,392.6 482.3,388.5 481.7,384.2 480.4,383.9 476.7,382.1 474.2,379.2 471.4,379.6 469.7,381.2 465.9,383.6 461.9,384.6 458.9,385.9 457.3,388.5" fill="#f48383" stroke="#9c6262" stroke-opacity="0.85" stroke-width="0.8"/>
<polygon points="475.4,368.6 477.3,365.9 480.2,363.0 477.6,359.9 478.0,355.5 477.8,352.4 475.4,351.3 476.3,347.0 476.4,342.4 472.4,342.1 469.1,345.1 465.3,346.3 462.4,347.7 460.0,348.8 456.7,352.6 454.9,354.6 452.8,356.4 455.7,355.9 458.0,358.0 458.6,360.6 462.7,362.1 466.2,365.5 467.7,368.2 472.5,367.4" fill="#f48383" stroke="#9c6262" stroke-opacity="0.85" stroke-width="0.8"/>
<polygon points="467.1,509.5 471.7,513.0 473.9,513.9 476.0,515.8 477.3,510.8 479.9,508.3 481.3,508.2 482.0,506.5 483.6,501.6 485.5,496.5 486.6,493.9 486.4,493.5 482.9,492.5 479.4,489.8 476.7,488.9 472.6,489.9 468.5,488.8 465.3,492.3 467.3,494.2 466.9,495.3 467.2,500.9 469.3,505.8 468.4,506.7" fill="#f14f4f" stroke="#9c6262" stroke-opacity="0.85" stroke-width="0.8"/>
<polygon points="458.4,424.0 460.2,424.0 463.6,423.6 467.6,423.2 470.0,423.7 472.7,424.0 476.8,422.9 477.7,418.4 478.0,414.1 477.0,412.0 477.4,410.8 479.9,408.1 476.3,407.7 472.9,405.3 471.0,404.0 467.7,405.1 462.2,404.7 462.8,407.9 461.2,410.1 458.2,411.5 456.7,413.5 456.7,417.3 456.5,421.7" fill="#f6a9a9" stroke="#9c6262" stroke-opacity="0.85" stroke-width="0.8"/>
<polygon points="454.8,682.0 456.3,685.5 457.4,685.2 458.6,685.6 462.1,687.0 466.0,687.5 469.3,689.8 473.4,693.2 473.1,689.2 472.6,685.5 474.9,684.2 478.2,683.1 480.7,679.1 482.8,674.6 480.1,671.9 480.5,669.5 478.4,666.0 475.6,660.7 474.8,658.9 470.2,660.5 466.8,661.3 464.2,659.4 459.4,658.8 455.7,660.8 455.7,661.8 456.2,666.4 455.0,671.5 453.3,673.2 454.1,675.8" fill="#f48383" stroke="#9c6262" stroke-opacity="0.85" stroke-width="0.8"/>
<polygon points="463.4,572.5 465.3,575.6 466.9,576.8 466.9,578.3 469.9,580.7 470.5,585.0 473.9,585.7 478.2,584.5 482.2,582.9 487.0,582.5 485.6,579.0 485.8,576.2 486.5,571.6 484.4,567.9 482.7,566.8 481.6,565.7 476.8,565.1 472.9,563.4 470.9,564.7 469.4,567.3 466.0,570.3" fill="#f14f4f" stroke="#9c6262" stroke-opacity="0.85" stroke-width="0.8"/>
<polygon points="454.7,885.3 457.0,886.8 458.8,890.5 459.5,893.6 461.9,894.9 463.2,898.7 464.9,902.6 467.7,902.1 470.3,902.7 473.7,905.3 477.2,905.2 479.3,903.8 482.5,901.3 485.1,900.1 486.4,898.8 489.1,896.5 492.3,895.1 494.4,894.9 496.0,893.4 494.5,889.1 491.8,883.8 492.6,881.9 491.6,878.5 491.2,873.9 488.4,874.9 485.0,874.4 482.2,870.7 478.7,869.1 475.9,867.6 472.3,870.0 470.5,871.3 467.8,871.9 464.2,873.9 461.9,875.2 457.9,875.5 457.4,878.5 455.9,882.4" fill="#f14f4f" stroke="#9c6262" stroke-opacity="0.85" stroke-width="0.8"/>
<polygon points="466.0,630.6 466.9,630.2 467.8,631.3 471.1,634.5 473.4,635.3 476.2,636.2 479.1,640.2 481.0,643.2 483.4,644.3 485.7,646.6 489.5,645.2 490.1,641.0 490.3,637.6 488.8,635.8 489.0,632.7 491.2,628.1 491.4,625.3 489.8,623.9 488.2,621.2 487.0,617.8 486.1,617.4 482.2,616.2 477.5,613.0 475.6,611.7 474.2,612.9 473.6,614.6 470.3,617.4 466.8,619.7 464.3,622.7" fill="#f6a9a9" stroke="#9c6262" stroke-opacity="0.85" stroke-width="0.8"/>
<polygon points="466.2,812.5 470.2,813.5 474.1,816.1 475.1,818.5 478.2,818.3 483.0,817.2 486.3,815.6 489.0,815.2 492.3,814.7 494.2,812.8 495.7,812.0 499.3,812.5 501.0,809.2 502.3,804.8 502.5,801.0 501.6,797.1 502.2,794.5 499.1,792.0 497.1,790.1 495.4,788.8 491.2,787.2 488.9,786.1 486.5,785.0 481.8,782.2 479.2,779.8 476.5,781.4 475.3,785.0 472.7,787.7 470.8,789.7 468.1,792.8 464.6,794.9 466.6,799.0 466.7,800.5 466.6,803.5 467.6,809.1" fill="#ee2222" stroke="#9c6262" stroke-opacity="0.85" stroke-width="0.8"/>
<polygon points="467.6,598.5 467.7,602.3 471.8,603.1 473.2,603.4 473.8,607.4 476.2,610.8 480.7,607.3 483.2,604.6 486.3,603.9 488.7,602.2 490.1,600.7 489.5,597.5 490.5,592.1 490.1,590.8 487.5,590.1 487.8,585.0 487.0,582.5 482.2,582.9 478.2,584.5 473.9,585.7 470.5,585.0 469.2,589.0 470.0,591.4 470.1,594.4" fill="#f48383" stroke="#9c6262" stroke-opacity="0.85" stroke-width="0.8"/>
<polygon points="473.8,555.5 475.4,552.1 476.7,549.7 479.4,548.0 482.2,545.3 481.5,543.5 477.7,540.9 475.0,536.9 473.9,535.0 473.5,532.4 470.1,532.3 465.8,531.9 463.0,533.0 459.8,534.4 455.9,534.9 456.2,538.5 459.9,544.1 459.7,546.1 459.8,548.2 463.2,550.6 467.1,551.9 471.2,553.4" fill="#fad2d2" stroke="#9c6262" stroke-opacity="0.85" stroke-width="0.8"/>
<polygon points="462.3,714.3 463.6,716.0 466.8,717.6 467.3,719.0 470.4,721.7 474.7,724.4 475.1,726.2 478.9,727.2 482.4,727.3 487.2,727.0 490.3,726.8 491.4,723.9 492.3,719.6 493.9,715.8 495.2,713.0 495.7,710.7 496.6,708.5 498.5,706.6 498.1,705.1 494.5,703.1 492.6,702.5 490.8,702.7 487.1,701.4 483.6,699.2 481.2,698.3 477.8,698.6 473.8,698.1 471.5,696.8 469.3,698.5 469.0,702.3 468.1,706.4 465.0,708.9 462.8,711.1" fill="#f6a9a9" stroke="#9c6262" stroke-opacity="0.85" stroke-width="0.8"/>
<polygon points="468.0,754.8 471.5,758.6 473.2,760.0 476.8,761.5 478.6,759.7 482.1,759.3 484.6,758.1 487.2,756.5 491.5,756.3 493.4,754.0 493.3,749.3 495.4,744.2 498.5,742.4 498.7,741.7 498.3,737.6 496.6,733.9 494.8,733.1 493.1,731.3 490.9,728.0 490.3,726.8 487.2,727.0 482.4,727.3 478.9,727.2 475.1,726.2 473.1,729.3 473.6,733.2 473.8,737.1 472.2,739.7 471.1,740.9 471.2,742.7 471.1,746.6 470.3,751.2 469.5,753.7" fill="#f14f4f" stroke="#9c6262" stroke-opacity="0.85" stroke-width="0.8"/>
<polygon points="476.0,842.7 479.0,844.0 480.9,844.4 484.1,843.4 487.7,843.5 490.7,845.6 494.0,846.6 497.4,845.1 500.0,844.0 502.8,845.5 506.6,847.2 508.6,841.5 510.8,836.8 511.2,836.2 511.2,835.7 510.0,830.7 509.2,825.1 506.9,824.7 504.5,822.0 504.3,818.2 503.6,816.1 499.3,812.5 495.7,812.0 494.2,812.8 492.3,814.7 489.0,815.2 486.3,815.6 483.0,817.2 478.2,818.3 475.1,818.5 476.3,822.2 476.7,824.8 474.8,827.6 473.6,832.6 474.1,836.4 474.6,837.7 475.0,841.5" fill="#f6a9a9" stroke="#9c6262" stroke-opacity="0.85" stroke-width="0.8"/>
<polygon points="465.1,466.7 468.9,468.9 471.1,472.5 473.3,473.6 476.3,473.1 482.0,470.9 485.9,470.2 488.4,470.4 492.7,466.6 492.6,464.3 490.7,463.2 489.3,460.7 489.3,457.4 485.7,456.8 483.9,454.9 481.2,451.7 476.7,451.0 474.6,452.8 474.2,454.1 472.2,456.7 469.3,459.8 467.2,461.5 464.7,462.5" fill="#fad2d2" stroke="#9c6262" stroke-opacity="0.85" stroke-width="0.8"/>
<polygon points="458.4,424.0 458.8,425.6 458.4,431.4 457.0,436.6 456.6,438.4 460.1,438.5 464.1,438.4 467.7,439.1 470.4,440.4 473.6,440.5 478.7,440.5 478.8,438.0 481.4,436.7 484.3,434.1 483.8,430.5 480.7,426.5 479.7,425.0 476.8,422.9 472.7,424.0 470.0,423.7 467.6,423.2 463.6,423.6 460.2,424.0" fill="#f48383" stroke="#9c6262" stroke-opacity="0.85" stroke-width="0.8"/>
<polygon points="473.5,532.4 473.9,535.0 475.0,536.9 477.7,540.9 481.5,543.5 482.2,545.3 484.4,544.7 488.5,545.1 492.4,545.1 495.6,544.5 495.7,544.4 496.0,541.2 494.0,539.0 494.3,536.1 494.9,533.3 493.7,530.9 492.9,527.2 493.3,522.4 493.7,519.4 491.0,519.8 489.2,519.0 485.9,518.1 481.8,518.6 478.4,519.1 478.8,521.1 477.0,521.6 474.0,523.7 473.2,528.1" fill="#f6a9a9" stroke="#9c6262" stroke-opacity="0.85" stroke-width="0.8"/>
<polygon points="472.9,563.4 476.8,565.1 481.6,565.7 482.7,566.8 484.4,567.9 490.1,566.8 493.3,564.2 491.5,562.3 493.4,557.9 495.5,553.8 493.9,551.5 493.0,548.7 495.6,544.5 492.4,545.1 488.5,545.1 484.4,544.7 482.2,545.3 479.4,548.0 476.7,549.7 475.4,552.1 473.8,555.5 473.1,559.6" fill="#f48383" stroke="#9c6262" stroke-opacity="0.85" stroke-width="0.8"/>
<polygon points="479.9,408.1 477.4,410.8 477.0,412.0 478.0,414.1 477.7,418.4 476.8,422.9 479.7,425.0 480.7,426.5 483.8,430.5 484.3,434.1 486.9,433.7 492.5,433.1 492.6,428.4 493.7,425.9 496.9,425.5 499.7,422.3 500.3,415.9 499.8,411.6 497.1,410.6 495.4,404.5 493.7,403.3 490.8,402.6 486.4,402.2 483.1,404.1" fill="#fad2d2" stroke="#9c6262" stroke-opacity="0.85" stroke-width="0.8"/>
<polygon points="475.4,368.6 474.5,374.2 474.0,377.8 474.2,379.2 476.7,382.1 480.4,383.9 481.7,384.2 484.8,383.2 489.3,382.7 491.8,380.6 494.2,379.2 497.6,378.8 497.3,378.5 494.0,376.3 491.8,375.0 489.6,372.5 492.5,370.0 492.7,365.5 491.3,363.3 488.6,364.0 485.3,362.6 482.6,361.8 480.2,363.0 477.3,365.9" fill="#f6a9a9" stroke="#9c6262" stroke-opacity="0.85" stroke-width="0.8"/>
<polygon points="491.2,873.9 493.5,872.2 495.2,871.2 498.0,868.7 500.4,865.7 502.0,864.2 504.3,862.9 505.7,859.8 505.6,856.2 507.6,853.2 509.1,849.1 508.9,849.0 506.6,847.2 502.8,845.5 500.0,844.0 497.4,845.1 494.0,846.6 490.7,845.6 487.7,843.5 484.1,843.4 480.9,844.4 479.0,844.0 476.0,842.7 475.8,847.6 475.3,849.8 475.4,851.3 474.8,855.3 473.9,859.2 475.2,860.7 476.7,863.0 475.9,867.6 478.7,869.1 482.2,870.7 485.0,874.4 488.4,874.9" fill="#f48383" stroke="#9c6262" stroke-opacity="0.85" stroke-width="0.8"/>
<polygon points="478.4,519.1 481.8,518.6 485.9,518.1 489.2,519.0 491.0,519.8 493.7,519.4 499.7,518.4 497.8,515.7 499.0,510.4 499.4,506.9 499.1,505.1 500.1,500.3 497.1,497.3 493.1,496.9 489.3,496.3 486.6,493.9 485.5,496.5 483.6,501.6 482.0,506.5 481.3,508.2 479.9,508.3 477.3,510.8 476.0,515.8" fill="#fad2d2" stroke="#9c6262" stroke-opacity="0.85" stroke-width="0.8"/>
<polygon points="476.7,451.0 481.2,451.7 483.9,454.9 485.7,456.8 489.3,457.4 489.3,460.7 490.7,463.2 490.7,463.2 493.2,461.2 497.0,457.9 498.4,454.8 499.5,452.2 502.3,449.2 504.8,446.3 506.2,444.4 504.7,443.0 502.7,439.6 500.3,435.8 496.7,436.1 496.1,435.8 492.5,433.1 486.9,433.7 484.3,434.1 481.4,436.7 478.8,438.0 478.7,440.5 480.0,447.3" fill="#f6a9a9" stroke="#9c6262" stroke-opacity="0.85" stroke-width="0.8"/>
<polygon points="486.4,493.5 486.6,491.0 487.3,486.3 488.9,483.0 491.3,481.1 490.9,479.0 487.4,475.9 488.4,470.4 485.9,470.2 482.0,470.9 476.3,473.1 473.3,473.6 471.1,472.5 469.8,477.6 471.7,480.9 469.7,483.9 468.5,488.8 472.6,489.9 476.7,488.9 479.4,489.8 482.9,492.5" fill="#f48383" stroke="#9c6262" stroke-opacity="0.85" stroke-width="0.8"/>
<polygon points="482.8,674.6 485.2,675.2 486.2,676.3 489.9,676.5 495.1,675.8 498.0,676.1 499.2,677.7 502.5,678.8 507.2,678.2 510.3,677.5 507.1,675.1 506.8,672.3 509.8,669.6 508.2,666.1 507.1,661.0 508.4,657.3 506.0,655.2 504.9,651.5 506.2,647.7 502.6,647.1 499.1,647.4 496.5,647.1 492.8,646.4 489.5,645.2 485.7,646.6 483.5,648.9 482.6,650.5 480.6,653.5 477.6,657.2 476.1,658.8 474.8,658.9 475.6,660.7 478.4,666.0 480.5,669.5 480.1,671.9" fill="#f48383" stroke="#9c6262" stroke-opacity="0.85" stroke-width="0.8"/>
<polygon points="473.4,693.2 471.5,696.8 473.8,698.1 477.8,698.6 481.2,698.3 483.6,699.2 487.1,701.4 490.8,702.7 492.6,702.5 494.5,703.1 498.1,705.1 499.2,701.6 499.3,698.3 501.5,695.4 505.0,692.9 506.1,690.2 504.7,687.0 505.3,683.7 508.5,680.5 510.5,677.7 510.3,677.5 507.2,678.2 502.5,678.8 499.2,677.7 498.0,676.1 495.1,675.8 489.9,676.5 486.2,676.3 485.2,675.2 482.8,674.6 480.7,679.1 478.2,683.1 474.9,684.2 472.6,685.5 473.1,689.2" fill="#ee2222" stroke="#9c6262" stroke-opacity="0.85" stroke-width="0.8"/>
<polygon points="475.6,611.7 477.5,613.0 482.2,616.2 486.1,617.4 487.0,617.8 488.2,621.2 489.8,623.9 493.0,622.9 497.6,620.7 500.8,618.1 505.7,617.3 504.5,615.8 502.5,612.7 502.1,607.5 502.3,604.0 500.9,602.0 497.5,601.0 493.7,600.2 490.1,600.7 488.7,602.2 486.3,603.9 483.2,604.6 480.7,607.3 476.2,610.8" fill="#f14f4f" stroke="#9c6262" stroke-opacity="0.85" stroke-width="0.8"/>
<polygon points="487.0,582.5 487.8,585.0 489.9,583.4 492.9,582.5 497.4,582.2 500.3,580.1 504.1,578.0 507.9,577.2 505.8,575.9 505.8,569.4 502.7,569.1 499.4,567.1 497.7,564.0 493.3,564.2 490.1,566.8 484.4,567.9 486.5,571.6 485.8,576.2 485.6,579.0" fill="#f14f4f" stroke="#9c6262" stroke-opacity="0.85" stroke-width="0.8"/>
<polygon points="490.3,726.8 490.9,728.0 493.1,731.3 494.8,733.1 496.6,733.9 498.3,737.6 502.6,737.1 506.5,737.2 510.1,735.7 514.5,733.8 516.4,731.2 516.7,730.0 517.5,728.1 519.0,724.9 520.5,721.4 522.9,718.1 520.5,716.7 517.6,715.8 516.2,713.3 513.8,711.1 509.9,711.6 506.3,711.0 502.7,707.9 500.5,706.5 498.5,706.6 496.6,708.5 495.7,710.7 495.2,713.0 493.9,715.8 492.3,719.6 491.4,723.9" fill="#f6a9a9" stroke="#9c6262" stroke-opacity="0.85" stroke-width="0.8"/>
<polygon points="479.2,779.8 481.8,782.2 486.5,785.0 488.9,786.1 491.2,787.2 495.4,788.8 497.1,790.1 499.1,792.0 501.5,790.2 503.0,787.1 504.7,783.9 506.9,781.9 508.5,780.1 510.1,777.4 512.0,774.6 512.5,772.1 512.8,769.2 516.2,765.1 513.0,765.1 509.4,763.8 507.2,762.1 502.7,760.7 497.6,759.0 495.9,757.5 494.6,757.3 491.5,756.3 487.2,756.5 484.6,758.1 482.1,759.3 478.6,759.7 476.8,761.5 479.5,767.3 479.8,768.5 479.2,769.5 480.6,774.9 481.6,779.0" fill="#f48383" stroke="#9c6262" stroke-opacity="0.85" stroke-width="0.8"/>
<polygon points="491.3,481.1 494.0,482.8 498.1,482.5 500.8,481.9 503.7,483.6 506.8,481.9 510.1,479.8 511.7,478.8 513.6,477.3 515.7,474.0 514.7,472.1 512.6,471.8 510.1,470.1 508.0,467.6 506.2,466.9 503.0,466.2 499.7,463.9 495.8,462.8 490.7,463.2 490.7,463.2 492.6,464.3 492.7,466.6 488.4,470.4 487.4,475.9 490.9,479.0" fill="#f48383" stroke="#9c6262" stroke-opacity="0.85" stroke-width="0.8"/>
<polygon points="569.1,477.0 569.1,481.7 569.7,487.2 573.4,487.5 576.9,486.8 578.8,485.4 582.0,482.8 585.7,481.5 587.9,480.7 591.7,478.6 588.2,477.9 587.3,477.3 584.8,476.7 581.8,474.4 578.8,471.6 574.8,471.1 572.7,470.7 572.8,474.6 572.0,475.9" fill="#f48383" stroke="#9c6262" stroke-opacity="0.85" stroke-width="0.8"/>
<polygon points="486.6,493.9 489.3,496.3 493.1,496.9 497.1,497.3 500.1,500.3 502.4,497.7 506.3,494.4 506.3,491.6 505.5,488.7 503.7,483.6 500.8,481.9 498.1,482.5 494.0,482.8 491.3,481.1 488.9,483.0 487.3,486.3 486.6,491.0 486.4,493.5" fill="#fad2d2" stroke="#9c6262" stroke-opacity="0.85" stroke-width="0.8"/>
<polygon points="538.7,825.7 534.7,827.9 531.3,828.6 526.8,828.5 524.2,829.8 521.7,830.9 517.4,831.3 514.3,833.4 511.2,835.7 511.2,836.2 510.8,836.8 508.6,841.5 506.6,847.2 508.9,849.0 509.1,849.1 507.6,853.2 511.7,856.6 514.8,857.7 516.8,859.1 520.9,861.1 522.9,862.1 526.0,861.0 528.5,859.0 529.1,855.3 531.6,852.4 534.6,850.3 535.7,847.7 536.9,845.7 538.7,844.6 540.1,842.0 543.0,837.8 547.1,835.6 548.7,835.1 549.3,833.0 546.0,832.0 543.2,829.7 542.2,827.0" fill="#f48383" stroke="#9c6262" stroke-opacity="0.85" stroke-width="0.8"/>
<polygon points="499.3,812.5 503.6,816.1 504.3,818.2 504.5,822.0 506.9,824.7 509.2,825.1 510.0,830.7 511.2,835.7 514.3,833.4 517.4,831.3 521.7,830.9 524.2,829.8 526.8,828.5 531.3,828.6 534.7,827.9 538.7,825.7 535.4,822.4 535.3,819.6 535.9,817.1 535.3,813.2 535.0,809.7 533.4,809.3 532.4,806.9 531.5,801.1 529.5,798.3 527.2,799.2 523.9,799.2 520.3,799.4 517.8,799.4 514.9,798.5 511.5,798.5 509.5,800.1 507.0,801.4 502.5,801.0 502.3,804.8 501.0,809.2" fill="#f6a9a9" stroke="#9c6262" stroke-opacity="0.85" stroke-width="0.8"/>
<polygon points="494.4,894.9 498.8,896.8 501.8,898.0 504.1,894.6 504.5,892.0 503.6,888.3 505.8,884.2 507.3,879.8 507.3,877.0 508.5,874.7 511.3,871.7 513.6,868.9 517.3,867.3 521.3,863.9 522.9,862.1 520.9,861.1 516.8,859.1 514.8,857.7 511.7,856.6 507.6,853.2 505.6,856.2 505.7,859.8 504.3,862.9 502.0,864.2 500.4,865.7 498.0,868.7 495.2,871.2 493.5,872.2 491.2,873.9 491.6,878.5 492.6,881.9 491.8,883.8 494.5,889.1 496.0,893.4" fill="#f48383" stroke="#9c6262" stroke-opacity="0.85" stroke-width="0.8"/>
<polygon points="481.7,384.2 482.3,388.5 485.8,392.6 486.7,396.4 485.7,400.0 486.4,402.2 490.8,402.6 493.7,403.3 495.4,404.5 494.9,400.2 497.7,398.2 499.8,394.1 500.2,389.3 501.5,386.4 500.1,382.5 497.6,378.8 494.2,379.2 491.8,380.6 489.3,382.7 484.8,383.2" fill="#fad2d2" stroke="#9c6262" stroke-opacity="0.85" stroke-width="0.8"/>
<polygon points="492.5,433.1 496.1,435.8 496.7,436.1 500.3,435.8 502.7,439.6 504.7,443.0 507.8,440.3 509.9,437.0 513.5,436.0 513.4,431.8 510.7,427.2 512.0,425.2 506.5,421.0 505.7,417.1 499.8,411.6 500.3,415.9 499.7,422.3 496.9,425.5 493.7,425.9 492.6,428.4" fill="#f6a9a9" stroke="#9c6262" stroke-opacity="0.85" stroke-width="0.8"/>
<polygon points="493.3,564.2 497.7,564.0 499.4,567.1 502.7,569.1 505.8,569.4 507.1,565.9 509.2,564.5 510.2,564.3 509.9,562.1 511.5,557.2 510.4,553.8 507.1,553.5 505.4,551.7 503.6,548.2 499.1,546.7 498.3,544.9 495.7,544.4 495.6,544.5 493.0,548.7 493.9,551.5 495.5,553.8 493.4,557.9 491.5,562.3" fill="#f14f4f" stroke="#9c6262" stroke-opacity="0.85" stroke-width="0.8"/>
<polygon points="498.1,705.1 498.5,706.6 500.5,706.5 502.7,707.9 506.3,711.0 509.9,711.6 513.8,711.1 516.2,713.3 517.6,715.8 520.5,716.7 522.9,718.1 526.6,716.4 528.6,715.4 531.5,715.4 535.8,713.8 536.8,709.4 535.9,705.3 533.7,702.9 535.1,699.7 534.2,696.7 533.5,694.7 533.9,691.7 531.8,687.6 527.8,686.0 525.0,683.4 523.1,680.3 520.8,680.7 517.2,681.6 512.8,679.6 510.5,677.7 508.5,680.5 505.3,683.7 504.7,687.0 506.1,690.2 505.0,692.9 501.5,695.4 499.3,698.3 499.2,701.6" fill="#f6a9a9" stroke="#9c6262" stroke-opacity="0.85" stroke-width="0.8"/>
<polygon points="489.8,623.9 491.4,625.3 491.2,628.1 489.0,632.7 488.8,635.8 490.3,637.6 490.1,641.0 489.5,645.2 492.8,646.4 496.5,647.1 499.1,647.4 502.6,647.1 506.2,647.7 509.8,647.1 512.8,645.1 511.2,641.8 511.1,638.0 512.2,634.7 511.2,631.9 511.2,628.7 512.6,625.1 511.3,621.9 508.0,621.2 507.4,619.4 505.7,617.3 500.8,618.1 497.6,620.7 493.0,622.9" fill="#fad2d2" stroke="#9c6262" stroke-opacity="0.85" stroke-width="0.8"/>
<polygon points="487.8,585.0 487.5,590.1 490.1,590.8 490.5,592.1 489.5,597.5 490.1,600.7 493.7,600.2 497.5,601.0 500.9,602.0 502.5,601.0 505.6,600.6 508.0,598.6 510.9,595.8 513.1,590.8 512.7,588.6 512.4,588.1 512.4,583.7 509.9,579.2 507.9,577.2 504.1,578.0 500.3,580.1 497.4,582.2 492.9,582.5 489.9,583.4" fill="#fad2d2" stroke="#9c6262" stroke-opacity="0.85" stroke-width="0.8"/>
<polygon points="495.7,544.4 498.3,544.9 502.1,544.3 504.3,542.5 507.3,540.2 509.1,539.3 510.0,537.9 513.2,535.2 516.6,533.9 517.1,533.4 516.6,529.6 511.9,527.5 510.8,524.8 509.5,520.2 507.7,518.1 504.4,518.9 499.7,518.4 493.7,519.4 493.3,522.4 492.9,527.2 493.7,530.9 494.9,533.3 494.3,536.1 494.0,539.0 496.0,541.2" fill="#fad2d2" stroke="#9c6262" stroke-opacity="0.85" stroke-width="0.8"/>
<polygon points="545.2,468.6 546.8,468.9 548.2,467.1 551.3,466.5 555.4,465.3 556.6,462.4 559.5,458.6 557.9,457.0 555.0,453.7 554.0,452.8 548.2,451.8 544.2,451.2 541.1,451.7 539.5,454.9 540.3,458.2 541.8,461.3 542.4,464.9" fill="#f6a9a9" stroke="#9c6262" stroke-opacity="0.85" stroke-width="0.8"/>
<polygon points="516.2,765.1 518.5,762.4 518.4,759.7 518.0,757.0 520.9,754.4 524.1,752.8 522.9,749.7 519.0,745.3 519.6,741.4 519.6,739.8 515.3,737.7 514.5,733.8 510.1,735.7 506.5,737.2 502.6,737.1 498.3,737.6 498.7,741.7 498.5,742.4 495.4,744.2 493.3,749.3 493.4,754.0 491.5,756.3 494.6,757.3 495.9,757.5 497.6,759.0 502.7,760.7 507.2,762.1 509.4,763.8 513.0,765.1" fill="#f48383" stroke="#9c6262" stroke-opacity="0.85" stroke-width="0.8"/>
<polygon points="502.5,801.0 507.0,801.4 509.5,800.1 511.5,798.5 514.9,798.5 517.8,799.4 520.3,799.4 523.9,799.2 527.2,799.2 529.5,798.3 531.8,795.5 535.0,793.1 536.7,790.6 540.2,786.5 540.9,784.1 537.1,782.4 533.6,783.1 530.5,781.0 528.8,778.0 527.0,777.5 523.1,775.6 520.6,772.2 516.9,770.7 512.8,769.2 512.5,772.1 512.0,774.6 510.1,777.4 508.5,780.1 506.9,781.9 504.7,783.9 503.0,787.1 501.5,790.2 499.1,792.0 502.2,794.5 501.6,797.1" fill="#f48383" stroke="#9c6262" stroke-opacity="0.85" stroke-width="0.8"/>
<polygon points="512.4,583.7 515.6,581.2 519.3,580.0 521.2,578.5 524.5,576.1 528.2,575.5 527.8,574.5 529.0,569.7 530.1,563.4 531.3,561.7 528.9,561.1 525.7,556.9 523.6,554.7 519.2,557.1 515.9,557.1 511.5,557.2 509.9,562.1 510.2,564.3 509.2,564.5 507.1,565.9 505.8,569.4 505.8,575.9 507.9,577.2 509.9,579.2" fill="#fad2d2" stroke="#9c6262" stroke-opacity="0.85" stroke-width="0.8"/>
<polygon points="505.7,617.3 507.4,619.4 508.0,621.2 511.3,621.9 514.0,620.4 518.3,619.8 521.3,618.0 521.6,614.1 520.6,611.5 523.1,608.1 525.2,603.5 520.2,601.8 517.2,599.7 513.3,597.4 510.9,595.8 508.0,598.6 505.6,600.6 502.5,601.0 500.9,602.0 502.3,604.0 502.1,607.5 502.5,612.7 504.5,615.8" fill="#f6a9a9" stroke="#9c6262" stroke-opacity="0.85" stroke-width="0.8"/>
<polygon points="490.7,463.2 495.8,462.8 499.7,463.9 503.0,466.2 506.2,466.9 508.0,467.6 510.1,470.1 512.6,471.8 514.7,472.1 516.8,468.8 518.6,466.1 518.2,462.3 519.1,458.5 520.8,455.6 518.3,454.2 515.0,451.6 511.7,451.1 509.1,450.4 508.6,446.8 506.2,444.4 504.8,446.3 502.3,449.2 499.5,452.2 498.4,454.8 497.0,457.9 493.2,461.2" fill="#f6a9a9" stroke="#9c6262" stroke-opacity="0.85" stroke-width="0.8"/>
<polygon points="506.2,647.7 504.9,651.5 506.0,655.2 508.4,657.3 507.1,661.0 508.2,666.1 509.8,669.6 506.8,672.3 507.1,675.1 510.3,677.5 510.5,677.7 512.8,679.6 517.2,681.6 520.8,680.7 523.1,680.3 526.5,678.8 528.2,675.7 527.7,672.8 529.2,672.0 533.2,671.4 535.6,668.2 536.3,663.4 538.0,659.8 537.4,657.7 536.9,657.5 535.2,653.0 533.7,648.5 531.9,647.5 531.5,645.5 528.2,643.9 524.4,643.8 520.9,645.7 517.0,646.3 514.4,645.2 512.8,645.1 509.8,647.1" fill="#f48383" stroke="#9c6262" stroke-opacity="0.85" stroke-width="0.8"/>
<polygon points="499.7,518.4 504.4,518.9 507.7,518.1 509.9,517.6 511.4,516.1 514.7,512.6 517.2,509.9 519.8,508.5 516.2,505.5 515.8,501.4 512.0,499.0 508.3,496.2 506.3,494.4 502.4,497.7 500.1,500.3 499.1,505.1 499.4,506.9 499.0,510.4 497.8,515.7" fill="#fad2d2" stroke="#9c6262" stroke-opacity="0.85" stroke-width="0.8"/>
<polygon points="506.3,494.4 508.3,496.2 512.0,499.0 515.8,501.4 519.4,496.6 520.9,494.1 523.3,493.1 526.1,490.1 526.7,486.1 525.3,481.3 523.6,479.5 520.9,477.9 519.3,476.1 515.7,474.0 513.6,477.3 511.7,478.8 510.1,479.8 506.8,481.9 503.7,483.6 505.5,488.7 506.3,491.6" fill="#fad2d2" stroke="#9c6262" stroke-opacity="0.85" stroke-width="0.8"/>
<polygon points="511.5,557.2 515.9,557.1 519.2,557.1 523.6,554.7 524.5,551.7 523.8,547.4 524.5,543.3 523.4,542.1 522.3,538.2 518.0,535.2 516.6,533.9 513.2,535.2 510.0,537.9 509.1,539.3 507.3,540.2 504.3,542.5 502.1,544.3 498.3,544.9 499.1,546.7 503.6,548.2 505.4,551.7 507.1,553.5 510.4,553.8" fill="#f48383" stroke="#9c6262" stroke-opacity="0.85" stroke-width="0.8"/>
<polygon points="506.2,444.4 508.6,446.8 509.1,450.4 511.7,451.1 515.0,451.6 518.3,454.2 520.8,455.6 524.4,454.3 521.6,452.9 521.7,449.8 524.1,446.2 523.5,444.1 521.2,440.3 515.1,436.9 513.5,436.0 509.9,437.0 507.8,440.3 504.7,443.0" fill="#f6a9a9" stroke="#9c6262" stroke-opacity="0.85" stroke-width="0.8"/>
<polygon points="517.1,533.4 519.6,532.5 522.7,530.1 524.4,527.9 525.1,526.4 528.2,523.7 531.7,520.6 534.3,519.3 531.8,514.9 529.6,512.7 527.4,508.9 522.3,508.0 519.8,508.5 517.2,509.9 514.7,512.6 511.4,516.1 509.9,517.6 507.7,518.1 509.5,520.2 510.8,524.8 511.9,527.5 516.6,529.6" fill="#f14f4f" stroke="#9c6262" stroke-opacity="0.85" stroke-width="0.8"/>
<polygon points="512.8,645.1 514.4,645.2 517.0,646.3 520.9,645.7 524.4,643.8 528.2,643.9 531.5,645.5 535.1,640.1 535.8,635.6 535.1,634.2 536.3,630.5 535.9,625.1 531.8,624.7 529.6,622.4 524.3,619.8 521.0,619.1 521.3,618.0 518.3,619.8 514.0,620.4 511.3,621.9 512.6,625.1 511.2,628.7 511.2,631.9 512.2,634.7 511.1,638.0 511.2,641.8" fill="#f14f4f" stroke="#9c6262" stroke-opacity="0.85" stroke-width="0.8"/>
<polygon points="514.5,733.8 515.3,737.7 519.6,739.8 519.6,741.4 519.0,745.3 522.9,749.7 524.1,752.8 526.9,753.5 532.4,752.1 537.0,750.9 536.1,749.0 536.8,745.6 540.0,741.9 542.0,740.1 543.1,738.8 545.7,734.8 548.4,729.4 546.8,726.7 544.8,726.2 544.7,722.8 542.7,718.8 540.6,716.9 539.8,715.0 535.8,713.8 531.5,715.4 528.6,715.4 526.6,716.4 522.9,718.1 520.5,721.4 519.0,724.9 517.5,728.1 516.7,730.0 516.4,731.2" fill="#f6a9a9" stroke="#9c6262" stroke-opacity="0.85" stroke-width="0.8"/>
<polygon points="510.9,595.8 513.3,597.4 517.2,599.7 520.2,601.8 525.2,603.5 528.3,601.8 531.7,601.6 531.7,600.1 532.1,597.1 534.8,592.9 536.5,589.8 536.6,588.4 538.5,586.9 537.0,585.4 533.5,582.3 532.2,578.5 528.2,575.5 524.5,576.1 521.2,578.5 519.3,580.0 515.6,581.2 512.4,583.7 512.4,588.1 512.7,588.6 513.1,590.8" fill="#fad2d2" stroke="#9c6262" stroke-opacity="0.85" stroke-width="0.8"/>
<polygon points="515.7,474.0 519.3,476.1 520.9,477.9 523.6,479.5 527.3,479.0 529.7,476.6 531.2,474.5 534.6,473.3 537.6,471.0 540.5,468.9 545.2,468.6 542.4,464.9 541.8,461.3 540.3,458.2 539.5,454.9 533.5,456.6 532.0,456.9 527.3,456.2 524.4,454.3 520.8,455.6 519.1,458.5 518.2,462.3 518.6,466.1 516.8,468.8 514.7,472.1" fill="#f14f4f" stroke="#9c6262" stroke-opacity="0.85" stroke-width="0.8"/>
<polygon points="512.8,769.2 516.9,770.7 520.6,772.2 523.1,775.6 527.0,777.5 528.8,778.0 530.5,781.0 533.6,783.1 537.1,782.4 540.9,784.1 542.7,781.4 543.1,779.6 545.3,777.2 548.0,774.9 548.6,773.6 549.5,771.5 547.8,767.9 546.5,764.3 545.8,764.0 543.3,761.1 540.8,756.2 539.0,754.7 537.8,753.3 537.0,750.9 532.4,752.1 526.9,753.5 524.1,752.8 520.9,754.4 518.0,757.0 518.4,759.7 518.5,762.4 516.2,765.1" fill="#f48383" stroke="#9c6262" stroke-opacity="0.85" stroke-width="0.8"/>
<polygon points="516.6,533.9 518.0,535.2 522.3,538.2 523.4,542.1 524.5,543.3 528.0,541.7 532.1,539.7 534.4,539.2 537.0,538.9 540.4,537.3 539.1,533.2 539.7,531.6 540.3,530.2 539.2,525.9 539.2,521.1 535.7,521.3 534.3,519.3 531.7,520.6 528.2,523.7 525.1,526.4 524.4,527.9 522.7,530.1 519.6,532.5 517.1,533.4" fill="#f48383" stroke="#9c6262" stroke-opacity="0.85" stroke-width="0.8"/>
<polygon points="519.8,508.5 522.3,508.0 527.4,508.9 529.6,512.7 532.8,508.9 534.7,505.1 533.5,502.7 533.5,500.8 536.8,498.0 539.6,494.5 535.6,492.3 532.3,491.2 531.1,489.9 526.7,486.1 526.1,490.1 523.3,493.1 520.9,494.1 519.4,496.6 515.8,501.4 516.2,505.5" fill="#f6a9a9" stroke="#9c6262" stroke-opacity="0.85" stroke-width="0.8"/>
<polygon points="529.5,798.3 531.5,801.1 532.4,806.9 533.4,809.3 535.0,809.7 535.3,813.2 535.9,817.1 535.3,819.6 535.4,822.4 538.7,825.7 542.2,827.0 543.2,829.7 546.0,832.0 549.3,833.0 552.7,828.1 554.9,824.5 552.9,822.7 553.4,820.4 557.7,816.0 560.0,811.8 557.7,809.4 558.4,807.8 562.9,803.6 559.0,801.5 553.9,799.6 552.5,797.3 548.7,796.2 547.0,793.5 545.7,789.1 542.1,788.1 540.2,786.5 536.7,790.6 535.0,793.1 531.8,795.5" fill="#f6a9a9" stroke="#9c6262" stroke-opacity="0.85" stroke-width="0.8"/>
<polygon points="521.3,618.0 521.0,619.1 524.3,619.8 529.6,622.4 531.8,624.7 535.9,625.1 536.8,621.4 538.8,619.8 540.9,618.3 545.2,615.3 544.1,613.3 539.3,610.9 536.5,610.5 536.5,607.6 533.2,603.9 531.7,601.6 528.3,601.8 525.2,603.5 523.1,608.1 520.6,611.5 521.6,614.1" fill="#f6a9a9" stroke="#9c6262" stroke-opacity="0.85" stroke-width="0.8"/>
<polygon points="523.6,554.7 525.7,556.9 528.9,561.1 531.3,561.7 533.5,561.6 536.4,561.0 540.8,559.6 543.6,559.5 543.5,556.1 545.6,552.0 546.9,549.1 547.0,546.5 544.0,541.9 543.4,539.9 540.4,537.3 537.0,538.9 534.4,539.2 532.1,539.7 528.0,541.7 524.5,543.3 523.8,547.4 524.5,551.7" fill="#f6a9a9" stroke="#9c6262" stroke-opacity="0.85" stroke-width="0.8"/>
<polygon points="533.5,694.7 536.8,692.2 540.2,690.8 544.9,689.7 547.7,687.2 550.4,685.5 554.0,685.0 555.9,683.4 558.5,681.8 561.3,679.8 561.9,676.8 560.2,672.5 558.4,670.5 554.6,669.3 553.5,668.2 550.6,664.2 548.9,662.5 544.6,662.7 542.3,662.7 538.0,659.8 536.3,663.4 535.6,668.2 533.2,671.4 529.2,672.0 527.7,672.8 528.2,675.7 526.5,678.8 523.1,680.3 525.0,683.4 527.8,686.0 531.8,687.6 533.9,691.7" fill="#f48383" stroke="#9c6262" stroke-opacity="0.85" stroke-width="0.8"/>
<polygon points="535.1,640.1 538.3,641.6 541.3,642.7 543.7,641.5 547.1,639.7 550.7,639.9 553.3,641.1 556.4,641.2 557.1,635.8 558.0,632.3 558.6,631.8 558.9,630.1 558.8,625.0 555.6,621.2 552.3,620.6 551.5,616.5 549.9,614.1 545.2,615.3 540.9,618.3 538.8,619.8 536.8,621.4 535.9,625.1 536.3,630.5 535.1,634.2 535.8,635.6" fill="#f6a9a9" stroke="#9c6262" stroke-opacity="0.85" stroke-width="0.8"/>
<polygon points="534.3,519.3 535.7,521.3 539.2,521.1 544.6,519.1 547.9,516.7 548.9,514.3 549.4,510.2 552.4,506.4 550.3,503.1 546.7,503.2 545.2,500.0 542.2,494.4 541.0,493.5 539.6,494.5 536.8,498.0 533.5,500.8 533.5,502.7 534.7,505.1 532.8,508.9 529.6,512.7 531.8,514.9" fill="#fad2d2" stroke="#9c6262" stroke-opacity="0.85" stroke-width="0.8"/>
<polygon points="526.7,486.1 531.1,489.9 532.3,491.2 535.6,492.3 539.6,494.5 541.0,493.5 544.9,493.0 548.4,490.2 547.5,483.5 546.0,478.7 548.0,478.7 547.9,476.8 545.2,471.7 546.8,468.9 545.2,468.6 540.5,468.9 537.6,471.0 534.6,473.3 531.2,474.5 529.7,476.6 527.3,479.0 523.6,479.5 525.3,481.3" fill="#f48383" stroke="#9c6262" stroke-opacity="0.85" stroke-width="0.8"/>
<polygon points="560.8,766.9 556.1,767.4 553.4,768.8 549.5,771.5 548.6,773.6 548.0,774.9 545.3,777.2 543.1,779.6 542.7,781.4 540.9,784.1 540.2,786.5 542.1,788.1 545.7,789.1 547.0,793.5 548.7,796.2 552.5,797.3 553.9,799.6 559.0,801.5 562.9,803.6 563.6,802.1 562.0,798.2 560.5,796.2 563.6,792.0 565.6,786.3 564.7,783.1 565.6,780.5 568.7,777.1 569.9,773.5 567.7,770.4 565.3,769.2" fill="#f14f4f" stroke="#9c6262" stroke-opacity="0.85" stroke-width="0.8"/>
<polygon points="531.5,645.5 531.9,647.5 533.7,648.5 535.2,653.0 536.9,657.5 537.4,657.7 538.0,659.8 542.3,662.7 544.6,662.7 548.9,662.5 546.6,659.6 550.9,658.1 552.5,654.8 552.2,648.3 553.5,644.8 555.1,644.4 557.5,642.3 556.4,641.2 553.3,641.1 550.7,639.9 547.1,639.7 543.7,641.5 541.3,642.7 538.3,641.6 535.1,640.1" fill="#f6a9a9" stroke="#9c6262" stroke-opacity="0.85" stroke-width="0.8"/>
<polygon points="528.2,575.5 532.2,578.5 533.5,582.3 537.0,585.4 538.5,586.9 540.6,586.0 543.7,584.9 546.3,583.4 550.2,579.9 551.7,575.9 550.6,574.3 549.7,570.5 552.1,564.7 550.4,563.3 546.4,562.2 545.1,561.4 543.6,559.5 540.8,559.6 536.4,561.0 533.5,561.6 531.3,561.7 530.1,563.4 529.0,569.7 527.8,574.5" fill="#f6a9a9" stroke="#9c6262" stroke-opacity="0.85" stroke-width="0.8"/>
<polygon points="545.2,615.3 549.9,614.1 550.3,613.1 551.5,610.7 554.8,607.4 557.5,604.2 554.5,600.1 551.1,599.4 549.4,596.0 547.0,591.8 547.4,589.6 544.2,587.2 540.6,586.0 538.5,586.9 536.6,588.4 536.5,589.8 534.8,592.9 532.1,597.1 531.7,600.1 531.7,601.6 533.2,603.9 536.5,607.6 536.5,610.5 539.3,610.9 544.1,613.3" fill="#f48383" stroke="#9c6262" stroke-opacity="0.85" stroke-width="0.8"/>
<polygon points="535.8,713.8 539.8,715.0 540.6,716.9 542.7,718.8 547.0,718.0 550.4,716.2 552.7,715.0 556.2,715.3 559.2,715.0 560.8,713.9 563.7,713.7 567.1,713.6 569.2,711.8 570.7,707.9 573.0,703.9 571.2,699.8 569.5,698.9 567.7,695.6 563.4,692.3 563.3,691.1 562.8,687.7 558.9,684.1 558.5,681.8 555.9,683.4 554.0,685.0 550.4,685.5 547.7,687.2 544.9,689.7 540.2,690.8 536.8,692.2 533.5,694.7 534.2,696.7 535.1,699.7 533.7,702.9 535.9,705.3 536.8,709.4" fill="#f48383" stroke="#9c6262" stroke-opacity="0.85" stroke-width="0.8"/>
<polygon points="552.4,506.4 556.9,506.5 559.8,504.7 563.7,503.8 563.9,503.5 563.3,500.0 563.7,494.3 564.4,491.2 565.4,490.9 561.6,491.0 559.3,490.7 556.8,489.7 552.7,488.8 549.7,489.3 548.4,490.2 544.9,493.0 541.0,493.5 542.2,494.4 545.2,500.0 546.7,503.2 550.3,503.1" fill="#f6a9a9" stroke="#9c6262" stroke-opacity="0.85" stroke-width="0.8"/>
<polygon points="540.4,537.3 543.4,539.9 544.0,541.9 547.0,546.5 550.5,546.1 553.6,544.1 556.2,540.7 558.9,538.4 560.2,536.1 560.2,532.9 561.3,530.1 562.3,528.0 560.2,527.0 555.4,525.4 551.5,524.6 547.4,523.3 544.6,519.1 539.2,521.1 539.2,525.9 540.3,530.2 539.7,531.6 539.1,533.2" fill="#f6a9a9" stroke="#9c6262" stroke-opacity="0.85" stroke-width="0.8"/>
<polygon points="537.0,750.9 537.8,753.3 539.0,754.7 540.8,756.2 543.3,761.1 545.8,764.0 546.5,764.3 547.8,767.9 549.5,771.5 553.4,768.8 556.1,767.4 560.8,766.9 561.8,764.3 563.4,761.2 562.3,755.2 562.2,751.6 564.2,751.9 563.7,749.1 562.7,742.4 561.0,741.4 558.7,741.1 555.3,737.7 551.6,736.1 548.9,733.8 548.4,729.4 545.7,734.8 543.1,738.8 542.0,740.1 540.0,741.9 536.8,745.6 536.1,749.0" fill="#f48383" stroke="#9c6262" stroke-opacity="0.85" stroke-width="0.8"/>
<polygon points="543.6,559.5 545.1,561.4 546.4,562.2 550.4,563.3 552.1,564.7 554.7,562.5 556.6,562.2 560.8,561.9 564.7,560.8 567.8,561.1 568.1,560.8 567.6,559.6 565.9,556.6 564.6,554.2 561.0,550.6 560.5,548.7 556.1,547.0 553.6,544.1 550.5,546.1 547.0,546.5 546.9,549.1 545.6,552.0 543.5,556.1" fill="#fad2d2" stroke="#9c6262" stroke-opacity="0.85" stroke-width="0.8"/>
<polygon points="557.5,604.2 561.5,603.4 555.8,597.5 557.5,594.7 560.0,589.7 557.7,586.0 560.3,585.8 564.1,584.3 566.3,583.8 562.9,582.8 559.8,584.2 557.7,583.7 554.1,580.9 550.2,579.9 546.3,583.4 543.7,584.9 540.6,586.0 544.2,587.2 547.4,589.6 547.0,591.8 549.4,596.0 551.1,599.4 554.5,600.1" fill="#f48383" stroke="#9c6262" stroke-opacity="0.85" stroke-width="0.8"/>
<polygon points="558.8,625.0 562.9,623.9 566.4,623.7 568.6,623.3 571.9,621.2 569.1,618.8 566.8,614.8 566.2,613.5 563.3,610.9 561.3,606.4 561.5,603.4 557.5,604.2 554.8,607.4 551.5,610.7 550.3,613.1 549.9,614.1 551.5,616.5 552.3,620.6 555.6,621.2" fill="#f48383" stroke="#9c6262" stroke-opacity="0.85" stroke-width="0.8"/>
<polygon points="562.7,742.4 565.3,740.6 569.3,740.5 573.4,740.2 575.6,738.9 578.3,738.6 581.3,738.6 582.5,737.0 584.4,734.8 583.4,729.8 581.9,725.7 581.6,725.4 578.3,723.1 575.8,719.5 575.0,718.0 572.7,714.9 570.8,712.2 569.2,711.8 567.1,713.6 563.7,713.7 560.8,713.9 559.2,715.0 556.2,715.3 552.7,715.0 550.4,716.2 547.0,718.0 542.7,718.8 544.7,722.8 544.8,726.2 546.8,726.7 548.4,729.4 548.9,733.8 551.6,736.1 555.3,737.7 558.7,741.1 561.0,741.4" fill="#f14f4f" stroke="#9c6262" stroke-opacity="0.85" stroke-width="0.8"/>
<polygon points="552.4,506.4 549.4,510.2 548.9,514.3 547.9,516.7 544.6,519.1 547.4,523.3 551.5,524.6 555.4,525.4 560.2,527.0 562.3,528.0 565.0,526.6 565.8,523.5 566.9,519.6 570.0,517.4 570.9,515.2 568.6,512.6 566.9,509.6 564.9,505.4 563.7,503.8 559.8,504.7 556.9,506.5" fill="#fad2d2" stroke="#9c6262" stroke-opacity="0.85" stroke-width="0.8"/>
<polygon points="558.5,681.8 558.9,684.1 562.8,687.7 563.3,691.1 563.4,692.3 567.7,695.6 569.5,698.9 571.2,699.8 573.0,703.9 575.8,703.3 577.7,701.5 581.1,700.0 584.3,699.7 586.1,698.5 582.8,693.8 580.0,692.4 579.3,690.5 577.1,686.1 574.5,684.5 572.3,681.8 568.5,678.8 568.1,677.4 564.4,674.6 560.2,672.5 561.9,676.8 561.3,679.8" fill="#f14f4f" stroke="#9c6262" stroke-opacity="0.85" stroke-width="0.8"/>
<polygon points="557.5,642.3 560.9,640.1 563.0,638.3 565.4,635.4 569.0,632.8 571.1,631.9 570.8,627.8 572.3,621.7 571.9,621.2 568.6,623.3 566.4,623.7 562.9,623.9 558.8,625.0 558.9,630.1 558.6,631.8 558.0,632.3 557.1,635.8 556.4,641.2" fill="#f6a9a9" stroke="#9c6262" stroke-opacity="0.85" stroke-width="0.8"/>
<polygon points="550.2,579.9 554.1,580.9 557.7,583.7 559.8,584.2 562.9,582.8 566.3,583.8 572.3,583.6 572.4,577.2 571.0,575.0 570.6,573.1 568.5,567.0 568.2,562.9 567.8,561.1 564.7,560.8 560.8,561.9 556.6,562.2 554.7,562.5 552.1,564.7 549.7,570.5 550.6,574.3 551.7,575.9" fill="#f6a9a9" stroke="#9c6262" stroke-opacity="0.85" stroke-width="0.8"/>
<polygon points="548.4,490.2 549.7,489.3 552.7,488.8 556.8,489.7 559.3,490.7 561.6,491.0 565.4,490.9 569.7,487.2 569.1,481.7 569.1,477.0 566.6,477.6 564.7,477.3 560.9,473.6 558.0,472.1 555.4,470.2 551.3,466.5 548.2,467.1 546.8,468.9 545.2,471.7 547.9,476.8 548.0,478.7 546.0,478.7 547.5,483.5" fill="#f6a9a9" stroke="#9c6262" stroke-opacity="0.85" stroke-width="0.8"/>
<polygon points="563.7,503.8 564.9,505.4 566.9,509.6 568.6,512.6 570.9,515.2 573.5,514.2 573.7,511.0 576.6,508.2 579.6,505.1 582.3,502.2 584.8,500.6 581.6,497.8 579.7,494.0 578.9,491.9 575.0,490.6 573.4,487.5 569.7,487.2 565.4,490.9 564.4,491.2 563.7,494.3 563.3,500.0 563.9,503.5" fill="#f6a9a9" stroke="#9c6262" stroke-opacity="0.85" stroke-width="0.8"/>
<polygon points="553.6,544.1 556.1,547.0 560.5,548.7 561.0,550.6 564.6,554.2 565.9,556.6 567.6,559.6 569.9,556.6 571.9,552.0 574.2,549.4 576.8,549.2 577.5,547.7 577.3,543.6 579.0,539.3 576.8,536.5 575.0,536.3 570.1,535.6 567.6,533.8 565.3,532.1 561.3,530.1 560.2,532.9 560.2,536.1 558.9,538.4 556.2,540.7" fill="#f14f4f" stroke="#9c6262" stroke-opacity="0.85" stroke-width="0.8"/>
<polygon points="567.8,561.1 568.2,562.9 568.5,567.0 570.6,573.1 571.0,575.0 572.4,577.2 572.3,583.6 576.1,581.4 578.8,580.2 582.4,578.1 583.9,575.2 585.7,574.3 589.6,573.8 591.3,571.6 589.9,565.2 587.2,562.1 584.6,562.9 580.4,561.0 576.5,559.1 574.7,560.0 572.6,561.6 568.1,560.8" fill="#f48383" stroke="#9c6262" stroke-opacity="0.85" stroke-width="0.8"/>
<polygon points="561.3,530.1 565.3,532.1 567.6,533.8 570.1,535.6 575.0,536.3 576.8,536.5 579.0,539.3 583.2,539.8 583.7,535.6 583.5,531.0 585.8,528.3 585.0,524.9 585.2,521.3 582.2,519.9 578.6,517.7 577.8,515.6 573.5,514.2 570.9,515.2 570.0,517.4 566.9,519.6 565.8,523.5 565.0,526.6 562.3,528.0" fill="#f6a9a9" stroke="#9c6262" stroke-opacity="0.85" stroke-width="0.8"/>
<polygon points="584.4,734.8 582.5,737.0 581.3,738.6 578.3,738.6 575.6,738.9 573.4,740.2 569.3,740.5 565.3,740.6 562.7,742.4 563.7,749.1 564.2,751.9 562.2,751.6 562.3,755.2 563.4,761.2 561.8,764.3 560.8,766.9 565.3,769.2 567.7,770.4 567.2,769.5 568.7,767.2 572.9,764.6 575.1,760.9 574.1,756.9 575.0,754.1 578.5,752.0 580.9,749.9 581.8,747.7 583.4,744.7 585.1,741.1 585.6,738.3 588.3,736.3" fill="#ee2222" stroke="#9c6262" stroke-opacity="0.85" stroke-width="0.8"/>
<polygon points="616.1,515.8 616.0,518.9 617.6,519.6 620.2,522.8 620.4,527.0 621.8,529.5 623.3,532.6 625.0,535.1 625.1,535.0 625.1,533.8 627.4,530.7 631.7,525.9 629.1,521.3 628.1,517.7 627.8,514.3 625.6,513.4 622.5,510.1 619.4,505.7 616.3,509.4 616.7,512.6" fill="#f48383" stroke="#9c6262" stroke-opacity="0.85" stroke-width="0.8"/>
<polygon points="569.1,477.0 572.0,475.9 572.8,474.6 572.7,470.7 569.6,467.5 567.6,466.6 566.1,465.9 561.6,461.3 559.5,458.6 559.5,458.6 556.6,462.4 555.4,465.3 551.3,466.5 555.4,470.2 558.0,472.1 560.9,473.6 564.7,477.3 566.6,477.6" fill="#f48383" stroke="#9c6262" stroke-opacity="0.85" stroke-width="0.8"/>
<polygon points="568.1,560.8 572.6,561.6 574.7,560.0 576.5,559.1 580.4,561.0 584.6,562.9 587.2,562.1 587.9,560.2 590.2,558.7 592.3,555.1 593.3,550.1 592.1,549.0 590.1,548.7 586.6,545.1 585.8,543.0 583.2,539.8 579.0,539.3 577.3,543.6 577.5,547.7 576.8,549.2 574.2,549.4 571.9,552.0 569.9,556.6 567.6,559.6" fill="#f48383" stroke="#9c6262" stroke-opacity="0.85" stroke-width="0.8"/>
<polygon points="573.5,514.2 577.8,515.6 578.6,517.7 582.2,519.9 585.2,521.3 587.2,519.7 590.4,517.3 594.6,516.5 596.6,515.6 595.3,512.5 592.3,509.0 595.0,503.3 595.3,500.5 589.4,501.7 586.7,501.8 584.8,500.6 582.3,502.2 579.6,505.1 576.6,508.2 573.7,511.0" fill="#f6a9a9" stroke="#9c6262" stroke-opacity="0.85" stroke-width="0.8"/>
<polygon points="573.0,703.9 570.7,707.9 569.2,711.8 570.8,712.2 572.7,714.9 575.0,718.0 575.8,719.5 578.3,723.1 581.6,725.4 581.9,725.7 583.4,729.8 584.4,734.8 588.3,736.3 589.3,734.1 591.6,729.9 596.3,727.3 599.5,726.2 601.6,724.4 604.0,722.3 606.4,719.9 609.0,716.1 606.2,713.2 603.4,712.0 602.0,710.6 598.2,705.9 596.6,704.4 590.8,702.2 588.6,699.1 586.1,698.5 584.3,699.7 581.1,700.0 577.7,701.5 575.8,703.3" fill="#f14f4f" stroke="#9c6262" stroke-opacity="0.85" stroke-width="0.8"/>
<polygon points="603.2,551.5 600.1,551.5 596.2,550.2 593.3,550.1 592.3,555.1 590.2,558.7 587.9,560.2 587.2,562.1 589.9,565.2 591.3,571.6 593.0,567.6 595.7,564.4 597.2,561.3 598.8,558.5 603.2,557.0 605.8,553.8" fill="#f48383" stroke="#9c6262" stroke-opacity="0.85" stroke-width="0.8"/>
<polygon points="593.3,550.1 596.2,550.2 600.1,551.5 603.2,551.5 603.8,548.1 605.5,544.9 607.1,541.6 607.7,538.8 604.6,536.3 600.6,531.9 596.8,532.7 594.2,535.0 591.6,535.9 587.1,535.3 583.7,535.6 583.2,539.8 585.8,543.0 586.6,545.1 590.1,548.7 592.1,549.0" fill="#f48383" stroke="#9c6262" stroke-opacity="0.85" stroke-width="0.8"/>
<polygon points="583.7,535.6 587.1,535.3 591.6,535.9 594.2,535.0 596.8,532.7 600.6,531.9 602.0,530.2 603.1,526.7 602.3,521.5 603.7,517.8 600.1,518.3 596.6,515.6 594.6,516.5 590.4,517.3 587.2,519.7 585.2,521.3 585.0,524.9 585.8,528.3 583.5,531.0" fill="#f48383" stroke="#9c6262" stroke-opacity="0.85" stroke-width="0.8"/>
<polygon points="584.8,500.6 586.7,501.8 589.4,501.7 595.3,500.5 596.9,499.3 598.8,496.4 603.1,492.6 604.9,491.5 602.5,489.4 599.6,486.3 596.7,483.3 596.0,479.7 591.7,478.6 587.9,480.7 585.7,481.5 582.0,482.8 578.8,485.4 576.9,486.8 573.4,487.5 575.0,490.6 578.9,491.9 579.7,494.0 581.6,497.8" fill="#f48383" stroke="#9c6262" stroke-opacity="0.85" stroke-width="0.8"/>
<polygon points="595.3,500.5 595.0,503.3 592.3,509.0 595.3,512.5 596.6,515.6 600.1,518.3 603.7,517.8 607.3,517.6 610.8,516.8 616.1,515.8 616.7,512.6 616.3,509.4 619.4,505.7 617.5,501.1 614.3,499.3 609.9,499.7 607.4,496.5 608.1,492.4 604.9,491.5 603.1,492.6 598.8,496.4 596.9,499.3" fill="#f48383" stroke="#9c6262" stroke-opacity="0.85" stroke-width="0.8"/>
<polygon points="607.7,538.8 611.0,536.7 615.7,535.7 618.2,536.7 620.5,536.5 624.7,535.4 625.0,535.1 623.3,532.6 621.8,529.5 620.4,527.0 620.2,522.8 617.6,519.6 616.0,518.9 616.1,515.8 610.8,516.8 607.3,517.6 603.7,517.8 602.3,521.5 603.1,526.7 602.0,530.2 600.6,531.9 604.6,536.3" fill="#f6a9a9" stroke="#9c6262" stroke-opacity="0.85" stroke-width="0.8"/>
<polygon points="603.2,551.5 605.8,553.8 608.8,549.0 612.6,547.3 614.4,546.0 617.8,543.9 619.7,542.1 621.6,538.7 624.7,535.4 620.5,536.5 618.2,536.7 615.7,535.7 611.0,536.7 607.7,538.8 607.1,541.6 605.5,544.9 603.8,548.1" fill="#f48383" stroke="#9c6262" stroke-opacity="0.85" stroke-width="0.8"/>
<polygon points="257.2,321.2 257.0,318.9 256.7,318.3 256.7,315.3 256.5,311.2 255.7,308.8 254.0,306.8 253.9,303.1 255.5,298.1 254.7,294.1 252.9,292.3 254.8,290.3 255.3,286.7 251.7,283.8 252.7,285.7 252.0,289.0 249.4,292.7 247.1,294.9 246.0,296.0 245.4,298.6 245.7,303.3 243.5,307.1 244.4,309.4 247.2,312.9 246.0,317.0 244.4,318.8 246.4,319.8 246.8,323.3 245.0,328.0 245.5,331.2 246.9,334.2 246.3,338.2 246.1,341.2 246.6,343.1 246.4,345.9 248.3,343.9 250.1,341.5 250.3,337.8 250.8,334.5 252.7,333.1 254.5,331.2 255.5,326.5" fill="#f6a9a9" stroke="#9c6262" stroke-opacity="0.85" stroke-width="0.8"/>
<polygon points="265.7,281.3 269.9,278.7 272.4,276.7 273.1,274.4 274.9,271.1 275.1,267.2 276.1,263.5 276.2,260.7 274.1,258.5 273.3,255.7 275.3,252.4 276.1,249.1 275.1,245.8 275.6,242.0 276.5,238.2 275.2,241.8 272.9,246.1 269.9,248.7 268.4,250.2 268.3,253.1 267.2,257.6 265.0,260.7 263.5,261.9 262.3,263.7 265.0,267.5 264.3,271.3 265.0,274.8 267.4,278.7" fill="#fad2d2" stroke="#9c6262" stroke-opacity="0.85" stroke-width="0.8"/>
<polygon points="261.3,347.8 260.8,343.6 262.1,342.6 260.9,340.0 259.5,334.2 258.8,331.3 257.9,329.3 257.2,321.2 255.5,326.5 254.5,331.2 252.7,333.1 250.8,334.5 250.3,337.8 250.1,341.5 248.3,343.9 246.4,345.9 247.1,349.1 247.6,351.6 246.4,355.6 246.7,360.9 247.7,363.6 246.6,365.0 246.6,369.0 248.8,373.1 248.7,374.5 247.5,376.7 247.7,382.2 247.5,386.5 252.6,387.1 256.0,389.5 256.7,385.4 253.9,380.9 254.2,378.6 258.7,377.1 259.6,373.2 256.6,368.4 257.2,366.3 260.6,365.5 260.2,362.1 258.1,356.8 259.3,353.4 261.4,351.2" fill="#f6a9a9" stroke="#9c6262" stroke-opacity="0.85" stroke-width="0.8"/>
<polygon points="269.9,368.5 270.9,366.0 269.0,362.4 267.0,360.9 264.9,357.8 262.5,352.6 263.5,350.9 261.3,347.8 261.4,351.2 259.3,353.4 258.1,356.8 260.2,362.1 260.6,365.5 257.2,366.3 256.6,368.4 259.6,373.2 258.7,377.1 254.2,378.6 253.9,380.9 256.7,385.4 256.0,389.5 256.7,389.7 262.4,391.1 266.2,391.4 268.0,390.4 269.8,390.1 272.3,388.7 272.9,385.7 270.1,381.4 270.2,377.7 272.7,374.5 271.4,371.2" fill="#f48383" stroke="#9c6262" stroke-opacity="0.85" stroke-width="0.8"/>
<polygon points="265.7,281.3 267.4,278.7 265.0,274.8 264.3,271.3 265.0,267.5 262.3,263.7 260.7,267.7 260.0,271.7 259.4,274.8 256.2,278.3 252.3,281.7 251.7,283.8 255.3,286.7 254.8,290.3 252.9,292.3 254.7,294.1 255.5,298.1 253.9,303.1 254.0,306.8 255.7,308.8 256.5,311.2 256.7,315.3 256.7,318.3 257.0,318.9 257.2,321.2 257.9,329.3 260.7,324.5 263.3,320.2 263.0,317.8 263.9,315.8 267.2,312.7 267.8,309.5 265.4,306.6 265.7,304.0 268.3,299.9 268.0,295.0 267.0,292.2 268.8,290.6 269.2,287.8 266.0,284.2" fill="#fad2d2" stroke="#9c6262" stroke-opacity="0.85" stroke-width="0.8"/>
<polygon points="267.8,309.5 269.8,312.6 270.4,315.2 271.5,318.8 274.3,320.1 274.5,322.3 275.9,319.3 276.1,318.2 276.9,316.1 278.9,311.8 279.7,307.7 278.7,306.1 279.3,305.1 281.9,301.9 283.0,297.0 281.2,292.7 280.3,292.2 281.0,289.9 279.3,285.0 276.8,282.6 276.3,281.4 275.9,278.1 275.5,274.3 274.9,271.1 273.1,274.4 272.4,276.7 269.9,278.7 265.7,281.3 266.0,284.2 269.2,287.8 268.8,290.6 267.0,292.2 268.0,295.0 268.3,299.9 265.7,304.0 265.4,306.6" fill="#f6a9a9" stroke="#9c6262" stroke-opacity="0.85" stroke-width="0.8"/>
<polygon points="261.3,347.8 263.5,350.9 262.5,352.6 264.9,357.8 267.0,360.9 269.0,362.4 270.9,366.0 269.9,368.5 273.4,366.6 276.1,364.0 273.6,359.7 271.5,356.0 274.4,353.3 274.7,349.2 273.4,345.2 275.3,343.9 275.4,341.6 273.2,336.0 273.8,332.2 274.6,331.5 273.5,328.2 274.5,322.3 274.3,320.1 271.5,318.8 270.4,315.2 269.8,312.6 267.8,309.5 267.2,312.7 263.9,315.8 263.0,317.8 263.3,320.2 260.7,324.5 257.9,329.3 258.8,331.3 259.5,334.2 260.9,340.0 262.1,342.6 260.8,343.6" fill="#f14f4f" stroke="#9c6262" stroke-opacity="0.85" stroke-width="0.8"/>
<polygon points="284.6,361.5 282.8,361.6 278.5,360.3 273.6,359.7 276.1,364.0 273.4,366.6 269.9,368.5 271.4,371.2 272.7,374.5 270.2,377.7 270.1,381.4 272.9,385.7 272.3,388.7 269.8,390.1 273.7,390.3 277.4,389.6 280.2,388.6 283.9,388.9 287.3,389.1 287.8,387.2 285.4,382.3 283.9,377.3 285.2,374.5 285.2,372.3 284.6,369.2 285.7,365.7 285.9,363.3" fill="#f6a9a9" stroke="#9c6262" stroke-opacity="0.85" stroke-width="0.8"/>
<polygon points="290.8,260.6 293.3,257.6 292.4,253.6 292.1,250.1 292.6,248.7 292.6,247.3 292.9,243.3 294.8,238.3 295.1,235.1 292.9,232.9 292.4,229.5 294.3,225.8 294.4,223.7 293.2,222.2 294.3,219.0 295.6,214.1 294.4,210.2 293.9,208.1 292.2,209.1 291.1,211.2 287.5,214.1 284.0,218.3 284.4,222.4 285.2,224.5 282.4,225.6 278.6,227.8 280.1,232.0 284.7,234.8 283.8,236.7 284.5,241.1 286.7,245.6 286.1,248.4 287.5,251.0 288.8,253.7 289.1,257.3" fill="#f6a9a9" stroke="#9c6262" stroke-opacity="0.85" stroke-width="0.8"/>
<polygon points="283.0,297.0 283.4,297.7 282.7,293.3 284.0,291.1 286.7,288.7 286.7,284.5 285.2,280.8 285.9,279.0 287.5,277.2 287.9,273.7 288.2,269.1 289.4,265.3 290.3,262.8 290.8,260.6 289.1,257.3 288.8,253.7 287.5,251.0 286.1,248.4 286.7,245.6 284.5,241.1 283.8,236.7 284.7,234.8 280.1,232.0 278.6,227.8 277.7,232.3 277.8,235.8 276.5,238.2 275.6,242.0 275.1,245.8 276.1,249.1 275.3,252.4 273.3,255.7 274.1,258.5 276.2,260.7 276.1,263.5 275.1,267.2 274.9,271.1 275.5,274.3 275.9,278.1 276.3,281.4 276.8,282.6 279.3,285.0 281.0,289.9 280.3,292.2 281.2,292.7" fill="#fad2d2" stroke="#9c6262" stroke-opacity="0.85" stroke-width="0.8"/>
<polygon points="273.6,359.7 278.5,360.3 282.8,361.6 284.6,361.5 284.3,357.7 285.5,353.0 286.3,349.4 286.4,347.1 287.7,344.4 289.1,340.6 289.2,336.2 289.7,333.5 290.7,332.5 288.5,330.1 286.9,325.4 288.4,322.1 286.8,319.4 285.5,315.5 287.5,312.4 287.0,309.5 284.6,305.7 284.2,303.6 284.2,302.4 283.4,297.7 283.0,297.0 281.9,301.9 279.3,305.1 278.7,306.1 279.7,307.7 278.9,311.8 276.9,316.1 276.1,318.2 275.9,319.3 274.5,322.3 273.5,328.2 274.6,331.5 273.8,332.2 273.2,336.0 275.4,341.6 275.3,343.9 273.4,345.2 274.7,349.2 274.4,353.3 271.5,356.0" fill="#f48383" stroke="#9c6262" stroke-opacity="0.85" stroke-width="0.8"/>
<polygon points="283.4,297.7 284.2,302.4 284.2,303.6 284.6,305.7 287.0,309.5 287.5,312.4 285.5,315.5 286.8,319.4 288.4,322.1 286.9,325.4 288.5,330.1 288.6,325.7 291.8,320.3 294.8,317.9 295.9,317.5 297.9,314.7 299.9,309.6 299.8,305.9 299.8,304.3 300.0,303.8 299.0,298.8 299.0,292.9 298.9,291.5 299.1,289.2 299.4,283.0 297.0,279.9 295.5,280.0 296.4,276.8 295.1,272.4 294.2,270.5 295.7,267.2 295.9,262.0 294.9,258.9 293.3,257.6 290.8,260.6 290.3,262.8 289.4,265.3 288.2,269.1 287.9,273.7 287.5,277.2 285.9,279.0 285.2,280.8 286.7,284.5 286.7,288.7 284.0,291.1 282.7,293.3" fill="#f6a9a9" stroke="#9c6262" stroke-opacity="0.85" stroke-width="0.8"/>
<polygon points="289.2,336.2 289.1,340.6 287.7,344.4 286.4,347.1 286.3,349.4 285.5,353.0 284.3,357.7 284.6,361.5 285.9,363.3 285.7,365.7 284.6,369.2 285.2,372.3 285.2,374.5 283.9,377.3 285.4,382.3 287.8,387.2 287.3,389.1 287.8,388.9 289.6,386.7 290.7,382.7 291.2,378.7 292.3,375.5 294.9,372.7 297.1,369.9 297.6,367.0 297.3,364.0 297.8,362.1 296.1,359.7 292.6,356.0 292.9,352.7 293.4,349.4 290.0,345.4 290.1,342.7 291.6,340.2" fill="#f6a9a9" stroke="#9c6262" stroke-opacity="0.85" stroke-width="0.8"/>
<polygon points="307.4,243.1 307.9,238.5 310.3,236.1 312.8,235.3 312.8,232.7 312.7,227.3 315.0,222.6 317.0,221.3 316.4,221.1 316.4,218.3 319.1,211.6 319.6,208.4 318.4,206.7 315.0,205.7 311.9,205.5 309.6,206.0 305.5,205.5 300.8,204.7 302.6,208.4 305.3,210.7 303.8,214.7 303.5,219.3 305.2,221.8 305.6,223.4 305.3,226.0 305.6,229.4 306.6,233.0 307.1,236.1 306.8,238.8" fill="#fad2d2" stroke="#9c6262" stroke-opacity="0.85" stroke-width="0.8"/>
<polygon points="317.7,340.9 317.7,337.2 316.5,333.9 315.0,331.6 314.2,329.2 313.6,326.4 311.9,328.3 310.6,329.3 307.6,331.6 304.7,334.1 305.1,337.0 305.7,339.8 304.1,343.0 303.5,347.2 304.2,351.2 303.3,354.4 303.8,357.9 305.7,361.0 304.1,362.5 307.2,362.4 309.7,362.0 313.6,361.1 317.1,361.6 318.8,362.9 320.5,360.0 318.8,356.4 318.4,353.6 320.4,350.4 319.6,346.3 317.3,343.2" fill="#f6a9a9" stroke="#9c6262" stroke-opacity="0.85" stroke-width="0.8"/>
<polygon points="348.1,323.7 348.5,325.5 347.0,328.9 345.2,332.7 346.1,335.1 346.8,338.0 344.8,343.1 343.8,347.3 345.4,348.1 345.7,349.3 343.9,354.2 343.2,359.3 343.2,360.7 349.4,358.7 351.6,359.0 352.4,357.0 349.7,354.9 350.5,351.3 353.5,347.7 350.9,346.0 347.7,343.5 349.5,338.3 349.2,334.2 346.4,332.7 347.4,330.1 350.2,325.9 349.2,323.2" fill="#f6a9a9" stroke="#9c6262" stroke-opacity="0.85" stroke-width="0.8"/>
<polygon points="304.7,334.1 305.0,331.5 302.8,328.4 303.1,324.5 303.6,320.2 301.3,316.1 302.4,313.7 302.7,310.6 299.8,305.9 299.9,309.6 297.9,314.7 295.9,317.5 294.8,317.9 291.8,320.3 288.6,325.7 288.5,330.1 290.7,332.5 289.7,333.5 289.2,336.2 291.6,340.2 290.1,342.7 290.0,345.4 293.4,349.4 292.9,352.7 292.6,356.0 296.1,359.7 297.8,362.1 297.3,364.0 297.6,367.0 299.7,363.6 304.1,362.5 305.7,361.0 303.8,357.9 303.3,354.4 304.2,351.2 303.5,347.2 304.1,343.0 305.7,339.8 305.1,337.0" fill="#f6a9a9" stroke="#9c6262" stroke-opacity="0.85" stroke-width="0.8"/>
<polygon points="294.9,258.9 296.0,257.0 298.5,255.9 301.2,253.6 302.3,250.7 304.4,249.5 307.6,248.3 307.4,243.1 306.8,238.8 307.1,236.1 306.6,233.0 305.6,229.4 305.3,226.0 305.6,223.4 305.2,221.8 303.5,219.3 303.8,214.7 305.3,210.7 302.6,208.4 300.8,204.7 299.0,204.9 296.9,207.5 293.9,208.1 294.4,210.2 295.6,214.1 294.3,219.0 293.2,222.2 294.4,223.7 294.3,225.8 292.4,229.5 292.9,232.9 295.1,235.1 294.8,238.3 292.9,243.3 292.6,247.3 292.6,248.7 292.1,250.1 292.4,253.6 293.3,257.6" fill="#fad2d2" stroke="#9c6262" stroke-opacity="0.85" stroke-width="0.8"/>
<polygon points="299.8,304.3 299.8,305.9 302.7,310.6 302.4,313.7 301.3,316.1 303.6,320.2 303.1,324.5 302.8,328.4 305.0,331.5 304.7,334.1 307.6,331.6 310.6,329.3 311.9,328.3 313.6,326.4 312.8,322.0 312.9,317.9 313.9,315.6 313.7,312.8 313.1,308.3 313.8,305.3 314.0,304.8 313.5,302.5 313.9,296.9 313.9,292.8 312.5,291.8 312.6,289.4 314.8,284.2 314.9,280.8 311.2,280.1 312.1,276.5 307.9,279.3 307.3,281.3 309.8,284.8 308.0,288.8 303.1,291.4 302.1,294.0 303.7,298.7 302.5,303.0" fill="#f48383" stroke="#9c6262" stroke-opacity="0.85" stroke-width="0.8"/>
<polygon points="312.1,276.5 311.2,273.0 308.2,270.6 309.9,266.0 310.1,261.6 307.9,259.5 308.5,256.1 308.5,251.7 307.4,250.0 307.6,248.3 304.4,249.5 302.3,250.7 301.2,253.6 298.5,255.9 296.0,257.0 294.9,258.9 295.9,262.0 295.7,267.2 294.2,270.5 295.1,272.4 296.4,276.8 295.5,280.0 297.0,279.9 299.4,283.0 299.1,289.2 298.9,291.5 299.0,292.9 299.0,298.8 300.0,303.8 299.8,304.3 302.5,303.0 303.7,298.7 302.1,294.0 303.1,291.4 308.0,288.8 309.8,284.8 307.3,281.3 307.9,279.3" fill="#f6a9a9" stroke="#9c6262" stroke-opacity="0.85" stroke-width="0.8"/>
<polygon points="307.6,248.3 307.4,250.0 308.5,251.7 308.5,256.1 307.9,259.5 310.1,261.6 309.9,266.0 308.2,270.6 311.2,273.0 312.1,276.5 311.2,280.1 314.9,280.8 318.2,277.7 318.1,276.9 318.0,273.6 319.1,269.1 320.2,266.5 319.7,264.3 319.9,260.1 322.1,255.5 323.1,252.8 322.0,251.0 322.0,247.8 323.0,243.5 321.2,240.5 321.4,238.5 323.2,235.1 322.0,231.8 320.5,229.7 320.8,225.8 320.1,221.5 317.7,220.2 316.4,218.3 316.4,221.1 317.0,221.3 315.0,222.6 312.7,227.3 312.8,232.7 312.8,235.3 310.3,236.1 307.9,238.5 307.4,243.1" fill="#f48383" stroke="#9c6262" stroke-opacity="0.85" stroke-width="0.8"/>
<polygon points="353.8,219.9 356.0,223.0 354.9,227.1 357.6,230.0 359.4,232.6 359.5,234.6 362.4,231.5 364.6,227.7 365.6,223.9 366.8,220.8 367.7,218.1 368.7,214.4 369.5,208.8 365.7,208.1 363.4,208.8 360.5,208.8 355.9,207.3 352.1,207.1 354.5,208.5 353.2,214.5 351.2,218.8" fill="#f6a9a9" stroke="#9c6262" stroke-opacity="0.85" stroke-width="0.8"/>
<polygon points="318.8,362.9 321.7,362.4 326.3,360.4 329.7,359.6 332.1,360.3 334.9,360.7 336.8,357.1 333.6,354.8 333.9,351.8 335.8,347.9 332.7,345.7 331.6,343.5 334.5,338.7 334.3,333.8 332.9,331.3 333.8,328.8 333.4,325.3 331.0,322.4 329.6,319.4 328.2,315.9 327.1,313.3 326.8,308.7 324.7,312.7 324.8,315.3 324.6,318.1 323.0,322.5 322.2,326.4 322.4,328.2 321.8,329.8 320.7,333.5 319.6,337.8 317.7,340.9 317.3,343.2 319.6,346.3 320.4,350.4 318.4,353.6 318.8,356.4 320.5,360.0" fill="#f14f4f" stroke="#9c6262" stroke-opacity="0.85" stroke-width="0.8"/>
<polygon points="323.0,243.5 325.8,246.6 330.6,246.8 329.1,246.0 329.9,242.6 330.6,237.1 330.7,234.0 331.5,233.5 332.6,230.7 332.5,225.0 331.8,221.3 331.2,220.8 331.3,218.4 332.4,212.9 333.6,209.4 333.1,209.6 332.4,207.8 329.5,206.0 325.4,204.9 321.5,206.4 318.4,206.7 319.6,208.4 319.1,211.6 316.4,218.3 317.7,220.2 320.1,221.5 320.8,225.8 320.5,229.7 322.0,231.8 323.2,235.1 321.4,238.5 321.2,240.5" fill="#f6a9a9" stroke="#9c6262" stroke-opacity="0.85" stroke-width="0.8"/>
<polygon points="313.6,326.4 314.2,329.2 315.0,331.6 316.5,333.9 317.7,337.2 317.7,340.9 319.6,337.8 320.7,333.5 321.8,329.8 322.4,328.2 322.2,326.4 323.0,322.5 324.6,318.1 324.8,315.3 324.7,312.7 326.8,308.7 327.2,304.1 325.0,302.5 326.0,298.9 323.5,294.8 320.2,291.5 322.3,289.3 320.8,285.5 318.4,279.7 318.2,277.7 314.9,280.8 314.8,284.2 312.6,289.4 312.5,291.8 313.9,292.8 313.9,296.9 313.5,302.5 314.0,304.8 313.8,305.3 313.1,308.3 313.7,312.8 313.9,315.6 312.9,317.9 312.8,322.0" fill="#f48383" stroke="#9c6262" stroke-opacity="0.85" stroke-width="0.8"/>
<polygon points="333.7,259.8 332.9,256.3 331.7,254.1 333.1,249.6 330.6,246.8 325.8,246.6 323.0,243.5 322.0,247.8 322.0,251.0 323.1,252.8 322.1,255.5 319.9,260.1 319.7,264.3 320.2,266.5 319.1,269.1 318.0,273.6 318.1,276.9 318.2,277.7 318.4,279.7 320.8,285.5 322.3,289.3 320.2,291.5 323.5,294.8 326.0,298.9 325.0,302.5 327.2,304.1 326.8,302.2 327.7,298.1 327.9,293.9 326.9,292.1 328.0,290.4 330.7,285.9 330.7,280.7 329.4,278.0 330.7,276.2 332.8,273.0 332.3,269.6 330.9,267.4 331.6,264.3" fill="#f48383" stroke="#9c6262" stroke-opacity="0.85" stroke-width="0.8"/>
<polygon points="327.2,304.1 326.8,308.7 327.1,313.3 328.2,315.9 329.6,319.4 331.0,322.4 333.4,325.3 333.7,322.5 335.2,319.7 336.1,316.9 336.3,313.5 338.2,309.0 340.4,305.0 340.7,302.9 341.5,300.9 342.4,296.2 341.6,292.4 340.6,291.6 342.3,288.5 342.1,282.4 339.2,278.3 340.7,275.9 340.4,272.8 337.0,268.6 338.0,265.9 337.4,264.4 333.7,259.8 331.6,264.3 330.9,267.4 332.3,269.6 332.8,273.0 330.7,276.2 329.4,278.0 330.7,280.7 330.7,285.9 328.0,290.4 326.9,292.1 327.9,293.9 327.7,298.1 326.8,302.2" fill="#f48383" stroke="#9c6262" stroke-opacity="0.85" stroke-width="0.8"/>
<polygon points="334.9,360.7 338.2,360.7 343.2,360.7 343.2,359.3 343.9,354.2 345.7,349.3 345.4,348.1 343.8,347.3 344.8,343.1 346.8,338.0 346.1,335.1 345.2,332.7 347.0,328.9 348.5,325.5 348.1,323.7 347.7,321.6 346.5,316.7 344.2,314.2 344.4,311.0 343.4,304.6 342.0,301.9 341.5,300.9 340.7,302.9 340.4,305.0 338.2,309.0 336.3,313.5 336.1,316.9 335.2,319.7 333.7,322.5 333.4,325.3 333.8,328.8 332.9,331.3 334.3,333.8 334.5,338.7 331.6,343.5 332.7,345.7 335.8,347.9 333.9,351.8 333.6,354.8 336.8,357.1" fill="#f14f4f" stroke="#9c6262" stroke-opacity="0.85" stroke-width="0.8"/>
<polygon points="344.6,231.8 345.7,234.4 349.6,233.9 350.0,231.6 352.1,227.6 354.4,222.8 353.8,219.9 351.2,218.8 353.2,214.5 354.5,208.5 352.1,207.1 349.7,208.5 346.1,208.4 341.9,206.4 339.3,205.6 339.0,205.7 340.4,207.3 341.7,211.5 338.7,215.4 339.7,218.1 343.1,221.5 341.9,224.7 342.7,227.7" fill="#f48383" stroke="#9c6262" stroke-opacity="0.85" stroke-width="0.8"/>
<polygon points="342.1,282.4 342.4,278.1 345.8,277.1 348.5,275.0 349.6,270.4 351.1,267.2 351.2,265.2 350.9,263.3 350.2,259.6 350.1,255.3 350.6,251.8 351.8,248.1 352.1,244.9 350.3,243.1 349.4,240.7 350.2,236.7 349.6,233.9 345.7,234.4 344.6,231.8 341.8,235.0 339.6,237.9 340.9,240.9 341.4,244.0 339.9,246.9 339.5,249.6 339.7,252.3 338.2,256.2 337.1,261.0 337.4,264.4 338.0,265.9 337.0,268.6 340.4,272.8 340.7,275.9 339.2,278.3" fill="#fad2d2" stroke="#9c6262" stroke-opacity="0.85" stroke-width="0.8"/>
<polygon points="333.7,259.8 337.4,264.4 337.1,261.0 338.2,256.2 339.7,252.3 339.5,249.6 339.9,246.9 341.4,244.0 340.9,240.9 339.6,237.9 341.8,235.0 344.6,231.8 342.7,227.7 341.9,224.7 343.1,221.5 339.7,218.1 338.7,215.4 341.7,211.5 340.4,207.3 339.0,205.7 335.8,207.2 332.4,207.8 333.1,209.6 333.6,209.4 332.4,212.9 331.3,218.4 331.2,220.8 331.8,221.3 332.5,225.0 332.6,230.7 331.5,233.5 330.7,234.0 330.6,237.1 329.9,242.6 329.1,246.0 330.6,246.8 333.1,249.6 331.7,254.1 332.9,256.3" fill="#f6a9a9" stroke="#9c6262" stroke-opacity="0.85" stroke-width="0.8"/>
<polygon points="351.1,267.2 353.4,270.4 355.8,273.2 355.3,276.1 355.7,278.6 357.4,280.7 358.8,285.5 360.9,281.9 359.7,278.3 360.9,277.2 362.2,273.9 361.5,268.4 360.8,265.3 361.6,264.8 361.7,262.8 360.1,258.8 359.5,255.3 361.4,252.4 362.6,248.5 361.7,244.7 361.4,242.2 361.7,240.0 360.5,237.2 359.5,234.6 359.4,232.6 357.6,230.0 354.9,227.1 356.0,223.0 353.8,219.9 354.4,222.8 352.1,227.6 350.0,231.6 349.6,233.9 350.2,236.7 349.4,240.7 350.3,243.1 352.1,244.9 351.8,248.1 350.6,251.8 350.1,255.3 350.2,259.6 350.9,263.3 351.2,265.2" fill="#f6a9a9" stroke="#9c6262" stroke-opacity="0.85" stroke-width="0.8"/>
<polygon points="341.5,300.9 342.0,301.9 343.4,304.6 344.4,311.0 344.2,314.2 346.5,316.7 347.7,321.6 348.1,323.7 349.2,323.2 348.8,320.9 349.6,317.2 348.8,313.4 348.7,310.5 350.9,307.8 351.8,304.5 350.6,300.9 351.2,297.5 352.6,294.5 351.9,292.1 353.5,291.3 355.3,288.9 358.8,285.5 357.4,280.7 355.7,278.6 355.3,276.1 355.8,273.2 353.4,270.4 351.1,267.2 349.6,270.4 348.5,275.0 345.8,277.1 342.4,278.1 342.1,282.4 342.3,288.5 340.6,291.6 341.6,292.4 342.4,296.2" fill="#f48383" stroke="#9c6262" stroke-opacity="0.85" stroke-width="0.8"/>
<polygon points="368.7,214.4 367.7,218.1 366.8,220.8 365.6,223.9 364.6,227.7 362.4,231.5 359.5,234.6 360.5,237.2 361.7,240.0 361.4,242.2 361.7,244.7 362.6,248.5 361.4,252.4 359.5,255.3 360.1,258.8 361.7,262.8 361.6,264.8 360.8,265.3 361.5,268.4 362.2,273.9 360.9,277.2 359.7,278.3 360.9,281.9 361.2,278.2 364.4,275.5 368.6,274.8 369.6,273.2 366.4,268.7 365.1,264.6 366.4,263.6 365.5,262.8 367.1,258.2 370.1,256.9 370.5,256.5 374.4,251.3 375.1,247.2 374.0,244.7 373.1,241.9 372.5,238.4 371.1,235.9 370.7,234.0 370.5,231.5 369.9,227.9 371.4,223.4 371.9,219.8 369.3,217.5" fill="#fad2d2" stroke="#9c6262" stroke-opacity="0.85" stroke-width="0.8"/>
<polygon points="368.7,214.4 369.3,217.5 371.9,219.8 371.4,223.4 369.9,227.9 370.5,231.5 370.7,234.0 371.1,235.9 372.5,238.4 373.1,241.9 374.0,244.7 375.1,247.2 374.4,251.3 376.5,247.3 376.9,244.5 379.1,242.2 381.4,239.5 381.8,237.2 382.3,235.2 384.5,232.4 384.1,229.5 382.9,227.6 382.6,223.7 382.3,219.6 381.0,217.7 379.3,215.0 377.8,210.5 374.4,210.5 369.5,208.8" fill="#fad2d2" stroke="#9c6262" stroke-opacity="0.85" stroke-width="0.8"/>
<polygon points="430.0,690.0 598.0,690.0 598.0,705.7 582.2,721.5 569.1,729.4 553.4,734.6 540.2,739.9 535.0,768.7 519.2,779.2 514.0,792.4 516.6,800.2 519.2,810.7 508.7,826.5 495.6,831.7 485.1,839.6 477.2,816.0 458.9,805.5 456.2,776.6 430.0,768.7" fill="#ee2222" stroke="#8a4a4a" stroke-opacity="0.8" stroke-width="0.8"/>
<polygon points="426.3,786.6 437.3,794.9 448.4,805.9 456.7,805.9 470.5,811.4 484.3,817.0 498.1,819.7 492.6,825.2 484.3,836.3 478.8,844.6 489.8,852.9 498.1,861.2 503.6,872.2 506.4,883.3 500.9,891.5 495.4,899.8 492.6,910.9 487.1,916.4 481.5,908.1 476.0,902.6 459.4,897.1 453.9,891.5 453.9,875.0 456.7,863.9 442.9,863.9 437.3,869.4 423.5,872.2 418.0,880.5 415.2,888.8 407.0,886.0 405.6,872.2 407.0,863.9 415.2,858.4 426.3,852.9 429.1,841.8 423.5,830.8 420.8,825.2 423.5,817.0 426.3,808.7 420.8,800.4" fill="#830c0c" stroke="#8a4a4a" stroke-opacity="0.8" stroke-width="0.8"/>
<polygon points="598.0,705.7 611.1,718.9 605.9,729.4 592.7,742.5 584.9,755.6 577.0,768.7 571.7,779.2 566.5,789.7 561.2,800.2 556.0,810.7 553.4,818.6 545.5,826.5 535.0,831.7 521.9,839.6 508.7,844.9 498.2,850.1 490.4,850.1 485.1,839.6 495.6,831.7 508.7,826.5 516.6,818.6 519.2,810.7 516.6,800.2 514.0,792.4 519.2,779.2 535.0,768.7 537.6,755.6 540.2,739.9 553.4,734.6 569.1,729.4 582.2,721.5" fill="#830c0c" stroke="#8a4a4a" stroke-opacity="0.8" stroke-width="0.8"/>
<polygon points="558.8,485.2 572.6,483.9 583.6,485.2 594.7,482.5 605.7,493.5 614.0,504.6 622.3,515.6 627.8,523.9 622.3,535.0 614.0,543.3 605.7,551.5 594.7,557.1 586.4,551.5 578.1,546.0 569.8,540.5 561.5,532.2 556.0,521.2 556.0,501.8" fill="#f14f4f" stroke="#8a4a4a" stroke-opacity="0.8" stroke-width="0.8"/>
<polygon points="506.1,692.9 523.8,684.1 541.4,675.2 552.5,662.0 560.0,659.8 560.0,740.0 492.8,740.0 495.0,726.1 503.9,708.4" fill="#ee2222" stroke="#8a4a4a" stroke-opacity="0.8" stroke-width="0.8"/>
<polygon points="285.5,572.1 300.9,571.0 305.4,578.7 338.5,577.6 345.1,578.7 367.2,574.3 376.1,578.7 376.1,596.4 367.2,601.9 347.3,603.0 336.3,608.6 314.2,614.5 296.5,613.0 293.2,608.6 289.9,603.0 285.5,596.4" fill="#f14f4f" stroke="#8a4a4a" stroke-opacity="0.8" stroke-width="0.8"/>
<polygon points="197.9,235.1 201.4,241.3 206.3,243.1 211.8,247.3 217.8,253.3 223.1,259.9 226.6,267.2 229.7,273.8 232.8,281.1 237.2,292.6 235.0,298.1 229.5,304.1 224.0,310.7 218.5,318.0 213.4,321.3 210.7,315.8 212.0,307.0 210.3,299.2 207.4,288.2 206.3,281.1 202.3,281.5 201.0,289.3 199.7,297.5 196.6,295.9 194.8,289.3 193.5,283.8 188.6,283.8 185.3,280.4 185.3,270.5 186.9,261.7 185.3,255.5 189.7,250.6 193.5,244.0" fill="#ee2222" stroke="#8a4a4a" stroke-opacity="0.8" stroke-width="0.8"/>
<polygon points="514.7,770.0 560.0,770.0 560.0,811.4 547.8,805.9 531.3,811.4 514.7,819.7 503.6,811.4 509.2,792.1" fill="#830c0c" stroke="#8a4a4a" stroke-opacity="0.8" stroke-width="0.8"/>
<polygon points="353.5,453.5 370.1,452.1 383.9,456.2 395.0,463.1 393.6,471.4 386.7,478.3 385.3,493.5 381.2,507.3 383.9,518.4 381.2,529.4 377.0,534.4 370.1,529.4 359.1,523.9 348.0,518.4 345.2,512.9 353.5,504.6 363.2,496.3 368.7,488.0 364.6,479.7 359.1,474.2 363.2,463.1 356.3,459.0" fill="#ee2222" stroke="#8a4a4a" stroke-opacity="0.8" stroke-width="0.8"/>
<polygon points="556.0,813.4 577.0,797.6 590.1,795.0 587.5,808.1 579.6,821.2 571.7,837.0 561.2,852.7 550.7,868.5 540.2,880.0 516.6,880.0 529.7,860.6 542.9,847.5 550.7,831.7" fill="#ee2222" stroke="#8a4a4a" stroke-opacity="0.8" stroke-width="0.8"/>
<polygon points="365.4,452.6 376.2,452.6 387.0,454.4 394.1,459.8 395.9,467.0 390.6,472.4 385.2,477.7 383.4,486.7 385.2,499.3 383.4,513.7 379.8,526.2 374.4,531.6 358.2,526.2 347.5,520.8 343.9,513.7 349.3,506.5 358.2,501.1 363.6,495.7 367.2,488.5 365.4,477.7 369.0,470.6 365.4,461.6" fill="#ee2222" stroke="#8a4a4a" stroke-opacity="0.8" stroke-width="0.8"/>
<polygon points="435.4,708.4 481.8,708.4 492.8,715.0 492.8,740.0 430.9,740.0 433.1,721.7" fill="#ee2222" stroke="#8a4a4a" stroke-opacity="0.8" stroke-width="0.8"/>
<polygon points="339.4,405.9 349.3,403.2 361.8,402.3 364.5,393.3 368.1,388.0 371.7,391.5 374.4,402.3 383.4,405.9 386.1,413.1 387.9,422.1 390.6,431.1 388.8,440.0 365.4,440.0 349.3,438.2 342.1,431.1 339.4,423.9 342.1,416.7" fill="#ee2222" stroke="#8a4a4a" stroke-opacity="0.8" stroke-width="0.8"/>
<polygon points="462.2,781.0 476.0,772.8 514.7,770.0 514.7,786.6 503.6,797.6 498.1,814.2 481.5,811.4 465.0,803.1 459.4,794.9" fill="#ee2222" stroke="#8a4a4a" stroke-opacity="0.8" stroke-width="0.8"/>
<polygon points="121.0,495.2 137.6,491.1 159.7,489.7 162.5,500.8 170.8,511.8 176.3,522.9 173.5,533.9 162.5,536.7 151.4,531.2 143.1,525.6 132.1,520.1 122.4,511.8" fill="#f14f4f" stroke="#8a4a4a" stroke-opacity="0.8" stroke-width="0.8"/>
<polygon points="412.5,368.6 417.5,363.6 422.4,364.9 428.6,366.7 433.6,365.5 439.8,366.7 447.3,366.1 449.8,359.9 451.0,352.4 452.3,347.5 457.2,349.9 463.5,349.3 468.4,348.7 474.6,349.9 480.9,350.6 485.8,352.4 486.5,354.9 479.6,357.4 472.2,361.1 464.7,364.9 457.2,368.6 449.8,372.9 446.1,376.1 442.3,381.0 439.8,386.0 446.1,383.5 452.3,383.5 458.5,386.0 459.1,392.2 458.5,397.2 461.0,400.9 453.5,403.4 446.1,407.1 441.1,409.6 438.6,404.6 438.6,398.4 437.3,393.5 432.4,389.7 428.6,387.2 427.4,383.5 421.2,383.5 415.0,383.5 412.5,377.3" fill="#830c0c" stroke="#8a4a4a" stroke-opacity="0.8" stroke-width="0.8"/>
<polygon points="216.0,806.6 229.8,798.3 227.1,812.1 218.8,831.4 213.3,850.8 213.3,870.1 205.0,881.2 191.2,883.9 188.4,872.9 191.2,853.5 196.7,837.0 205.0,820.4" fill="#ee2222" stroke="#8a4a4a" stroke-opacity="0.8" stroke-width="0.8"/>
<polygon points="484.3,839.1 498.1,830.8 514.7,819.7 531.3,811.4 547.8,805.9 553.4,817.0 542.3,830.8 525.7,841.8 509.2,850.1 498.1,855.6 489.8,850.1" fill="#830c0c" stroke="#8a4a4a" stroke-opacity="0.8" stroke-width="0.8"/>
<polygon points="533.9,595.7 547.7,593.0 558.8,586.1 561.5,595.7 564.3,609.6 567.1,623.4 564.3,630.0 525.6,630.0 522.9,620.6 528.4,609.6" fill="#830c0c" stroke="#8a4a4a" stroke-opacity="0.8" stroke-width="0.8"/>
<polygon points="498.1,861.2 514.7,850.1 531.3,841.8 542.3,833.5 553.4,822.5 560.0,817.0 560.0,833.5 547.8,850.1 534.0,863.9 520.2,872.2 506.4,880.5 503.6,872.2" fill="#ee2222" stroke="#8a4a4a" stroke-opacity="0.8" stroke-width="0.8"/>
<polygon points="426.4,783.0 440.2,780.2 451.3,791.3 459.6,802.3 462.3,820.0 423.6,820.0 420.9,796.8" fill="#830c0c" stroke="#8a4a4a" stroke-opacity="0.8" stroke-width="0.8"/>
<polygon points="305.2,465.9 317.6,460.4 331.4,456.2 345.2,457.6 349.4,464.5 345.2,475.6 352.2,485.2 345.2,489.4 337.0,482.5 328.7,490.8 317.6,492.2 308.0,482.5" fill="#ee2222" stroke="#8a4a4a" stroke-opacity="0.8" stroke-width="0.8"/>
<polygon points="226.0,520.1 239.8,518.7 253.6,522.9 259.2,536.7 256.4,550.5 248.1,561.5 237.1,558.8 226.0,550.5 221.9,533.9" fill="#f14f4f" stroke="#8a4a4a" stroke-opacity="0.8" stroke-width="0.8"/>
<polygon points="306.2,465.2 311.5,459.8 325.9,458.0 329.5,454.4 334.9,456.2 343.9,458.0 349.3,461.6 345.7,470.6 342.1,477.7 351.1,486.7 354.6,492.1 349.3,493.9 342.1,486.7 336.7,484.9 331.3,492.1 324.1,492.1 316.9,486.7 309.8,479.5" fill="#ee2222" stroke="#8a4a4a" stroke-opacity="0.8" stroke-width="0.8"/>
<polygon points="429.1,919.2 448.4,916.4 459.4,924.7 456.7,941.3 448.4,952.3 431.8,957.8 423.5,946.8 423.5,930.2" fill="#ee2222" stroke="#8a4a4a" stroke-opacity="0.8" stroke-width="0.8"/>
<polygon points="487.1,548.3 502.6,543.9 513.6,554.9 524.7,568.2 526.9,581.4 515.9,583.6 502.6,577.0 489.3,572.6 487.1,561.5" fill="#f14f4f" stroke="#8a4a4a" stroke-opacity="0.8" stroke-width="0.8"/>
<polygon points="358.4,622.9 371.7,620.7 384.9,620.7 396.0,620.7 400.4,629.6 402.6,638.4 407.0,647.2 404.8,653.9 398.2,645.0 391.5,642.8 380.5,642.8 369.4,642.8 358.4,640.6" fill="#ee2222" stroke="#8a4a4a" stroke-opacity="0.8" stroke-width="0.8"/>
<polygon points="416.4,550.5 427.5,543.9 438.5,535.0 445.1,530.6 454.0,532.8 462.8,541.7 471.7,550.5 478.3,561.5 478.3,572.6 471.7,570.4 462.8,559.3 454.0,550.5 442.9,546.1 431.9,554.9 420.8,559.3 416.4,557.1" fill="#f14f4f" stroke="#8a4a4a" stroke-opacity="0.8" stroke-width="0.8"/>
<polygon points="475.1,692.9 488.4,681.9 497.2,673.0 506.1,677.5 510.5,690.7 503.9,704.0 492.8,712.8 477.3,710.6" fill="#ee2222" stroke="#8a4a4a" stroke-opacity="0.8" stroke-width="0.8"/>
<polygon points="362.8,598.6 373.9,596.4 389.3,594.2 402.6,597.5 404.8,605.2 400.4,609.7 389.3,616.3 376.1,620.7 367.2,625.1 362.8,616.3" fill="#f14f4f" stroke="#8a4a4a" stroke-opacity="0.8" stroke-width="0.8"/>
<polygon points="253.9,123.5 269.1,122.1 282.9,120.7 288.4,127.6 288.4,135.9 282.9,141.4 271.8,152.5 260.8,155.2 255.2,141.4" fill="#f14f4f" stroke="#8a4a4a" stroke-opacity="0.8" stroke-width="0.8"/>
<polygon points="357.3,636.6 373.9,631.0 390.5,622.8 401.5,631.0 407.1,650.4 398.8,653.1 385.0,642.1 368.4,644.9 360.1,642.1" fill="#ee2222" stroke="#8a4a4a" stroke-opacity="0.8" stroke-width="0.8"/>
<polygon points="357.3,691.8 365.6,689.1 373.9,697.3 385.0,702.9 393.3,708.4 396.0,725.0 387.7,725.0 373.9,713.9 360.1,711.2 354.6,702.9" fill="#ee2222" stroke="#8a4a4a" stroke-opacity="0.8" stroke-width="0.8"/>
<polygon points="420.9,667.0 434.7,664.2 445.7,667.0 443.0,689.1 434.7,700.1 423.6,691.8 418.1,675.2" fill="#ee2222" stroke="#8a4a4a" stroke-opacity="0.8" stroke-width="0.8"/>
<polygon points="220.7,112.4 230.4,111.0 241.4,116.6 252.5,123.5 253.9,135.9 241.4,137.3 230.4,138.7 222.1,133.1" fill="#f48383" stroke="#8a4a4a" stroke-opacity="0.8" stroke-width="0.8"/>
<polygon points="349.3,438.2 390.6,438.2 390.6,454.4 349.3,454.4" fill="#ee2222" stroke="#8a4a4a" stroke-opacity="0.8" stroke-width="0.8"/>
<polygon points="466.3,670.8 475.1,659.8 484.0,653.1 492.8,664.2 498.3,675.2 488.4,679.7 477.3,688.5 468.5,681.9" fill="#f6a9a9" stroke="#8a4a4a" stroke-opacity="0.8" stroke-width="0.8"/>
<polygon points="418.0,825.2 431.8,822.5 440.1,833.5 440.1,852.9 426.3,855.6 419.4,841.8" fill="#f6a9a9" stroke="#8a4a4a" stroke-opacity="0.8" stroke-width="0.8"/>
<polygon points="155.2,886.7 169.1,885.3 182.9,886.7 182.9,900.5 180.1,911.5 178.7,928.1 176.0,928.1 174.6,908.8 166.3,903.3 158.0,895.0" fill="#ee2222" stroke="#8a4a4a" stroke-opacity="0.8" stroke-width="0.8"/>
<polygon points="450.8,686.3 466.3,684.1 475.1,692.9 475.1,708.4 457.5,708.4 450.8,699.6" fill="#f48383" stroke="#8a4a4a" stroke-opacity="0.8" stroke-width="0.8"/>
<polygon points="329.7,760.9 340.8,758.1 349.1,769.2 349.1,785.7 340.8,791.3 332.5,785.7" fill="#ee2222" stroke="#8a4a4a" stroke-opacity="0.8" stroke-width="0.8"/>
<polygon points="248.1,605.7 253.6,600.2 259.2,605.7 266.1,607.1 263.3,616.8 267.5,622.3 259.2,625.1 253.6,630.6 245.4,626.5 239.8,623.7 244.0,616.8" fill="#830c0c" stroke="#8a4a4a" stroke-opacity="0.8" stroke-width="0.8"/>
<polygon points="224.9,224.3 241.4,221.5 252.5,229.8 255.2,246.4 244.2,243.6 233.1,238.1 226.2,232.6" fill="#f14f4f" stroke="#8a4a4a" stroke-opacity="0.8" stroke-width="0.8"/>
<polygon points="230.4,153.9 244.2,152.5 252.5,159.4 255.2,166.3 244.2,177.3 235.9,174.6 231.8,166.3" fill="#f14f4f" stroke="#8a4a4a" stroke-opacity="0.8" stroke-width="0.8"/>
<polygon points="235.9,134.5 249.7,135.9 255.2,144.2 260.8,155.2 255.2,163.5 247.0,155.2 238.7,147.0" fill="#fad2d2" stroke="#8a4a4a" stroke-opacity="0.8" stroke-width="0.8"/>
<polygon points="120.8,281.0 132.9,279.5 148.1,285.6 157.2,291.7 154.2,297.7 142.0,296.2 129.9,290.1 122.3,285.6" fill="#ffffff" stroke="#8a4a4a" stroke-opacity="0.8" stroke-width="0.8"/>
<polygon points="387.2,389.0 394.4,387.2 399.8,394.4 406.9,399.8 408.7,407.0 401.5,410.6 392.6,410.6 387.2,407.0" fill="#ee2222" stroke="#8a4a4a" stroke-opacity="0.8" stroke-width="0.8"/>
<polygon points="387.0,389.8 394.1,388.0 401.3,396.9 408.5,402.3 406.7,407.7 397.7,411.3 390.6,411.3 387.0,402.3" fill="#ee2222" stroke="#8a4a4a" stroke-opacity="0.8" stroke-width="0.8"/>
<polygon points="432.0,624.0 440.9,626.6 444.3,631.0 447.6,636.5 440.9,638.7 434.3,642.0 431.0,645.4 429.9,652.0 432.1,658.6 438.7,661.9 445.4,664.1 445.4,648.7 446.0,640.0 442.0,628.0" fill="#f14f4f" stroke="#8a4a4a" stroke-opacity="0.8" stroke-width="0.8"/>
<polygon points="360.6,691.4 369.4,687.0 373.9,695.9 376.1,710.0 358.4,710.0" fill="#ee2222" stroke="#8a4a4a" stroke-opacity="0.8" stroke-width="0.8"/>
<polygon points="451.6,353.7 457.2,351.8 464.7,351.2 474.6,351.8 480.9,352.4 477.1,355.5 469.7,359.3 462.2,363.0 454.8,366.7 449.8,370.5 448.5,364.9 449.8,358.6" fill="#f6a9a9" stroke="#8a4a4a" stroke-opacity="0.8" stroke-width="0.8"/>
<polygon points="228.5,399.0 236.0,398.5 242.0,401.0 246.5,408.0 247.0,415.5 240.0,417.0 232.0,417.0 228.5,411.0" fill="#ffffff" stroke="#8a4a4a" stroke-opacity="0.8" stroke-width="0.8"/>
<polygon points="439.8,386.0 442.3,381.0 446.1,376.1 451.0,372.9 457.2,369.8 464.7,367.3 467.2,369.8 468.4,376.1 464.7,381.0 457.2,383.5 452.3,383.5 446.1,383.5" fill="#fad2d2" stroke="#8a4a4a" stroke-opacity="0.8" stroke-width="0.8"/>
<polygon points="455.4,402.5 459.9,399.8 464.4,403.4 469.8,410.6 475.2,417.7 473.4,424.9 468.9,424.9 464.4,417.7 459.0,410.6" fill="#ffffff" stroke="#8a4a4a" stroke-opacity="0.8" stroke-width="0.8"/>
<polygon points="221.5,799.6 229.8,796.8 227.1,810.6 221.5,820.0 210.5,820.0 216.0,810.6" fill="#ee2222" stroke="#8a4a4a" stroke-opacity="0.8" stroke-width="0.8"/>
<polygon points="420.3,664.9 430.0,660.5 430.0,682.6 422.5,682.6" fill="#f14f4f" stroke="#8a4a4a" stroke-opacity="0.8" stroke-width="0.8"/>
<polygon points="476.6,432.7 486.5,431.6 493.1,440.4 498.7,444.8 487.6,445.9 482.1,441.5 476.6,437.1" fill="#ffffff" stroke="#8a4a4a" stroke-opacity="0.8" stroke-width="0.8"/>
</g>
<polyline points="207.5,99.0 213.2,104.9 218.1,111.5 219.8,118.1 221.4,123.1 218.1,128.0 214.8,133.0 211.5,138.0 209.8,143.0 209.8,149.6 208.2,156.2 213.2,162.9 219.8,166.2 226.4,164.5 229.7,169.5 234.7,176.1 239.7,182.8 246.3,176.1 252.9,171.2 259.6,166.2 266.2,169.5 272.8,172.8 279.5,174.5 288.0,175.0 299.4,174.6 307.7,177.3 310.5,182.9 305.9,186.0 302.6,192.7 296.0,202.6 289.3,212.6 284.4,222.5 286.0,235.8 289.3,252.4 292.7,272.3 295.3,274.6" fill="none" stroke="#fff" stroke-width="2.6" stroke-linejoin="round" stroke-linecap="round" filter="url(#sh2)"/>
<polyline points="218.0,319.0 226.0,308.0 233.0,300.0 236.3,294.0 269.4,280.0 295.3,274.6 302.6,270.6 335.7,259.0 368.9,247.4 376.0,244.0" fill="none" stroke="#fff" stroke-width="2.6" stroke-linejoin="round" stroke-linecap="round" filter="url(#sh2)"/>
<polyline points="88.0,328.0 99.1,332.0 104.9,335.9 114.7,341.8 122.5,347.7 130.3,353.5 138.1,357.4 140.0,359.7 143.3,354.7 146.6,349.7 153.3,348.1 159.9,346.4 164.9,343.1 161.5,339.8 158.2,334.8 156.6,328.2 154.9,323.2 159.9,321.5 168.2,319.9 173.2,318.2 176.5,321.5 181.4,326.5 188.1,328.2 194.7,331.5 206.3,329.8 212.9,331.5 217.9,336.5 217.9,343.1 214.6,349.7 212.9,356.4 209.6,363.0 204.6,368.0 204.6,374.6 203.0,382.9 204.6,391.2 209.6,396.1 219.6,396.1 226.2,392.8 229.5,387.8 227.8,377.9" fill="none" stroke="#fff" stroke-width="2.6" stroke-linejoin="round" stroke-linecap="round" filter="url(#sh2)"/>
<polyline points="218.0,319.0 219.6,323.2 226.2,328.2 231.2,333.2 231.2,341.4 227.8,348.0 229.5,353.0 236.1,356.4 237.8,363.0 236.1,369.6 232.8,374.6 227.8,377.9 232.8,381.2 244.4,386.2 249.9,388.4 263.1,392.8 274.2,393.9 283.0,395.0 287.5,388.4 294.1,375.1 300.7,364.1 307.3,364.1 314.0,359.7 322.8,359.7 333.9,359.7 344.9,355.2 351.5,359.7 360.4,364.1 367.0,366.3 375.9,364.1 384.7,364.1 390.0,361.9" fill="none" stroke="#fff" stroke-width="2.6" stroke-linejoin="round" stroke-linecap="round" filter="url(#sh2)"/>
<polyline points="390.0,361.9 400.0,363.2 404.1,364.6 408.3,363.2 409.7,356.3 411.0,345.2 412.4,335.6 413.8,325.9" fill="none" stroke="#fff" stroke-width="2.6" stroke-linejoin="round" stroke-linecap="round" filter="url(#sh2)"/>
<polyline points="270.0,582.0 281.0,583.1 289.9,574.3 300.9,572.1 303.1,578.7 314.2,578.7 325.2,578.7 336.3,579.8 340.7,584.3 336.3,586.5 325.2,586.5 314.2,588.7 307.6,594.2 303.1,600.8 296.5,605.2 294.3,609.7 300.9,614.1 314.2,614.1 327.5,611.9 336.3,607.5 345.1,603.0 347.3,603.0 358.4,601.9 367.2,600.8 373.9,598.6" fill="none" stroke="#fff" stroke-width="2.6" stroke-linejoin="round" stroke-linecap="round" filter="url(#sh2)"/>
<polyline points="382.7,550.0 373.9,563.3 369.4,572.1 378.3,576.5 379.4,583.1 376.1,592.0 373.9,598.6 371.7,603.0 365.0,604.1 362.8,609.7 365.0,616.3 367.2,625.1 373.9,625.1 378.3,620.7 384.9,616.3 396.0,611.9 402.6,607.5 404.8,598.6 404.8,592.0" fill="none" stroke="#fff" stroke-width="2.6" stroke-linejoin="round" stroke-linecap="round" filter="url(#sh2)"/>
<polyline points="404.8,596.4 415.9,600.8 422.5,603.0 424.7,609.7 420.3,616.3 422.5,620.7 430.0,622.9" fill="none" stroke="#fff" stroke-width="2.6" stroke-linejoin="round" stroke-linecap="round" filter="url(#sh2)"/>
<polyline points="345.1,603.0 342.9,607.5 338.5,616.3 334.1,627.3 329.7,638.4 325.2,649.4 323.0,660.5 320.8,669.3 316.4,673.8 309.8,669.3 303.1,667.1 296.5,671.5 289.9,673.8 285.5,667.1 278.8,662.7 270.0,660.5" fill="none" stroke="#fff" stroke-width="2.6" stroke-linejoin="round" stroke-linecap="round" filter="url(#sh2)"/>
<polyline points="522.2,448.3 512.5,447.7 501.4,447.0 490.4,445.6 483.5,441.4 476.0,434.0 471.0,430.0 467.6,435.5 461.0,438.0 458.4,442.0 454.0,453.3 449.6,459.9 436.3,461.0 427.5,464.3 420.8,468.7 418.6,477.6 414.2,486.4 403.1,490.8 398.7,497.5 403.1,506.3 400.9,515.1 396.5,524.0 392.1,532.8 387.7,541.7 383.3,550.5 378.8,559.3 374.4,568.2 372.5,575.0 375.6,581.9 379.4,583.1" fill="none" stroke="#fff" stroke-width="2.6" stroke-linejoin="round" stroke-linecap="round" filter="url(#sh2)"/>
<polyline points="204.5,410.0 210.0,419.5 215.6,422.3 221.1,426.4 226.6,432.0 230.8,440.2 234.9,447.2 239.1,452.7 243.2,458.2 247.3,465.0 250.9,475.9 259.2,484.2 267.5,492.5 275.7,498.0 281.3,498.0 290.0,499.0 301.0,503.0 309.3,512.0 320.4,521.2 328.7,532.2 334.2,546.0 345.2,554.3 358.4,558.8 371.7,554.4 378.4,554.3" fill="none" stroke="#fff" stroke-width="2.6" stroke-linejoin="round" stroke-linecap="round" filter="url(#sh2)"/>
<polyline points="172.0,612.0 176.3,608.5 184.6,597.5 201.2,594.7 215.0,586.4 226.0,580.9 234.3,572.6 242.6,564.3 248.1,569.8 250.9,580.9 259.2,583.6 267.5,578.1 270.0,582.0" fill="none" stroke="#fff" stroke-width="2.6" stroke-linejoin="round" stroke-linecap="round" filter="url(#sh2)"/>
<polyline points="188.4,661.4 199.4,661.4 210.5,664.2 218.8,667.0 227.1,672.5 224.3,683.5 221.5,694.6 216.0,700.1 213.3,705.6 221.5,708.4 229.8,711.2 232.6,722.2 235.4,727.7 229.8,730.5 218.8,727.7 207.7,725.0 205.0,736.0 202.2,747.1 205.0,758.1 210.5,760.9 216.0,769.2 213.3,780.2 205.0,788.5 199.4,796.8" fill="none" stroke="#fff" stroke-width="2.6" stroke-linejoin="round" stroke-linecap="round" filter="url(#sh2)"/>
<polyline points="227.1,672.5 238.1,675.2 249.2,680.8 257.5,683.5 263.0,675.2 268.5,664.2 276.8,661.4 282.3,667.0 290.6,669.7 300.0,664.2" fill="none" stroke="#fff" stroke-width="2.6" stroke-linejoin="round" stroke-linecap="round" filter="url(#sh2)"/>
<polyline points="430.0,623.0 440.9,626.6 444.3,631.0 447.6,636.5 440.9,638.7 434.3,642.0 431.0,645.4 429.9,652.0 432.1,658.6 438.7,661.9 445.4,664.1 449.8,667.5 447.6,671.9 445.4,678.5 443.1,687.3 440.9,694.0 439.8,700.0 434.7,705.6 426.4,725.0 420.9,738.8 415.4,752.6 412.6,766.4 418.1,774.7 423.6,771.9 434.7,766.4 445.7,777.5 454.0,785.7 459.6,796.8" fill="none" stroke="#fff" stroke-width="2.6" stroke-linejoin="round" stroke-linecap="round" filter="url(#sh2)"/>
<polyline points="445.4,664.1 445.4,657.5 445.4,648.7 449.8,646.5 456.4,647.6 463.0,649.8 468.6,645.4 474.1,637.6 478.5,639.8 482.9,644.3 487.3,643.1 490.0,642.0 497.3,636.6" fill="none" stroke="#fff" stroke-width="2.6" stroke-linejoin="round" stroke-linecap="round" filter="url(#sh2)"/>
<polyline points="418.0,770.0 412.5,786.6 401.4,800.4 387.6,811.4 376.6,822.5 371.0,836.3 368.3,852.9 371.0,866.7 373.8,886.0 371.0,897.1 362.8,899.8 360.0,899.8" fill="none" stroke="#fff" stroke-width="2.6" stroke-linejoin="round" stroke-linecap="round" filter="url(#sh2)"/>
<polyline points="456.7,805.9 470.5,811.4 484.3,817.0 498.1,819.7 489.8,833.5 481.5,841.8 487.1,850.1 498.1,852.9 506.4,850.1 514.7,844.6" fill="none" stroke="#fff" stroke-width="2.6" stroke-linejoin="round" stroke-linecap="round" filter="url(#sh2)"/>
<polyline points="475.2,639.3 497.3,636.6 511.2,642.1 525.0,644.9 536.0,650.4 544.3,658.7 549.0,664.0" fill="none" stroke="#fff" stroke-width="2.6" stroke-linejoin="round" stroke-linecap="round" filter="url(#sh2)"/>
<polyline points="545.0,665.5 538.4,672.1 529.6,680.9 522.9,687.6 517.8,693.3 507.9,706.5 499.6,718.1 493.0,726.4 486.4,738.0 483.0,746.3 479.7,752.9 474.8,759.6 473.1,766.2 469.8,772.8 464.8,779.5 459.8,786.1 456.5,792.7 454.9,799.3 458.2,806.0 463.2,809.3 473.1,811.0 484.7,812.6 493.0,814.3" fill="none" stroke="#fff" stroke-width="2.6" stroke-linejoin="round" stroke-linecap="round" filter="url(#sh2)"/>
<polyline points="598.0,704.4 582.2,720.2 569.1,728.1 553.4,733.3 540.2,738.6 536.3,753.0 535.0,768.7 520.6,777.9 515.3,792.4 517.9,802.9 517.9,812.0 508.7,823.9 495.6,831.7 483.8,839.6 489.1,850.6" fill="none" stroke="#fff" stroke-width="2.6" stroke-linejoin="round" stroke-linecap="round" filter="url(#sh2)"/>
<polyline points="199.4,796.8 193.9,798.3 191.2,806.6 182.9,812.1 174.6,814.9 171.8,823.1 174.6,837.0 185.6,845.2 188.4,853.5 185.6,867.3 182.9,878.4 180.1,883.9 169.1,886.7 158.0,889.4" fill="none" stroke="#fff" stroke-width="2.6" stroke-linejoin="round" stroke-linecap="round" filter="url(#sh2)"/>
<polyline points="160.0,432.0 165.0,430.0 170.0,429.2 178.3,429.2 183.8,425.0 188.0,419.5 193.5,416.8 200.4,416.5 204.5,410.0 201.8,404.3 205.9,398.0 209.6,396.1" fill="none" stroke="#fff" stroke-width="2.6" stroke-linejoin="round" stroke-linecap="round" filter="url(#sh2)"/>
<polyline points="228.5,399.0 236.0,398.5 242.0,401.0 246.5,408.0 247.0,415.5 240.0,417.0 232.0,417.0 228.5,411.0 228.5,399.0" fill="none" stroke="#fff" stroke-width="2.6" stroke-linejoin="round" stroke-linecap="round" filter="url(#sh2)"/>
<polyline points="430.0,769.5 438.3,764.5 446.6,772.8 454.9,782.8 457.5,788.0" fill="none" stroke="#fff" stroke-width="2.6" stroke-linejoin="round" stroke-linecap="round" filter="url(#sh2)"/>
<use href="#ol" fill="none" stroke="#fff" stroke-width="2.4" stroke-linejoin="round"/>
</svg><svg class="a" style="left:0;top:0" width="724" height="1024">
<g font-family="'DejaVu Sans',sans-serif" font-weight="bold" font-size="11" text-anchor="middle">
<text x="312.4" y="158.0" fill="#222" stroke="#222" stroke-width="2.2" stroke-linejoin="round" opacity="0.75">CC Jura Nord</text>
<text x="311.5" y="157" fill="#fff" stroke="#262626" stroke-width="2" stroke-linejoin="round" paint-order="stroke">CC Jura Nord</text>
<text x="311.5" y="157" fill="#fff" stroke="#fff" stroke-width="0.3">CC Jura Nord</text>
<text x="322.4" y="298.0" fill="#222" stroke="#222" stroke-width="2.2" stroke-linejoin="round" opacity="0.75">CC du Val d&#39;Amour</text>
<text x="321.5" y="297" fill="#fff" stroke="#262626" stroke-width="2" stroke-linejoin="round" paint-order="stroke">CC du Val d&#39;Amour</text>
<text x="321.5" y="297" fill="#fff" stroke="#fff" stroke-width="0.3">CC du Val d&#39;Amour</text>
<text x="120.1" y="370.0" fill="#222" stroke="#222" stroke-width="2.2" stroke-linejoin="round" opacity="0.75">CC de la Plaine</text>
<text x="119.2" y="369" fill="#fff" stroke="#262626" stroke-width="2" stroke-linejoin="round" paint-order="stroke">CC de la Plaine</text>
<text x="119.2" y="369" fill="#fff" stroke="#fff" stroke-width="0.3">CC de la Plaine</text>
<text x="123.9" y="381.5" fill="#222" stroke="#222" stroke-width="2.2" stroke-linejoin="round" opacity="0.75">Jurassienne</text>
<text x="123" y="380.5" fill="#fff" stroke="#262626" stroke-width="2" stroke-linejoin="round" paint-order="stroke">Jurassienne</text>
<text x="123" y="380.5" fill="#fff" stroke="#fff" stroke-width="0.3">Jurassienne</text>
<text x="377.2" y="439.8" fill="#222" stroke="#222" stroke-width="2.2" stroke-linejoin="round" opacity="0.75">CC Arbois, Poligny,</text>
<text x="376.3" y="438.8" fill="#fff" stroke="#262626" stroke-width="2" stroke-linejoin="round" paint-order="stroke">CC Arbois, Poligny,</text>
<text x="376.3" y="438.8" fill="#fff" stroke="#fff" stroke-width="0.3">CC Arbois, Poligny,</text>
<text x="381.6" y="450.5" fill="#222" stroke="#222" stroke-width="2.2" stroke-linejoin="round" opacity="0.75">Salins, Coeur du Jura</text>
<text x="380.7" y="449.5" fill="#fff" stroke="#262626" stroke-width="2" stroke-linejoin="round" paint-order="stroke">Salins, Coeur du Jura</text>
<text x="380.7" y="449.5" fill="#fff" stroke="#fff" stroke-width="0.3">Salins, Coeur du Jura</text>
<text x="222.1" y="518.0" fill="#222" stroke="#222" stroke-width="2.2" stroke-linejoin="round" opacity="0.75">CC Bresse Haute Seille</text>
<text x="221.2" y="517" fill="#fff" stroke="#262626" stroke-width="2" stroke-linejoin="round" paint-order="stroke">CC Bresse Haute Seille</text>
<text x="221.2" y="517" fill="#fff" stroke="#fff" stroke-width="0.3">CC Bresse Haute Seille</text>
<text x="547.9" y="544.0" fill="#222" stroke="#222" stroke-width="2.2" stroke-linejoin="round" opacity="0.75">CC Champagnole</text>
<text x="547" y="543" fill="#fff" stroke="#262626" stroke-width="2" stroke-linejoin="round" paint-order="stroke">CC Champagnole</text>
<text x="547" y="543" fill="#fff" stroke="#fff" stroke-width="0.3">CC Champagnole</text>
<text x="552.1" y="556.0" fill="#222" stroke="#222" stroke-width="2.2" stroke-linejoin="round" opacity="0.75">Nozeroy Jura</text>
<text x="551.2" y="555" fill="#fff" stroke="#262626" stroke-width="2" stroke-linejoin="round" paint-order="stroke">Nozeroy Jura</text>
<text x="551.2" y="555" fill="#fff" stroke="#fff" stroke-width="0.3">Nozeroy Jura</text>
<text x="261.1" y="644.0" fill="#222" stroke="#222" stroke-width="2.2" stroke-linejoin="round" opacity="0.75">CA ECLA</text>
<text x="260.2" y="643" fill="#fff" stroke="#262626" stroke-width="2" stroke-linejoin="round" paint-order="stroke">CA ECLA</text>
<text x="260.2" y="643" fill="#fff" stroke="#fff" stroke-width="0.3">CA ECLA</text>
<text x="212.5" y="757.0" fill="#222" stroke="#222" stroke-width="2.2" stroke-linejoin="round" opacity="0.75">CC Porte du Jura</text>
<text x="211.6" y="756" fill="#fff" stroke="#262626" stroke-width="2" stroke-linejoin="round" paint-order="stroke">CC Porte du Jura</text>
<text x="211.6" y="756" fill="#fff" stroke="#fff" stroke-width="0.3">CC Porte du Jura</text>
<text x="320.7" y="806.0" fill="#222" stroke="#222" stroke-width="2.2" stroke-linejoin="round" opacity="0.75">CC Terre d&#39;Emeraude</text>
<text x="319.8" y="805" fill="#fff" stroke="#262626" stroke-width="2" stroke-linejoin="round" paint-order="stroke">CC Terre d&#39;Emeraude</text>
<text x="319.8" y="805" fill="#fff" stroke="#fff" stroke-width="0.3">CC Terre d&#39;Emeraude</text>
<text x="498.9" y="720.0" fill="#222" stroke="#222" stroke-width="2.2" stroke-linejoin="round" opacity="0.75">CC la Grandvalliere</text>
<text x="498" y="719" fill="#fff" stroke="#262626" stroke-width="2" stroke-linejoin="round" paint-order="stroke">CC la Grandvalliere</text>
<text x="498" y="719" fill="#fff" stroke="#fff" stroke-width="0.3">CC la Grandvalliere</text>
<text x="540.4" y="760.0" fill="#222" stroke="#222" stroke-width="2.2" stroke-linejoin="round" opacity="0.75">CC du Haut-Jura</text>
<text x="539.5" y="759" fill="#fff" stroke="#262626" stroke-width="2" stroke-linejoin="round" paint-order="stroke">CC du Haut-Jura</text>
<text x="539.5" y="759" fill="#fff" stroke="#fff" stroke-width="0.3">CC du Haut-Jura</text>
<text x="543.6" y="771.5" fill="#222" stroke="#222" stroke-width="2.2" stroke-linejoin="round" opacity="0.75">(ARCADE)</text>
<text x="542.7" y="770.5" fill="#fff" stroke="#262626" stroke-width="2" stroke-linejoin="round" paint-order="stroke">(ARCADE)</text>
<text x="542.7" y="770.5" fill="#fff" stroke="#fff" stroke-width="0.3">(ARCADE)</text>
<text x="555.6" y="803.5" fill="#222" stroke="#222" stroke-width="2.2" stroke-linejoin="round" opacity="0.75">CC de la Station des</text>
<text x="554.7" y="802.5" fill="#fff" stroke="#262626" stroke-width="2" stroke-linejoin="round" paint-order="stroke">CC de la Station des</text>
<text x="554.7" y="802.5" fill="#fff" stroke="#fff" stroke-width="0.3">CC de la Station des</text>
<text x="558.9" y="815.0" fill="#222" stroke="#222" stroke-width="2.2" stroke-linejoin="round" opacity="0.75">Rousses-Haut Jura</text>
<text x="558" y="814" fill="#fff" stroke="#262626" stroke-width="2" stroke-linejoin="round" paint-order="stroke">Rousses-Haut Jura</text>
<text x="558" y="814" fill="#fff" stroke="#fff" stroke-width="0.3">Rousses-Haut Jura</text>
<text x="453.4" y="893.5" fill="#222" stroke="#222" stroke-width="2.2" stroke-linejoin="round" opacity="0.75">CC Haut-Jura</text>
<text x="452.5" y="892.5" fill="#fff" stroke="#262626" stroke-width="2" stroke-linejoin="round" paint-order="stroke">CC Haut-Jura</text>
<text x="452.5" y="892.5" fill="#fff" stroke="#fff" stroke-width="0.3">CC Haut-Jura</text>
<text x="458.9" y="905.0" fill="#222" stroke="#222" stroke-width="2.2" stroke-linejoin="round" opacity="0.75">Saint-Claude</text>
<text x="458" y="904" fill="#fff" stroke="#262626" stroke-width="2" stroke-linejoin="round" paint-order="stroke">Saint-Claude</text>
<text x="458" y="904" fill="#fff" stroke="#fff" stroke-width="0.3">Saint-Claude</text>
</g></svg><div class="a" style="font-family:'Liberation Sans',Arial,sans-serif;font-weight:bold;font-size:73px;line-height:1;color:#111;-webkit-text-stroke:1.1px #111;left:28px;top:6.7px" id="lj">j</div>
<div class="a" style="font-family:'Liberation Sans',Arial,sans-serif;font-weight:bold;font-size:73px;line-height:1;color:#111;-webkit-text-stroke:1.1px #111;left:48.8px;top:21.3px;transform-origin:0 0;transform:scaleX(1.03)" id="lu">u</div>
<div class="a" style="font-family:'Liberation Sans',Arial,sans-serif;font-weight:bold;font-size:73px;line-height:1;color:#111;-webkit-text-stroke:1.1px #111;left:19.8px;top:68.3px;transform-origin:0 0;transform:scaleX(1.15)" id="lr">r</div>
<div class="a" style="font-family:'Liberation Sans',Arial,sans-serif;font-weight:bold;font-size:73px;line-height:1;color:#111;-webkit-text-stroke:1.1px #111;left:52.6px;top:68.3px;transform-origin:0 0;transform:scaleX(1.01)" id="la">a</div>
<div class="a" style="left:101px;top:131px;transform-origin:0 0;transform:rotate(-90deg);font-size:11px;letter-spacing:4.25px;color:#111;font-family:'Liberation Sans',Arial,sans-serif" id="lt">TOURISME</div>
<div class="a" style="left:24px;top:140px;font-size:8.7px;color:#7d90a8;text-align:center;width:87px;line-height:10px">Comité Départemental<br>du Tourisme</div>
<div class="a" style="right:21.2px;top:26px;font-weight:bold;font-size:17.5px;line-height:20px;color:#7fa6d8;-webkit-text-stroke:0.5px #7fa6d8;transform-origin:100% 0;transform:scaleX(0.835)">LES CAPACITES D'ACCUEIL</div>
<div class="a" style="right:14.8px;top:50.2px;font-weight:bold;font-size:17.5px;line-height:20px;color:#7fa6d8;-webkit-text-stroke:0.5px #7fa6d8;transform-origin:100% 0;transform:scaleX(0.845)">TOURISTIQUE DU JURA</div>
<div class="a" style="right:15px;top:75px;font-weight:bold;font-size:11.4px;color:#111">(Novembre 2025)</div>
<div class="a" style="left:426px;top:114.5px;font-weight:bold;font-size:17.5px;color:#1e3a6a;-webkit-text-stroke:0.45px #1e3a6a;line-height:24px;letter-spacing:0.1px">TOTAL DES LITS TOURISTIQUES</div>
<div class="a" style="left:426px;top:138.5px;font-weight:bold;font-size:17.5px;color:#1e3a6a;-webkit-text-stroke:0.45px #1e3a6a;line-height:24px;letter-spacing:0.3px">EN RESIDENCES SECONDAIRES</div>
<div class="a" style="left:556px;top:208px;width:22px;height:13px;border:2px solid #fff;background:linear-gradient(#d8d8d8,#ececec);box-shadow:0 0 2px 1px rgba(0,0,0,0.25)"></div>
<div class="a" style="left:587px;top:209.5px;font-size:12.3px;color:#222">Limite EPCI</div>
<div class="a" style="left:556px;top:234.5px;font-size:13.65px;color:#222">Résidences secondaires</div>
<div class="a" style="left:556px;top:254.8px;width:23px;height:12.5px;border:1px solid #a8a8a8;background:#ffffff"></div>
<div class="a" style="left:590.8px;top:254.6px;font-size:13px;color:#222">Aucune</div>
<div class="a" style="left:556px;top:277.2px;width:23px;height:12.5px;border:1px solid #c9a0a0;background:#fdd5d5"></div>
<div class="a" style="left:590.8px;top:277.0px;font-size:13px;color:#222">1 à 20</div>
<div class="a" style="left:556px;top:299.8px;width:23px;height:12.5px;border:1px solid #c48a8a;background:#fab1b1"></div>
<div class="a" style="left:590.8px;top:299.6px;font-size:13px;color:#222">21 à 100</div>
<div class="a" style="left:556px;top:322.0px;width:23px;height:12.5px;border:1px solid #c06a6a;background:#f78888"></div>
<div class="a" style="left:590.8px;top:321.8px;font-size:13px;color:#222">101 à 250</div>
<div class="a" style="left:556px;top:344.5px;width:23px;height:12.5px;border:1px solid #bb4444;background:#f35252"></div>
<div class="a" style="left:590.8px;top:344.3px;font-size:13px;color:#222">251 à 500</div>
<div class="a" style="left:556px;top:366.9px;width:23px;height:12.5px;border:1px solid #b81c1c;background:#f02222"></div>
<div class="a" style="left:587.8px;top:366.7px;font-size:13px;color:#222">501 à 1000</div>
<div class="a" style="left:556px;top:389.5px;width:23px;height:12.5px;border:1px solid #5a0808;background:#850c0c"></div>
<div class="a" style="left:590.8px;top:389.3px;font-size:13px;color:#222">Plus de 1000</div>
<div class="a" style="left:62px;top:897px;font-size:10.5px;color:#111">N</div>
<svg class="a" style="left:0;top:0" width="140" height="1024"><polygon points="60.6,928.5 71,928.5 65.8,918.5" fill="#000" stroke="#000" stroke-width="1" stroke-linejoin="round"/><line x1="65.6" y1="928" x2="65.6" y2="958.3" stroke="#000" stroke-width="1"/><rect x="26.5" y="988.5" width="77" height="5.5" fill="#fff" stroke="#000" stroke-width="1"/><rect x="26.5" y="988.5" width="39" height="5.5" fill="#000"/></svg>
<div class="a" style="left:23.2px;top:967.6px;font-size:11px;color:#111">0</div>
<div class="a" style="left:61.6px;top:967.6px;font-size:11px;color:#111">5</div>
<div class="a" style="left:97.2px;top:967.6px;font-size:12px;color:#111">10 km</div>
<div class="a" style="font-family:'Liberation Sans',Arial,sans-serif;font-weight:bold;font-size:42px;line-height:1;color:#1a1a1a;-webkit-text-stroke:0.6px #1a1a1a;left:642px;top:878.6px" id="bj">j</div>
<div class="a" style="font-family:'Liberation Sans',Arial,sans-serif;font-weight:bold;font-size:42px;line-height:1;color:#1a1a1a;-webkit-text-stroke:0.6px #1a1a1a;left:653.9px;top:887.5px;transform-origin:0 0;transform:scaleX(1.066)" id="bu">u</div>
<div class="a" style="font-family:'Liberation Sans',Arial,sans-serif;font-weight:bold;font-size:42px;line-height:1;color:#1a1a1a;-webkit-text-stroke:0.6px #1a1a1a;left:637.3px;top:914px;transform-origin:0 0;transform:scaleX(1.2)" id="br">r</div>
<div class="a" style="font-family:'Liberation Sans',Arial,sans-serif;font-weight:bold;font-size:42px;line-height:1;color:#1a1a1a;-webkit-text-stroke:0.6px #1a1a1a;left:655.7px;top:914px;transform-origin:0 0;transform:scaleX(1.05)" id="ba">a</div>
<div class="a" style="left:655.6px;top:951.3px;font-family:'Liberation Sans',Arial,sans-serif;font-weight:bold;font-size:20px;line-height:1;color:#1a1a1a;-webkit-text-stroke:0.4px #1a1a1a">.<span style="margin-left:3.7px;letter-spacing:-1px">fr</span></div>
<div class="a" style="left:685px;top:968.5px;transform-origin:0 0;font-size:8.4px;line-height:1;color:#555;transform:rotate(-90deg) scaleX(0.62)">CONSEIL DÉPARTEMENTAL</div>
<div class="a" style="right:21px;top:979px;font-size:8.6px;color:#222;text-align:right;line-height:10px">© IGN - Fonds issus de la BDTOPO &nbsp;- CDT Jura 2025<br>Cartographie Conseil Départemental du Jura - PAT - SIG / Novembre 2025</div>
</body></html>
